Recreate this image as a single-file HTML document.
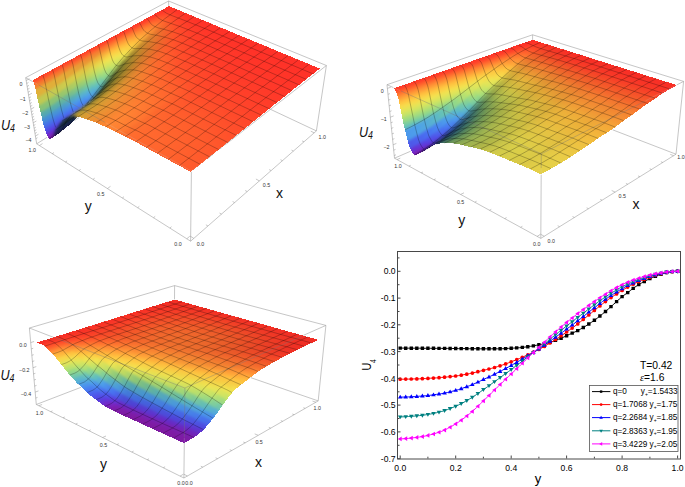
<!DOCTYPE html><html><head><meta charset="utf-8"><style>
html,body{margin:0;padding:0;background:#fff}
svg{display:block}
text{font-family:"Liberation Sans",sans-serif}
</style></head><body>
<svg width="685" height="487" viewBox="0 0 685 487">
<defs><filter id="bl" x="-5%" y="-5%" width="110%" height="110%" color-interpolation-filters="sRGB"><feGaussianBlur stdDeviation="1.4"/><feComponentTransfer><feFuncA type="linear" slope="50"/></feComponentTransfer><feComposite operator="in" in2="SourceAlpha"/><feGaussianBlur stdDeviation="0.5"/></filter></defs>
<g filter="url(#bl)"><g transform="scale(.1)" shape-rendering="crispEdges"><path fill="#ff3128" d="M1659 84l36-20-5-2-37 19z"/><path fill="#ff3128" d="M1664 86l36-20-5-2-36 20z"/><path fill="#ff3128" d="M1669 89l36-21-5-2-36 20z"/><path fill="#ff3228" d="M1674 92l36-22-5-2-36 21z"/><path fill="#ff3228" d="M1679 94l36-22-5-2-36 22z"/><path fill="#ff3328" d="M1684 97l37-23-6-2-36 22z"/><path fill="#ff3328" d="M1690 100l36-24-5-2-37 23z"/><path fill="#ff3428" d="M1695 103l36-24-5-3-36 24z"/><path fill="#ff3428" d="M1700 105l36-24-5-2-36 24z"/><path fill="#ff3528" d="M1705 108l36-25-5-2-36 24z"/><path fill="#ff3128" d="M1622 104l37-20-6-3-36 20z"/><path fill="#ff3528" d="M1710 110l36-25-5-2-36 25z"/><path fill="#ff3128" d="M1627 106l37-20-5-2-37 20z"/><path fill="#ff3528" d="M1715 112l37-25-6-2-36 25z"/><path fill="#ff3228" d="M1632 109l37-20-5-3-37 20z"/><path fill="#ff3528" d="M1721 115l36-26-5-2-37 25z"/><path fill="#ff3428" d="M1637 113l37-21-5-3-37 20z"/><path fill="#ff3528" d="M1726 117l36-26-5-2-36 26z"/><path fill="#ff3629" d="M1643 117l36-23-5-2-37 21z"/><path fill="#ff3528" d="M1731 119l36-25-5-3-36 26z"/><path fill="#ff3829" d="M1648 121l36-24-5-3-36 23z"/><path fill="#ff3a29" d="M1653 124l37-24-6-3-36 24z"/><path fill="#ff3528" d="M1736 121l36-25-5-2-36 25z"/><path fill="#ff3b29" d="M1658 128l37-25-5-3-37 24z"/><path fill="#ff3d29" d="M1663 131l37-26-5-2-37 25z"/><path fill="#ff3e29" d="M1669 133l36-25-5-3-37 26z"/><path fill="#ff3528" d="M1757 130l36-26-21-8-36 25z"/><path fill="#ff3e29" d="M1674 136l36-26-5-2-36 25z"/><path fill="#ff3128" d="M1585 124l37-20-5-3-37 20z"/><path fill="#ff3f29" d="M1679 139l36-27-5-2-36 26z"/><path fill="#ff3228" d="M1590 127l37-21-5-2-37 20z"/><path fill="#ff3f29" d="M1684 141l37-26-6-3-36 27z"/><path fill="#ff3328" d="M1595 131l37-22-5-3-37 21z"/><path fill="#ff3f29" d="M1689 143l37-26-5-2-37 26z"/><path fill="#ff3528" d="M1778 138l36-25-21-9-36 26z"/><path fill="#ff3729" d="M1600 136l37-23-5-4-37 22z"/><path fill="#ff3b29" d="M1606 141l37-24-6-4-37 23z"/><path fill="#ff4029" d="M1695 146l36-27-5-2-37 26z"/><path fill="#ff3e29" d="M1611 145l37-24-5-4-37 24z"/><path fill="#ff4029" d="M1700 148l36-27-5-2-36 27z"/><path fill="#ff412a" d="M1616 150l37-26-5-3-37 24z"/><path fill="#ff442a" d="M1621 154l37-26-5-4-37 26z"/><path fill="#ff462a" d="M1627 157l36-26-5-3-37 26z"/><path fill="#ff3528" d="M1799 147l36-25-21-9-36 25z"/><path fill="#ff482a" d="M1632 160l37-27-6-2-36 26z"/><path fill="#ff4029" d="M1721 157l36-27-21-9-36 27z"/><path fill="#ff492a" d="M1637 163l37-27-5-3-37 27z"/><path fill="#ff4a2a" d="M1642 166l37-27-5-3-37 27z"/><path fill="#ff4b2a" d="M1647 169l37-28-5-2-37 27z"/><path fill="#ff3128" d="M1548 144l37-20-5-3-38 21z"/><path fill="#ff4b2a" d="M1653 171l36-28-5-2-37 28z"/><path fill="#ff3228" d="M1553 148l37-21-5-3-37 20z"/><path fill="#ff3428" d="M1820 155l36-24-21-9-36 25z"/><path fill="#ff3f29" d="M1742 165l36-27-21-8-36 27z"/><path fill="#ff3528" d="M1558 152l37-21-5-4-37 21z"/><path fill="#ff4c2b" d="M1658 174l37-28-6-3-36 28z"/><path fill="#ff3a29" d="M1563 159l37-23-5-5-37 21z"/><path fill="#ff4029" d="M1568 165l38-24-6-5-37 23z"/><path fill="#ff4c2b" d="M1663 176l37-28-5-2-37 28z"/><path fill="#ff452a" d="M1574 170l37-25-5-4-38 24z"/><path fill="#ff4a2a" d="M1579 176l37-26-5-5-37 25z"/><path fill="#ff4e2b" d="M1584 180l37-26-5-4-37 26z"/><path fill="#ff512b" d="M1589 184l38-27-6-3-37 26z"/><path fill="#ff3428" d="M1842 164l36-25-22-8-36 24z"/><path fill="#ff542b" d="M1595 188l37-28-5-3-38 27z"/><path fill="#ff4c2b" d="M1684 184l37-27-21-9-37 28z"/><path fill="#ff3e29" d="M1763 173l36-26-21-9-36 27z"/><path fill="#ff562b" d="M1600 192l37-29-5-3-37 28z"/><path fill="#ff572c" d="M1605 194l37-28-5-3-37 29z"/><path fill="#ff582c" d="M1610 197l37-28-5-3-37 28z"/><path fill="#ff592c" d="M1616 200l37-29-6-2-37 28z"/><path fill="#ff3428" d="M1863 172l36-24-21-9-36 25z"/><path fill="#ff3128" d="M1510 165l38-21-6-2-37 20z"/><path fill="#ff4b2a" d="M1705 192l37-27-21-8-37 27z"/><path fill="#ff3d29" d="M1784 180l36-25-21-8-36 26z"/><path fill="#ff592c" d="M1621 203l37-29-5-3-37 29z"/><path fill="#ff3328" d="M1515 169l38-21-5-4-38 21z"/><path fill="#ff5a2c" d="M1626 205l37-29-5-2-37 29z"/><path fill="#ff3729" d="M1520 174l38-22-5-4-38 21z"/><path fill="#ff3d29" d="M1526 182l37-23-5-7-38 22z"/><path fill="#ff452a" d="M1531 190l37-25-5-6-37 23z"/><path fill="#ff4d2b" d="M1536 197l38-27-6-5-37 25z"/><path fill="#ff542b" d="M1542 203l37-27-5-6-38 27z"/><path fill="#ff592c" d="M1547 209l37-29-5-4-37 27z"/><path fill="#ff5e2c" d="M1552 213l37-29-5-4-37 29z"/><path fill="#ff612d" d="M1557 218l38-30-6-4-37 29z"/><path fill="#ff592c" d="M1647 214l37-30-21-8-37 29z"/><path fill="#ff3328" d="M1884 181l36-24-21-9-36 24z"/><path fill="#ff482a" d="M1726 199l37-26-21-8-37 27z"/><path fill="#ff3b29" d="M1805 189l37-25-22-9-36 25z"/><path fill="#ff632d" d="M1563 221l37-29-5-4-38 30z"/><path fill="#ff652d" d="M1568 224l37-30-5-2-37 29z"/><path fill="#ff662e" d="M1573 228l37-31-5-3-37 30z"/><path fill="#ff672e" d="M1578 230l38-30-6-3-37 31z"/><path fill="#ff682e" d="M1583 233l38-30-5-3-38 30z"/><path fill="#ff572c" d="M1668 221l37-29-21-8-37 30z"/><path fill="#ff3328" d="M1906 189l36-23-22-9-36 24z"/><path fill="#ff3a29" d="M1827 197l36-25-21-8-37 25z"/><path fill="#ff462a" d="M1747 207l37-27-21-7-37 26z"/><path fill="#ff682e" d="M1589 236l37-31-5-2-38 30z"/><path fill="#ff3128" d="M1472 186l38-21-5-3-38 21z"/><path fill="#ff3428" d="M1477 191l38-22-5-4-38 21z"/><path fill="#ff562b" d="M1498 223l38-26-5-7-38 25z"/><path fill="#ff5e2c" d="M1504 231l38-28-6-6-38 26z"/><path fill="#ff4c2b" d="M1493 215l38-25-5-8-38 24z"/><path fill="#ff652d" d="M1509 238l38-29-5-6-38 28z"/><path fill="#ff3829" d="M1482 197l38-23-5-5-38 22z"/><path fill="#ff412a" d="M1488 206l38-24-6-8-38 23z"/><path fill="#ff6a2e" d="M1514 243l38-30-5-4-38 29z"/><path fill="#ff682e" d="M1610 244l37-30-21-9-37 31z"/><path fill="#ff6e2f" d="M1520 248l37-30-5-5-38 30z"/><path fill="#ff3328" d="M1928 198l36-23-22-9-36 23z"/><path fill="#ff7130" d="M1525 252l38-31-6-3-37 30z"/><path fill="#ff532b" d="M1689 227l37-28-21-7-37 29z"/><path fill="#ff3929" d="M1848 205l36-24-21-9-36 25z"/><path fill="#ff7330" d="M1530 255l38-31-5-3-38 31z"/><path fill="#ff442a" d="M1768 214l37-25-21-9-37 27z"/><path fill="#ff7530" d="M1535 259l38-31-5-4-38 31z"/><path fill="#ff7630" d="M1541 262l37-32-5-2-38 31z"/><path fill="#ff7731" d="M1546 265l37-32-5-3-37 32z"/><path fill="#ff642d" d="M1631 251l37-30-21-7-37 30z"/><path fill="#ff3228" d="M1949 207l36-23-21-9-36 23z"/><path fill="#ff7731" d="M1551 267l38-31-6-3-37 32z"/><path fill="#ff4f2a" d="M1710 234l37-27-21-8-37 28z"/><path fill="#ff3829" d="M1870 213l36-24-22-8-36 24z"/><path fill="#ff422a" d="M1790 222l37-25-22-8-37 25z"/><path fill="#ff7030" d="M1471 267l38-29-5-7-38 28z"/><path fill="#ff682e" d="M1466 259l38-28-6-8-38 27z"/><path fill="#ff7731" d="M1476 273l38-30-5-5-38 29z"/><path fill="#ff5f2c" d="M1460 250l38-27-5-8-38 26z"/><path fill="#ff3128" d="M1433 207l39-21-5-3-39 21z"/><path fill="#ff7731" d="M1572 276l38-32-21-8-38 31z"/><path fill="#ff7c32" d="M1482 278l38-30-6-5-38 30z"/><path fill="#ff522b" d="M1455 241l38-26-5-9-39 24z"/><path fill="#ff3428" d="M1439 212l38-21-5-5-39 21z"/><path fill="#ff452a" d="M1449 230l39-24-6-9-38 22z"/><path fill="#ff7f32" d="M1487 283l38-31-5-4-38 30z"/><path fill="#ff3a29" d="M1444 219l38-22-5-6-38 21z"/><path fill="#ff3228" d="M1971 216l36-23-22-9-36 23z"/><path fill="#f95e2b" d="M1652 257l37-30-21-6-37 30z"/><path fill="#ff8233" d="M1492 287l38-32-5-3-38 31z"/><path fill="#ff3729" d="M1891 222l37-24-22-9-36 24z"/><path fill="#ff8433" d="M1498 290l37-31-5-4-38 32z"/><path fill="#ff4d2a" d="M1731 241l37-27-21-7-37 27z"/><path fill="#ff4029" d="M1811 230l37-25-21-8-37 25z"/><path fill="#ff8533" d="M1503 294l38-32-6-3-37 31z"/><path fill="#ff8733" d="M1508 297l38-32-5-3-38 32z"/><path fill="#fa702e" d="M1593 282l38-31-21-7-38 32z"/><path fill="#ff8734" d="M1513 299l38-32-5-2-38 32z"/><path fill="#ff3228" d="M1993 225l36-23-22-9-36 23z"/><path fill="#fa5a2a" d="M1673 263l37-29-21-7-37 30z"/><path fill="#ff3729" d="M1913 230l36-23-21-9-37 24z"/><path fill="#ff4a2a" d="M1753 248l37-26-22-8-37 27z"/><path fill="#ff3e29" d="M1833 238l37-25-22-8-37 25z"/><path fill="#ff8734" d="M1534 308l38-32-21-9-38 32z"/><path fill="#ff7c32" d="M1433 296l38-29-5-8-39 29z"/><path fill="#ff8433" d="M1438 303l38-30-5-6-38 29z"/><path fill="#ff7230" d="M1427 288l39-29-6-9-38 28z"/><path fill="#ff8934" d="M1444 309l38-31-6-5-38 30z"/><path fill="#ff672e" d="M1422 278l38-28-5-9-39 26z"/><path fill="#ff8c35" d="M1449 314l38-31-5-5-38 31z"/><path fill="#ff592c" d="M1416 267l39-26-6-11-38 25z"/><path fill="#ff8f35" d="M1454 318l38-31-5-4-38 31z"/><path fill="#f3682c" d="M1614 287l38-30-21-6-38 31z"/><path fill="#ff3228" d="M1394 228l39-21-5-3-39 21z"/><path fill="#ff9035" d="M1459 322l39-32-6-3-38 31z"/><path fill="#ff492a" d="M1411 255l38-25-5-11-39 23z"/><path fill="#ff3528" d="M1400 234l39-22-6-5-39 21z"/><path fill="#ff3c29" d="M1405 242l39-23-5-7-39 22z"/><path fill="#ff3628" d="M1935 239l36-23-22-9-36 23z"/><path fill="#ff9236" d="M1465 326l38-32-5-4-39 32z"/><path fill="#ff572b" d="M1694 269l37-28-21-7-37 29z"/><path fill="#ff3d29" d="M1855 246l36-24-21-9-37 25z"/><path fill="#ff482a" d="M1774 256l37-26-21-8-37 26z"/><path fill="#ff9336" d="M1470 329l38-32-5-3-38 32z"/><path fill="#ff3228" d="M2037 243l36-23-44-18-36 23z"/><path fill="#f57c30" d="M1555 313l38-31-21-6-38 32z"/><path fill="#ff9336" d="M1475 332l38-33-5-2-38 32z"/><path fill="#f3632b" d="M1635 292l38-29-21-6-38 30z"/><path fill="#ff3528" d="M1957 248l36-23-22-9-36 23z"/><path fill="#ff9336" d="M1496 340l38-32-21-9-38 33z"/><path fill="#ff532b" d="M1715 276l38-28-22-7-37 28z"/><path fill="#ff3b29" d="M1876 255l37-25-22-8-36 24z"/><path fill="#ff452a" d="M1796 263l37-25-22-8-37 26z"/><path fill="#ff8f35" d="M1400 335l38-32-5-7-39 31z"/><path fill="#ff9436" d="M1405 341l39-32-6-6-38 32z"/><path fill="#ff8834" d="M1394 327l39-31-6-8-38 29z"/><path fill="#ff9837" d="M1410 347l39-33-5-5-39 32z"/><path fill="#ff7d32" d="M1389 317l38-29-5-10-39 28z"/><path fill="#ff9b37" d="M1416 351l38-33-5-4-39 33z"/><path fill="#ff6f2f" d="M1383 306l39-28-6-11-38 27z"/><path fill="#ec722d" d="M1576 317l38-30-21-5-38 31z"/><path fill="#ff9c38" d="M1421 355l38-33-5-4-38 33z"/><path fill="#ff602d" d="M1378 294l38-27-5-12-39 25z"/><path fill="#ff9e38" d="M1426 359l39-33-6-4-38 33z"/><path fill="#f9602b" d="M1656 298l38-29-21-6-38 29z"/><path fill="#ff9f38" d="M1431 363l39-34-5-3-39 33z"/><path fill="#ff4d2b" d="M1372 280l39-25-6-13-39 23z"/><path fill="#ff3228" d="M1355 250l39-22-5-3-39 21z"/><path fill="#ff3a29" d="M1898 263l37-24-22-9-37 25z"/><path fill="#ff3629" d="M1361 256l39-22-6-6-39 22z"/><path fill="#ef8531" d="M1517 345l38-32-21-5-38 32z"/><path fill="#ff3e29" d="M1366 265l39-23-5-8-39 22z"/><path fill="#ffa038" d="M1437 366l38-34-5-3-39 34z"/><path fill="#ff4f2a" d="M1737 283l37-27-21-8-38 28z"/><path fill="#ff3228" d="M2081 261l36-23-44-18-36 23z"/><path fill="#ff432a" d="M1818 271l37-25-22-8-37 25z"/><path fill="#ff3528" d="M2001 266l36-23-44-18-36 23z"/><path fill="#ec6b2c" d="M1597 321l38-29-21-5-38 30z"/><path fill="#ff9f38" d="M1458 373l38-33-21-8-38 34z"/><path fill="#ffa038" d="M1366 375l39-34-5-6-39 33z"/><path fill="#ff9a37" d="M1361 368l39-33-6-8-39 32z"/><path fill="#ffa539" d="M1372 381l38-34-5-6-39 34z"/><path fill="#fa5c2b" d="M1678 304l37-28-21-7-38 29z"/><path fill="#ff9236" d="M1355 359l39-32-5-10-39 31z"/><path fill="#ff3929" d="M1920 272l37-24-22-9-37 24z"/><path fill="#ffa83a" d="M1377 386l39-35-6-4-38 34z"/><path fill="#ff4c2a" d="M1759 290l37-27-22-7-37 27z"/><path fill="#ff412a" d="M1839 279l37-24-21-9-37 25z"/><path fill="#ff8834" d="M1350 348l39-31-6-11-39 29z"/><path fill="#ffaa3a" d="M1382 390l39-35-5-4-39 35z"/><path fill="#e4792e" d="M1538 348l38-31-21-4-38 32z"/><path fill="#ffac3b" d="M1388 394l38-35-5-4-39 35z"/><path fill="#ff7931" d="M1344 335l39-29-5-12-40 27z"/><path fill="#ffae3b" d="M1393 398l38-35-5-4-38 35z"/><path fill="#ff672e" d="M1338 321l40-27-6-14-39 25z"/><path fill="#ffaf3b" d="M1398 401l39-35-6-3-38 35z"/><path fill="#f3682c" d="M1618 327l38-29-21-6-38 29z"/><path fill="#e98c32" d="M1478 378l39-33-21-5-38 33z"/><path fill="#ff522b" d="M1333 305l39-25-6-15-39 24z"/><path fill="#ff3128" d="M2126 280l36-23-45-19-36 23z"/><path fill="#fb582a" d="M1699 310l38-27-22-7-37 28z"/><path fill="#ff3f29" d="M1861 288l37-25-22-8-37 24z"/><path fill="#ff3228" d="M1316 272l39-22-5-4-40 22z"/><path fill="#ff4a2a" d="M1780 297l38-26-22-8-37 27z"/><path fill="#ff412a" d="M1327 289l39-24-5-9-40 23z"/><path fill="#ff3729" d="M1321 279l40-23-6-6-39 22z"/><path fill="#ff3428" d="M2045 284l36-23-44-18-36 23z"/><path fill="#feab3a" d="M1419 409l39-36-21-7-39 35z"/><path fill="#e4732d" d="M1559 352l38-31-21-4-38 31z"/><path fill="#ff3829" d="M1964 289l37-23-44-18-37 24z"/><path fill="#ffae3b" d="M1327 411l39-36-5-7-39 34z"/><path fill="#ffb33c" d="M1333 418l39-37-6-6-39 36z"/><path fill="#ffa73a" d="M1322 402l39-34-6-9-39 34z"/><path fill="#ffb73d" d="M1338 423l39-37-5-5-39 37z"/><path fill="#ff9e38" d="M1316 393l39-34-5-11-39 32z"/><path fill="#ffba3d" d="M1343 427l39-37-5-4-39 37z"/><path fill="#f4642c" d="M1640 332l38-28-22-6-38 29z"/><path fill="#ffbc3e" d="M1349 432l39-38-6-4-39 37z"/><path fill="#ff9236" d="M1311 380l39-32-6-13-39 31z"/><path fill="#dc7f2e" d="M1499 380l39-32-21-3-39 33z"/><path fill="#ffbe3e" d="M1354 435l39-37-5-4-39 38z"/><path fill="#fd542a" d="M1721 317l38-27-22-7-38 27z"/><path fill="#ff3e29" d="M1883 296l37-24-22-9-37 25z"/><path fill="#ff472a" d="M1802 305l37-26-21-8-38 26z"/><path fill="#ff8433" d="M1305 366l39-31-6-14-39 29z"/><path fill="#ffbf3e" d="M1359 439l39-38-5-3-39 37z"/><path fill="#e19433" d="M1440 412l38-34-20-5-39 36z"/><path fill="#ed702d" d="M1580 356l38-29-21-6-38 31z"/><path fill="#ff6f2f" d="M1299 350l39-29-5-16-40 27z"/><path fill="#ff3128" d="M2171 298l36-22-45-19-36 23z"/><path fill="#fab93c" d="M1380 446l39-37-21-8-39 38z"/><path fill="#f55f2b" d="M1661 338l38-28-21-6-38 28z"/><path fill="#ff582c" d="M1293 332l40-27-6-16-40 24z"/><path fill="#ffc33f" d="M1294 456l39-38-6-7-39 37z"/><path fill="#ffbe3e" d="M1288 448l39-37-5-9-39 37z"/><path fill="#ff3428" d="M2090 303l36-23-45-19-36 23z"/><path fill="#ff502a" d="M1743 324l37-27-21-7-38 27z"/><path fill="#ffc641" d="M1299 461l39-38-5-5-39 38z"/><path fill="#ff452a" d="M1824 313l37-25-22-9-37 26z"/><path fill="#ffb63c" d="M1283 439l39-37-6-9-39 35z"/><path fill="#dc782d" d="M1520 382l39-30-21-4-39 32z"/><path fill="#ffc741" d="M1304 466l39-39-5-4-39 38z"/><path fill="#ff3228" d="M1276 294l40-22-6-4-40 21z"/><path fill="#ff432a" d="M1287 313l40-24-6-10-40 23z"/><path fill="#ff3729" d="M2009 308l36-24-44-18-37 23z"/><path fill="#ffab3a" d="M1277 428l39-35-5-13-40 34z"/><path fill="#ff3829" d="M1281 302l40-23-5-7-40 22z"/><path fill="#fec942" d="M1310 471l39-39-6-5-39 39z"/><path fill="#ff3c29" d="M1927 313l37-24-44-17-37 24z"/><path fill="#feca43" d="M1315 475l39-40-5-3-39 39z"/><path fill="#ff9d38" d="M1271 414l40-34-6-14-40 32z"/><path fill="#d2842e" d="M1461 414l38-34-21-2-38 34z"/><path fill="#fdcb43" d="M1320 478l39-39-5-4-39 40z"/><path fill="#ef6b2c" d="M1601 361l39-29-22-5-38 29z"/><path fill="#d99c33" d="M1401 449l39-37-21-3-39 37z"/><path fill="#f75b2a" d="M1683 344l38-27-22-7-38 28z"/><path fill="#ff8e35" d="M1265 398l40-32-6-16-40 30z"/><path fill="#ff432a" d="M1846 321l37-25-22-8-37 25z"/><path fill="#ff4d2a" d="M1764 331l38-26-22-8-37 27z"/><path fill="#f3c240" d="M1341 486l39-40-21-7-39 39z"/><path fill="#e7782e" d="M1541 386l39-30-21-4-39 30z"/><path fill="#ff7831" d="M1259 380l40-30-6-18-40 27z"/><path fill="#fcce45" d="M1254 495l40-39-6-8-39 39z"/><path fill="#fbd046" d="M1260 501l39-40-5-5-40 39z"/><path fill="#fec942" d="M1249 487l39-39-5-9-40 38z"/><path fill="#fad247" d="M1265 507l39-41-5-5-39 40z"/><path fill="#ffc440" d="M1243 477l40-38-6-11-40 37z"/><path fill="#ff3128" d="M2217 317l36-23-46-18-36 22z"/><path fill="#fad448" d="M1270 512l40-41-6-5-39 41z"/><path fill="#f0652b" d="M1623 366l38-28-21-6-39 29z"/><path fill="#f9d548" d="M1276 516l39-41-5-4-40 41z"/><path fill="#d27c2d" d="M1481 415l39-33-21-2-38 34z"/><path fill="#ffb93d" d="M1237 465l40-37-6-14-40 35z"/><path fill="#ff3328" d="M2136 321l35-23-45-18-36 23z"/><path fill="#ff5e2c" d="M1253 359l40-27-6-19-40 24z"/><path fill="#fb572a" d="M1705 350l38-26-22-7-38 27z"/><path fill="#f9d649" d="M1281 520l39-42-5-3-39 41z"/><path fill="#ff4b2a" d="M1786 338l38-25-22-8-38 26z"/><path fill="#ff3628" d="M2054 326l36-23-45-19-36 24z"/><path fill="#c7882e" d="M1421 449l40-35-21-2-39 37z"/><path fill="#ffaa3a" d="M1231 449l40-35-6-16-40 33z"/><path fill="#ff462a" d="M1247 337l40-24-6-11-40 23z"/><path fill="#ff3a29" d="M1972 331l37-23-45-19-37 24z"/><path fill="#ff3228" d="M1235 316l41-22-6-5-40 22z"/><path fill="#cea135" d="M1362 487l39-38-21-3-39 40z"/><path fill="#ff3929" d="M1241 325l40-23-5-8-41 22z"/><path fill="#e9722d" d="M1563 390l38-29-21-5-39 30z"/><path fill="#ff4029" d="M1890 338l37-25-44-17-37 25z"/><path fill="#eccb45" d="M1302 527l39-41-21-8-39 42z"/><path fill="#ff9837" d="M1225 431l40-33-6-18-40 30z"/><path fill="#f2612b" d="M1644 371l39-27-22-6-38 28z"/><path fill="#f8d94a" d="M1215 536l39-41-5-8-40 40z"/><path fill="#f6dc4c" d="M1220 543l40-42-6-6-39 41z"/><path fill="#f5de4d" d="M1226 549l39-42-5-6-40 42z"/><path fill="#fad448" d="M1209 527l40-40-6-10-39 39z"/><path fill="#fe542a" d="M1726 357l38-26-21-7-38 26z"/><path fill="#f5e04e" d="M1231 554l39-42-5-5-39 42z"/><path fill="#ff482a" d="M1808 346l38-25-22-8-38 25z"/><path fill="#df7d2e" d="M1503 418l38-32-21-4-39 33z"/><path fill="#fcce45" d="M1204 516l39-39-6-12-39 38z"/><path fill="#f4e24f" d="M1236 559l40-43-6-4-39 42z"/><path fill="#ff8233" d="M1219 410l40-30-6-21-40 28z"/><path fill="#f4e34f" d="M1242 562l39-42-5-4-40 43z"/><path fill="#ffc641" d="M1198 503l39-38-6-16-39 36z"/><path fill="#ff3128" d="M2263 336l36-23-46-19-36 23z"/><path fill="#c7802c" d="M1442 449l39-34-20-1-40 35z"/><path fill="#ea6c2c" d="M1584 395l39-29-22-5-38 29z"/><path fill="#bb8c2e" d="M1382 486l39-37-20 0-39 38z"/><path fill="#ff3328" d="M2181 340l36-23-46-19-35 23z"/><path fill="#c1a237" d="M1322 527l40-40-21-1-39 41z"/><path fill="#ffb73d" d="M1192 485l39-36-6-18-40 34z"/><path fill="#f75d2b" d="M1666 377l39-27-22-6-39 27z"/><path fill="#ff642d" d="M1213 387l40-28-6-22-41 25z"/><path fill="#e3d349" d="M1262 569l40-42-21-7-39 42z"/><path fill="#ff3528" d="M2099 345l37-24-46-18-36 23z"/><path fill="#ff502a" d="M1748 364l38-26-22-7-38 26z"/><path fill="#eee452" d="M1181 586l39-43-5-7-40 43z"/><path fill="#f2e450" d="M1175 579l40-43-6-9-39 42z"/><path fill="#ebe454" d="M1186 593l40-44-6-6-39 43z"/><path fill="#ff3929" d="M2017 350l37-24-45-18-37 23z"/><path fill="#e2782d" d="M1524 421l39-31-22-4-38 32z"/><path fill="#e9e455" d="M1192 598l39-44-5-5-40 44z"/><path fill="#f5df4d" d="M1170 569l39-42-5-11-40 41z"/><path fill="#ff4a2a" d="M1206 362l41-25-6-12-41 23z"/><path fill="#ff3d29" d="M1935 356l37-25-45-18-37 25z"/><path fill="#e7e456" d="M1197 603l39-44-5-5-39 44z"/><path fill="#ffa239" d="M1185 465l40-34-6-21-40 31z"/><path fill="#ff3328" d="M1194 339l41-23-5-5-41 23z"/><path fill="#ff452a" d="M1853 363l37-25-44-17-38 25z"/><path fill="#ff3b29" d="M1200 348l41-23-6-9-41 23z"/><path fill="#f8d94a" d="M1164 557l40-41-6-13-40 39z"/><path fill="#e5e457" d="M1202 607l40-45-6-3-39 44z"/><path fill="#ed662b" d="M1606 400l38-29-21-5-39 29z"/><path fill="#d7822e" d="M1463 451l40-33-22-3-39 34z"/><path fill="#fbd045" d="M1158 542l40-39-6-18-41 37z"/><path fill="#fa5a2a" d="M1688 384l38-27-21-7-39 27z"/><path fill="#ff4d2a" d="M1770 372l38-26-22-8-38 26z"/><path fill="#bc832c" d="M1403 485l39-36-21 0-39 37z"/><path fill="#ff8b34" d="M1179 441l40-31-6-23-41 28z"/><path fill="#b4a338" d="M1283 569l39-42-20 0-40 42z"/><path fill="#ad8b2e" d="M1343 525l39-39-20 1-40 40z"/><path fill="#d3d14f" d="M1223 614l39-45-20-7-40 45z"/><path fill="#ff3128" d="M2309 356l36-23-46-20-36 23z"/><path fill="#dee45a" d="M1141 632l40-46-6-7-39 45z"/><path fill="#dbe45c" d="M1147 639l39-46-5-7-40 46z"/><path fill="#e3e458" d="M1136 624l39-45-5-10-40 44z"/><path fill="#e3722c" d="M1545 425l39-30-21-5-39 31z"/><path fill="#ffc440" d="M1151 522l41-37-7-20-40 35z"/><path fill="#d8e45d" d="M1152 645l40-47-6-5-39 46z"/><path fill="#d6e45e" d="M1157 650l40-47-5-5-40 47z"/><path fill="#ff3328" d="M2227 360l36-24-46-19-36 23z"/><path fill="#eae454" d="M1130 613l40-44-6-12-40 43z"/><path fill="#d4e45f" d="M1163 654l39-47-5-4-40 47z"/><path fill="#ff3528" d="M2145 364l36-24-45-19-37 24z"/><path fill="#f2632b" d="M1627 405l39-28-22-6-38 29z"/><path fill="#ff6a2e" d="M1172 415l41-28-7-25-41 26z"/><path fill="#f3e450" d="M1124 600l40-43-6-15-40 41z"/><path fill="#da7d2d" d="M1485 453l39-32-21-3-40 33z"/><path fill="#fc552a" d="M1710 391l38-27-22-7-38 27z"/><path fill="#ff3829" d="M2062 369l37-24-45-19-37 24z"/><path fill="#ffae3b" d="M1145 500l40-35-6-24-41 33z"/><path fill="#ff3c29" d="M1980 374l37-24-45-19-37 25z"/><path fill="#bfcd55" d="M1183 661l40-47-21-7-39 47z"/><path fill="#f7da4b" d="M1118 583l40-41-7-20-40 39z"/><path fill="#cd872e" d="M1424 486l39-35-21-2-39 36z"/><path fill="#a39e3a" d="M1243 612l40-43-21 0-39 45z"/><path fill="#ff4d2b" d="M1165 388l41-26-6-14-41 24z"/><path fill="#ff412a" d="M1897 381l38-25-45-18-37 25z"/><path fill="#cde463" d="M1101 680l40-48-5-8-40 48z"/><path fill="#c8e465" d="M1107 687l40-48-6-7-40 48z"/><path fill="#ff4a2a" d="M1815 388l38-25-45-17-38 26z"/><path fill="#c4e368" d="M1112 694l40-49-5-6-40 48z"/><path fill="#9e882e" d="M1303 564l40-39-21 2-39 42z"/><path fill="#d2e460" d="M1096 672l40-48-6-11-40 47z"/><path fill="#e76c2c" d="M1567 429l39-29-22-5-39 30z"/><path fill="#af852b" d="M1363 522l40-37-21 1-39 39z"/><path fill="#ff3328" d="M1153 362l41-23-5-5-41 22z"/><path fill="#ff3c29" d="M1159 372l41-24-6-9-41 23z"/><path fill="#c1e26a" d="M1118 700l39-50-5-5-40 49z"/><path fill="#bee26c" d="M1123 704l40-50-6-4-39 50z"/><path fill="#dae45c" d="M1090 660l40-47-6-13-40 45z"/><path fill="#f65f2b" d="M1649 411l39-27-22-7-39 28z"/><path fill="#ff9336" d="M1138 474l41-33-7-26-41 29z"/><path fill="#fdcd44" d="M1111 561l40-39-6-22-41 36z"/><path fill="#ff522a" d="M1732 398l38-26-22-8-38 27z"/><path fill="#ff3128" d="M2356 375l36-23-47-19-36 23z"/><path fill="#e4e457" d="M1084 645l40-45-6-17-41 44z"/><path fill="#dc772d" d="M1506 456l39-31-21-4-39 32z"/><path fill="#a8c65e" d="M1144 710l39-49-20-7-40 50z"/><path fill="#ff3228" d="M2274 379l35-23-46-20-36 24z"/><path fill="#adde76" d="M1067 739l40-52-6-7-39 51z"/><path fill="#b3e073" d="M1062 731l39-51-5-8-40 50z"/><path fill="#a9dd7a" d="M1073 746l39-52-5-7-40 52z"/><path fill="#a5dc7c" d="M1078 752l40-52-6-6-39 52z"/><path fill="#8f953c" d="M1203 657l40-45-20 2-40 47z"/><path fill="#bce16e" d="M1056 722l40-50-6-12-40 49z"/><path fill="#ff3428" d="M2191 383l36-23-46-20-36 24z"/><path fill="#d1812d" d="M1445 487l40-34-22-2-39 35z"/><path fill="#a2dc7e" d="M1084 757l39-53-5-4-40 52z"/><path fill="#f2e451" d="M1077 627l41-44-7-22-40 41z"/><path fill="#ed682c" d="M1588 434l39-29-21-5-39 29z"/><path fill="#ffbb3d" d="M1104 536l41-36-7-26-41 33z"/><path fill="#ff702f" d="M1131 444l41-29-7-27-41 26z"/><path fill="#8e842e" d="M1263 606l40-42-20 5-40 43z"/><path fill="#ff3729" d="M2108 388l37-24-46-19-37 24z"/><path fill="#c8e466" d="M1050 709l40-49-6-15-40 47z"/><path fill="#f85b2a" d="M1671 418l39-27-22-7-39 27z"/><path fill="#c28b2e" d="M1384 521l40-35-21-1-40 37z"/><path fill="#9f822b" d="M1323 560l40-38-20 3-40 39z"/><path fill="#ff3a29" d="M2025 393l37-24-45-19-37 24z"/><path fill="#ff3f29" d="M1942 399l38-25-45-18-38 25z"/><path fill="#8bbc6a" d="M1104 762l40-52-21-6-39 53z"/><path fill="#d4e45f" d="M1044 692l40-47-7-18-40 46z"/><path fill="#e0732c" d="M1527 459l40-30-22-4-39 31z"/><path fill="#8cd58f" d="M1033 799l40-53-6-7-40 52z"/><path fill="#91d78a" d="M1027 791l40-52-5-8-40 51z"/><path fill="#ff462a" d="M1859 406l38-25-44-18-38 25z"/><path fill="#ff512b" d="M1124 414l41-26-6-16-41 24z"/><path fill="#f8d749" d="M1071 602l40-41-7-25-41 38z"/><path fill="#88d393" d="M1038 805l40-53-5-6-40 53z"/><path fill="#98da84" d="M1022 782l40-51-6-9-40 51z"/><path fill="#ff4e2a" d="M1776 414l39-26-45-16-38 26z"/><path fill="#85d196" d="M1044 810l40-53-6-5-40 53z"/><path fill="#a1dc7e" d="M1016 773l40-51-6-13-40 49z"/><path fill="#fe9a37" d="M1097 507l41-33-7-30-41 30z"/><path fill="#798a3d" d="M1163 705l40-48-20 4-39 49z"/><path fill="#ff3d29" d="M1118 396l41-24-6-10-41 23z"/><path fill="#ff3328" d="M1112 385l41-23-5-6-42 23z"/><path fill="#f1642b" d="M1610 439l39-28-22-6-39 29z"/><path fill="#d37b2c" d="M1466 488l40-32-21-3-40 34z"/><path fill="#ff3128" d="M2403 395l36-24-47-19-36 23z"/><path fill="#aede76" d="M1010 758l40-49-6-17-41 48z"/><path fill="#e3e458" d="M1037 673l40-46-6-25-41 43z"/><path fill="#fb572a" d="M1693 424l39-26-22-7-39 27z"/><path fill="#7b792e" d="M1223 649l40-43-20 6-40 45z"/><path fill="#71b07c" d="M1064 815l40-53-20-5-40 53z"/><path fill="#ff3228" d="M2321 399l35-24-47-19-35 23z"/><path fill="#c7852d" d="M1405 521l40-34-21-1-40 35z"/><path fill="#71c7ac" d="M993 851l40-52-6-8-40 52z"/><path fill="#fcc340" d="M1063 574l41-38-7-29-41 35z"/><path fill="#6cc5b1" d="M999 858l39-53-5-6-40 52z"/><path fill="#77caa6" d="M987 843l40-52-5-9-40 51z"/><path fill="#7dcd9f" d="M982 833l40-51-6-9-40 50z"/><path fill="#69c3b4" d="M1004 863l40-53-6-5-39 53z"/><path fill="#bfe26b" d="M1003 740l41-48-7-19-40 46z"/><path fill="#ff3428" d="M2238 403l36-24-47-19-36 23z"/><path fill="#907d2b" d="M1283 600l40-40-20 4-40 42z"/><path fill="#b78d2e" d="M1344 558l40-37-21 1-40 38z"/><path fill="#e86f2c" d="M1549 463l39-29-21-5-40 30z"/><path fill="#87d294" d="M976 823l40-50-6-15-40 50z"/><path fill="#617c42" d="M1123 756l40-51-19 5-40 52z"/><path fill="#fd7530" d="M1090 474l41-30-7-30-42 26z"/><path fill="#ff3628" d="M2155 407l36-24-46-19-37 24z"/><path fill="#f2e04e" d="M1030 645l41-43-8-28-40 40z"/><path fill="#f4602b" d="M1632 445l39-27-22-7-39 28z"/><path fill="#ff3929" d="M2071 412l37-24-46-19-37 24z"/><path fill="#95d986" d="M970 808l40-50-7-18-40 48z"/><path fill="#58a293" d="M1024 868l40-53-20-5-40 53z"/><path fill="#d8772c" d="M1488 491l39-32-21-3-40 32z"/><path fill="#ff3d29" d="M1988 418l37-25-45-19-38 25z"/><path fill="#d2e35f" d="M997 719l40-46-7-28-41 44z"/><path fill="#5db9c6" d="M953 903l40-52-6-8-40 52z"/><path fill="#5bb5cb" d="M958 911l41-53-6-7-40 52z"/><path fill="#5fbcc1" d="M947 895l40-52-5-10-41 52z"/><path fill="#59b3ce" d="M964 916l40-53-5-5-41 53z"/><path fill="#ff432a" d="M1905 424l37-25-45-18-38 25z"/><path fill="#666d2d" d="M1183 695l40-46-20 8-40 48z"/><path fill="#63c1ba" d="M941 885l41-52-6-10-40 51z"/><path fill="#f9a138" d="M1056 542l41-35-7-33-42 32z"/><path fill="#ff4a2a" d="M1821 431l38-25-44-18-39 26z"/><path fill="#ff552b" d="M1082 440l42-26-6-18-42 25z"/><path fill="#ff532b" d="M1738 440l38-26-44-16-39 26z"/><path fill="#a8dd7a" d="M963 788l40-48-6-21-41 46z"/><path fill="#c97e2c" d="M1426 522l40-34-21-1-40 34z"/><path fill="#4b6e46" d="M1083 807l40-51-19 6-40 53z"/><path fill="#6ec6af" d="M936 874l40-51-6-15-41 50z"/><path fill="#ec6a2c" d="M1571 468l39-29-22-5-39 29z"/><path fill="#ff3128" d="M2451 415l35-24-47-20-36 24z"/><path fill="#ff3f29" d="M1076 421l42-25-6-11-42 23z"/><path fill="#ff3428" d="M1070 408l42-23-6-6-42 23z"/><path fill="#81782a" d="M1243 641l40-41-20 6-40 43z"/><path fill="#f4c843" d="M1023 614l40-40-7-32-41 37z"/><path fill="#bc882d" d="M1365 557l40-36-21 0-40 37z"/><path fill="#f75c2b" d="M1654 452l39-28-22-6-39 27z"/><path fill="#4992a5" d="M984 921l40-53-20-5-40 53z"/><path fill="#a98a2e" d="M1304 597l40-39-21 2-40 40z"/><path fill="#ff3228" d="M2368 418l35-23-47-20-35 24z"/><path fill="#7dcd9f" d="M929 858l41-50-7-20-41 49z"/><path fill="#50a5e3" d="M918 963l40-52-5-8-41 52z"/><path fill="#52a8de" d="M912 955l41-52-6-8-40 51z"/><path fill="#e3df53" d="M989 689l41-44-7-31-42 41z"/><path fill="#4fa3e6" d="M923 968l41-52-6-5-40 52z"/><path fill="#55acd8" d="M907 946l40-51-6-10-40 51z"/><path fill="#ff3328" d="M2285 422l36-23-47-20-36 24z"/><path fill="#e1752d" d="M1509 494l40-31-22-4-39 32z"/><path fill="#58b1d1" d="M901 936l40-51-5-11-41 50z"/><path fill="#52602d" d="M1143 744l40-49-20 10-40 51z"/><path fill="#bdde68" d="M956 765l41-46-8-30-41 43z"/><path fill="#385f4d" d="M1043 858l40-51-19 8-40 53z"/><path fill="#ff3528" d="M2201 427l37-24-47-20-36 24z"/><path fill="#f97b30" d="M1048 506l42-32-8-34-42 28z"/><path fill="#5db8c7" d="M895 924l41-50-7-16-41 49z"/><path fill="#91d78a" d="M922 837l41-49-7-23-41 46z"/><path fill="#ef652b" d="M1593 474l39-29-22-6-39 29z"/><path fill="#ff3829" d="M2118 431l37-24-47-19-37 24z"/><path fill="#4083b7" d="M943 973l41-52-20-5-41 52z"/><path fill="#cf7a2c" d="M1448 523l40-32-22-3-40 34z"/><path fill="#ff3c29" d="M2034 437l37-25-46-19-37 25z"/><path fill="#f5a939" d="M1015 579l41-37-8-36-42 32z"/><path fill="#6d6c29" d="M1203 685l40-44-20 8-40 46z"/><path fill="#4b91ed" d="M877 1013l41-50-6-8-40 50z"/><path fill="#66c2b7" d="M888 907l41-49-7-21-41 47z"/><path fill="#4c96ec" d="M872 1005l40-50-5-9-41 50z"/><path fill="#4b8eee" d="M883 1019l40-51-5-5-41 50z"/><path fill="#ff4029" d="M1950 443l38-25-46-19-37 25z"/><path fill="#be812c" d="M1386 556l40-34-21-1-40 36z"/><path fill="#4d9ceb" d="M866 996l41-50-6-10-41 49z"/><path fill="#ff462a" d="M1866 449l39-25-46-18-38 25z"/><path fill="#edce46" d="M981 655l42-41-8-35-42 36z"/><path fill="#4fa2e7" d="M860 985l41-49-6-12-41 49z"/><path fill="#9b872e" d="M1264 637l40-40-21 3-40 41z"/><path fill="#b0892d" d="M1325 594l40-37-21 1-40 39z"/><path fill="#3e522d" d="M1102 792l41-48-20 12-40 51z"/><path fill="#ff4e2b" d="M1782 457l39-26-45-17-38 26z"/><path fill="#ff5a2c" d="M1040 468l42-28-6-19-43 25z"/><path fill="#fe582b" d="M1699 466l39-26-45-16-39 28z"/><path fill="#295152" d="M1003 909l40-51-19 10-40 53z"/><path fill="#e7702c" d="M1531 498l40-30-22-5-40 31z"/><path fill="#d3dc58" d="M948 732l41-43-8-34-41 40z"/><path fill="#ff3128" d="M2499 435l35-24-48-20-35 24z"/><path fill="#a7d774" d="M915 811l41-46-8-33-41 44z"/><path fill="#53aadc" d="M854 973l41-49-7-17-41 47z"/><path fill="#ff3228" d="M2416 438l35-23-48-20-35 23z"/><path fill="#3b72bc" d="M902 1023l41-50-20-5-40 51z"/><path fill="#ff412a" d="M1033 446l43-25-6-13-43 24z"/><path fill="#f3612b" d="M1615 480l39-28-22-7-39 29z"/><path fill="#7bcca1" d="M881 884l41-47-7-26-41 46z"/><path fill="#ff3428" d="M1027 432l43-24-6-6-42 23z"/><path fill="#ff3328" d="M2332 442l36-24-47-19-36 23z"/><path fill="#d9792d" d="M1469 526l40-32-21-3-40 32z"/><path fill="#487df1" d="M836 1063l41-50-5-8-41 50z"/><path fill="#487af2" d="M842 1069l41-50-6-6-41 50z"/><path fill="#4982f0" d="M831 1055l41-50-6-9-41 49z"/><path fill="#596028" d="M1162 731l41-46-20 10-40 49z"/><path fill="#5ab5cc" d="M847 954l41-47-7-23-41 47z"/><path fill="#4a89ef" d="M825 1045l41-49-6-11-41 49z"/><path fill="#ff3528" d="M2248 447l37-25-47-19-37 24z"/><path fill="#f68131" d="M1006 538l42-32-8-38-42 27z"/><path fill="#214354" d="M962 960l41-51-19 12-41 52z"/><path fill="#2e452d" d="M1062 841l40-49-19 15-40 51z"/><path fill="#4b90ed" d="M819 1034l41-49-6-12-42 48z"/><path fill="#c57d2c" d="M1407 557l41-34-22-1-40 34z"/><path fill="#ff3729" d="M2164 451l37-24-46-20-37 24z"/><path fill="#ea6b2c" d="M1553 503l40-29-22-6-40 30z"/><path fill="#f1b23a" d="M973 615l42-36-9-41-42 32z"/><path fill="#8c832e" d="M1223 679l41-42-21 4-40 44z"/><path fill="#ff3a29" d="M2080 456l38-25-47-19-37 25z"/><path fill="#b3832b" d="M1346 592l40-36-21 1-40 37z"/><path fill="#e6d54a" d="M940 695l41-40-8-40-42 37z"/><path fill="#4c9beb" d="M812 1021l42-48-7-19-41 47z"/><path fill="#3961bd" d="M861 1073l41-50-19-4-41 50z"/><path fill="#c4d95e" d="M907 776l41-44-8-37-42 41z"/><path fill="#91d17f" d="M874 857l41-46-8-35-42 44z"/><path fill="#a2862d" d="M1284 633l41-39-21 3-40 40z"/><path fill="#ff3e29" d="M1996 462l38-25-46-19-38 25z"/><path fill="#66c2b6" d="M840 931l41-47-7-27-42 45z"/><path fill="#ff432a" d="M1912 468l38-25-45-19-39 25z"/><path fill="#4a6aef" d="M795 1111l41-48-5-8-42 48z"/><path fill="#e0762d" d="M1491 529l40-31-22-4-40 32z"/><path fill="#4b66ee" d="M800 1117l42-48-6-6-41 48z"/><path fill="#4970f1" d="M789 1103l42-48-6-10-42 47z"/><path fill="#ff4a2a" d="M1828 475l38-26-45-18-39 26z"/><path fill="#ff3128" d="M2548 455l34-24-48-20-35 24z"/><path fill="#fa5d2b" d="M1659 494l40-28-45-14-39 28z"/><path fill="#475327" d="M1121 777l41-46-19 13-41 48z"/><path fill="#ff5f2c" d="M998 495l42-27-7-22-42 25z"/><path fill="#ff532b" d="M1743 483l39-26-44-17-39 26z"/><path fill="#1b3853" d="M921 1009l41-49-19 13-41 50z"/><path fill="#4877f2" d="M783 1092l42-47-6-11-42 47z"/><path fill="#52a8de" d="M806 1001l41-47-7-23-42 45z"/><path fill="#21382e" d="M1021 890l41-49-19 17-40 51z"/><path fill="#ff3228" d="M2464 459l35-24-48-20-35 23z"/><path fill="#497ff1" d="M777 1081l42-47-7-13-41 46z"/><path fill="#ef662b" d="M1575 509l40-29-22-6-40 29z"/><path fill="#d17c2d" d="M1429 558l40-32-21-3-41 34z"/><path fill="#ff432a" d="M991 471l42-25-6-14-43 24z"/><path fill="#ff3328" d="M2380 463l36-25-48-20-36 24z"/><path fill="#3a51b9" d="M820 1121l41-48-19-4-42 48z"/><path fill="#ff3528" d="M984 456l43-24-5-7-43 23z"/><path fill="#78782e" d="M1182 723l41-44-20 6-41 46z"/><path fill="#4a8aef" d="M771 1067l41-46-6-20-42 46z"/><path fill="#7ec78f" d="M832 902l42-45-9-37-42 42z"/><path fill="#ff3528" d="M2296 467l36-25-47-20-37 25z"/><path fill="#bb7f2b" d="M1367 591l40-34-21-1-40 36z"/><path fill="#b2d466" d="M865 820l42-44-9-40-42 41z"/><path fill="#f28632" d="M964 570l42-32-8-43-43 28z"/><path fill="#5bb5c7" d="M798 976l42-45-8-29-42 44z"/><path fill="#dcd54e" d="M898 736l42-41-9-43-43 38z"/><path fill="#93822d" d="M1243 673l41-40-20 4-41 42z"/><path fill="#ecb83c" d="M931 652l42-37-9-45-43 33z"/><path fill="#a7822b" d="M1305 629l41-37-21 2-41 39z"/><path fill="#ff3729" d="M2211 471l37-24-47-20-37 24z"/><path fill="#e4712c" d="M1513 533l40-30-22-5-40 31z"/><path fill="#4f58ea" d="M753 1156l42-45-6-8-42 44z"/><path fill="#5054e8" d="M758 1162l42-45-5-6-42 45z"/><path fill="#182d4d" d="M879 1057l42-48-19 14-41 50z"/><path fill="#172d2d" d="M980 938l41-48-18 19-41 51z"/><path fill="#364626" d="M1080 823l41-46-19 15-40 49z"/><path fill="#4d5eec" d="M747 1147l42-44-6-11-42 45z"/><path fill="#ff3929" d="M2127 476l37-25-46-20-38 25z"/><path fill="#4c9beb" d="M764 1047l42-46-8-25-42 45z"/><path fill="#4b66ee" d="M741 1137l42-45-6-11-42 43z"/><path fill="#ff3d29" d="M2043 481l37-25-46-19-38 25z"/><path fill="#496ff1" d="M735 1124l42-43-6-14-43 43z"/><path fill="#d9792d" d="M1450 561l41-32-22-3-40 32z"/><path fill="#ff412a" d="M1958 487l38-25-46-19-38 25z"/><path fill="#ff3128" d="M2596 475l35-24-49-20-34 24z"/><path fill="#3d43b4" d="M778 1166l42-45-20-4-42 45z"/><path fill="#ff472a" d="M1873 494l39-26-46-19-38 26z"/><path fill="#656c2d" d="M1141 767l41-44-20 8-41 46z"/><path fill="#f7622c" d="M1619 522l40-28-44-14-40 29z"/><path fill="#ff4e2b" d="M1789 501l39-26-46-18-39 26z"/><path fill="#487bf2" d="M728 1110l43-43-7-20-43 42z"/><path fill="#ff582b" d="M1704 510l39-27-44-17-40 28z"/><path fill="#ff632d" d="M955 523l43-28-7-24-44 26z"/><path fill="#ff3228" d="M2512 479l36-24-49-20-35 24z"/><path fill="#6dbd9f" d="M790 946l42-44-9-40-43 42z"/><path fill="#c87f2c" d="M1388 592l41-34-22-1-40 34z"/><path fill="#ea6c2c" d="M1535 538l40-29-22-6-40 30z"/><path fill="#53a8d5" d="M756 1021l42-45-8-30-43 43z"/><path fill="#a1cf6f" d="M823 862l42-42-9-43-43 39z"/><path fill="#12242b" d="M938 985l42-47-18 22-41 49z"/><path fill="#152347" d="M837 1104l42-47-18 16-41 48z"/><path fill="#283b25" d="M1039 870l41-47-18 18-41 49z"/><path fill="#847d2c" d="M1202 715l41-42-20 6-41 44z"/><path fill="#ff3328" d="M2428 483l36-24-48-21-36 25z"/><path fill="#5349e5" d="M710 1200l43-44-6-9-43 44z"/><path fill="#d0d352" d="M856 777l42-41-10-46-42 37z"/><path fill="#b0812a" d="M1326 627l41-36-21 1-41 37z"/><path fill="#5644e2" d="M716 1206l42-44-5-6-43 44z"/><path fill="#987e2a" d="M1264 668l41-39-21 4-41 40z"/><path fill="#514fe7" d="M704 1191l43-44-6-10-43 43z"/><path fill="#ff452a" d="M947 497l44-26-7-15-43 24z"/><path fill="#ff3428" d="M2343 487l37-24-48-21-36 25z"/><path fill="#e8bd3f" d="M888 690l43-38-10-49-43 33z"/><path fill="#4b8dee" d="M721 1089l43-42-8-26-43 41z"/><path fill="#4f57e9" d="M698 1180l43-43-6-13-43 43z"/><path fill="#ef8c32" d="M921 603l43-33-9-47-43 29z"/><path fill="#ff3528" d="M941 480l43-24-5-8-44 24z"/><path fill="#ff3629" d="M2259 491l37-24-48-20-37 24z"/><path fill="#de752c" d="M1472 564l41-31-22-4-41 32z"/><path fill="#4d60ec" d="M692 1167l43-43-7-14-43 43z"/><path fill="#ff3929" d="M2174 496l37-25-47-20-37 25z"/><path fill="#54612d" d="M1100 812l41-45-20 10-41 46z"/><path fill="#4036af" d="M735 1209l43-43-20-4-42 44z"/><path fill="#ff3b29" d="M2089 501l38-25-47-20-37 25z"/><path fill="#496df0" d="M685 1153l43-43-7-21-43 42z"/><path fill="#10202d" d="M896 1032l42-47-17 24-42 48z"/><path fill="#d17d2d" d="M1410 593l40-32-21-3-41 34z"/><path fill="#1d3025" d="M998 916l41-46-18 20-41 48z"/><path fill="#5db4ae" d="M747 989l43-43-10-42-43 41z"/><path fill="#ff3f29" d="M2005 506l38-25-47-19-38 25z"/><path fill="#141c40" d="M795 1148l42-44-17 17-42 45z"/><path fill="#ff3128" d="M2646 496l35-25-50-20-35 24z"/><path fill="#4c9ee1" d="M713 1062l43-41-9-32-43 40z"/><path fill="#71722c" d="M1161 758l41-43-20 8-41 44z"/><path fill="#91cb78" d="M780 904l43-42-10-46-43 40z"/><path fill="#ff442a" d="M1920 513l38-26-46-19-39 26z"/><path fill="#f4682c" d="M1579 551l40-29-44-13-40 29z"/><path fill="#bf822c" d="M1347 626l41-34-21-1-41 36z"/><path fill="#ff3228" d="M2561 499l35-24-48-20-36 24z"/><path fill="#ff4b2a" d="M1834 520l39-26-45-19-39 26z"/><path fill="#5f39d9" d="M667 1241l43-41-6-9-43 41z"/><path fill="#6434d6" d="M672 1248l44-42-6-6-43 41z"/><path fill="#8a7a2a" d="M1223 708l41-40-21 5-41 42z"/><path fill="#ff532b" d="M1749 528l40-27-46-18-39 27z"/><path fill="#ff5d2c" d="M1664 538l40-28-45-16-40 28z"/><path fill="#5941df" d="M661 1232l43-41-6-11-43 41z"/><path fill="#c5d256" d="M813 816l43-39-10-50-43 36z"/><path fill="#ff682e" d="M912 552l43-29-8-26-43 26z"/><path fill="#a3802a" d="M1285 664l41-37-21 2-41 39z"/><path fill="#e4712c" d="M1494 568l41-30-22-5-41 31z"/><path fill="#4980f0" d="M678 1131l43-42-8-27-43 41z"/><path fill="#ff3328" d="M2477 503l35-24-48-20-36 24z"/><path fill="#5249e5" d="M655 1221l43-41-6-13-43 41z"/><path fill="#e3c141" d="M846 727l42-37-10-54-43 33z"/><path fill="#43562d" d="M1058 856l42-44-20 11-41 47z"/><path fill="#5053e8" d="M649 1208l43-41-7-14-43 40z"/><path fill="#ff3428" d="M2392 508l36-25-48-20-37 24z"/><path fill="#ec9133" d="M878 636l43-33-9-51-44 28z"/><path fill="#4a2aa4" d="M692 1251l43-42-19-3-44 42z"/><path fill="#ff472a" d="M904 523l43-26-6-17-44 24z"/><path fill="#0f1d2e" d="M854 1077l42-45-17 25-42 47z"/><path fill="#152623" d="M956 961l42-45-18 22-42 47z"/><path fill="#ff3628" d="M2307 512l36-25-47-20-37 24z"/><path fill="#d7792c" d="M1431 596l41-32-22-3-40 32z"/><path fill="#ff3628" d="M897 504l44-24-6-8-44 23z"/><path fill="#4c61ec" d="M642 1193l43-40-7-22-44 40z"/><path fill="#13163a" d="M752 1191l43-43-17 18-43 43z"/><path fill="#ff3829" d="M2222 517l37-26-48-20-37 25z"/><path fill="#61672b" d="M1120 801l41-43-20 9-41 45z"/><path fill="#56abb9" d="M704 1029l43-40-10-44-43 39z"/><path fill="#4992e4" d="M670 1103l43-41-9-33-43 40z"/><path fill="#c9802c" d="M1369 627l41-34-22-1-41 34z"/><path fill="#ff3a29" d="M2137 521l37-25-47-20-38 25z"/><path fill="#83c582" d="M737 945l43-41-10-48-43 38z"/><path fill="#7b7429" d="M1181 749l42-41-21 7-41 43z"/><path fill="#ff3128" d="M2696 516l34-24-49-21-35 25z"/><path fill="#ff3e29" d="M2051 526l38-25-46-20-38 25z"/><path fill="#712aca" d="M628 1285l44-37-5-7-44 37z"/><path fill="#6a2ed0" d="M623 1278l44-37-6-9-44 37z"/><path fill="#b4842b" d="M1306 662l41-36-21 1-41 37z"/><path fill="#957c29" d="M1243 703l42-39-21 4-41 40z"/><path fill="#bbd05a" d="M770 856l43-40-10-53-44 36z"/><path fill="#6335d6" d="M617 1269l44-37-6-11-44 37z"/><path fill="#ff422a" d="M1966 532l39-26-47-19-38 26z"/><path fill="#354b2d" d="M1016 901l42-45-19 14-41 46z"/><path fill="#4774f1" d="M634 1171l44-40-8-28-44 39z"/><path fill="#ff3228" d="M2611 520l35-24-50-21-35 24z"/><path fill="#f06d2d" d="M1538 580l41-29-44-13-41 30z"/><path fill="#ff472a" d="M1881 539l39-26-47-19-39 26z"/><path fill="#5b3ede" d="M611 1258l44-37-6-13-45 37z"/><path fill="#ff4f2b" d="M1795 546l39-26-45-19-40 27z"/><path fill="#de762d" d="M1453 599l41-31-22-4-41 32z"/><path fill="#fd632c" d="M1624 566l40-28-45-16-40 29z"/><path fill="#122427" d="M913 1006l43-45-18 24-42 47z"/><path fill="#ff582c" d="M1710 556l39-28-45-18-40 28z"/><path fill="#ff3228" d="M2526 524l35-25-49-20-35 24z"/><path fill="#ff6b2e" d="M868 580l44-28-8-29-44 26z"/><path fill="#142442" d="M811 1119l43-42-17 27-42 44z"/><path fill="#dfc644" d="M803 763l43-36-11-58-44 33z"/><path fill="#5249e5" d="M604 1245l45-37-7-15-45 37z"/><path fill="#53219c" d="M647 1288l45-37-20-3-44 37z"/><path fill="#ff3428" d="M2441 528l36-25-49-20-36 25z"/><path fill="#515d2a" d="M1078 844l42-43-20 11-42 44z"/><path fill="#131134" d="M708 1232l44-41-17 18-43 42z"/><path fill="#ea9634" d="M835 669l43-33-10-56-44 29z"/><path fill="#cf7c2c" d="M1390 629l41-33-21-3-41 34z"/><path fill="#ff3628" d="M2355 533l37-25-49-21-36 25z"/><path fill="#4f57e9" d="M597 1230l45-37-8-22-44 36z"/><path fill="#51a3c3" d="M661 1069l43-40-10-45-44 38z"/><path fill="#ff492a" d="M860 549l44-26-7-19-44 25z"/><path fill="#4887e5" d="M626 1142l44-39-9-34-44 38z"/><path fill="#ff3829" d="M2270 537l37-25-48-21-37 26z"/><path fill="#6a6a28" d="M1139 790l42-41-20 9-41 43z"/><path fill="#77be8d" d="M694 984l43-39-10-51-44 37z"/><path fill="#bf832c" d="M1327 662l42-35-22-1-41 36z"/><path fill="#2a412d" d="M974 944l42-43-18 15-42 45z"/><path fill="#ff3628" d="M853 529l44-25-6-9-44 25z"/><path fill="#ff3a29" d="M2184 542l38-25-48-21-37 25z"/><path fill="#877729" d="M1202 742l41-39-20 5-42 41z"/><path fill="#a8832b" d="M1264 700l42-38-21 2-42 39z"/><path fill="#b0cd5f" d="M727 894l43-38-11-57-44 36z"/><path fill="#ff3128" d="M2746 537l34-24-50-21-34 24z"/><path fill="#7b25c0" d="M583 1320l45-35-5-7-45 35z"/><path fill="#7428c7" d="M578 1313l45-35-6-9-45 35z"/><path fill="#ff3c29" d="M2099 547l38-26-48-20-38 25z"/><path fill="#11222a" d="M871 1049l42-43-17 26-42 45z"/><path fill="#496bed" d="M590 1207l44-36-8-29-45 36z"/><path fill="#6a2dd0" d="M572 1304l45-35-6-11-45 34z"/><path fill="#152347" d="M768 1161l43-42-16 29-43 43z"/><path fill="#ff4029" d="M2013 552l38-26-46-20-39 26z"/><path fill="#ff3228" d="M2661 541l35-25-50-20-35 24z"/><path fill="#6237d8" d="M566 1292l45-34-7-13-45 34z"/><path fill="#eb732d" d="M1498 610l40-30-44-12-41 31z"/><path fill="#43522a" d="M1036 887l42-43-20 12-42 45z"/><path fill="#ff452a" d="M1927 558l39-26-46-19-39 26z"/><path fill="#d7792c" d="M1412 631l41-32-22-3-41 33z"/><path fill="#dcca46" d="M759 799l44-36-12-61-44 32z"/><path fill="#ff3228" d="M2575 545l36-25-50-21-35 25z"/><path fill="#ff4b2a" d="M1841 565l40-26-47-19-39 26z"/><path fill="#5842e0" d="M559 1279l45-34-7-15-45 34z"/><path fill="#fb682d" d="M1583 595l41-29-45-15-41 29z"/><path fill="#ff542b" d="M1755 574l40-28-46-18-39 28z"/><path fill="#ff5e2c" d="M1669 583l41-27-46-18-40 28z"/><path fill="#5a1d94" d="M602 1323l45-35-19-3-45 35z"/><path fill="#fe6e2e" d="M824 609l44-29-8-31-45 26z"/><path fill="#130e2f" d="M664 1268l44-36-16 19-45 37z"/><path fill="#ff3328" d="M2490 549l36-25-49-21-36 25z"/><path fill="#4d9ccb" d="M617 1107l44-38-11-47-45 36z"/><path fill="#5b6027" d="M1097 832l42-42-19 11-42 43z"/><path fill="#c67e2c" d="M1349 663l41-34-21-2-42 35z"/><path fill="#e89b35" d="M791 702l44-33-11-60-45 29z"/><path fill="#21382e" d="M932 987l42-43-18 17-43 45z"/><path fill="#5051e7" d="M552 1264l45-34-7-23-46 34z"/><path fill="#ff3528" d="M2404 553l37-25-49-20-37 25z"/><path fill="#467fe6" d="M581 1178l45-36-9-35-46 35z"/><path fill="#6cb897" d="M650 1022l44-38-11-53-45 36z"/><path fill="#b5852b" d="M1286 698l41-36-21 0-42 38z"/><path fill="#7a7228" d="M1160 781l42-39-21 7-42 41z"/><path fill="#ff3729" d="M2318 558l37-25-48-21-37 25z"/><path fill="#9b802b" d="M1222 738l42-38-21 3-41 39z"/><path fill="#162e40" d="M827 1090l44-41-17 28-43 42z"/><path fill="#ff4b2a" d="M815 575l45-26-7-20-45 25z"/><path fill="#ff3929" d="M2233 563l37-26-48-20-38 25z"/><path fill="#a6ca65" d="M683 931l44-37-12-59-45 34z"/><path fill="#17224b" d="M724 1201l44-40-16 30-44 41z"/><path fill="#364929" d="M993 928l43-41-20 14-42 43z"/><path fill="#ff3128" d="M2797 558l34-24-51-21-34 24z"/><path fill="#ff3629" d="M808 554l45-25-6-9-45 24z"/><path fill="#ff3c29" d="M2147 567l37-25-47-21-38 26z"/><path fill="#8321b9" d="M538 1354l45-34-5-7-46 34z"/><path fill="#7c24bf" d="M532 1347l46-34-6-9-46 33z"/><path fill="#4a64eb" d="M544 1241l46-34-9-29-45 33z"/><path fill="#722ac9" d="M526 1337l46-33-6-12-46 33z"/><path fill="#ff3f29" d="M2060 573l39-26-48-21-38 26z"/><path fill="#ff3128" d="M2711 562l35-25-50-21-35 25z"/><path fill="#6731d3" d="M520 1325l46-33-7-13-46 33z"/><path fill="#e6782e" d="M1456 641l42-31-45-11-41 32z"/><path fill="#cf7c2c" d="M1371 664l41-33-22-2-41 34z"/><path fill="#d8cc48" d="M715 835l44-36-12-65-45 33z"/><path fill="#ff432a" d="M1974 578l39-26-47-20-39 26z"/><path fill="#ff3228" d="M2625 566l36-25-50-21-36 25z"/><path fill="#4e5625" d="M1055 873l42-41-19 12-42 43z"/><path fill="#ff482a" d="M1888 585l39-27-46-19-40 26z"/><path fill="#19302d" d="M888 1029l44-42-19 19-42 43z"/><path fill="#5d3cdc" d="M513 1312l46-33-7-15-45 33z"/><path fill="#f86d2e" d="M1542 625l41-30-45-15-40 30z"/><path fill="#130b2b" d="M619 1303l45-35-17 20-45 35z"/><path fill="#5f1a8d" d="M557 1357l45-34-19-3-45 34z"/><path fill="#ff4f2b" d="M1802 593l39-28-46-19-40 28z"/><path fill="#ff622d" d="M1629 612l40-29-45-17-41 29z"/><path fill="#ff592c" d="M1715 601l40-27-45-18-41 27z"/><path fill="#ff3328" d="M2539 570l36-25-49-21-36 25z"/><path fill="#bd812b" d="M1307 698l42-35-22-1-41 36z"/><path fill="#4997d2" d="M571 1142l46-35-12-49-45 34z"/><path fill="#fb712f" d="M779 638l45-29-9-34-45 27z"/><path fill="#6b6927" d="M1117 821l43-40-21 9-42 42z"/><path fill="#63b3a0" d="M605 1058l45-36-12-55-45 35z"/><path fill="#aa842b" d="M1244 735l42-37-22 2-42 38z"/><path fill="#e7a036" d="M747 734l44-32-12-64-45 29z"/><path fill="#ff3428" d="M2453 574l37-25-49-21-37 25z"/><path fill="#172e46" d="M784 1130l43-40-16 29-43 42z"/><path fill="#8f7c2a" d="M1180 776l42-38-20 4-42 39z"/><path fill="#524ce6" d="M507 1297l45-33-8-23-46 32z"/><path fill="#467ae6" d="M536 1211l45-33-10-36-45 33z"/><path fill="#ff3629" d="M2367 579l37-26-49-20-37 25z"/><path fill="#2c4129" d="M950 970l43-42-19 16-42 43z"/><path fill="#9dc86a" d="M638 967l45-36-13-62-45 34z"/><path fill="#19204d" d="M679 1237l45-36-16 31-44 36z"/><path fill="#ff3929" d="M2281 584l37-26-48-21-37 26z"/><path fill="#ff4d2b" d="M770 602l45-27-7-21-45 25z"/><path fill="#ff3128" d="M2848 580l34-25-51-21-34 24z"/><path fill="#ff3b29" d="M2195 588l38-25-49-21-37 25z"/><path fill="#4b60e9" d="M498 1273l46-32-8-30-47 32z"/><path fill="#881fb5" d="M492 1385l46-31-6-7-46 31z"/><path fill="#8122bb" d="M486 1378l46-31-6-10-46 31z"/><path fill="#414d25" d="M1012 913l43-40-19 14-43 41z"/><path fill="#ff3128" d="M2762 584l35-26-51-21-35 25z"/><path fill="#ff3e29" d="M2108 593l39-26-48-20-39 26z"/><path fill="#ff3729" d="M763 579l45-25-6-10-45 25z"/><path fill="#7727c5" d="M480 1368l46-31-6-12-47 31z"/><path fill="#15292b" d="M845 1069l43-40-17 20-44 41z"/><path fill="#c77f2c" d="M1329 699l42-35-22-1-42 35z"/><path fill="#e17c2e" d="M1415 673l41-32-44-10-41 33z"/><path fill="#d2cc4b" d="M670 869l45-34-13-68-45 31z"/><path fill="#ff412a" d="M2022 599l38-26-47-21-39 26z"/><path fill="#6a2ed0" d="M473 1356l47-31-7-13-46 31z"/><path fill="#ff3228" d="M2676 587l35-25-50-21-36 25z"/><path fill="#5d6026" d="M1075 861l42-40-20 11-42 41z"/><path fill="#b3832b" d="M1265 733l42-35-21 0-42 37z"/><path fill="#ff452a" d="M1935 605l39-27-47-20-39 27z"/><path fill="#140a2a" d="M573 1336l46-33-17 20-45 34z"/><path fill="#f5732e" d="M1501 655l41-30-44-15-42 31z"/><path fill="#5f39d9" d="M467 1343l46-31-6-15-47 30z"/><path fill="#ff3328" d="M2589 591l36-25-50-21-36 25z"/><path fill="#ff4c2b" d="M1848 612l40-27-47-20-39 28z"/><path fill="#9e812b" d="M1201 772l43-37-22 3-42 38z"/><path fill="#83782a" d="M1138 814l42-38-20 5-43 40z"/><path fill="#621889" d="M510 1388l47-31-19-3-46 31z"/><path fill="#182d4b" d="M739 1169l45-39-16 31-44 40z"/><path fill="#4793d6" d="M526 1175l45-33-11-50-46 32z"/><path fill="#ff542b" d="M1761 620l41-27-47-19-40 27z"/><path fill="#fd682d" d="M1588 641l41-29-46-17-41 30z"/><path fill="#ff5e2c" d="M1675 630l40-29-46-18-40 29z"/><path fill="#5cb0a6" d="M560 1092l45-34-12-56-46 33z"/><path fill="#243929" d="M907 1010l43-40-18 17-44 42z"/><path fill="#ff3428" d="M2503 596l36-26-49-21-37 25z"/><path fill="#f9742f" d="M734 667l45-29-9-36-45 26z"/><path fill="#e6a436" d="M702 767l45-33-13-67-45 28z"/><path fill="#4576e6" d="M489 1243l47-32-10-36-47 32z"/><path fill="#5249e5" d="M460 1327l47-30-9-24-46 31z"/><path fill="#ff3628" d="M2417 600l36-26-49-21-37 26z"/><path fill="#95c66e" d="M593 1002l45-35-13-64-45 34z"/><path fill="#1a1f4f" d="M633 1271l46-34-15 31-45 35z"/><path fill="#ff3829" d="M2330 604l37-25-49-21-37 26z"/><path fill="#364524" d="M969 953l43-40-19 15-43 42z"/><path fill="#ff3128" d="M2899 601l34-25-51-21-34 25z"/><path fill="#ff3a29" d="M2243 609l38-25-48-21-38 25z"/><path fill="#12242a" d="M801 1108l44-39-18 21-43 40z"/><path fill="#ff4f2b" d="M725 628l45-26-7-23-46 25z"/><path fill="#be812c" d="M1286 733l43-34-22-1-42 35z"/><path fill="#ff3128" d="M2813 605l35-25-51-22-35 26z"/><path fill="#ff3d29" d="M2157 615l38-27-48-21-39 26z"/><path fill="#4c5de7" d="M452 1304l46-31-9-30-47 31z"/><path fill="#525824" d="M1031 900l44-39-20 12-43 40z"/><path fill="#db802e" d="M1373 706l42-33-44-9-42 35z"/><path fill="#cdcb4d" d="M625 903l45-34-13-71-46 32z"/><path fill="#ff4029" d="M2070 620l38-27-48-20-38 26z"/><path fill="#ff3228" d="M2727 609l35-25-51-22-35 25z"/><path fill="#a9822a" d="M1222 769l43-36-21 2-43 37z"/><path fill="#ff3729" d="M717 604l46-25-6-10-46 24z"/><path fill="#777229" d="M1095 852l43-38-21 7-42 40z"/><path fill="#937e2b" d="M1158 809l43-37-21 4-42 38z"/><path fill="#ff442a" d="M1983 626l39-27-48-21-39 27z"/><path fill="#182d4f" d="M694 1204l45-35-15 32-45 36z"/><path fill="#1d3228" d="M863 1049l44-39-19 19-43 40z"/><path fill="#ff3328" d="M2640 613l36-26-51-21-36 25z"/><path fill="#f27a2f" d="M1459 686l42-31-45-14-41 32z"/><path fill="#ff492a" d="M1895 632l40-27-47-20-40 27z"/><path fill="#150a2b" d="M526 1367l47-31-16 21-47 31z"/><path fill="#4690d7" d="M479 1207l47-32-12-51-47 32z"/><path fill="#ff502b" d="M1808 640l40-28-46-19-41 27z"/><path fill="#fb6d2e" d="M1546 671l42-30-46-16-41 30z"/><path fill="#ff3428" d="M2553 617l36-26-50-21-36 26z"/><path fill="#58adaa" d="M514 1124l46-32-13-57-46 31z"/><path fill="#ff592c" d="M1721 648l40-28-46-19-40 29z"/><path fill="#ff622d" d="M1634 659l41-29-46-18-41 29z"/><path fill="#e4a837" d="M657 798l45-31-13-72-46 29z"/><path fill="#f7772f" d="M689 695l45-28-9-39-46 27z"/><path fill="#ff3528" d="M2467 621l36-25-50-22-36 26z"/><path fill="#2d3e23" d="M925 992l44-39-19 17-43 40z"/><path fill="#4574e7" d="M442 1274l47-31-10-36-47 30z"/><path fill="#8fc472" d="M547 1035l46-33-13-65-47 31z"/><path fill="#1b1e50" d="M587 1304l46-33-14 32-46 33z"/><path fill="#ff3729" d="M2380 626l37-26-50-21-37 25z"/><path fill="#11222b" d="M756 1146l45-38-17 22-45 39z"/><path fill="#ff3128" d="M2951 623l34-25-52-22-34 25z"/><path fill="#ff3929" d="M2293 630l37-26-49-20-38 25z"/><path fill="#475023" d="M988 938l43-38-19 13-43 40z"/><path fill="#b6832b" d="M1244 768l42-35-21 0-43 36z"/><path fill="#ff3128" d="M2865 627l34-26-51-21-35 25z"/><path fill="#ff3c29" d="M2205 636l38-27-48-21-38 27z"/><path fill="#d4842e" d="M1330 739l43-33-44-7-43 34z"/><path fill="#9e7f2a" d="M1179 805l43-36-21 3-43 37z"/><path fill="#6a6a28" d="M1051 890l44-38-20 9-44 39z"/><path fill="#ff512b" d="M679 655l46-27-8-24-46 26z"/><path fill="#897b2a" d="M1115 846l43-37-20 5-43 38z"/><path fill="#c8ca4e" d="M580 937l45-34-14-73-46 31z"/><path fill="#ff3228" d="M2778 631l35-26-51-21-35 25z"/><path fill="#ff3f29" d="M2118 641l39-26-49-22-38 27z"/><path fill="#182c28" d="M818 1087l45-38-18 20-44 39z"/><path fill="#ff422a" d="M2031 647l39-27-48-21-39 27z"/><path fill="#192c51" d="M648 1238l46-34-15 33-46 34z"/><path fill="#ff3328" d="M2691 635l36-26-51-22-36 26z"/><path fill="#ff3829" d="M671 630l46-26-6-11-46 26z"/><path fill="#ee7f30" d="M1417 718l42-32-44-13-42 33z"/><path fill="#ff472a" d="M1943 653l40-27-48-21-40 27z"/><path fill="#ff3428" d="M2604 639l36-26-51-22-36 26z"/><path fill="#ff4c2b" d="M1855 660l40-28-47-20-40 28z"/><path fill="#f9732f" d="M1505 701l41-30-45-16-42 31z"/><path fill="#468ed7" d="M432 1237l47-30-12-51-47 29z"/><path fill="#263722" d="M881 1030l44-38-18 18-44 39z"/><path fill="#ff542b" d="M1768 668l40-28-47-20-40 28z"/><path fill="#56abad" d="M467 1156l47-32-13-58-47 31z"/><path fill="#ff672d" d="M1592 688l42-29-46-18-42 30z"/><path fill="#ff5e2c" d="M1680 677l41-29-46-18-41 29z"/><path fill="#ff3528" d="M2517 643l36-26-50-21-36 25z"/><path fill="#e4ac38" d="M611 830l46-32-14-74-47 29z"/><path fill="#f67930" d="M643 724l46-29-10-40-46 27z"/><path fill="#122633" d="M711 1180l45-34-17 23-45 35z"/><path fill="#8bc374" d="M501 1066l46-31-14-67-47 30z"/><path fill="#ff3729" d="M2430 648l37-27-50-21-37 26z"/><path fill="#3e4923" d="M944 976l44-38-19 15-44 39z"/><path fill="#1c1d51" d="M540 1335l47-31-14 32-47 31z"/><path fill="#ff3128" d="M3004 645l34-26-53-21-34 25z"/><path fill="#ad842b" d="M1201 803l43-35-22 1-43 36z"/><path fill="#ff3829" d="M2342 652l38-26-50-22-37 26z"/><path fill="#606327" d="M1008 927l43-37-20 10-43 38z"/><path fill="#ff3128" d="M2917 649l34-26-52-22-34 26z"/><path fill="#947d2a" d="M1136 841l43-36-21 4-43 37z"/><path fill="#cd872e" d="M1287 772l43-33-44-6-42 35z"/><path fill="#7f772a" d="M1072 882l43-36-20 6-44 38z"/><path fill="#ff3b29" d="M2255 657l38-27-50-21-38 27z"/><path fill="#142826" d="M773 1124l45-37-17 21-45 38z"/><path fill="#ff3228" d="M2830 653l35-26-52-22-35 26z"/><path fill="#ff3e29" d="M2167 662l38-26-48-21-39 26z"/><path fill="#c5ca50" d="M533 968l47-31-15-76-47 29z"/><path fill="#ff522b" d="M633 682l46-27-8-25-46 26z"/><path fill="#ff412a" d="M2079 668l39-27-48-21-39 27z"/><path fill="#ff3328" d="M2743 657l35-26-51-22-36 26z"/><path fill="#192c53" d="M602 1270l46-32-15 33-46 33z"/><path fill="#ea8430" d="M1375 750l42-32-44-12-43 33z"/><path fill="#ff452a" d="M1991 674l40-27-48-21-40 27z"/><path fill="#213222" d="M836 1067l45-37-18 19-45 38z"/><path fill="#ff3428" d="M2655 661l36-26-51-22-36 26z"/><path fill="#ff3829" d="M625 656l46-26-6-11-47 25z"/><path fill="#ff4a2a" d="M1903 680l40-27-48-21-40 28z"/><path fill="#f67930" d="M1463 733l42-32-46-15-42 32z"/><path fill="#ff502b" d="M1815 688l40-28-47-20-40 28z"/><path fill="#ff3528" d="M2568 665l36-26-51-22-36 26z"/><path fill="#fd6d2e" d="M1551 718l41-30-46-17-41 30z"/><path fill="#ff592c" d="M1727 696l41-28-47-20-41 29z"/><path fill="#ff622d" d="M1639 706l41-29-46-18-42 29z"/><path fill="#56a9af" d="M420 1185l47-29-13-59-48 29z"/><path fill="#e2ad38" d="M565 861l46-31-15-77-47 28z"/><path fill="#364222" d="M899 1013l45-37-19 16-44 38z"/><path fill="#ff3629" d="M2480 670l37-27-50-22-37 27z"/><path fill="#132636" d="M664 1214l47-34-17 24-46 34z"/><path fill="#f57b30" d="M596 753l47-29-10-42-47 27z"/><path fill="#ff3128" d="M3057 667l34-26-53-22-34 26z"/><path fill="#a4812b" d="M1157 838l44-35-22 2-43 36z"/><path fill="#88c275" d="M454 1097l47-31-15-68-47 30z"/><path fill="#565c26" d="M963 964l45-37-20 11-44 38z"/><path fill="#ff3829" d="M2392 674l38-26-50-22-38 26z"/><path fill="#8b7929" d="M1092 877l44-36-21 5-43 36z"/><path fill="#747129" d="M1028 919l44-37-21 8-43 37z"/><path fill="#ff3128" d="M2970 671l34-26-53-22-34 26z"/><path fill="#c7892e" d="M1244 806l43-34-43-4-43 35z"/><path fill="#ff3a29" d="M2304 678l38-26-49-22-38 27z"/><path fill="#132627" d="M728 1158l45-34-17 22-45 34z"/><path fill="#ff3228" d="M2882 675l35-26-52-22-35 26z"/><path fill="#ff3c29" d="M2216 684l39-27-50-21-38 26z"/><path fill="#c2ca51" d="M486 998l47-30-15-78-48 30z"/><path fill="#ff4029" d="M2128 690l39-28-49-21-39 27z"/><path fill="#ff3328" d="M2795 679l35-26-52-22-35 26z"/><path fill="#e58831" d="M1332 783l43-33-45-11-43 33z"/><path fill="#1c2d21" d="M791 1103l45-36-18 20-45 37z"/><path fill="#ff542b" d="M586 709l47-27-8-26-48 26z"/><path fill="#ff442a" d="M2040 696l39-28-48-21-40 27z"/><path fill="#192c54" d="M554 1301l48-31-15 34-47 31z"/><path fill="#ff3428" d="M2707 683l36-26-52-22-36 26z"/><path fill="#ff482a" d="M1951 702l40-28-48-21-40 27z"/><path fill="#f37f30" d="M1420 765l43-32-46-15-42 32z"/><path fill="#ff3528" d="M2619 688l36-27-51-22-36 26z"/><path fill="#ff4d2b" d="M1863 708l40-28-48-20-40 28z"/><path fill="#ff3829" d="M577 682l48-26-7-12-47 26z"/><path fill="#2f3d21" d="M854 1049l45-36-18 17-45 37z"/><path fill="#fb722f" d="M1508 749l43-31-46-17-42 32z"/><path fill="#ff542b" d="M1774 716l41-28-47-20-41 28z"/><path fill="#ff672d" d="M1597 736l42-30-47-18-41 30z"/><path fill="#ff5e2c" d="M1686 725l41-29-47-19-41 29z"/><path fill="#ff3629" d="M2531 692l37-27-51-22-37 27z"/><path fill="#9b7f2a" d="M1113 873l44-35-21 3-44 36z"/><path fill="#e1ae39" d="M518 890l47-29-16-80-48 28z"/><path fill="#ff3128" d="M3111 689l33-26-53-22-34 26z"/><path fill="#132738" d="M618 1246l46-32-16 24-46 32z"/><path fill="#4e5725" d="M919 1000l44-36-19 12-45 37z"/><path fill="#837629" d="M1048 912l44-35-20 5-44 37z"/><path fill="#6b6a28" d="M983 955l45-36-20 8-45 37z"/><path fill="#ff3829" d="M2443 696l37-26-50-22-38 26z"/><path fill="#f47d30" d="M549 781l47-28-10-44-48 27z"/><path fill="#86c276" d="M406 1126l48-29-15-69-49 29z"/><path fill="#ff3128" d="M3023 693l34-26-53-22-34 26z"/><path fill="#c08c2e" d="M1200 840l44-34-43-3-44 35z"/><path fill="#ff3929" d="M2354 701l38-27-50-22-38 26z"/><path fill="#14272a" d="M681 1191l47-33-17 22-47 34z"/><path fill="#ff3228" d="M2935 697l35-26-53-22-35 26z"/><path fill="#ff3b29" d="M2266 705l38-27-49-21-39 27z"/><path fill="#ff3328" d="M2847 701l35-26-52-22-35 26z"/><path fill="#ff3e29" d="M2177 711l39-27-49-22-39 28z"/><path fill="#e18c31" d="M1289 816l43-33-45-11-43 34z"/><path fill="#c1c951" d="M439 1028l47-30-16-78-48 28z"/><path fill="#18281f" d="M745 1136l46-33-18 21-45 34z"/><path fill="#ff432a" d="M2089 717l39-27-49-22-39 28z"/><path fill="#ff3428" d="M2759 706l36-27-52-22-36 26z"/><path fill="#ff472a" d="M2000 724l40-28-49-22-40 28z"/><path fill="#ff552b" d="M538 736l48-27-9-27-47 26z"/><path fill="#ef8331" d="M1377 796l43-31-45-15-43 33z"/><path fill="#ff3528" d="M2671 710l36-27-52-22-36 27z"/><path fill="#2a3920" d="M809 1084l45-35-18 18-45 36z"/><path fill="#ff4b2a" d="M1911 730l40-28-48-22-40 28z"/><path fill="#f87830" d="M1466 781l42-32-45-16-43 32z"/><path fill="#ff512b" d="M1822 737l41-29-48-20-41 28z"/><path fill="#ff3629" d="M2582 714l37-26-51-23-37 27z"/><path fill="#937d2a" d="M1069 907l44-34-21 4-44 35z"/><path fill="#fe6d2e" d="M1555 767l42-31-46-18-43 31z"/><path fill="#ff592c" d="M1733 745l41-29-47-20-41 29z"/><path fill="#475225" d="M873 1035l46-35-20 13-45 36z"/><path fill="#ff622d" d="M1644 755l42-30-47-19-42 30z"/><path fill="#ff3929" d="M530 708l47-26-6-12-48 26z"/><path fill="#ff3128" d="M3165 712l33-26-54-23-33 26z"/><path fill="#7b7328" d="M1004 947l44-35-20 7-45 36z"/><path fill="#636528" d="M938 990l45-35-20 9-44 36z"/><path fill="#ff3729" d="M2494 719l37-27-51-22-37 26z"/><path fill="#e0af39" d="M470 920l48-30-17-81-48 28z"/><path fill="#13273a" d="M570 1277l48-31-16 24-48 31z"/><path fill="#ba8d2e" d="M1156 873l44-33-43-2-44 35z"/><path fill="#ff3128" d="M3077 716l34-27-54-22-34 26z"/><path fill="#ff3929" d="M2405 723l38-27-51-22-38 27z"/><path fill="#f37e30" d="M501 809l48-28-11-45-48 27z"/><path fill="#ff3228" d="M2988 720l35-27-53-22-35 26z"/><path fill="#14282c" d="M634 1223l47-32-17 23-46 32z"/><path fill="#ff3a29" d="M2316 728l38-27-50-23-38 27z"/><path fill="#ff3328" d="M2900 724l35-27-53-22-35 26z"/><path fill="#ff3d29" d="M2227 733l39-28-50-21-39 27z"/><path fill="#dd9031" d="M1245 849l44-33-45-10-44 34z"/><path fill="#182921" d="M698 1169l47-33-17 22-47 33z"/><path fill="#ff4129" d="M2138 738l39-27-49-21-39 27z"/><path fill="#ff3428" d="M2811 728l36-27-52-22-36 27z"/><path fill="#c0c952" d="M390 1057l49-29-17-80-49 29z"/><path fill="#ff452a" d="M2049 745l40-28-49-21-40 28z"/><path fill="#ff3528" d="M2723 733l36-27-52-23-36 27z"/><path fill="#ec8831" d="M1334 829l43-33-45-13-43 33z"/><path fill="#26351f" d="M763 1117l46-33-18 19-46 33z"/><path fill="#ff4a2a" d="M1960 752l40-28-49-22-40 28z"/><path fill="#ff562b" d="M490 763l48-27-8-28-49 27z"/><path fill="#ff3628" d="M2634 737l37-27-52-22-37 26z"/><path fill="#ff4f2b" d="M1870 759l41-29-48-22-41 29z"/><path fill="#f67e30" d="M1423 812l43-31-46-16-43 31z"/><path fill="#8c7a2a" d="M1024 942l45-35-21 5-44 35z"/><path fill="#414d25" d="M828 1070l45-35-19 14-45 35z"/><path fill="#ff552b" d="M1781 766l41-29-48-21-41 29z"/><path fill="#736e28" d="M959 981l45-34-21 8-45 35z"/><path fill="#fc722f" d="M1512 798l43-31-47-18-42 32z"/><path fill="#5c6127" d="M893 1025l45-35-19 10-46 35z"/><path fill="#ff5e2c" d="M1691 775l42-30-47-20-42 30z"/><path fill="#ff672d" d="M1602 785l42-30-47-19-42 31z"/><path fill="#ff3729" d="M2545 741l37-27-51-22-37 27z"/><path fill="#ff3929" d="M481 735l49-27-7-12-48 26z"/><path fill="#ff3128" d="M3131 739l34-27-54-23-34 27z"/><path fill="#b48c2e" d="M1112 907l44-34-43 0-44 34z"/><path fill="#ff3929" d="M2456 746l38-27-51-23-38 27z"/><path fill="#e0b03a" d="M422 948l48-28-17-83-49 28z"/><path fill="#ff3228" d="M3042 743l35-27-54-23-35 27z"/><path fill="#ff3a29" d="M2367 751l38-28-51-22-38 27z"/><path fill="#f27f30" d="M453 837l48-28-11-46-48 28z"/><path fill="#ff3328" d="M2953 747l35-27-53-23-35 27z"/><path fill="#14282e" d="M586 1254l48-31-16 23-48 31z"/><path fill="#ff3c29" d="M2277 755l39-27-50-23-39 28z"/><path fill="#d99332" d="M1201 881l44-32-45-9-44 33z"/><path fill="#ff3428" d="M2864 751l36-27-53-23-36 27z"/><path fill="#ff3f29" d="M2188 761l39-28-50-22-39 27z"/><path fill="#182a23" d="M651 1201l47-32-17 22-47 32z"/><path fill="#ff432a" d="M2098 767l40-29-49-21-40 28z"/><path fill="#ff3528" d="M2775 755l36-27-52-22-36 27z"/><path fill="#e98b32" d="M1290 861l44-32-45-13-44 33z"/><path fill="#ff482a" d="M2009 774l40-29-49-21-40 28z"/><path fill="#1e2b1a" d="M716 1149l47-32-18 19-47 33z"/><path fill="#ff3628" d="M2686 760l37-27-52-23-37 27z"/><path fill="#ff4d2b" d="M1919 781l41-29-49-22-41 29z"/><path fill="#857829" d="M979 975l45-33-20 5-45 34z"/><path fill="#f38231" d="M1379 844l44-32-46-16-43 33z"/><path fill="#3d4924" d="M781 1102l47-32-19 14-46 33z"/><path fill="#6c6a27" d="M913 1016l46-35-21 9-45 35z"/><path fill="#ff562c" d="M442 791l48-28-9-28-48 27z"/><path fill="#ff532b" d="M1829 788l41-29-48-22-41 29z"/><path fill="#565c26" d="M847 1058l46-33-20 10-45 35z"/><path fill="#ff3729" d="M2597 764l37-27-52-23-37 27z"/><path fill="#fa7730" d="M1469 829l43-31-46-17-43 31z"/><path fill="#ff5a2c" d="M1739 796l42-30-48-21-42 30z"/><path fill="#fe6c2e" d="M1559 816l43-31-47-18-43 31z"/><path fill="#ff632d" d="M1649 805l42-30-47-20-42 30z"/><path fill="#ad8b2e" d="M1067 940l45-33-43 0-45 35z"/><path fill="#ff3929" d="M2507 769l38-28-51-22-38 27z"/><path fill="#ff3228" d="M3096 766l35-27-54-23-35 27z"/><path fill="#ff3929" d="M433 762l48-27-6-13-49 26z"/><path fill="#ff3a29" d="M2418 774l38-28-51-23-38 28z"/><path fill="#e0b03a" d="M373 977l49-29-18-83-49 28z"/><path fill="#ff3328" d="M3007 770l35-27-54-23-35 27z"/><path fill="#ff3c29" d="M2328 778l39-27-51-23-39 27z"/><path fill="#f28030" d="M404 865l49-28-11-46-49 27z"/><path fill="#d59632" d="M1156 914l45-33-45-8-44 34z"/><path fill="#ff3328" d="M2918 774l35-27-53-23-36 27z"/><path fill="#ff3e29" d="M2238 783l39-28-50-22-39 28z"/><path fill="#ff3528" d="M2829 779l35-28-53-23-36 27z"/><path fill="#ff412a" d="M2148 789l40-28-50-23-40 29z"/><path fill="#182b24" d="M603 1231l48-30-17 22-48 31z"/><path fill="#e68f32" d="M1246 894l44-33-45-12-44 32z"/><path fill="#ff462a" d="M2058 795l40-28-49-22-40 29z"/><path fill="#ff3628" d="M2739 783l36-28-52-22-37 27z"/><path fill="#ff4b2a" d="M1968 802l41-28-49-22-41 29z"/><path fill="#807629" d="M933 1009l46-34-20 6-46 35z"/><path fill="#1d2b1a" d="M668 1181l48-32-18 20-47 32z"/><path fill="#f08632" d="M1336 876l43-32-45-15-44 32z"/><path fill="#666627" d="M867 1049l46-33-20 9-46 33z"/><path fill="#ff512b" d="M1878 810l41-29-49-22-41 29z"/><path fill="#ff3729" d="M2649 787l37-27-52-23-37 27z"/><path fill="#3a4724" d="M734 1134l47-32-18 15-47 32z"/><path fill="#515926" d="M800 1091l47-33-19 12-47 32z"/><path fill="#ff572c" d="M1787 818l42-30-48-22-42 30z"/><path fill="#f87d30" d="M1426 861l43-32-46-17-44 32z"/><path fill="#ff572c" d="M393 818l49-27-9-29-50 27z"/><path fill="#a88a2e" d="M1021 973l46-33-43 2-45 33z"/><path fill="#ff5f2c" d="M1697 826l42-30-48-21-42 30z"/><path fill="#fd712f" d="M1516 847l43-31-47-18-43 31z"/><path fill="#ff3829" d="M2560 792l37-28-52-23-38 28z"/><path fill="#ff672e" d="M1606 836l43-31-47-20-43 31z"/><path fill="#ff3a29" d="M2470 797l37-28-51-23-38 28z"/><path fill="#ff3228" d="M3062 793l34-27-54-23-35 27z"/><path fill="#ff3929" d="M383 789l50-27-7-14-49 27z"/><path fill="#ff3c29" d="M2379 802l39-28-51-23-39 27z"/><path fill="#ff3328" d="M2972 797l35-27-54-23-35 27z"/><path fill="#d19832" d="M1111 947l45-33-44-7-45 33z"/><path fill="#ff3e29" d="M2289 807l39-29-51-23-39 28z"/><path fill="#f28030" d="M355 893l49-28-11-47-50 27z"/><path fill="#ff3428" d="M2882 802l36-28-54-23-35 28z"/><path fill="#ff4029" d="M2199 812l39-29-50-22-40 28z"/><path fill="#ff432a" d="M2108 817l40-28-50-22-40 28z"/><path fill="#e39233" d="M1201 926l45-32-45-13-45 33z"/><path fill="#ff3628" d="M2792 806l37-27-54-24-36 28z"/><path fill="#ff482a" d="M2018 824l40-29-49-21-41 28z"/><path fill="#7b7428" d="M887 1042l46-33-20 7-46 33z"/><path fill="#ff3729" d="M2702 811l37-28-53-23-37 27z"/><path fill="#ff4f2b" d="M1927 832l41-30-49-21-41 29z"/><path fill="#ee8a32" d="M1291 908l45-32-46-15-44 33z"/><path fill="#1d2a1b" d="M620 1211l48-30-17 20-48 30z"/><path fill="#626326" d="M820 1081l47-32-20 9-47 33z"/><path fill="#ff552b" d="M1836 840l42-30-49-22-42 30z"/><path fill="#4f5725" d="M753 1122l47-31-19 11-47 32z"/><path fill="#374524" d="M686 1166l48-32-18 15-48 32z"/><path fill="#f68131" d="M1382 892l44-31-47-17-43 32z"/><path fill="#ff3829" d="M2612 815l37-28-52-23-37 28z"/><path fill="#ff5c2c" d="M1745 848l42-30-48-22-42 30z"/><path fill="#a3892e" d="M975 1006l46-33-42 2-46 34z"/><path fill="#fb752f" d="M1473 878l43-31-47-18-43 32z"/><path fill="#ff632d" d="M1654 857l43-31-48-21-43 31z"/><path fill="#ff6c2e" d="M1563 866l43-30-47-20-43 31z"/><path fill="#ff572c" d="M343 845l50-27-10-29-50 27z"/><path fill="#ff3a29" d="M2522 820l38-28-53-23-37 28z"/><path fill="#ff3b29" d="M2431 825l39-28-52-23-39 28z"/><path fill="#ff3328" d="M3027 821l35-28-55-23-35 27z"/><path fill="#ff3929" d="M333 816l50-27-6-14-50 27z"/><path fill="#ff3d29" d="M2341 830l38-28-51-24-39 29z"/><path fill="#ce9a32" d="M1065 980l46-33-44-7-46 33z"/><path fill="#ff3428" d="M2937 825l35-28-54-23-36 28z"/><path fill="#ff3f29" d="M2250 835l39-28-51-24-39 29z"/><path fill="#ff3528" d="M2846 830l36-28-53-23-37 27z"/><path fill="#ff422a" d="M2159 841l40-29-51-23-40 28z"/><path fill="#e09533" d="M1156 958l45-32-45-12-45 33z"/><path fill="#ff462a" d="M2068 846l40-29-50-22-40 29z"/><path fill="#ff3629" d="M2756 834l36-28-53-23-37 28z"/><path fill="#777128" d="M840 1074l47-32-20 7-47 32z"/><path fill="#ff4b2a" d="M1977 853l41-29-50-22-41 30z"/><path fill="#ec8d32" d="M1246 940l45-32-45-14-45 32z"/><path fill="#ff522b" d="M1885 862l42-30-49-22-42 30z"/><path fill="#5f6126" d="M772 1112l48-31-20 10-47 31z"/><path fill="#ff3829" d="M2665 839l37-28-53-24-37 28z"/><path fill="#ff592c" d="M1794 870l42-30-49-22-42 30z"/><path fill="#4c5525" d="M705 1154l48-32-19 12-48 32z"/><path fill="#f48432" d="M1337 924l45-32-46-16-45 32z"/><path fill="#364423" d="M638 1196l48-30-18 15-48 30z"/><path fill="#9f882e" d="M929 1038l46-32-42 3-46 33z"/><path fill="#ff602d" d="M1703 879l42-31-48-22-43 31z"/><path fill="#f97a30" d="M1429 910l44-32-47-17-44 31z"/><path fill="#ff3929" d="M2574 844l38-29-52-23-38 28z"/><path fill="#ff682e" d="M1611 887l43-30-48-21-43 30z"/><path fill="#ff702f" d="M1520 898l43-32-47-19-43 31z"/><path fill="#ff3b29" d="M2483 849l39-29-52-23-39 28z"/><path fill="#ff3d29" d="M2392 854l39-29-52-23-38 28z"/><path fill="#cb9b32" d="M1019 1012l46-32-44-7-46 33z"/><path fill="#ff3428" d="M2991 849l36-28-55-24-35 28z"/><path fill="#ff3f29" d="M2301 859l40-29-52-23-39 28z"/><path fill="#ff3528" d="M2901 853l36-28-55-23-36 28z"/><path fill="#ff422a" d="M2210 864l40-29-51-23-40 29z"/><path fill="#de9733" d="M1110 990l46-32-45-11-46 33z"/><path fill="#ff442a" d="M2119 870l40-29-51-24-40 29z"/><path fill="#ff3629" d="M2810 858l36-28-54-24-36 28z"/><path fill="#ff482a" d="M2027 876l41-30-50-22-41 29z"/><path fill="#746f28" d="M792 1105l48-31-20 7-48 31z"/><path fill="#ff3829" d="M2719 863l37-29-54-23-37 28z"/><path fill="#e98f33" d="M1201 972l45-32-45-14-45 32z"/><path fill="#ff4f2b" d="M1935 883l42-30-50-21-42 30z"/><path fill="#ff562c" d="M1844 892l41-30-49-22-42 30z"/><path fill="#5c5f26" d="M724 1144l48-32-19 10-48 32z"/><path fill="#f28732" d="M1293 956l44-32-46-16-45 32z"/><path fill="#ff3929" d="M2627 867l38-28-53-24-38 29z"/><path fill="#ff5e2c" d="M1752 901l42-31-49-22-42 31z"/><path fill="#9c872e" d="M882 1069l47-31-42 4-47 32z"/><path fill="#4b5425" d="M657 1184l48-30-19 12-48 30z"/><path fill="#ff652d" d="M1660 910l43-31-49-22-43 30z"/><path fill="#f87e31" d="M1384 942l45-32-47-18-45 32z"/><path fill="#ff6d2f" d="M1568 919l43-32-48-21-43 32z"/><path fill="#fe7430" d="M1476 929l44-31-47-20-44 32z"/><path fill="#ff3b29" d="M2536 872l38-28-52-24-39 29z"/><path fill="#ff3d29" d="M2445 878l38-29-52-24-39 29z"/><path fill="#ff3f29" d="M2353 883l39-29-51-24-40 29z"/><path fill="#c89b33" d="M972 1044l47-32-44-6-46 32z"/><path fill="#ff3528" d="M2955 877l36-28-54-24-36 28z"/><path fill="#ff412a" d="M2261 888l40-29-51-24-40 29z"/><path fill="#ff442a" d="M2170 894l40-30-51-23-40 29z"/><path fill="#ff3628" d="M2864 882l37-29-55-23-36 28z"/><path fill="#db9933" d="M1064 1023l46-33-45-10-46 32z"/><path fill="#ff472a" d="M2078 900l41-30-51-24-41 30z"/><path fill="#ff3729" d="M2773 887l37-29-54-24-37 29z"/><path fill="#ff4b2a" d="M1986 906l41-30-50-23-42 30z"/><path fill="#e79233" d="M1155 1004l46-32-45-14-46 32z"/><path fill="#726e28" d="M744 1136l48-31-20 7-48 32z"/><path fill="#ff522b" d="M1893 914l42-31-50-21-41 30z"/><path fill="#ff3929" d="M2681 891l38-28-54-24-38 28z"/><path fill="#ff5b2c" d="M1801 923l43-31-50-22-42 31z"/><path fill="#f18a32" d="M1247 988l46-32-47-16-45 32z"/><path fill="#5b5e26" d="M676 1174l48-30-19 10-48 30z"/><path fill="#ff622d" d="M1709 932l43-31-49-22-43 31z"/><path fill="#9a862e" d="M834 1100l48-31-42 5-48 31z"/><path fill="#ff3a29" d="M2589 896l38-29-53-23-38 28z"/><path fill="#f68231" d="M1339 973l45-31-47-18-44 32z"/><path fill="#ff692e" d="M1616 941l44-31-49-23-43 32z"/><path fill="#fc7830" d="M1432 961l44-32-47-19-45 32z"/><path fill="#ff7130" d="M1524 950l44-31-48-21-44 31z"/><path fill="#ff3c29" d="M2498 902l38-30-53-23-38 29z"/><path fill="#ff3f29" d="M2406 907l39-29-53-24-39 29z"/><path fill="#ff412a" d="M2313 912l40-29-52-24-40 29z"/><path fill="#c59b33" d="M925 1075l47-31-43-6-47 31z"/><path fill="#ff432a" d="M2221 918l40-30-51-24-40 30z"/><path fill="#ff3628" d="M2919 906l36-29-54-24-37 29z"/><path fill="#ff462a" d="M2129 924l41-30-51-24-41 30z"/><path fill="#d99b33" d="M1017 1054l47-31-45-11-47 32z"/><path fill="#ff3729" d="M2827 911l37-29-54-24-37 29z"/><path fill="#ff4a2a" d="M2036 930l42-30-51-24-41 30z"/><path fill="#ff3829" d="M2735 916l38-29-54-24-38 28z"/><path fill="#e59433" d="M1109 1036l46-32-45-14-46 33z"/><path fill="#ff4f2b" d="M1944 936l42-30-51-23-42 31z"/><path fill="#706c27" d="M695 1166l49-30-20 8-48 30z"/><path fill="#ff562b" d="M1851 944l42-30-49-22-43 31z"/><path fill="#ff3a29" d="M2643 921l38-30-54-24-38 29z"/><path fill="#ff5f2c" d="M1758 954l43-31-49-22-43 31z"/><path fill="#ef8d33" d="M1201 1020l46-32-46-16-46 32z"/><path fill="#ff662e" d="M1665 964l44-32-49-22-44 31z"/><path fill="#f48431" d="M1294 1005l45-32-46-17-46 32z"/><path fill="#98862e" d="M785 1131l49-31-42 5-48 31z"/><path fill="#ff6d2f" d="M1573 973l43-32-48-22-44 31z"/><path fill="#ff3c29" d="M2551 926l38-30-53-24-38 30z"/><path fill="#fb7c31" d="M1387 992l45-31-48-19-45 31z"/><path fill="#ff7530" d="M1480 982l44-32-48-21-44 32z"/><path fill="#ff3e29" d="M2459 931l39-29-53-24-39 29z"/><path fill="#ff4029" d="M2366 937l40-30-53-24-40 29z"/><path fill="#c39b33" d="M877 1106l48-31-43-6-48 31z"/><path fill="#ff432a" d="M2273 942l40-30-52-24-40 30z"/><path fill="#ff462a" d="M2181 948l40-30-51-24-41 30z"/><path fill="#ff3729" d="M2883 935l36-29-55-24-37 29z"/><path fill="#d89c33" d="M969 1086l48-32-45-10-47 31z"/><path fill="#ff492a" d="M2088 954l41-30-51-24-42 30z"/><path fill="#ff3829" d="M2790 940l37-29-54-24-38 29z"/><path fill="#ff4d2b" d="M1995 960l41-30-50-24-42 30z"/><path fill="#e49633" d="M1062 1068l47-32-45-13-47 31z"/><path fill="#ff3a29" d="M2698 945l37-29-54-25-38 30z"/><path fill="#ff522b" d="M1901 967l43-31-51-22-42 30z"/><path fill="#ff5a2c" d="M1808 975l43-31-50-21-43 31z"/><path fill="#ff632d" d="M1715 986l43-32-49-22-44 32z"/><path fill="#ed8f33" d="M1155 1052l46-32-46-16-46 32z"/><path fill="#ff3c29" d="M2605 950l38-29-54-25-38 30z"/><path fill="#ff6a2e" d="M1622 995l43-31-49-23-43 32z"/><path fill="#f38632" d="M1248 1037l46-32-47-17-46 32z"/><path fill="#ff7130" d="M1528 1004l45-31-49-23-44 32z"/><path fill="#fa7f31" d="M1341 1024l46-32-48-19-45 32z"/><path fill="#ff7931" d="M1435 1013l45-31-48-21-45 31z"/><path fill="#97852e" d="M736 1162l49-31-41 5-49 30z"/><path fill="#ff3e29" d="M2512 956l39-30-53-24-39 29z"/><path fill="#ff4029" d="M2419 961l40-30-53-24-40 30z"/><path fill="#ff432a" d="M2326 967l40-30-53-25-40 30z"/><path fill="#c29b33" d="M829 1137l48-31-43-6-49 31z"/><path fill="#ff452a" d="M2233 973l40-31-52-24-40 30z"/><path fill="#ff482a" d="M2139 979l42-31-52-24-41 30z"/><path fill="#ff3829" d="M2845 965l38-30-56-24-37 29z"/><path fill="#d79d33" d="M921 1117l48-31-44-11-48 31z"/><path fill="#ff4c2b" d="M2046 985l42-31-52-24-41 30z"/><path fill="#ff3929" d="M2752 970l38-30-55-24-37 29z"/><path fill="#ff502b" d="M1952 991l43-31-51-24-43 31z"/><path fill="#e29733" d="M1015 1099l47-31-45-14-48 32z"/><path fill="#ff562b" d="M1859 998l42-31-50-23-43 31z"/><path fill="#ff3b29" d="M2659 975l39-30-55-24-38 29z"/><path fill="#ff5d2c" d="M1765 1007l43-32-50-21-43 32z"/><path fill="#ff672e" d="M1671 1017l44-31-50-22-43 31z"/><path fill="#ec9033" d="M1108 1084l47-32-46-16-47 32z"/><path fill="#ff6e2f" d="M1577 1027l45-32-49-22-45 31z"/><path fill="#ff3d29" d="M2566 980l39-30-54-24-39 30z"/><path fill="#f28832" d="M1202 1069l46-32-47-17-46 32z"/><path fill="#ff7530" d="M1483 1036l45-32-48-22-45 31z"/><path fill="#f98232" d="M1295 1056l46-32-47-19-46 32z"/><path fill="#ff7c31" d="M1389 1045l46-32-48-21-46 32z"/><path fill="#ff3f29" d="M2473 986l39-30-53-25-40 30z"/><path fill="#ff422a" d="M2379 992l40-31-53-24-40 30z"/><path fill="#ff452a" d="M2286 998l40-31-53-25-40 31z"/><path fill="#ff482a" d="M2192 1004l41-31-52-25-42 31z"/><path fill="#c19b33" d="M779 1168l50-31-44-6-49 31z"/><path fill="#ff4b2b" d="M2098 1010l41-31-51-25-42 31z"/><path fill="#ff3929" d="M2808 995l37-30-55-25-38 30z"/><path fill="#ff4f2b" d="M2004 1016l42-31-51-25-43 31z"/><path fill="#d69d33" d="M873 1148l48-31-44-11-48 31z"/><path fill="#ff3b29" d="M2714 1000l38-30-54-25-39 30z"/><path fill="#ff532b" d="M1910 1023l42-32-51-24-42 31z"/><path fill="#e19833" d="M967 1130l48-31-46-13-48 31z"/><path fill="#ff592c" d="M1815 1030l44-32-51-23-43 32z"/><path fill="#ff3d29" d="M2621 1005l38-30-54-25-39 30z"/><path fill="#ff602c" d="M1721 1038l44-31-50-21-44 31z"/><path fill="#ff6a2e" d="M1627 1049l44-32-49-22-45 32z"/><path fill="#eb9233" d="M1061 1115l47-31-46-16-47 31z"/><path fill="#ff7230" d="M1532 1059l45-32-49-23-45 32z"/><path fill="#f08a32" d="M1155 1101l47-32-47-17-47 32z"/><path fill="#ff3f29" d="M2527 1011l39-31-54-24-39 30z"/><path fill="#ff7931" d="M1438 1068l45-32-48-23-46 32z"/><path fill="#f88432" d="M1249 1088l46-32-47-19-46 32z"/><path fill="#ff7f32" d="M1343 1077l46-32-48-21-46 32z"/><path fill="#ff412a" d="M2433 1017l40-31-54-25-40 31z"/><path fill="#ff442a" d="M2339 1023l40-31-53-25-40 31z"/><path fill="#ff472a" d="M2245 1029l41-31-53-25-41 31z"/><path fill="#ff4b2a" d="M2150 1035l42-31-53-25-41 31z"/><path fill="#ff4f2b" d="M2056 1042l42-32-52-25-42 31z"/><path fill="#ff3a29" d="M2770 1025l38-30-56-25-38 30z"/><path fill="#ff522b" d="M1961 1048l43-32-52-25-42 32z"/><path fill="#d59e33" d="M824 1179l49-31-44-11-50 31z"/><path fill="#ff562c" d="M1867 1055l43-32-51-25-44 32z"/><path fill="#ff3c29" d="M2676 1031l38-31-55-25-38 30z"/><path fill="#ff5c2c" d="M1772 1062l43-32-50-23-44 31z"/><path fill="#e19834" d="M918 1162l49-32-46-13-48 31z"/><path fill="#ff632d" d="M1677 1070l44-32-50-21-44 32z"/><path fill="#ff3e29" d="M2582 1036l39-31-55-25-39 31z"/><path fill="#ff6d2f" d="M1582 1081l45-32-50-22-45 32z"/><path fill="#ea9233" d="M1012 1146l49-31-46-16-48 31z"/><path fill="#ff7530" d="M1487 1092l45-33-49-23-45 32z"/><path fill="#ff7c32" d="M1392 1100l46-32-49-23-46 32z"/><path fill="#ef8b32" d="M1107 1132l48-31-47-17-47 31z"/><path fill="#ff412a" d="M2487 1042l40-31-54-25-40 31z"/><path fill="#ff8132" d="M1297 1109l46-32-48-21-46 32z"/><path fill="#f78532" d="M1202 1120l47-32-47-19-47 32z"/><path fill="#ff442a" d="M2393 1048l40-31-54-25-40 31z"/><path fill="#ff472a" d="M2298 1054l41-31-53-25-41 31z"/><path fill="#ff4a2a" d="M2203 1061l42-32-53-25-42 31z"/><path fill="#ff4e2b" d="M2108 1067l42-32-52-25-42 32z"/><path fill="#ff522b" d="M2013 1074l43-32-52-26-43 32z"/><path fill="#ff552b" d="M1918 1080l43-32-51-25-43 32z"/><path fill="#ff3c29" d="M2731 1056l39-31-56-25-38 31z"/><path fill="#ff5a2c" d="M1823 1087l44-32-52-25-43 32z"/><path fill="#ff3e29" d="M2637 1062l39-31-55-26-39 31z"/><path fill="#ff5f2c" d="M1728 1094l44-32-51-24-44 32z"/><path fill="#e09934" d="M869 1193l49-31-45-14-49 31z"/><path fill="#fe652d" d="M1632 1103l45-33-50-21-45 32z"/><path fill="#ff6f2f" d="M1537 1114l45-33-50-22-45 33z"/><path fill="#ff4029" d="M2542 1067l40-31-55-25-40 31z"/><path fill="#ff7831" d="M1441 1124l46-32-49-24-46 32z"/><path fill="#e99333" d="M964 1178l48-32-45-16-49 32z"/><path fill="#ff7e32" d="M1346 1133l46-33-49-23-46 32z"/><path fill="#ef8c32" d="M1059 1164l48-32-46-17-49 31z"/><path fill="#ff432a" d="M2447 1073l40-31-54-25-40 31z"/><path fill="#ff8432" d="M1250 1141l47-32-48-21-47 32z"/><path fill="#f68632" d="M1154 1151l48-31-47-19-48 31z"/><path fill="#ff462a" d="M2352 1080l41-32-54-25-41 31z"/><path fill="#ff492a" d="M2257 1086l41-32-53-25-42 32z"/><path fill="#ff4d2b" d="M2161 1093l42-32-53-26-42 32z"/><path fill="#ff512b" d="M2066 1099l42-32-52-25-43 32z"/><path fill="#ff552b" d="M1970 1106l43-32-52-26-43 32z"/><path fill="#ff582c" d="M1875 1112l43-32-51-25-44 32z"/><path fill="#ff3d29" d="M2693 1087l38-31-55-25-39 31z"/><path fill="#ff5d2c" d="M1779 1119l44-32-51-25-44 32z"/><path fill="#ff3f29" d="M2597 1093l40-31-55-26-40 31z"/><path fill="#ff622d" d="M1683 1126l45-32-51-24-45 33z"/><path fill="#fd672d" d="M1587 1135l45-32-50-22-45 33z"/><path fill="#ff722f" d="M1491 1146l46-32-50-22-46 32z"/><path fill="#ff422a" d="M2502 1099l40-32-55-25-40 31z"/><path fill="#ff7a31" d="M1395 1156l46-32-49-24-46 33z"/><path fill="#e99333" d="M914 1209l50-31-46-16-49 31z"/><path fill="#ff8132" d="M1299 1165l47-32-49-24-47 32z"/><path fill="#ee8c32" d="M1010 1195l49-31-47-18-48 32z"/><path fill="#ff452a" d="M2406 1105l41-32-54-25-41 32z"/><path fill="#fe8533" d="M1203 1173l47-32-48-21-48 31z"/><path fill="#f58732" d="M1106 1183l48-32-47-19-48 32z"/><path fill="#ff492a" d="M2311 1112l41-32-54-26-41 32z"/><path fill="#ff4c2b" d="M2215 1118l42-32-54-25-42 32z"/><path fill="#ff502b" d="M2119 1125l42-32-53-26-42 32z"/><path fill="#ff542b" d="M2023 1132l43-33-53-25-43 32z"/><path fill="#ff582c" d="M1927 1138l43-32-52-26-43 32z"/><path fill="#ff5b2c" d="M1830 1145l45-33-52-25-44 32z"/><path fill="#ff3f29" d="M2653 1119l40-32-56-25-40 31z"/><path fill="#ff5f2c" d="M1734 1151l45-32-51-25-45 32z"/><path fill="#ff412a" d="M2557 1125l40-32-55-26-40 32z"/><path fill="#ff642d" d="M1638 1158l45-32-51-23-45 32z"/><path fill="#fc692d" d="M1541 1167l46-32-50-21-46 32z"/><path fill="#ff7430" d="M1445 1179l46-33-50-22-46 32z"/><path fill="#ff442a" d="M2461 1131l41-32-55-26-41 32z"/><path fill="#ff7d32" d="M1348 1189l47-33-49-23-47 32z"/><path fill="#ff8333" d="M1251 1197l48-32-49-24-47 32z"/><path fill="#ff482a" d="M2365 1138l41-33-54-25-41 32z"/><path fill="#ee8c32" d="M961 1227l49-32-46-17-50 31z"/><path fill="#fe8633" d="M1154 1205l49-32-49-22-48 32z"/><path fill="#f58832" d="M1058 1215l48-32-47-19-49 31z"/><path fill="#ff4b2a" d="M2269 1144l42-32-54-26-42 32z"/><path fill="#ff4f2b" d="M2173 1151l42-33-54-25-42 32z"/><path fill="#ff532b" d="M2076 1158l43-33-53-26-43 33z"/><path fill="#ff572c" d="M1979 1165l44-33-53-26-43 32z"/><path fill="#ff5a2c" d="M1883 1171l44-33-52-26-45 33z"/><path fill="#ff5e2c" d="M1786 1178l44-33-51-26-45 32z"/><path fill="#ff4129" d="M2613 1151l40-32-56-26-40 32z"/><path fill="#ff622d" d="M1689 1184l45-33-51-25-45 32z"/><path fill="#ff432a" d="M2517 1157l40-32-55-26-41 32z"/><path fill="#ff662e" d="M1592 1191l46-33-51-23-46 32z"/><path fill="#fc6b2e" d="M1495 1200l46-33-50-21-46 33z"/><path fill="#ff7630" d="M1398 1212l47-33-50-23-47 33z"/><path fill="#ff472a" d="M2420 1164l41-33-55-26-41 33z"/><path fill="#ff7e32" d="M1300 1221l48-32-49-24-48 32z"/><path fill="#ff8433" d="M1203 1229l48-32-48-24-49 32z"/><path fill="#ff4a2a" d="M2324 1171l41-33-54-26-42 32z"/><path fill="#fe8633" d="M1106 1238l48-33-48-22-48 32z"/><path fill="#f58832" d="M1008 1247l50-32-48-20-49 32z"/><path fill="#ff4e2b" d="M2227 1177l42-33-54-26-42 33z"/><path fill="#ff522b" d="M2130 1184l43-33-54-26-43 33z"/><path fill="#ff562b" d="M2033 1191l43-33-53-26-44 33z"/><path fill="#ff5a2c" d="M1936 1198l43-33-52-27-44 33z"/><path fill="#ff5d2c" d="M1838 1204l45-33-53-26-44 33z"/><path fill="#ff602d" d="M1741 1211l45-33-52-27-45 33z"/><path fill="#ff432a" d="M2573 1184l40-33-56-26-40 32z"/><path fill="#ff642d" d="M1643 1217l46-33-51-26-46 33z"/><path fill="#ff462a" d="M2476 1190l41-33-56-26-41 33z"/><path fill="#ff682e" d="M1546 1224l46-33-51-24-46 33z"/><path fill="#fb6d2e" d="M1448 1233l47-33-50-21-47 33z"/><path fill="#ff7730" d="M1350 1244l48-32-50-23-48 32z"/><path fill="#ff492a" d="M2379 1197l41-33-55-26-41 33z"/><path fill="#ff8032" d="M1252 1254l48-33-49-24-48 32z"/><path fill="#ff4d2b" d="M2282 1204l42-33-55-27-42 33z"/><path fill="#ff8433" d="M1154 1262l49-33-49-24-48 33z"/><path fill="#fd8733" d="M1056 1270l50-32-48-23-50 32z"/><path fill="#ff512b" d="M2184 1211l43-34-54-26-43 33z"/><path fill="#ff552b" d="M2087 1218l43-34-54-26-43 33z"/><path fill="#ff592c" d="M1989 1224l44-33-54-26-43 33z"/><path fill="#ff5c2c" d="M1891 1231l45-33-53-27-45 33z"/><path fill="#ff5f2c" d="M1793 1238l45-34-52-26-45 33z"/><path fill="#ff622d" d="M1695 1244l46-33-52-27-46 33z"/><path fill="#ff452a" d="M2532 1217l41-33-56-27-41 33z"/><path fill="#ff652e" d="M1597 1250l46-33-51-26-46 33z"/><path fill="#ff482a" d="M2435 1224l41-34-56-26-41 33z"/><path fill="#ff6a2e" d="M1499 1257l47-33-51-24-47 33z"/><path fill="#fa6e2e" d="M1400 1266l48-33-50-21-48 32z"/><path fill="#ff7830" d="M1302 1277l48-33-50-23-48 33z"/><path fill="#ff4c2b" d="M2337 1231l42-34-55-26-42 33z"/><path fill="#ff8032" d="M1204 1287l48-33-49-25-49 33z"/><path fill="#ff502b" d="M2239 1237l43-33-55-27-43 34z"/><path fill="#ff8533" d="M1105 1294l49-32-48-24-50 32z"/><path fill="#ff542b" d="M2141 1244l43-33-54-27-43 34z"/><path fill="#ff572c" d="M2043 1251l44-33-54-27-44 33z"/><path fill="#ff5b2c" d="M1944 1258l45-34-53-26-45 33z"/><path fill="#ff5f2c" d="M1846 1265l45-34-53-27-45 34z"/><path fill="#ff612d" d="M1748 1271l45-33-52-27-46 33z"/><path fill="#ff642d" d="M1649 1277l46-33-52-27-46 33z"/><path fill="#ff472a" d="M2491 1251l41-34-56-27-41 34z"/><path fill="#ff672e" d="M1550 1284l47-34-51-26-47 33z"/><path fill="#ff4b2a" d="M2393 1258l42-34-56-27-42 34z"/><path fill="#ff6b2e" d="M1451 1290l48-33-51-24-48 33z"/><path fill="#fa6f2e" d="M1352 1299l48-33-50-22-48 33z"/><path fill="#ff4e2b" d="M2294 1264l43-33-55-27-43 33z"/><path fill="#ff7930" d="M1253 1310l49-33-50-23-48 33z"/><path fill="#ff8132" d="M1154 1319l50-32-50-25-49 32z"/><path fill="#ff522b" d="M2196 1271l43-34-55-26-43 33z"/><path fill="#ff562c" d="M2097 1278l44-34-54-26-44 33z"/><path fill="#ff5a2c" d="M1999 1285l44-34-54-27-45 34z"/><path fill="#ff5e2c" d="M1900 1292l44-34-53-27-45 34z"/><path fill="#ff612d" d="M1801 1299l45-34-53-27-45 33z"/><path fill="#ff632d" d="M1701 1305l47-34-53-27-46 33z"/><path fill="#ff662e" d="M1602 1311l47-34-52-27-47 34z"/><path fill="#ff492a" d="M2449 1285l42-34-56-27-42 34z"/><path fill="#ff682e" d="M1503 1317l47-33-51-27-48 33z"/><path fill="#ff4d2b" d="M2351 1292l42-34-56-27-43 33z"/><path fill="#ff6b2e" d="M1403 1324l48-34-51-24-48 33z"/><path fill="#fa6f2e" d="M1304 1332l48-33-50-22-49 33z"/><path fill="#ff512b" d="M2251 1299l43-35-55-27-43 34z"/><path fill="#ff7931" d="M1204 1343l49-33-49-23-50 32z"/><path fill="#ff552b" d="M2152 1306l44-35-55-27-44 34z"/><path fill="#ff582c" d="M2053 1313l44-35-54-27-44 34z"/><path fill="#ff5c2c" d="M1954 1319l45-34-55-27-44 34z"/><path fill="#ff602c" d="M1854 1326l46-34-54-27-45 34z"/><path fill="#ff622d" d="M1755 1333l46-34-53-28-47 34z"/><path fill="#ff652d" d="M1655 1339l46-34-52-28-47 34z"/><path fill="#ff672e" d="M1555 1345l47-34-52-27-47 33z"/><path fill="#ff4c2b" d="M2407 1319l42-34-56-27-42 34z"/><path fill="#ff692e" d="M1455 1351l48-34-52-27-48 34z"/><path fill="#ff4f2b" d="M2308 1326l43-34-57-28-43 35z"/><path fill="#ff6c2e" d="M1355 1357l48-33-51-25-48 33z"/><path fill="#ff532b" d="M2208 1333l43-34-55-28-44 35z"/><path fill="#f96f2e" d="M1254 1366l50-34-51-22-49 33z"/><path fill="#ff572c" d="M2108 1340l44-34-55-28-44 35z"/><path fill="#ff5b2c" d="M2008 1347l45-34-54-28-45 34z"/><path fill="#ff5e2c" d="M1908 1354l46-35-54-27-46 34z"/><path fill="#ff612d" d="M1808 1361l46-35-53-27-46 34z"/><path fill="#ff642d" d="M1708 1367l47-34-54-28-46 34z"/><path fill="#ff662e" d="M1608 1373l47-34-53-28-47 34z"/><path fill="#ff682e" d="M1507 1379l48-34-52-28-48 34z"/><path fill="#ff4e2b" d="M2364 1354l43-35-56-27-43 34z"/><path fill="#ff6a2e" d="M1406 1385l49-34-52-27-48 33z"/><path fill="#ff522b" d="M2264 1361l44-35-57-27-43 34z"/><path fill="#ff6c2f" d="M1305 1391l50-34-51-25-50 34z"/><path fill="#ff552b" d="M2164 1368l44-35-56-27-44 34z"/><path fill="#ff592c" d="M2064 1375l44-35-55-27-45 34z"/><path fill="#ff5d2c" d="M1963 1382l45-35-54-28-46 35z"/><path fill="#ff602d" d="M1862 1389l46-35-54-28-46 35z"/><path fill="#ff632d" d="M1762 1395l46-34-53-28-47 34z"/><path fill="#ff652d" d="M1661 1402l47-35-53-28-47 34z"/><path fill="#ff672e" d="M1560 1408l48-35-53-28-48 34z"/><path fill="#ff682e" d="M1458 1413l49-34-52-28-49 34z"/><path fill="#ff502b" d="M2321 1389l43-35-56-28-44 35z"/><path fill="#ff542b" d="M2220 1396l44-35-56-28-44 35z"/><path fill="#ff6a2e" d="M1357 1419l49-34-51-28-50 34z"/><path fill="#ff582c" d="M2119 1403l45-35-56-28-44 35z"/><path fill="#ff5b2c" d="M2018 1410l46-35-56-28-45 35z"/><path fill="#ff5e2c" d="M1917 1417l46-35-55-28-46 35z"/><path fill="#ff612d" d="M1816 1424l46-35-54-28-46 34z"/><path fill="#ff642d" d="M1715 1430l47-35-54-28-47 35z"/><path fill="#ff662e" d="M1613 1436l48-34-53-29-48 35z"/><path fill="#ff672e" d="M1511 1442l49-34-53-29-49 34z"/><path fill="#ff522b" d="M2277 1424l44-35-57-28-44 35z"/><path fill="#ff682e" d="M1409 1448l49-35-52-28-49 34z"/><path fill="#ff562b" d="M2176 1432l44-36-56-28-45 35z"/><path fill="#ff592c" d="M2074 1439l45-36-55-28-46 35z"/><path fill="#ff5d2c" d="M1973 1446l45-36-55-28-46 35z"/><path fill="#ff602d" d="M1871 1452l46-35-55-28-46 35z"/><path fill="#ff622d" d="M1769 1459l47-35-54-29-47 35z"/><path fill="#ff642d" d="M1667 1465l48-35-54-28-48 34z"/><path fill="#ff662e" d="M1565 1471l48-35-53-28-49 34z"/><path fill="#ff672e" d="M1462 1477l49-35-53-29-49 35z"/><path fill="#ff542b" d="M2233 1460l44-36-57-28-44 36z"/><path fill="#ff582c" d="M2131 1467l45-35-57-29-45 36z"/><path fill="#ff5b2c" d="M2029 1474l45-35-56-29-45 36z"/><path fill="#ff5e2c" d="M1926 1481l47-35-56-29-46 35z"/><path fill="#ff612d" d="M1824 1488l47-36-55-28-47 35z"/><path fill="#ff632d" d="M1721 1494l48-35-54-29-48 35z"/><path fill="#ff652d" d="M1619 1501l48-36-54-29-48 35z"/><path fill="#ff662e" d="M1516 1507l49-36-54-29-49 35z"/><path fill="#ff562b" d="M2188 1496l45-36-57-28-45 35z"/><path fill="#ff592c" d="M2085 1503l46-36-57-28-45 35z"/><path fill="#ff5c2c" d="M1983 1510l46-36-56-28-47 35z"/><path fill="#ff5f2c" d="M1880 1517l46-36-55-29-47 36z"/><path fill="#ff612d" d="M1776 1524l48-36-55-29-48 35z"/><path fill="#ff642d" d="M1673 1530l48-36-54-29-48 36z"/><path fill="#ff652e" d="M1570 1536l49-35-54-30-49 36z"/><path fill="#ff572c" d="M2143 1533l45-37-57-29-46 36z"/><path fill="#ff5a2c" d="M2039 1540l46-37-56-29-46 36z"/><path fill="#ff5d2c" d="M1936 1547l47-37-57-29-46 36z"/><path fill="#ff602d" d="M1832 1553l48-36-56-29-48 36z"/><path fill="#ff622d" d="M1728 1560l48-36-55-30-48 36z"/><path fill="#ff642d" d="M1624 1566l49-36-54-29-49 35z"/><path fill="#ff582c" d="M2097 1569l46-36-58-30-46 37z"/><path fill="#ff5b2c" d="M1993 1576l46-36-56-30-47 37z"/><path fill="#ff5e2c" d="M1888 1583l48-36-56-30-48 36z"/><path fill="#ff602d" d="M1784 1590l48-37-56-29-48 36z"/><path fill="#ff622d" d="M1680 1596l48-36-55-30-49 36z"/><path fill="#ff592c" d="M2050 1606l47-37-58-29-46 36z"/><path fill="#ff5c2c" d="M1945 1613l48-37-57-29-48 36z"/><path fill="#ff5f2c" d="M1841 1620l47-37-56-30-48 37z"/><path fill="#ff612d" d="M1735 1627l49-37-56-30-48 36z"/><path fill="#ff5a2c" d="M2003 1644l47-38-57-30-48 37z"/><path fill="#ff5d2c" d="M1898 1651l47-38-57-30-47 37z"/><path fill="#ff5f2c" d="M1792 1657l49-37-57-30-49 37z"/><path fill="#ff5a2c" d="M1955 1681l48-37-58-31-47 38z"/><path fill="#ff5d2c" d="M1849 1688l49-37-57-31-49 37z"/><path fill="#ff5b2c" d="M1907 1719l48-38-57-30-49 37z"/></g></g>
<path fill="none" stroke="#a0a0a0" stroke-width=".6" d="M190.6 241.2L316.4 130.9M316.4 130.9L270.2 109.2M79.1 117.6L74.3 120.6M47 137.4L36.7 143.8M36.7 143.8L190.6 241.2M207.7 158.5L213 154.3M219.5 149.3L222 147.3M224.6 145.3L326.4 65.5M326.4 65.5L168.6 1M168.6 1L25.7 77.7M25.7 77.7L32.8 81.7M190.6 241.2L191.4 171.9M316.4 130.9L326.4 65.5M168.7 5.9L168.6 1M36.7 143.8L25.7 77.7"/>
<path fill="none" stroke="#777" stroke-opacity=".6" stroke-width=".6" d="M38.8 85L104.8 122.3"/>
<path fill="none" stroke="#d0d0d0" stroke-opacity=".35" stroke-width=".6" d="M191.4 171.2L199.7 164.8M202.4 162.7L206.4 159.5M214.3 153.3L218.2 150.3M34 82.3L37.6 84.4M106.2 123.1L191.4 171.2"/>
<path fill="none" stroke="#909090" stroke-width=".5" d="M193.8 238.4L190.2 236.1M186.8 238.8L189.8 236.2M207.9 226L205.9 224.8M169.9 228.1L171.5 226.7M221.5 214.1L219.5 213M153.5 217.7L155.2 216.4M234.6 202.6L232.6 201.5M137.7 207.7L139.3 206.4M247.2 191.6L245.2 190.5M122.3 198L124 196.7M259.4 180.9L255.9 179M107.4 188.6L110.5 186.3M271.1 170.6L269.2 169.6M93 179.4L94.7 178.2M282.4 160.7L280.5 159.7M79 170.6L80.7 169.4M293.4 151.1L291.5 150.1M65.4 162L67.1 160.9M304 141.8L302.1 140.9M52.2 153.7L54 152.6M314.2 132.8L310.8 131.2M39.4 145.6L42.5 143.6M26.2 80.5L29.5 78.7M28.6 95.1L31.9 93.2M30.9 109.2L34.2 107.3M33.2 122.8L36.4 121M35.4 136.1L38.5 134.2M35.8 138.7L37.5 137.7M35 133.5L36.7 132.4M34.5 130.8L36.3 129.8M34.1 128.2L35.8 127.2M33.6 125.5L35.4 124.5M32.7 120.1L34.5 119.1M32.3 117.4L34.1 116.4M31.8 114.7L33.6 113.6M31.4 111.9L33.2 110.9M30.5 106.4L32.3 105.3M30 103.6L31.8 102.5M29.5 100.8L31.3 99.7M29.1 97.9L30.9 96.9M28.1 92.2L29.9 91.2M27.6 89.3L29.5 88.3M27.1 86.4L29 85.4M26.7 83.5L28.5 82.4"/>
<path fill="none" stroke="#000" stroke-opacity=".42" stroke-width=".6" d="M200.3 164.4L139 131.7 127.7 126.6 115.1 120.3 108.9 117.6 102.9 115.2 95.5 112.7 90.4 111.2 85.5 110.2 82.7 110 80.1 110.3 77.5 111.1 75 112.4M73.8 113.2L73.2 113.6M69.7 117L65.4 122.8 61.5 130.8 60.5 132.1 59.9 132.5M55.6 127.3L53.6 121.1 52.3 116.2 48.8 100.9 44.8 81.2 43.5 76.9 42.6 74.8M179.2 165.7L210.8 141.2 268.8 95.3 309.1 64.1M209.7 156.9L148.6 125 137.2 120 124.6 114 118.5 111.2 112.4 108.9 105 106.4 99.9 105 95.7 104.1 92.9 103.8 90.2 103.9 87.5 104.6 85 105.7M83.1 106.8L81.9 107.6M74 116.8L70.5 123.7 69.4 124.9 68.8 125.2M63.7 117.8L61.4 109.5 59.9 102.8 54.4 75.7 53.2 71.5 52.3 69.6M168 159.6L199.7 135.6 258 90.4 298.5 59.8M218.8 149.6L157.9 118.5 146.6 113.5 131.6 106.5 124.8 103.7 117.3 101 112.1 99.4 106.4 97.9 102.2 97.3 99.4 97.3 96.7 97.9 93.5 99.1 90.4 100.9M73.2 111.9L71.3 106.3 70.1 101.8 67.2 87.9 63.8 70.1 62.7 66.2 61.8 64.4M157 153.6L188.8 130 247.4 85.6 288.2 55.5M227.7 142.4L167 111.9 155.7 107 140.8 100.1 130.9 96.2 124.2 93.9 118.3 92.1 113.3 91 109.8 90.6 107.1 90.7 103.7 91.5 99.9 93.2 97.4 94.9M96.1 95.9L95.5 96.5M83.1 105.6L81.6 102.9 80.8 100.8 78.7 93.5 76.1 80.8 73 64.6 71.9 61 71.1 59.3M146.2 147.7L178.2 124.6 237 80.9 278 51.3M236.4 135.4L175.1 105.1 164.6 100.6 147.4 92.8 139 89.6 130.1 86.5 124.3 84.8 120.1 84 117.3 83.7 113.9 84.1 109.9 85.1 107.3 86.2 104.7 87.8 101 90.5 99.2 92.2M94.6 97.2L93.4 97.3 92.7 97.1 92 96.6 90.6 94.5 89 91.2 87.1 84.7 86 79.6 82 59.1 81 55.9 80.2 54.4M135.7 141.9L167.8 119.2 226.7 76.3 268.1 47.1M244.9 128.5L182.9 98.5 153.8 85.6 142.6 81.3 134.5 78.7 129.5 77.4 125.9 76.8 122.5 76.9 117.7 77.6 114.5 78.8 108.7 81.8 104.5 85.6 103.3 86.4 102.1 86.8 100.8 86.5 99.4 85.2 97.9 82.9 96.3 78.8 94.3 71.2 90.8 53.6 89.9 50.9 89.1 49.5M125.4 136.6L143.4 124.3 157.6 114.3 197.3 85.6 216.7 71.8 258.2 43.1M253.2 121.7L191.5 92.3 162.4 79.4 151.1 75 142.3 72 138 70.7 134.4 70 130.9 69.8 126.1 70 122.8 70.7 116.9 72.7 112.6 75.5 111.3 76.1 110 76.2 108.7 75.9 107.4 74.7 105.9 72.7 104.4 69.2 102.6 62.8 99.4 48.2 98.6 45.9 97.9 44.8M115.4 131.9L133.4 119.9 147.6 109.9 187.4 81.2 206.9 67.5 248.6 39.1M261.3 115.1L199.8 86.2 170.8 73.4 159.5 68.9 150.7 65.7 146.4 64.3 142.8 63.4 139.3 62.9 134.4 62.6 131 62.8 125 63.9 120.5 65.7 119.3 66 118 66 116.6 65.6 115.3 64.6 113.9 62.9 112.4 60 110.7 54.7 107.9 43 107.1 41.1 106.4 40.2M105.6 127L123.6 115.1 137.8 105.3 177.7 76.8 197.3 63.2 239.2 35.2M269.3 108.7L207.9 80.4 179 67.7 167.7 63.1 158.9 59.7 151 57.2 147.5 56.5 142.6 55.8 139.2 55.6 133.1 55.9 127.2 57 125.9 56.9 124.5 56.4 123.2 55.5 121.8 54 120.4 51.6 118.8 47.4 116.2 37.9 115.5 36.4 114.8 35.6M96.1 122.7L114 111 128.3 101.3 168.2 72.8 187.8 59.2 211.8 43.1 229.9 31.3M277 102.5L215.9 74.8 187.1 62.1 167 54 159.1 51.3 150.6 49.4 147.2 48.9 141.1 48.5 135.1 48.7 133.7 48.5 132.4 48 131 47.1 129.7 45.9 128.3 43.9 126.8 40.5 124.4 33.1 123.7 31.8 123 31.1M86.9 119.3L104.8 107.7 119 98 133.4 87.7 158.9 69 178.5 55.3 203.2 38.9 220.7 27.6M284.5 96.5L223.7 69.3 194.9 56.8 174.9 48.6 167 45.7 158.5 43.3 148.9 41.6 142.9 41.1 140.2 40.3 137.5 38.4 136.1 36.8 134.7 34.1 132.4 28.3 131.7 27.4 131 26.8M77.9 116.8L95.8 105.4 110 95.5 124.3 85 149.8 65.7 169.4 51.7 194.1 35.2 211.7 23.8M291.9 90.6L231.3 63.9 202.7 51.6 182.7 43.3 174.8 40.3 166.3 37.6 156.7 35.3 150.6 34.3 147.9 33.4 145.2 31.7 143.8 30.3 142.4 28.2 140.3 23.8 138.9 22.5M69.5 116.6L87.3 105.2 101.3 95 115.6 83.9 140.9 63.4 160.4 48.7 169.9 42 185.2 31.6 202.9 20.2M299.1 84.9L238.8 58.8 210.2 46.5 190.3 38.3 181.7 34.9 173.3 32 164.3 29.4 158.2 27.9 155.5 26.9 152.8 25.4 151.4 24.3 150.1 22.7 148 19.4 146.7 18.3M62 121.1L67.4 117.7M84.6 105.5L85.4 104.9M86.8 103.8L89 102M90.4 100.9L96.9 95.5 106.6 86.8 132.3 63 146 51.3 155.5 43.7 164.9 36.8 180.7 25.6 194.2 16.6M306.2 79.3L246.1 53.7 197.8 33.4 180.8 26.8 163 20.7 158.9 18.4 157.6 17.3 155.6 15 154.2 14.2M55.4 130.1L63.7 124.5 74 116.8M92.9 99L101.6 89.6 123.3 65.1 131.1 57.2 138.8 49.9 148.3 41.4 157.6 33.8 172.7 22.1 185.6 13.1M313.1 73.9L205.1 28.6 188.1 21.8 170.4 15 166.3 13.1 163 10.8 161.7 10.1M49.2 138.5L52.2 136.5M86.3 104.3L94.2 94.5 115.3 66.6 122.9 57.6 131.2 48.7 140.5 39.4 149.8 31.2 164.3 19.1 177.2 9.6"/><g font-size="5.3" fill="#333" text-anchor="middle"><text x="21.1" y="85.8">0</text><text x="22.7" y="100.6">−1</text><text x="25.1" y="114.9">−2</text><text x="27.0" y="128.9">−3</text><text x="28.5" y="142.1">−4</text><text x="32.3" y="151.6">1.0</text><text x="100.7" y="195.5">0.5</text><text x="178.0" y="245.7">0.0</text><text x="200.5" y="245.5">0.0</text><text x="266.5" y="187.3">0.5</text><text x="322.3" y="138.5">1.0</text></g><text transform="translate(1.0 130.1) scale(.88 1)" font-size="14.3" font-style="italic" fill="#111">U<tspan font-size="10" dy="2">4</tspan></text><text x="88.3" y="210.5" font-size="14" text-anchor="middle" fill="#111">y</text><text x="279.5" y="198.2" font-size="14" text-anchor="middle" fill="#111">x</text>
<g filter="url(#bl)"><g transform="scale(.1)" shape-rendering="crispEdges"><path fill="#f82d25" d="M5295 412l37-13-5-1-37 13z"/><path fill="#f82d25" d="M5300 414l37-13-5-2-37 13z"/><path fill="#f92e25" d="M5305 415l37-13-5-1-37 13z"/><path fill="#f92e25" d="M5310 417l36-13-4-2-37 13z"/><path fill="#f92e26" d="M5314 419l37-14-5-1-36 13z"/><path fill="#fa2e26" d="M5319 420l37-13-5-2-37 14z"/><path fill="#fa2e26" d="M5324 422l37-14-5-1-37 13z"/><path fill="#fb2e26" d="M5329 424l37-14-5-2-37 14z"/><path fill="#fd2f26" d="M5334 426l37-15-5-1-37 14z"/><path fill="#f92d25" d="M5258 425l37-13-5-1-37 13z"/><path fill="#fe2f26" d="M5339 427l36-14-4-2-37 15z"/><path fill="#fa2e26" d="M5263 427l37-13-5-2-37 13z"/><path fill="#ff3026" d="M5343 429l37-14-5-2-36 14z"/><path fill="#fb2e26" d="M5268 429l37-14-5-1-37 13z"/><path fill="#fe3026" d="M5348 431l37-15-5-1-37 14z"/><path fill="#fb2e26" d="M5272 430l38-13-5-2-37 14z"/><path fill="#ff3127" d="M5353 433l37-15-5-2-37 15z"/><path fill="#fc2f26" d="M5277 432l37-13-4-2-38 13z"/><path fill="#ff3127" d="M5358 435l37-16-5-1-37 15z"/><path fill="#fe2f26" d="M5282 434l37-14-5-1-37 13z"/><path fill="#ff3127" d="M5363 437l37-16-5-2-37 16z"/><path fill="#ff3027" d="M5287 436l37-14-5-2-37 14z"/><path fill="#fe3127" d="M5368 439l37-17-5-1-37 16z"/><path fill="#ff3127" d="M5292 438l37-14-5-2-37 14z"/><path fill="#ff3228" d="M5297 440l37-14-5-2-37 14z"/><path fill="#f92e26" d="M5220 438l38-13-5-1-37 13z"/><path fill="#ff3428" d="M5301 442l38-15-5-1-37 14z"/><path fill="#fe3227" d="M5388 446l36-18-19-6-37 17z"/><path fill="#fb2e26" d="M5225 440l38-13-5-2-38 13z"/><path fill="#ff3528" d="M5306 445l37-16-4-2-38 15z"/><path fill="#fd2f26" d="M5230 442l38-13-5-2-38 13z"/><path fill="#ff3628" d="M5311 447l37-16-5-2-37 16z"/><path fill="#fd2f26" d="M5235 444l37-14-4-1-38 13z"/><path fill="#ff3729" d="M5316 449l37-16-5-2-37 16z"/><path fill="#ff3027" d="M5240 446l37-14-5-2-37 14z"/><path fill="#ff3829" d="M5321 452l37-17-5-2-37 16z"/><path fill="#fd3227" d="M5407 453l37-18-20-7-36 18z"/><path fill="#ff3127" d="M5245 448l37-14-5-2-37 14z"/><path fill="#ff3929" d="M5326 454l37-17-5-2-37 17z"/><path fill="#ff3228" d="M5249 450l38-14-5-2-37 14z"/><path fill="#ff3a29" d="M5331 456l37-17-5-2-37 17z"/><path fill="#ff3328" d="M5254 452l38-14-5-2-38 14z"/><path fill="#ff3528" d="M5259 455l38-15-5-2-38 14z"/><path fill="#fc3226" d="M5427 460l37-19-20-6-37 18z"/><path fill="#ff3b29" d="M5350 465l38-19-20-7-37 17z"/><path fill="#fa2e26" d="M5183 452l37-14-4-1-38 13z"/><path fill="#ff3629" d="M5264 457l37-15-4-2-38 15z"/><path fill="#fd2f26" d="M5187 453l38-13-5-2-37 14z"/><path fill="#ff3829" d="M5269 460l37-15-5-3-37 15z"/><path fill="#ff3a29" d="M5274 463l37-16-5-2-37 15z"/><path fill="#ff2f26" d="M5192 455l38-13-5-2-38 13z"/><path fill="#ff3c29" d="M5279 466l37-17-5-2-37 16z"/><path fill="#ff3027" d="M5197 457l38-13-5-2-38 13z"/><path fill="#ff3e29" d="M5284 469l37-17-5-3-37 17z"/><path fill="#ff3c28" d="M5370 473l37-20-19-7-38 19z"/><path fill="#fb3326" d="M5447 466l37-19-20-6-37 19z"/><path fill="#ff3127" d="M5202 459l38-13-5-2-38 13z"/><path fill="#ff4029" d="M5288 472l38-18-5-2-37 17z"/><path fill="#ff3328" d="M5207 462l38-14-5-2-38 13z"/><path fill="#ff412a" d="M5293 475l38-19-5-2-38 18z"/><path fill="#ff3428" d="M5212 464l37-14-4-2-38 14z"/><path fill="#ff3528" d="M5216 466l38-14-5-2-37 14z"/><path fill="#fd3d28" d="M5390 480l37-20-20-7-37 20z"/><path fill="#ff3729" d="M5221 470l38-15-5-3-38 14z"/><path fill="#ff442a" d="M5313 485l37-20-19-9-38 19z"/><path fill="#fa3226" d="M5467 472l37-19-20-6-37 19z"/><path fill="#ff3929" d="M5226 473l38-16-5-2-38 15z"/><path fill="#fb2e26" d="M5144 465l39-13-5-2-39 13z"/><path fill="#ff3c29" d="M5231 477l38-17-5-3-38 16z"/><path fill="#ff2f26" d="M5149 467l38-14-4-1-39 13z"/><path fill="#ff3f29" d="M5236 480l38-17-5-3-38 17z"/><path fill="#ff3027" d="M5154 469l38-14-5-2-38 14z"/><path fill="#ff422a" d="M5241 483l38-17-5-3-38 17z"/><path fill="#ff3127" d="M5159 471l38-14-5-2-38 14z"/><path fill="#ff482a" d="M5333 493l37-20-20-8-37 20z"/><path fill="#fb3d27" d="M5410 486l37-20-20-6-37 20z"/><path fill="#ff442a" d="M5246 487l38-18-5-3-38 17z"/><path fill="#fa3226" d="M5487 479l37-19-20-7-37 19z"/><path fill="#ff3228" d="M5164 473l38-14-5-2-38 14z"/><path fill="#ff472a" d="M5251 490l37-18-4-3-38 18z"/><path fill="#ff3428" d="M5168 476l39-14-5-3-38 14z"/><path fill="#ff492a" d="M5255 494l38-19-5-3-37 18z"/><path fill="#ff3528" d="M5173 478l39-14-5-2-39 14z"/><path fill="#ff3729" d="M5178 481l38-15-4-2-39 14z"/><path fill="#ff4829" d="M5352 501l38-21-20-7-37 20z"/><path fill="#ff4e2b" d="M5275 505l38-20-20-10-38 19z"/><path fill="#f93c27" d="M5430 493l37-21-20-6-37 20z"/><path fill="#fa3226" d="M5507 485l37-19-20-6-37 19z"/><path fill="#ff3929" d="M5183 485l38-15-5-4-38 15z"/><path fill="#ff3d29" d="M5188 489l38-16-5-3-38 15z"/><path fill="#fb2e26" d="M5106 479l38-14-5-2-38 14z"/><path fill="#ff4029" d="M5193 493l38-16-5-4-38 16z"/><path fill="#ff2f27" d="M5110 481l39-14-5-2-38 14z"/><path fill="#ff442a" d="M5198 497l38-17-5-3-38 16z"/><path fill="#ff482a" d="M5203 501l38-18-5-3-38 17z"/><path fill="#ff3127" d="M5115 483l39-14-5-2-39 14z"/><path fill="#ff542b" d="M5295 515l38-22-20-8-38 20z"/><path fill="#fb4929" d="M5372 508l38-22-20-6-38 21z"/><path fill="#f83b27" d="M5450 499l37-20-20-7-37 21z"/><path fill="#ff4c2b" d="M5208 506l38-19-5-4-38 18z"/><path fill="#f93226" d="M5528 491l36-19-20-6-37 19z"/><path fill="#ff3228" d="M5120 485l39-14-5-2-39 14z"/><path fill="#ff4f2b" d="M5212 510l39-20-5-3-38 19z"/><path fill="#ff3428" d="M5125 487l39-14-5-2-39 14z"/><path fill="#ff532b" d="M5217 513l38-19-4-4-39 20z"/><path fill="#ff3528" d="M5130 490l38-14-4-3-39 14z"/><path fill="#ff3729" d="M5135 493l38-15-5-2-38 14z"/><path fill="#ff562b" d="M5315 523l37-22-19-8-38 22z"/><path fill="#f74728" d="M5392 514l38-21-20-7-38 22z"/><path fill="#ff592c" d="M5237 527l38-22-20-11-38 19z"/><path fill="#ff3929" d="M5139 496l39-15-5-3-38 15z"/><path fill="#f73b27" d="M5470 505l37-20-20-6-37 20z"/><path fill="#f93126" d="M5548 497l37-18-21-7-36 19z"/><path fill="#ff3c29" d="M5144 501l39-16-5-4-39 15z"/><path fill="#ff4029" d="M5149 505l39-16-5-4-39 16z"/><path fill="#fc2e26" d="M5066 492l40-13-5-2-39 14z"/><path fill="#ff452a" d="M5154 511l39-18-5-4-39 16z"/><path fill="#ff4a2a" d="M5159 515l39-18-5-4-39 18z"/><path fill="#ff3027" d="M5071 494l39-13-4-2-40 13z"/><path fill="#ff612d" d="M5257 538l38-23-20-10-38 22z"/><path fill="#fb562a" d="M5335 530l37-22-20-7-37 22z"/><path fill="#ff4f2b" d="M5164 520l39-19-5-4-39 18z"/><path fill="#f54628" d="M5413 520l37-21-20-6-38 21z"/><path fill="#ff3228" d="M5076 497l39-14-5-2-39 13z"/><path fill="#ff542b" d="M5169 525l39-19-5-5-39 19z"/><path fill="#f63a26" d="M5490 511l38-20-21-6-37 20z"/><path fill="#f93126" d="M5568 503l37-18-20-6-37 18z"/><path fill="#ff592c" d="M5174 530l38-20-4-4-39 19z"/><path fill="#ff3328" d="M5081 499l39-14-5-2-39 14z"/><path fill="#ff5d2c" d="M5179 534l38-21-5-3-38 20z"/><path fill="#ff3428" d="M5086 502l39-15-5-2-39 14z"/><path fill="#ff3629" d="M5091 505l39-15-5-3-39 15z"/><path fill="#ff652d" d="M5277 547l38-24-20-8-38 23z"/><path fill="#f45429" d="M5355 536l37-22-20-6-37 22z"/><path fill="#ff652d" d="M5199 550l38-23-20-14-38 21z"/><path fill="#ff3829" d="M5096 508l39-15-5-3-39 15z"/><path fill="#f44527" d="M5433 526l37-21-20-6-37 21z"/><path fill="#f63926" d="M5511 516l37-19-20-6-38 20z"/><path fill="#ff3b29" d="M5100 512l39-16-4-3-39 15z"/><path fill="#f93126" d="M5589 509l37-17-21-7-37 18z"/><path fill="#ff3f29" d="M5105 517l39-16-5-5-39 16z"/><path fill="#ff452a" d="M5110 523l39-18-5-4-39 16z"/><path fill="#ff4b2a" d="M5115 529l39-18-5-6-39 18z"/><path fill="#fe2f26" d="M5027 506l39-14-4-1-40 13z"/><path fill="#ff6e2f" d="M5218 562l39-24-20-11-38 23z"/><path fill="#fc642c" d="M5296 554l39-24-20-7-38 24z"/><path fill="#ff512b" d="M5120 534l39-19-5-4-39 18z"/><path fill="#ff582c" d="M5125 540l39-20-5-5-39 19z"/><path fill="#f15228" d="M5375 542l38-22-21-6-37 22z"/><path fill="#ff3128" d="M5032 508l39-14-5-2-39 14z"/><path fill="#ff5e2c" d="M5130 546l39-21-5-5-39 20z"/><path fill="#f34327" d="M5453 531l37-20-20-6-37 21z"/><path fill="#f63826" d="M5531 522l37-19-20-6-37 19z"/><path fill="#ff3228" d="M5037 511l39-14-5-3-39 14z"/><path fill="#f83026" d="M5610 515l36-17-20-6-37 17z"/><path fill="#ff632d" d="M5135 552l39-22-5-5-39 21z"/><path fill="#ff682e" d="M5140 557l39-23-5-4-39 22z"/><path fill="#ff3428" d="M5042 514l39-15-5-2-39 14z"/><path fill="#ff3528" d="M5046 516l40-14-5-3-39 15z"/><path fill="#ff7430" d="M5238 572l39-25-20-9-39 24z"/><path fill="#f2602b" d="M5316 560l39-24-20-6-39 24z"/><path fill="#ff7230" d="M5160 575l39-25-20-16-39 23z"/><path fill="#ff3829" d="M5051 520l40-15-5-3-40 14z"/><path fill="#f15028" d="M5395 548l38-22-20-6-38 22z"/><path fill="#ff3b29" d="M5056 524l40-16-5-3-40 15z"/><path fill="#f24227" d="M5473 537l38-21-21-5-37 20z"/><path fill="#f63726" d="M5552 528l37-19-21-6-37 19z"/><path fill="#ff3e29" d="M5061 528l39-16-4-4-40 16z"/><path fill="#ff432a" d="M5066 534l39-17-5-5-39 16z"/><path fill="#ff4a2a" d="M5071 541l39-18-5-6-39 17z"/><path fill="#ff7e32" d="M5179 589l39-27-19-12-39 25z"/><path fill="#fe732f" d="M5258 580l38-26-19-7-39 25z"/><path fill="#ff522b" d="M5076 548l39-19-5-6-39 18z"/><path fill="#f83026" d="M5651 528l37-17-42-13-36 17z"/><path fill="#ff5a2c" d="M5081 555l39-21-5-5-39 19z"/><path fill="#ef5e2a" d="M5337 566l38-24-20-6-39 24z"/><path fill="#ff2f26" d="M4987 520l40-14-5-2-40 14z"/><path fill="#ff612d" d="M5086 562l39-22-5-6-39 21z"/><path fill="#ff692e" d="M5091 569l39-23-5-6-39 22z"/><path fill="#f04e28" d="M5415 553l38-22-20-5-38 22z"/><path fill="#ff3228" d="M4992 523l40-15-5-2-40 14z"/><path fill="#ff6f2f" d="M5096 576l39-24-5-6-39 23z"/><path fill="#f24127" d="M5494 543l37-21-20-6-38 21z"/><path fill="#f63626" d="M5573 534l37-19-21-6-37 19z"/><path fill="#ff7530" d="M5101 582l39-25-5-5-39 24z"/><path fill="#ff3328" d="M4997 525l40-14-5-3-40 15z"/><path fill="#ff8533" d="M5199 599l39-27-20-10-39 27z"/><path fill="#ff3428" d="M5002 528l40-14-5-3-40 14z"/><path fill="#f16e2d" d="M5278 586l38-26-20-6-38 26z"/><path fill="#ff8133" d="M5121 603l39-28-20-18-39 25z"/><path fill="#ff3629" d="M5007 531l39-15-4-2-40 14z"/><path fill="#ef5c2a" d="M5357 571l38-23-20-6-38 24z"/><path fill="#ff3929" d="M5011 535l40-15-5-4-39 15z"/><path fill="#ef4c28" d="M5436 559l37-22-20-6-38 22z"/><path fill="#ff3d29" d="M5016 540l40-16-5-4-40 15z"/><path fill="#f33f27" d="M5515 548l37-20-21-6-37 21z"/><path fill="#ff422a" d="M5021 545l40-17-5-4-40 16z"/><path fill="#ff8e35" d="M5140 619l39-30-19-14-39 28z"/><path fill="#ff8533" d="M5219 608l39-28-20-8-39 27z"/><path fill="#ff482a" d="M5026 552l40-18-5-6-40 17z"/><path fill="#ff512b" d="M5031 560l40-19-5-7-40 18z"/><path fill="#ff5b2c" d="M5036 568l40-20-5-7-40 19z"/><path fill="#ed6a2c" d="M5298 591l39-25-21-6-38 26z"/><path fill="#ff642d" d="M5041 576l40-21-5-7-40 20z"/><path fill="#f82f26" d="M5693 541l37-17-42-13-37 17z"/><path fill="#f63526" d="M5614 546l37-18-41-13-37 19z"/><path fill="#ff6c2f" d="M5046 585l40-23-5-7-40 21z"/><path fill="#ff7530" d="M5051 593l40-24-5-7-40 23z"/><path fill="#ed5a29" d="M5377 577l38-24-20-5-38 23z"/><path fill="#ff7d32" d="M5056 601l40-25-5-7-40 24z"/><path fill="#ff2f27" d="M4947 534l40-14-5-2-40 14z"/><path fill="#ff8533" d="M5061 608l40-26-5-6-40 25z"/><path fill="#ef4a27" d="M5456 564l38-21-21-6-37 22z"/><path fill="#ff9536" d="M5160 630l39-31-20-10-39 30z"/><path fill="#f33e27" d="M5535 554l38-20-21-6-37 20z"/><path fill="#ff3228" d="M4952 537l40-14-5-3-40 14z"/><path fill="#ef7d30" d="M5239 613l39-27-20-6-39 28z"/><path fill="#ff9035" d="M5081 633l40-30-20-21-40 26z"/><path fill="#ff3328" d="M4957 540l40-15-5-2-40 14z"/><path fill="#ff3528" d="M4961 543l41-15-5-3-40 15z"/><path fill="#ee692c" d="M5318 596l39-25-20-5-39 25z"/><path fill="#ff3829" d="M4966 547l41-16-5-3-41 15z"/><path fill="#ed5829" d="M5397 582l39-23-21-6-38 24z"/><path fill="#ff9f38" d="M5101 651l39-32-19-16-40 30z"/><path fill="#ff3b29" d="M4971 551l40-16-4-4-41 16z"/><path fill="#ff9636" d="M5180 639l39-31-20-9-39 31z"/><path fill="#f04927" d="M5477 570l38-22-21-5-38 21z"/><path fill="#ff4029" d="M4976 556l40-16-5-5-40 16z"/><path fill="#ff452a" d="M4981 562l40-17-5-5-40 16z"/><path fill="#ea782e" d="M5259 618l39-27-20-5-39 27z"/><path fill="#ff4d2b" d="M4986 569l40-17-5-7-40 17z"/><path fill="#ff572c" d="M4991 579l40-19-5-8-40 17z"/><path fill="#ff632d" d="M4996 589l40-21-5-8-40 19z"/><path fill="#ff6d2f" d="M5001 598l40-22-5-8-40 21z"/><path fill="#ff7731" d="M5006 608l40-23-5-9-40 22z"/><path fill="#f43c26" d="M5577 566l37-20-41-12-38 20z"/><path fill="#ed672b" d="M5339 602l38-25-20-6-39 25z"/><path fill="#ff8233" d="M5011 618l40-25-5-8-40 23z"/><path fill="#f82f25" d="M5736 554l36-16-42-14-37 17z"/><path fill="#f73426" d="M5656 559l37-18-42-13-37 18z"/><path fill="#ff8b34" d="M5016 627l40-26-5-8-40 25z"/><path fill="#ffa73a" d="M5121 663l39-33-20-11-39 32z"/><path fill="#ff9236" d="M5021 635l40-27-5-7-40 26z"/><path fill="#ed5629" d="M5418 588l38-24-20-5-39 23z"/><path fill="#ec8a32" d="M5200 645l39-32-20-5-39 31z"/><path fill="#ff2f27" d="M4906 549l41-15-5-2-41 15z"/><path fill="#ff9f38" d="M5041 663l40-30-20-25-40 27z"/><path fill="#f14727" d="M5497 575l38-21-20-6-38 22z"/><path fill="#ff3228" d="M4911 551l41-14-5-3-41 15z"/><path fill="#ec772e" d="M5279 623l39-27-20-5-39 27z"/><path fill="#ff3428" d="M4916 555l41-15-5-3-41 14z"/><path fill="#ffb03b" d="M5061 684l40-33-20-18-40 30z"/><path fill="#ffaa3a" d="M5141 673l39-34-20-9-39 33z"/><path fill="#ff3629" d="M4921 558l40-15-4-3-41 15z"/><path fill="#ed652b" d="M5359 607l38-25-20-5-38 25z"/><path fill="#ff3929" d="M4926 562l40-15-5-4-40 15z"/><path fill="#ef5529" d="M5439 593l38-23-21-6-38 24z"/><path fill="#ff3d29" d="M4931 567l40-16-5-4-40 15z"/><path fill="#e58430" d="M5220 649l39-31-20-5-39 32z"/><path fill="#ff422a" d="M4936 572l40-16-5-5-40 16z"/><path fill="#ffba3d" d="M5081 697l40-34-20-12-40 33z"/><path fill="#ff492a" d="M4941 579l40-17-5-6-40 16z"/><path fill="#ec752e" d="M5300 629l39-27-21-6-39 27z"/><path fill="#ff522b" d="M4946 588l40-19-5-7-40 17z"/><path fill="#ff5e2c" d="M4951 599l40-20-5-10-40 19z"/><path fill="#ff6b2e" d="M4956 610l40-21-5-10-40 20z"/><path fill="#ff7731" d="M4961 620l40-22-5-9-40 21z"/><path fill="#ff8333" d="M4966 632l40-24-5-10-40 22z"/><path fill="#ff8d35" d="M4971 643l40-25-5-10-40 24z"/><path fill="#ff9636" d="M4976 653l40-26-5-9-40 25z"/><path fill="#ff9f38" d="M4981 663l40-28-5-8-40 26z"/><path fill="#f14527" d="M5539 587l38-21-42-12-38 21z"/><path fill="#e99a35" d="M5161 678l39-33-20-6-39 34z"/><path fill="#f82e25" d="M5779 567l36-16-43-13-36 16z"/><path fill="#f53a26" d="M5619 578l37-19-42-13-37 20z"/><path fill="#f73326" d="M5699 571l37-17-43-13-37 18z"/><path fill="#ee642b" d="M5379 613l39-25-21-6-38 25z"/><path fill="#ffaf3b" d="M5001 694l40-31-20-28-40 28z"/><path fill="#f05428" d="M5459 599l38-24-20-5-38 23z"/><path fill="#e88430" d="M5240 654l39-31-20-5-39 31z"/><path fill="#ff3027" d="M4865 563l41-14-5-2-41 14z"/><path fill="#ffbf3e" d="M5101 707l40-34-20-10-40 34z"/><path fill="#ffc33f" d="M5021 718l40-34-20-21-40 31z"/><path fill="#ff3228" d="M4870 566l41-15-5-2-41 14z"/><path fill="#ec732e" d="M5320 634l39-27-20-5-39 27z"/><path fill="#ff3428" d="M4875 569l41-14-5-4-41 15z"/><path fill="#e09232" d="M5181 682l39-33-20-4-39 33z"/><path fill="#f0632b" d="M5400 619l39-26-21-5-39 25z"/><path fill="#ff3729" d="M4880 573l41-15-5-3-41 14z"/><path fill="#fec942" d="M5041 732l40-35-20-13-40 34z"/><path fill="#ff3a29" d="M4885 577l41-15-5-4-41 15z"/><path fill="#ff3f29" d="M4890 583l41-16-5-5-41 15z"/><path fill="#e88230" d="M5261 659l39-30-21-6-39 31z"/><path fill="#e5aa37" d="M5121 712l40-34-20-5-40 34z"/><path fill="#ff452a" d="M4894 589l42-17-5-5-41 16z"/><path fill="#ffa339" d="M4936 681l40-28-5-10-41 26z"/><path fill="#ffac3b" d="M4941 691l40-28-5-10-40 28z"/><path fill="#ff9837" d="M4930 669l41-26-5-11-41 24z"/><path fill="#ff8d35" d="M4925 656l41-24-5-12-41 23z"/><path fill="#ff4d2b" d="M4900 596l41-17-5-7-42 17z"/><path fill="#ff8133" d="M4920 643l41-23-5-10-41 21z"/><path fill="#ff7330" d="M4915 631l41-21-5-11-41 20z"/><path fill="#ffbf3e" d="M4961 727l40-33-20-31-40 28z"/><path fill="#ff572c" d="M4905 606l41-18-5-9-41 17z"/><path fill="#ff652d" d="M4910 619l41-20-5-11-41 18z"/><path fill="#f05228" d="M5501 611l38-24-42-12-38 24z"/><path fill="#ee722e" d="M5341 640l38-27-20-6-39 27z"/><path fill="#f34327" d="M5581 599l38-21-42-12-38 21z"/><path fill="#f82e25" d="M5822 581l37-16-44-14-36 16z"/><path fill="#f63926" d="M5662 591l37-20-43-12-37 19z"/><path fill="#f83226" d="M5742 585l37-18-43-13-37 17z"/><path fill="#e39132" d="M5201 686l39-32-20-5-39 33z"/><path fill="#f1622b" d="M5421 625l38-26-20-6-39 26z"/><path fill="#fdcc44" d="M5061 743l40-36-20-10-40 35z"/><path fill="#fcce45" d="M4981 753l40-35-20-24-40 33z"/><path fill="#e98030" d="M5281 664l39-30-20-5-39 30z"/><path fill="#ff3027" d="M4823 578l42-15-5-2-41 15z"/><path fill="#daa034" d="M5141 715l40-33-20-4-40 34z"/><path fill="#ff3228" d="M4828 581l42-15-5-3-42 15z"/><path fill="#f9d649" d="M5001 769l40-37-20-14-40 35z"/><path fill="#f0722e" d="M5361 646l39-27-21-6-38 27z"/><path fill="#ff3528" d="M4833 584l42-15-5-3-42 15z"/><path fill="#deb43c" d="M5081 748l40-36-20-5-40 36z"/><path fill="#e28f32" d="M5221 691l40-32-21-5-39 32z"/><path fill="#ff3829" d="M4838 588l42-15-5-4-42 15z"/><path fill="#ff3c29" d="M4843 593l42-16-5-4-42 15z"/><path fill="#ffba3d" d="M4900 720l41-29-5-10-41 28z"/><path fill="#ffaf3b" d="M4895 709l41-28-6-12-40 26z"/><path fill="#feca43" d="M4920 760l41-33-20-36-41 29z"/><path fill="#ffa339" d="M4890 695l40-26-5-13-41 25z"/><path fill="#ff412a" d="M4848 599l42-16-5-6-42 16z"/><path fill="#ff9737" d="M4884 681l41-25-5-13-41 24z"/><path fill="#eb8030" d="M5301 669l40-29-21-6-39 30z"/><path fill="#f1612b" d="M5463 638l38-27-42-12-38 26z"/><path fill="#ff8b34" d="M4879 667l41-24-5-12-41 22z"/><path fill="#f8d94a" d="M5021 780l40-37-20-11-40 37z"/><path fill="#ff482a" d="M4853 606l41-17-4-6-42 16z"/><path fill="#de9f35" d="M5161 719l40-33-20-4-40 33z"/><path fill="#ff7c32" d="M4874 653l41-22-5-12-41 20z"/><path fill="#f7d94a" d="M4941 789l40-36-20-26-41 33z"/><path fill="#ff512b" d="M4858 614l42-18-6-7-41 17z"/><path fill="#ff6c2f" d="M4869 639l41-20-5-13-42 19z"/><path fill="#ff5d2c" d="M4863 625l42-19-5-10-42 18z"/><path fill="#f24f28" d="M5543 624l38-25-42-12-38 24z"/><path fill="#f1712e" d="M5382 652l39-27-21-6-39 27z"/><path fill="#f82e25" d="M5866 594l36-15-43-14-37 16z"/><path fill="#f44127" d="M5624 611l38-20-43-13-38 21z"/><path fill="#f93226" d="M5785 598l37-17-43-14-37 18z"/><path fill="#f73826" d="M5705 604l37-19-43-14-37 20z"/><path fill="#d2a838" d="M5101 750l40-35-20-3-40 36z"/><path fill="#e48d32" d="M5241 695l40-31-20-5-40 32z"/><path fill="#f4e24f" d="M4960 806l41-37-20-16-40 36z"/><path fill="#ee8030" d="M5322 674l39-28-20-6-40 29z"/><path fill="#d7bc40" d="M5041 784l40-36-20-5-40 37z"/><path fill="#ff3028" d="M4781 593l42-15-4-2-42 14z"/><path fill="#de9c34" d="M5181 724l40-33-20-5-40 33z"/><path fill="#ff3328" d="M4786 596l42-15-5-3-42 15z"/><path fill="#ff3528" d="M4791 600l42-16-5-3-42 15z"/><path fill="#fad347" d="M4879 793l41-33-20-40-41 30z"/><path fill="#ffc641" d="M4859 750l41-30-5-11-42 28z"/><path fill="#f1e451" d="M4980 817l41-37-20-11-41 37z"/><path fill="#ffbc3e" d="M4853 737l42-28-5-14-42 27z"/><path fill="#e68c32" d="M5262 700l39-31-20-5-40 31z"/><path fill="#d8aa38" d="M5121 754l40-35-20-4-40 35z"/><path fill="#ff3929" d="M4796 604l42-16-5-4-42 16z"/><path fill="#ffaf3b" d="M4848 722l42-27-6-14-41 25z"/><path fill="#f2e450" d="M4900 825l41-36-21-29-41 33z"/><path fill="#f1702d" d="M5424 664l39-26-42-13-39 27z"/><path fill="#ffa138" d="M4843 706l41-25-5-14-42 23z"/><path fill="#ff3d29" d="M4801 609l42-16-5-5-42 16z"/><path fill="#ff9336" d="M4837 690l42-23-5-14-42 22z"/><path fill="#ff432a" d="M4806 615l42-16-5-6-42 16z"/><path fill="#ff8533" d="M4832 675l42-22-5-14-42 21z"/><path fill="#ef8030" d="M5343 680l39-28-21-6-39 28z"/><path fill="#f25f2a" d="M5505 651l38-27-42-13-38 27z"/><path fill="#ff4b2a" d="M4811 623l42-17-5-7-42 16z"/><path fill="#c9ae3b" d="M5061 787l40-37-20-2-40 36z"/><path fill="#ff7230" d="M4827 660l42-21-6-14-41 19z"/><path fill="#ff552b" d="M4816 632l42-18-5-8-42 17z"/><path fill="#ff622d" d="M4822 644l41-19-5-11-42 18z"/><path fill="#df9a34" d="M5202 728l39-33-20-4-40 33z"/><path fill="#e7e456" d="M4920 843l40-37-19-17-41 36z"/><path fill="#f34d28" d="M5586 636l38-25-43-12-38 25z"/><path fill="#f82e25" d="M5910 608l37-15-45-14-36 15z"/><path fill="#f53f27" d="M5667 624l38-20-43-13-38 20z"/><path fill="#f93126" d="M5829 612l37-18-44-13-37 17z"/><path fill="#f83726" d="M5748 617l37-19-43-13-37 19z"/><path fill="#cec445" d="M5000 822l41-38-20-4-41 37z"/><path fill="#ea8d32" d="M5282 705l40-31-21-5-39 31z"/><path fill="#d9a837" d="M5141 758l40-34-20-5-40 35z"/><path fill="#e1e459" d="M4939 856l41-39-20-11-40 37z"/><path fill="#ff3128" d="M4739 607l42-14-4-3-43 15z"/><path fill="#f6dd4c" d="M4838 828l41-35-20-43-42 30z"/><path fill="#cfb03c" d="M5081 790l40-36-20-4-40 37z"/><path fill="#fcce45" d="M4817 780l42-30-6-13-41 29z"/><path fill="#e4e457" d="M4859 862l41-37-21-32-41 35z"/><path fill="#e29a34" d="M5222 732l40-32-21-5-39 33z"/><path fill="#ffc641" d="M4812 766l41-29-5-15-42 27z"/><path fill="#ff3328" d="M4744 611l42-15-5-3-42 14z"/><path fill="#ffba3d" d="M4806 749l42-27-5-16-42 26z"/><path fill="#f07e30" d="M5384 692l40-28-42-12-39 28z"/><path fill="#ff3628" d="M4749 615l42-15-5-4-42 15z"/><path fill="#bfb33f" d="M5020 823l41-36-20-3-41 38z"/><path fill="#ffaa3a" d="M4801 732l42-26-6-16-41 25z"/><path fill="#eb8c32" d="M5303 711l40-31-21-6-40 31z"/><path fill="#ff3a29" d="M4754 620l42-16-5-4-42 15z"/><path fill="#d7e45e" d="M4878 882l42-39-20-18-41 37z"/><path fill="#ff9b37" d="M4796 715l41-25-5-15-42 23z"/><path fill="#f26e2d" d="M5466 677l39-26-42-13-39 26z"/><path fill="#dba836" d="M5161 762l41-34-21-4-40 34z"/><path fill="#ff3f29" d="M4759 625l42-16-5-5-42 16z"/><path fill="#ff8c34" d="M4790 698l42-23-5-15-42 21z"/><path fill="#bec14b" d="M4959 860l41-38-20-5-41 39z"/><path fill="#ff462a" d="M4764 632l42-17-5-6-42 16z"/><path fill="#f15c2a" d="M5547 663l39-27-43-12-38 27z"/><path fill="#ff7931" d="M4785 681l42-21-5-16-43 20z"/><path fill="#ff4e2b" d="M4769 640l42-17-5-8-42 17z"/><path fill="#ff672e" d="M4779 664l43-20-6-12-42 18z"/><path fill="#ff592c" d="M4774 650l42-18-5-9-42 17z"/><path fill="#f44b28" d="M5629 649l38-25-43-13-38 25z"/><path fill="#d0ae3b" d="M5101 793l40-35-20-4-40 36z"/><path fill="#f82e25" d="M5955 623l36-16-44-14-37 15z"/><path fill="#e79b35" d="M5243 738l39-33-20-5-40 32z"/><path fill="#f63e27" d="M5710 638l38-21-43-13-38 20z"/><path fill="#f93126" d="M5873 626l37-18-44-14-37 18z"/><path fill="#f83626" d="M5792 631l37-19-44-14-37 19z"/><path fill="#d2e461" d="M4898 895l41-39-19-13-42 39z"/><path fill="#c6b63f" d="M5040 826l41-36-20-3-41 36z"/><path fill="#efe452" d="M4796 863l42-35-21-48-42 31z"/><path fill="#d6e45e" d="M4817 900l42-38-21-34-42 35z"/><path fill="#dfa937" d="M5182 766l40-34-20-4-41 34z"/><path fill="#f9d749" d="M4775 811l42-31-5-14-42 29z"/><path fill="#fcce45" d="M4770 795l42-29-6-17-42 28z"/><path fill="#afaf43" d="M4979 861l41-38-20-1-41 38z"/><path fill="#c7e467" d="M4837 921l41-39-19-20-42 38z"/><path fill="#ff3128" d="M4696 623l43-16-5-2-43 15z"/><path fill="#ec8a32" d="M5345 722l39-30-41-12-40 31z"/><path fill="#ffc440" d="M4764 777l42-28-5-17-42 26z"/><path fill="#e99a35" d="M5263 743l40-32-21-6-39 33z"/><path fill="#d3ae3a" d="M5121 796l40-34-20-4-40 35z"/><path fill="#ff3328" d="M4701 626l43-15-5-4-43 16z"/><path fill="#ffb53c" d="M4759 758l42-26-5-17-43 24z"/><path fill="#aebe51" d="M4918 898l41-38-20-4-41 39z"/><path fill="#f07d30" d="M5427 705l39-28-42-13-40 28z"/><path fill="#ff3729" d="M4706 631l43-16-5-4-43 15z"/><path fill="#ffa439" d="M4753 739l43-24-6-17-42 23z"/><path fill="#ff3b29" d="M4711 635l43-15-5-5-43 16z"/><path fill="#f16b2d" d="M5508 690l39-27-42-12-39 26z"/><path fill="#ff9336" d="M4748 721l42-23-5-17-43 21z"/><path fill="#c6b33e" d="M5060 828l41-35-20-3-41 36z"/><path fill="#e5aa37" d="M5202 771l41-33-21-6-40 34z"/><path fill="#bee26c" d="M4857 935l41-40-20-13-41 39z"/><path fill="#ff4029" d="M4716 641l43-16-5-5-43 15z"/><path fill="#ff8032" d="M4742 702l43-21-6-17-42 19z"/><path fill="#f15a2a" d="M5590 676l39-27-43-13-39 27z"/><path fill="#ff482a" d="M4721 649l43-17-5-7-43 16z"/><path fill="#ff522b" d="M4726 658l43-18-5-8-43 17z"/><path fill="#ff6c2f" d="M4737 683l42-19-5-14-43 18z"/><path fill="#ff5e2c" d="M4731 668l43-18-5-10-43 18z"/><path fill="#b7b443" d="M4999 862l41-36-20-3-41 38z"/><path fill="#f44928" d="M5672 662l38-24-43-14-38 25z"/><path fill="#c5e367" d="M4775 941l42-41-21-37-41 37z"/><path fill="#f82e25" d="M6000 637l36-16-45-14-36 16z"/><path fill="#f93126" d="M5918 640l37-17-45-15-37 18z"/><path fill="#f73d27" d="M5754 651l38-20-44-14-38 21z"/><path fill="#e3e458" d="M4755 900l41-37-21-52-42 32z"/><path fill="#f83626" d="M5836 645l37-19-44-14-37 19z"/><path fill="#d8af3a" d="M5141 800l41-34-21-4-40 34z"/><path fill="#f5e04e" d="M4733 843l42-32-5-16-42 31z"/><path fill="#9faa47" d="M4938 899l41-38-20-1-41 38z"/><path fill="#b0df75" d="M4795 963l42-42-20-21-42 41z"/><path fill="#f9d649" d="M4728 826l42-31-6-18-42 30z"/><path fill="#ea9834" d="M5305 755l40-33-42-11-40 32z"/><path fill="#9bb959" d="M4877 938l41-40-20-3-41 40z"/><path fill="#c9b23d" d="M5080 830l41-34-20-3-41 35z"/><path fill="#e7aa38" d="M5223 777l40-34-20-5-41 33z"/><path fill="#fdcc44" d="M4722 807l42-30-5-19-43 28z"/><path fill="#ffc03e" d="M4716 786l43-28-6-19-42 26z"/><path fill="#ed8832" d="M5387 734l40-29-43-13-39 30z"/><path fill="#ff3128" d="M4653 638l43-15-5-3-43 15z"/><path fill="#a6dd7b" d="M4815 977l42-42-20-14-42 42z"/><path fill="#b9b241" d="M5019 864l41-36-20-2-41 36z"/><path fill="#ffad3b" d="M4711 765l42-26-5-18-43 24z"/><path fill="#ff3328" d="M4658 642l43-16-5-3-43 15z"/><path fill="#dfb33b" d="M5162 805l40-34-20-5-41 34z"/><path fill="#ef792f" d="M5469 717l39-27-42-13-39 28z"/><path fill="#ff3729" d="M4663 646l43-15-5-5-43 16z"/><path fill="#ff9a37" d="M4705 745l43-24-6-19-43 22z"/><path fill="#afdf75" d="M4733 982l42-41-20-41-43 39z"/><path fill="#a7af47" d="M4958 900l41-38-20-1-41 38z"/><path fill="#f0692c" d="M5551 702l39-26-43-13-39 27z"/><path fill="#ff3c29" d="M4668 652l43-17-5-4-43 15z"/><path fill="#d5e45f" d="M4712 939l43-39-22-57-42 34z"/><path fill="#ff8834" d="M4699 724l43-22-5-19-43 21z"/><path fill="#ff422a" d="M4673 658l43-17-5-6-43 17z"/><path fill="#98da84" d="M4754 1006l41-43-20-22-42 41z"/><path fill="#8da44c" d="M4896 938l42-39-20-1-41 40z"/><path fill="#f15829" d="M5634 689l38-27-43-13-39 27z"/><path fill="#ceb33d" d="M5100 833l41-33-20-4-41 34z"/><path fill="#ff4a2a" d="M4678 666l43-17-5-8-43 17z"/><path fill="#ff7230" d="M4694 704l43-21-6-15-43 19z"/><path fill="#ff552b" d="M4683 676l43-18-5-9-43 17z"/><path fill="#ff622d" d="M4688 687l43-19-5-10-43 18z"/><path fill="#ede453" d="M4691 877l42-34-5-17-43 32z"/><path fill="#f82e25" d="M6046 651l36-16-46-14-36 16z"/><path fill="#f54828" d="M5716 675l38-24-44-13-38 24z"/><path fill="#f93126" d="M5963 655l37-18-45-14-37 17z"/><path fill="#85b163" d="M4835 981l42-43-20-3-42 42z"/><path fill="#f73c27" d="M5799 665l37-20-44-14-38 20z"/><path fill="#f83626" d="M5881 659l37-19-45-14-37 19z"/><path fill="#f5df4d" d="M4685 858l43-32-6-19-43 30z"/><path fill="#e8a837" d="M5265 789l40-34-42-12-40 34z"/><path fill="#bdb440" d="M5039 866l41-36-20-2-41 36z"/><path fill="#e2b43b" d="M5182 810l41-33-21-6-40 34z"/><path fill="#8dd68e" d="M4773 1022l42-45-20-14-41 43z"/><path fill="#fad347" d="M4679 837l43-30-6-21-43 28z"/><path fill="#a9ae45" d="M4978 901l41-37-20-2-41 38z"/><path fill="#ea9634" d="M5347 767l40-33-42-12-40 33z"/><path fill="#ffc741" d="M4673 814l43-28-5-21-43 26z"/><path fill="#d6b83e" d="M5121 837l41-32-21-5-41 33z"/><path fill="#99da83" d="M4691 1024l42-42-21-43-42 38z"/><path fill="#97ab4b" d="M4916 939l42-39-20-1-42 39z"/><path fill="#ffb73d" d="M4668 791l43-26-6-20-43 25z"/><path fill="#ec8531" d="M5429 746l40-29-42-12-40 29z"/><path fill="#ff3128" d="M4609 653l44-15-5-3-44 16z"/><path fill="#80cf9c" d="M4711 1050l43-44-21-24-42 42z"/><path fill="#c6e467" d="M4670 977l42-38-21-62-43 33z"/><path fill="#789b53" d="M4854 980l42-42-19 0-42 43z"/><path fill="#ffa239" d="M4662 770l43-25-6-21-43 23z"/><path fill="#ff3428" d="M4614 657l44-15-5-4-44 15z"/><path fill="#ee762e" d="M5512 729l39-27-43-12-39 27z"/><path fill="#c4b640" d="M5059 868l41-35-20-3-41 36z"/><path fill="#6fa870" d="M4793 1024l42-43-20-4-42 45z"/><path fill="#ff3829" d="M4619 662l44-16-5-4-44 15z"/><path fill="#ef652b" d="M5595 715l39-26-44-13-39 26z"/><path fill="#e1e459" d="M4648 910l43-33-6-19-43 33z"/><path fill="#ff8e35" d="M4656 747l43-23-5-20-44 21z"/><path fill="#ff3d29" d="M4624 668l44-16-5-6-44 16z"/><path fill="#ff442a" d="M4629 675l44-17-5-6-44 16z"/><path fill="#aeaf43" d="M4998 902l41-36-20-2-41 37z"/><path fill="#f15629" d="M5678 702l38-27-44-13-38 27z"/><path fill="#75c9a7" d="M4731 1066l42-44-19-16-43 44z"/><path fill="#ff7831" d="M4650 725l44-21-6-17-43 20z"/><path fill="#e3b33b" d="M5224 821l41-32-42-12-41 33z"/><path fill="#efe452" d="M4642 891l43-33-6-21-43 30z"/><path fill="#ff4d2b" d="M4634 684l44-18-5-8-44 17z"/><path fill="#ff662e" d="M4645 707l43-20-5-11-44 18z"/><path fill="#ff592c" d="M4639 694l44-18-5-10-44 18z"/><path fill="#f82e25" d="M6092 666l36-16-46-15-36 16z"/><path fill="#d9b83e" d="M5142 842l40-32-20-5-41 32z"/><path fill="#f64628" d="M5761 689l38-24-45-14-38 24z"/><path fill="#f93126" d="M6009 669l37-18-46-14-37 18z"/><path fill="#f83526" d="M5926 674l37-19-45-15-37 19z"/><path fill="#f73c27" d="M5844 679l37-20-45-14-37 20z"/><path fill="#9aa948" d="M4936 940l42-39-20-1-42 39z"/><path fill="#f7db4b" d="M4636 867l43-30-6-23-43 29z"/><path fill="#e9a537" d="M5307 801l40-34-42-12-40 34z"/><path fill="#84d197" d="M4648 1065l43-41-21-47-43 38z"/><path fill="#82a253" d="M4874 980l42-41-20-1-42 42z"/><path fill="#ccbb41" d="M5080 871l41-34-21-4-41 35z"/><path fill="#fcce45" d="M4630 843l43-29-5-23-44 27z"/><path fill="#6ac4b4" d="M4669 1092l42-42-20-26-43 41z"/><path fill="#63925b" d="M4812 1023l42-43-19 1-42 43z"/><path fill="#e99233" d="M5389 779l40-33-42-12-40 33z"/><path fill="#5b9c82" d="M4751 1068l42-44-20-2-42 44z"/><path fill="#b4e072" d="M4627 1015l43-38-22-67-44 34z"/><path fill="#ffc13f" d="M4624 818l44-27-6-21-44 25z"/><path fill="#b5b343" d="M5018 904l41-36-20-2-41 36z"/><path fill="#ec8230" d="M5473 758l39-29-43-12-40 29z"/><path fill="#60bdbf" d="M4689 1109l42-43-20-16-42 42z"/><path fill="#ffaa3a" d="M4618 795l44-25-6-23-44 23z"/><path fill="#ff3128" d="M4565 669l44-16-5-2-44 15z"/><path fill="#d6e45e" d="M4604 944l44-34-6-19-43 31z"/><path fill="#9fab47" d="M4956 940l42-38-20-1-42 39z"/><path fill="#ec722d" d="M5556 741l39-26-44-13-39 27z"/><path fill="#ff3428" d="M4570 673l44-16-5-4-44 16z"/><path fill="#dbb73e" d="M5183 851l41-30-42-11-40 32z"/><path fill="#ff9436" d="M4612 770l44-23-6-22-44 21z"/><path fill="#e5e457" d="M4599 922l43-31-6-24-43 30z"/><path fill="#ff3829" d="M4575 678l44-16-5-5-44 16z"/><path fill="#d0bc41" d="M5100 875l42-33-21-5-41 34z"/><path fill="#ef622b" d="M5639 727l39-25-44-13-39 26z"/><path fill="#86a14f" d="M4894 979l42-39-20-1-42 41z"/><path fill="#ff3e29" d="M4580 684l44-16-5-6-44 16z"/><path fill="#ff7e32" d="M4606 746l44-21-5-18-44 19z"/><path fill="#f35429" d="M5722 715l39-26-45-14-38 27z"/><path fill="#6d985a" d="M4832 1022l42-42-20 0-42 43z"/><path fill="#ff452a" d="M4585 692l44-17-5-7-44 16z"/><path fill="#70c7ad" d="M4605 1106l43-41-21-50-43 38z"/><path fill="#f82e25" d="M6138 681l36-17-46-14-36 16z"/><path fill="#ff4f2b" d="M4590 701l44-17-5-9-44 17z"/><path fill="#ff6a2e" d="M4601 726l44-19-6-13-44 19z"/><path fill="#f3e34f" d="M4593 897l43-30-6-24-43 28z"/><path fill="#e5b13a" d="M5266 832l41-31-42-12-41 32z"/><path fill="#ff5c2c" d="M4595 713l44-19-5-10-44 17z"/><path fill="#f64528" d="M5805 703l39-24-45-14-38 24z"/><path fill="#508568" d="M4770 1066l42-43-19 1-42 44z"/><path fill="#f93026" d="M6055 684l37-18-46-15-37 18z"/><path fill="#5cb7c9" d="M4626 1135l43-43-21-27-43 41z"/><path fill="#f83526" d="M5972 688l37-19-46-14-37 19z"/><path fill="#f73b27" d="M5889 694l37-20-45-15-37 20z"/><path fill="#c0bb45" d="M5038 908l42-37-21-3-41 36z"/><path fill="#499093" d="M4708 1111l43-43-20-2-42 43z"/><path fill="#f9d548" d="M4587 871l43-28-6-25-44 26z"/><path fill="#e7a136" d="M5349 812l40-33-42-12-40 34z"/><path fill="#a2dc7d" d="M4584 1053l43-38-23-71-43 33z"/><path fill="#a7b048" d="M4976 942l42-38-20-2-42 38z"/><path fill="#57afd4" d="M4646 1152l43-43-20-17-43 43z"/><path fill="#ffc741" d="M4580 844l44-26-6-23-44 24z"/><path fill="#e88e32" d="M5432 790l41-32-44-12-40 33z"/><path fill="#8da44c" d="M4914 979l42-39-20 0-42 39z"/><path fill="#cbe464" d="M4561 977l43-33-5-22-44 32z"/><path fill="#709654" d="M4852 1020l42-41-20 1-42 42z"/><path fill="#ffb23c" d="M4574 819l44-24-6-25-44 22z"/><path fill="#ea7d2f" d="M5516 769l40-28-44-12-39 29z"/><path fill="#c6bf45" d="M5059 911l41-36-20-4-42 37z"/><path fill="#d3bb40" d="M5142 884l41-33-41-9-42 33z"/><path fill="#588b64" d="M4789 1064l43-42-20 1-42 43z"/><path fill="#dbe45c" d="M4555 954l44-32-6-25-44 30z"/><path fill="#ff3128" d="M4520 685l45-16-5-3-45 16z"/><path fill="#5fbdc0" d="M4562 1147l43-41-21-53-44 38z"/><path fill="#3f7973" d="M4727 1108l43-42-19 2-43 43z"/><path fill="#ed6e2d" d="M5600 753l39-26-44-12-39 26z"/><path fill="#54aadb" d="M4583 1177l43-42-21-29-43 41z"/><path fill="#ff9a37" d="M4568 792l44-22-6-24-44 20z"/><path fill="#ff3428" d="M4525 689l45-16-5-4-45 16z"/><path fill="#4184a0" d="M4665 1154l43-43-19-2-43 43z"/><path fill="#b3b94a" d="M4996 945l42-37-20-4-42 38z"/><path fill="#f0602b" d="M5683 740l39-25-44-13-39 25z"/><path fill="#deb63d" d="M5225 861l41-29-42-11-41 30z"/><path fill="#ff3929" d="M4530 695l45-17-5-5-45 16z"/><path fill="#ece453" d="M4549 927l44-30-6-26-45 28z"/><path fill="#ff8433" d="M4562 766l44-20-5-20-45 20z"/><path fill="#ff3f29" d="M4535 701l45-17-5-6-45 17z"/><path fill="#f45229" d="M5767 728l38-25-44-14-39 26z"/><path fill="#f82e25" d="M6185 695l36-16-47-15-36 17z"/><path fill="#ff472a" d="M4540 709l45-17-5-8-45 17z"/><path fill="#ff6f2f" d="M4556 746l45-20-6-13-44 18z"/><path fill="#f74428" d="M5851 717l38-23-45-15-39 24z"/><path fill="#f93026" d="M6102 698l36-17-46-15-37 18z"/><path fill="#92d889" d="M4540 1091l44-38-23-76-44 33z"/><path fill="#ff522b" d="M4545 719l45-18-5-9-45 17z"/><path fill="#ff602d" d="M4551 731l44-18-5-12-45 18z"/><path fill="#f83526" d="M6018 703l37-19-46-15-37 19z"/><path fill="#97aa4b" d="M4934 980l42-38-20-2-42 39z"/><path fill="#4ea2e8" d="M4603 1195l43-43-20-17-43 42z"/><path fill="#f73a27" d="M5934 708l38-20-46-14-37 20z"/><path fill="#e4ad38" d="M5308 842l41-30-42-11-41 31z"/><path fill="#f7db4b" d="M4542 899l45-28-7-27-44 27z"/><path fill="#769751" d="M4871 1018l43-39-20 0-42 41z"/><path fill="#e59c35" d="M5392 823l40-33-43-11-40 33z"/><path fill="#5b885a" d="M4809 1061l43-41-20 2-43 42z"/><path fill="#fdcc44" d="M4536 871l44-27-6-25-44 25z"/><path fill="#bde26d" d="M4517 1010l44-33-6-23-44 32z"/><path fill="#467e6e" d="M4747 1105l42-41-19 2-43 42z"/><path fill="#b9bd4a" d="M5017 948l42-37-21-3-42 37z"/><path fill="#366c7b" d="M4684 1150l43-42-19 3-43 43z"/><path fill="#cbc044" d="M5100 920l42-36-42-9-41 36z"/><path fill="#e68931" d="M5476 800l40-31-43-11-41 32z"/><path fill="#58b1d1" d="M4518 1186l44-39-22-56-44 36z"/><path fill="#4d9deb" d="M4539 1217l44-40-21-30-44 39z"/><path fill="#3a78ac" d="M4622 1196l43-42-19-2-43 43z"/><path fill="#ffba3d" d="M4530 844l44-25-6-27-44 23z"/><path fill="#d1e461" d="M4511 986l44-32-6-27-45 30z"/><path fill="#a3b44d" d="M4954 982l42-37-20-3-42 38z"/><path fill="#eb7a2f" d="M5560 780l40-27-44-12-40 28z"/><path fill="#d6b93f" d="M5184 893l41-32-42-10-41 33z"/><path fill="#ff3128" d="M4475 700l45-15-5-3-45 16z"/><path fill="#ffa038" d="M4524 815l44-23-6-26-45 22z"/><path fill="#e4e458" d="M4504 957l45-30-7-28-44 28z"/><path fill="#4b91ed" d="M4559 1236l44-41-20-18-44 40z"/><path fill="#ee6c2c" d="M5644 766l39-26-44-13-39 26z"/><path fill="#819e50" d="M4891 1017l43-37-20-1-43 39z"/><path fill="#ff3428" d="M4479 705l46-16-5-4-45 15z"/><path fill="#82d09a" d="M4496 1127l44-36-23-81-45 32z"/><path fill="#f15e2a" d="M5728 753l39-25-45-13-39 25z"/><path fill="#ff3a29" d="M4485 711l45-16-5-6-46 16z"/><path fill="#ff8934" d="M4517 788l45-22-6-20-45 19z"/><path fill="#ddb13b" d="M5267 871l41-29-42-10-41 29z"/><path fill="#618a54" d="M4829 1057l42-39-19 2-43 41z"/><path fill="#f45129" d="M5812 742l39-25-46-14-38 25z"/><path fill="#f82e25" d="M6233 710l35-16-47-15-36 16z"/><path fill="#ff4029" d="M4490 718l45-17-5-6-45 16z"/><path fill="#f93026" d="M6149 713l36-18-47-14-36 17z"/><path fill="#f4e14e" d="M4498 927l44-28-6-28-45 26z"/><path fill="#ff7330" d="M4511 765l45-19-5-15-45 19z"/><path fill="#f74328" d="M5897 731l37-23-45-14-38 23z"/><path fill="#497a61" d="M4766 1101l43-40-20 3-42 41z"/><path fill="#ff492a" d="M4495 726l45-17-5-8-45 17z"/><path fill="#f83426" d="M6065 717l37-19-47-14-37 19z"/><path fill="#f73a27" d="M5981 723l37-20-46-15-38 20z"/><path fill="#ff632d" d="M4506 750l45-19-6-12-45 18z"/><path fill="#ff542b" d="M4500 737l45-18-5-10-45 17z"/><path fill="#397177" d="M4703 1146l44-41-20 3-43 42z"/><path fill="#e2a837" d="M5351 853l41-30-43-11-41 30z"/><path fill="#2f6082" d="M4641 1192l43-42-19 4-43 42z"/><path fill="#aab84e" d="M4975 984l42-36-21-3-42 37z"/><path fill="#b0df75" d="M4472 1042l45-32-6-24-45 31z"/><path fill="#bebe49" d="M5058 956l42-36-41-9-42 37z"/><path fill="#fbd246" d="M4491 897l45-26-6-27-45 24z"/><path fill="#4b8cee" d="M4495 1258l44-41-21-31-44 39z"/><path fill="#3769ad" d="M4578 1237l44-41-19-1-44 41z"/><path fill="#51a6e1" d="M4474 1225l44-39-22-59-44 37z"/><path fill="#e29533" d="M5436 833l40-33-44-10-40 33z"/><path fill="#8eaa51" d="M4912 1018l42-36-20-2-43 37z"/><path fill="#c7e466" d="M4466 1017l45-31-7-29-45 30z"/><path fill="#ffc13f" d="M4485 868l45-24-6-29-46 23z"/><path fill="#4980f1" d="M4515 1277l44-41-20-19-44 41z"/><path fill="#e78530" d="M5520 811l40-31-44-11-40 31z"/><path fill="#d0bf42" d="M5142 928l42-35-42-9-42 36z"/><path fill="#6b9052" d="M4849 1055l42-38-20 1-42 39z"/><path fill="#dce45c" d="M4459 987l45-30-6-30-45 28z"/><path fill="#73c8a9" d="M4452 1164l44-37-24-85-45 32z"/><path fill="#4e7b59" d="M4786 1096l43-39-20 4-43 40z"/><path fill="#ed782e" d="M5604 793l40-27-44-13-40 27z"/><path fill="#ffa539" d="M4478 838l46-23-7-27-45 21z"/><path fill="#396d69" d="M4723 1141l43-40-19 4-44 41z"/><path fill="#ff3128" d="M4429 717l46-17-5-2-46 16z"/><path fill="#d7b53d" d="M5226 902l41-31-42-10-41 32z"/><path fill="#f0692c" d="M5689 779l39-26-45-13-39 26z"/><path fill="#32657d" d="M4660 1187l43-41-19 4-43 42z"/><path fill="#ff3528" d="M4434 722l45-17-4-5-46 17z"/><path fill="#f25d2a" d="M5774 767l38-25-45-14-39 25z"/><path fill="#2a5583" d="M4597 1232l44-40-19 4-44 41z"/><path fill="#ff8d35" d="M4472 809l45-21-6-23-45 20z"/><path fill="#f0e452" d="M4453 955l45-28-7-30-45 26z"/><path fill="#ff3a29" d="M4439 728l46-17-6-6-45 17z"/><path fill="#f44f29" d="M5858 757l39-26-46-14-39 25z"/><path fill="#f82e25" d="M6281 726l35-17-48-15-35 16z"/><path fill="#ddad39" d="M5310 881l41-28-43-11-41 29z"/><path fill="#97af50" d="M4932 1019l43-35-21-2-42 36z"/><path fill="#345bad" d="M4534 1278l44-41-19-1-44 41z"/><path fill="#f93026" d="M6196 729l37-19-48-15-36 18z"/><path fill="#f74227" d="M5943 746l38-23-47-15-37 23z"/><path fill="#ff412a" d="M4444 735l46-17-5-7-46 17z"/><path fill="#487df1" d="M4450 1297l45-39-21-33-44 38z"/><path fill="#f83426" d="M6112 733l37-20-47-15-37 19z"/><path fill="#ff7731" d="M4466 785l45-20-5-15-46 19z"/><path fill="#b0ba4c" d="M5016 990l42-34-41-8-42 36z"/><path fill="#f83927" d="M6027 737l38-20-47-14-37 20z"/><path fill="#a2dc7d" d="M4427 1074l45-32-6-25-45 30z"/><path fill="#4c9beb" d="M4430 1263l44-38-22-61-45 35z"/><path fill="#ff4a2a" d="M4449 743l46-17-5-8-46 17z"/><path fill="#ff662e" d="M4460 769l46-19-6-13-45 18z"/><path fill="#ff572c" d="M4455 755l45-18-5-11-46 17z"/><path fill="#dfa035" d="M5395 862l41-29-44-10-41 30z"/><path fill="#f9d749" d="M4446 923l45-26-6-29-45 25z"/><path fill="#799c54" d="M4869 1054l43-36-21-1-42 38z"/><path fill="#4970f1" d="M4470 1317l45-40-20-19-45 39z"/><path fill="#bbe16e" d="M4421 1047l45-30-7-30-45 29z"/><path fill="#c5c047" d="M5100 965l42-37-42-8-42 36z"/><path fill="#588355" d="M4805 1092l44-37-20 2-43 39z"/><path fill="#e39132" d="M5480 843l40-32-44-11-40 33z"/><path fill="#ffc641" d="M4440 893l45-25-7-30-45 23z"/><path fill="#3f6f5f" d="M4742 1136l44-40-20 5-43 40z"/><path fill="#65c1b8" d="M4407 1199l45-35-25-90-45 32z"/><path fill="#31626d" d="M4679 1181l44-40-20 5-43 41z"/><path fill="#d4e45f" d="M4414 1016l45-29-6-32-46 27z"/><path fill="#ea8330" d="M5564 823l40-30-44-13-40 31z"/><path fill="#2c5b82" d="M4616 1227l44-40-19 5-44 40z"/><path fill="#d0ba40" d="M5184 937l42-35-42-9-42 35z"/><path fill="#284980" d="M4553 1272l44-40-19 5-44 41z"/><path fill="#ffab3a" d="M4433 861l45-23-6-29-46 21z"/><path fill="#ee752e" d="M5649 806l40-27-45-13-40 27z"/><path fill="#344eab" d="M4489 1318l45-40-19-1-45 40z"/><path fill="#82a253" d="M4889 1053l43-34-20-1-43 36z"/><path fill="#496ef1" d="M4405 1335l45-38-20-34-45 37z"/><path fill="#f0672c" d="M5734 792l40-25-46-14-39 26z"/><path fill="#ff3128" d="M4382 733l47-16-5-3-46 16z"/><path fill="#e9e455" d="M4407 982l46-27-7-32-45 26z"/><path fill="#9fb34e" d="M4973 1022l43-32-41-6-43 35z"/><path fill="#d7b13b" d="M5269 911l41-30-43-10-41 31z"/><path fill="#4b8eee" d="M4385 1300l45-37-23-64-46 34z"/><path fill="#f15b2a" d="M5819 781l39-24-46-15-38 25z"/><path fill="#ff9135" d="M4426 830l46-21-6-24-46 20z"/><path fill="#ff3528" d="M4387 738l47-16-5-5-47 16z"/><path fill="#96d985" d="M4382 1106l45-32-6-27-46 31z"/><path fill="#f82e25" d="M6329 741l36-17-49-15-35 17z"/><path fill="#f44d28" d="M5904 771l39-25-46-15-39 26z"/><path fill="#f93026" d="M6244 744l37-18-48-16-37 19z"/><path fill="#659057" d="M4825 1090l44-36-20 1-44 37z"/><path fill="#ff3b29" d="M4393 745l46-17-5-6-47 16z"/><path fill="#f74127" d="M5990 761l37-24-46-14-38 23z"/><path fill="#f93426" d="M6159 748l37-19-47-16-37 20z"/><path fill="#f83927" d="M6075 753l37-20-47-16-38 20z"/><path fill="#ff7b31" d="M4420 805l46-20-6-16-46 18z"/><path fill="#ff422a" d="M4398 752l46-17-5-7-46 17z"/><path fill="#4d60ec" d="M4426 1355l44-38-20-20-45 38z"/><path fill="#dba736" d="M5354 889l41-27-44-9-41 28z"/><path fill="#ff682e" d="M4414 787l46-18-5-14-47 18z"/><path fill="#ff4c2b" d="M4403 761l46-18-5-8-46 17z"/><path fill="#ff592c" d="M4408 773l47-18-6-12-46 18z"/><path fill="#48765c" d="M4762 1131l43-39-19 4-44 40z"/><path fill="#f7db4b" d="M4401 949l45-26-6-30-46 24z"/><path fill="#b8bd4b" d="M5057 998l43-33-42-9-42 34z"/><path fill="#b0df75" d="M4375 1078l46-31-7-31-46 29z"/><path fill="#326465" d="M4698 1175l44-39-19 5-44 40z"/><path fill="#e09b34" d="M5439 872l41-29-44-10-41 29z"/><path fill="#2a5770" d="M4635 1220l44-39-19 6-44 40z"/><path fill="#284e7f" d="M4572 1267l44-40-19 5-44 40z"/><path fill="#5ebac4" d="M4361 1233l46-34-25-93-46 30z"/><path fill="#feca43" d="M4394 917l46-24-7-32-46 22z"/><path fill="#253e7d" d="M4508 1312l45-40-19 6-45 40z"/><path fill="#c8bf44" d="M5142 973l42-36-42-9-42 37z"/><path fill="#e78e32" d="M5524 854l40-31-44-12-40 32z"/><path fill="#cde463" d="M4368 1045l46-29-7-34-46 28z"/><path fill="#3642a5" d="M4444 1356l45-38-19-1-44 38z"/><path fill="#ec8130" d="M5609 836l40-30-45-13-40 30z"/><path fill="#6f9655" d="M4845 1089l44-36-20 1-44 36z"/><path fill="#4d61ec" d="M4360 1372l45-37-20-35-46 36z"/><path fill="#ffb03b" d="M4387 883l46-22-7-31-46 21z"/><path fill="#8ca750" d="M4930 1054l43-32-41-3-43 34z"/><path fill="#4982f0" d="M4339 1336l46-36-24-67-46 34z"/><path fill="#d1b63e" d="M5227 945l42-34-43-9-42 35z"/><path fill="#ef722e" d="M5695 819l39-27-45-13-40 27z"/><path fill="#e3e458" d="M4361 1010l46-28-6-33-47 26z"/><path fill="#55845c" d="M4782 1128l43-38-20 2-43 39z"/><path fill="#8bd490" d="M4336 1136l46-30-7-28-46 29z"/><path fill="#f0652b" d="M5780 806l39-25-45-14-40 25z"/><path fill="#5051e8" d="M4380 1393l46-38-21-20-45 37z"/><path fill="#ff3228" d="M4336 749l46-16-4-3-47 16z"/><path fill="#3a6b61" d="M4718 1169l44-38-20 5-44 39z"/><path fill="#f15929" d="M5866 795l38-24-46-14-39 24z"/><path fill="#ff9436" d="M4380 851l46-21-6-25-46 19z"/><path fill="#f82e25" d="M6378 757l36-18-49-15-36 17z"/><path fill="#f54c28" d="M5951 785l39-24-47-15-39 25z"/><path fill="#d6ab38" d="M5312 919l42-30-44-8-41 30z"/><path fill="#ff3528" d="M4341 755l46-17-5-5-46 16z"/><path fill="#2c5867" d="M4654 1213l44-38-19 6-44 39z"/><path fill="#f93026" d="M6293 759l36-18-48-15-37 18z"/><path fill="#a9b64c" d="M5014 1027l43-29-41-8-43 32z"/><path fill="#f93426" d="M6208 763l36-19-48-15-37 19z"/><path fill="#f74027" d="M6037 776l38-23-48-16-37 24z"/><path fill="#f83827" d="M6122 768l37-20-47-15-37 20z"/><path fill="#ff3b29" d="M4346 762l47-17-6-7-46 17z"/><path fill="#254c71" d="M4590 1259l45-39-19 7-44 40z"/><path fill="#ff7e32" d="M4374 824l46-19-6-18-46 19z"/><path fill="#f5e04e" d="M4354 975l47-26-7-32-47 25z"/><path fill="#a6dd7b" d="M4329 1107l46-29-7-33-46 28z"/><path fill="#ff432a" d="M4351 769l47-17-5-7-47 17z"/><path fill="#26437b" d="M4527 1305l45-38-19 5-45 40z"/><path fill="#ff6b2f" d="M4368 806l46-19-6-14-46 18z"/><path fill="#ff4d2b" d="M4356 779l47-18-5-9-47 17z"/><path fill="#ff5b2c" d="M4362 791l46-18-5-12-47 18z"/><path fill="#dda335" d="M5398 899l41-27-44-10-41 27z"/><path fill="#253476" d="M4463 1349l45-37-19 6-45 38z"/><path fill="#59b3cf" d="M4315 1267l46-34-25-97-46 30z"/><path fill="#bcbc48" d="M5099 1004l43-31-42-8-43 33z"/><path fill="#e49834" d="M5483 882l41-28-44-11-41 29z"/><path fill="#38379f" d="M4399 1393l45-37-18-1-46 38z"/><path fill="#fccd44" d="M4347 942l47-25-7-34-47 23z"/><path fill="#c4e368" d="M4322 1073l46-28-7-35-46 26z"/><path fill="#5f8c59" d="M4802 1125l43-36-20 1-43 38z"/><path fill="#5054e8" d="M4314 1407l46-35-21-36-46 34z"/><path fill="#e98c32" d="M5569 866l40-30-45-13-40 31z"/><path fill="#cabc42" d="M5185 981l42-36-43-8-42 36z"/><path fill="#7a9b52" d="M4886 1087l44-33-41-1-44 36z"/><path fill="#4877f2" d="M4293 1370l46-34-24-69-46 32z"/><path fill="#477963" d="M4738 1165l44-37-20 3-44 38z"/><path fill="#ed7f30" d="M5655 849l40-30-46-13-40 30z"/><path fill="#ffb53c" d="M4340 906l47-23-7-32-47 21z"/><path fill="#5644e2" d="M4334 1429l46-36-20-21-46 35z"/><path fill="#316065" d="M4673 1206l45-37-20 6-44 38z"/><path fill="#81cf9b" d="M4290 1166l46-30-7-29-46 29z"/><path fill="#dde45b" d="M4315 1036l46-26-7-35-46 25z"/><path fill="#ef6f2d" d="M5741 833l39-27-46-14-39 27z"/><path fill="#264e67" d="M4609 1250l45-37-19 7-45 39z"/><path fill="#d0af3b" d="M5270 953l42-34-43-8-42 34z"/><path fill="#22416b" d="M4545 1296l45-37-18 8-45 38z"/><path fill="#f0622b" d="M5827 820l39-25-47-14-39 25z"/><path fill="#9bae4c" d="M4971 1057l43-30-41-5-43 32z"/><path fill="#f25729" d="M5913 810l38-25-47-14-38 24z"/><path fill="#233a77" d="M4481 1342l46-37-19 7-45 37z"/><path fill="#ff9837" d="M4333 872l47-21-6-27-47 20z"/><path fill="#ff3228" d="M4288 766l48-17-5-3-48 17z"/><path fill="#f82e25" d="M6428 772l35-17-49-16-36 18z"/><path fill="#f54b28" d="M5998 800l39-24-47-15-39 24z"/><path fill="#f93026" d="M6342 775l36-18-49-16-36 18z"/><path fill="#9cdb81" d="M4283 1136l46-29-7-34-47 28z"/><path fill="#f93426" d="M6256 779l37-20-49-15-36 19z"/><path fill="#f84027" d="M6084 791l38-23-47-15-38 23z"/><path fill="#252b70" d="M4417 1386l46-37-19 7-45 37z"/><path fill="#f83827" d="M6170 783l38-20-49-15-37 20z"/><path fill="#ff3528" d="M4293 772l48-17-5-6-48 17z"/><path fill="#f3e450" d="M4308 1000l46-25-7-33-46 23z"/><path fill="#d9a837" d="M5356 928l42-29-44-10-42 30z"/><path fill="#ff8233" d="M4327 844l47-20-6-18-47 19z"/><path fill="#ff3c29" d="M4299 779l47-17-5-7-48 17z"/><path fill="#55acd8" d="M4269 1299l46-32-25-101-47 29z"/><path fill="#afb649" d="M5056 1032l43-28-42-6-43 29z"/><path fill="#ff442a" d="M4304 786l47-17-5-7-47 17z"/><path fill="#ff6e2f" d="M4321 825l47-19-6-15-47 19z"/><path fill="#3b2d99" d="M4353 1429l46-36-19 0-46 36z"/><path fill="#ff4f2b" d="M4309 796l47-17-5-10-47 17z"/><path fill="#ff5d2c" d="M4315 810l47-19-6-12-47 17z"/><path fill="#e1a035" d="M5442 909l41-27-44-10-41 27z"/><path fill="#518160" d="M4757 1162l45-37-20 3-44 37z"/><path fill="#5249e5" d="M4267 1440l47-33-21-37-47 32z"/><path fill="#bce16d" d="M4275 1101l47-28-7-37-47 27z"/><path fill="#fbd146" d="M4301 965l46-23-7-36-47 22z"/><path fill="#e79634" d="M5528 894l41-28-45-12-41 28z"/><path fill="#6b9355" d="M4842 1122l44-35-41 2-43 36z"/><path fill="#3b6f68" d="M4693 1201l45-36-20 4-45 37z"/><path fill="#c0bb45" d="M5142 1011l43-30-43-8-43 31z"/><path fill="#496df0" d="M4246 1402l47-32-24-71-47 30z"/><path fill="#2a5565" d="M4629 1242l44-36-19 7-45 37z"/><path fill="#eb8a32" d="M5614 879l41-30-46-13-40 30z"/><path fill="#6137d8" d="M4288 1462l46-33-20-22-47 33z"/><path fill="#214465" d="M4564 1287l45-37-19 9-45 37z"/><path fill="#78cba4" d="M4243 1195l47-29-7-30-47 28z"/><path fill="#1f3866" d="M4500 1333l45-37-18 9-46 37z"/><path fill="#c9b53e" d="M5228 987l42-34-43-8-42 36z"/><path fill="#ffb93d" d="M4293 928l47-22-7-34-47 21z"/><path fill="#d8e45d" d="M4268 1063l47-27-7-36-48 25z"/><path fill="#ed7c2f" d="M5701 862l40-29-46-14-40 30z"/><path fill="#233171" d="M4436 1378l45-36-18 7-46 37z"/><path fill="#8ba44e" d="M4927 1088l44-31-41-3-44 33z"/><path fill="#ef6d2d" d="M5787 846l40-26-47-14-39 27z"/><path fill="#25246a" d="M4371 1421l46-35-18 7-46 36z"/><path fill="#f1602b" d="M5873 834l40-24-47-15-39 25z"/><path fill="#f35629" d="M5960 824l38-24-47-15-38 25z"/><path fill="#94d987" d="M4236 1164l47-28-8-35-47 27z"/><path fill="#f82e25" d="M6478 788l35-17-50-16-35 17z"/><path fill="#d3ad3a" d="M5314 961l42-33-44-9-42 34z"/><path fill="#ff9b37" d="M4286 893l47-21-6-28-48 20z"/><path fill="#f93026" d="M6391 791l37-19-50-15-36 18z"/><path fill="#f64a28" d="M6046 816l38-25-47-15-39 24z"/><path fill="#ff3228" d="M4240 783l48-17-5-3-47 16z"/><path fill="#efe452" d="M4260 1025l48-25-7-35-48 24z"/><path fill="#f93326" d="M6305 795l37-20-49-16-37 20z"/><path fill="#f84027" d="M6133 807l37-24-48-15-38 23z"/><path fill="#f83827" d="M6219 799l37-20-48-16-38 20z"/><path fill="#422490" d="M4306 1462l47-33-19 0-46 33z"/><path fill="#51a6e1" d="M4222 1329l47-30-26-104-48 28z"/><path fill="#447766" d="M4713 1197l44-35-19 3-45 36z"/><path fill="#a3af49" d="M5013 1060l43-28-42-5-43 30z"/><path fill="#ff3628" d="M4246 789l47-17-5-6-48 17z"/><path fill="#ff8533" d="M4279 864l48-20-6-19-48 19z"/><path fill="#ff3c29" d="M4251 796l48-17-6-7-47 17z"/><path fill="#dfa836" d="M5400 938l42-29-44-10-42 29z"/><path fill="#ff702f" d="M4273 844l48-19-6-15-48 18z"/><path fill="#ff452a" d="M4256 804l48-18-5-7-48 17z"/><path fill="#5d8a59" d="M4798 1158l44-36-40 3-45 37z"/><path fill="#32646a" d="M4648 1236l45-35-20 5-44 36z"/><path fill="#ff5f2c" d="M4267 828l48-18-6-14-48 18z"/><path fill="#ff502b" d="M4261 814l48-18-5-10-48 18z"/><path fill="#5a3fde" d="M4220 1471l47-31-21-38-47 30z"/><path fill="#b4e072" d="M4228 1128l47-27-7-38-48 25z"/><path fill="#b5b646" d="M5099 1038l43-27-43-7-43 28z"/><path fill="#e49e35" d="M5487 921l41-27-45-12-41 27z"/><path fill="#254c64" d="M4583 1278l46-36-20 8-45 37z"/><path fill="#fad448" d="M4253 989l48-24-8-37-47 23z"/><path fill="#4b65ee" d="M4199 1432l47-30-24-73-48 29z"/><path fill="#1e3b60" d="M4519 1322l45-35-19 9-45 37z"/><path fill="#e89333" d="M5573 907l41-28-45-13-41 28z"/><path fill="#6b2dcf" d="M4240 1493l48-31-21-22-47 31z"/><path fill="#1d3063" d="M4454 1368l46-35-19 9-45 36z"/><path fill="#c2b841" d="M5185 1017l43-30-43-6-43 30z"/><path fill="#eb8631" d="M5660 892l41-30-46-13-41 30z"/><path fill="#70c7ad" d="M4195 1223l48-28-7-31-48 27z"/><path fill="#23296b" d="M4389 1413l47-35-19 8-46 35z"/><path fill="#7d9d51" d="M4883 1122l44-34-41-1-44 35z"/><path fill="#d3e460" d="M4220 1088l48-25-8-38-47 25z"/><path fill="#ffbd3e" d="M4246 951l47-23-7-35-48 21z"/><path fill="#ed792f" d="M5747 875l40-29-46-13-40 29z"/><path fill="#271d64" d="M4324 1454l47-33-18 8-47 33z"/><path fill="#cdb23d" d="M5272 995l42-34-44-8-42 34z"/><path fill="#f06a2c" d="M5834 860l39-26-46-14-40 26z"/><path fill="#8dd58f" d="M4188 1191l48-27-8-36-48 25z"/><path fill="#f25f2a" d="M5921 849l39-25-47-14-40 24z"/><path fill="#386d69" d="M4668 1231l45-34-20 4-45 35z"/><path fill="#f82e25" d="M6528 804l35-17-50-16-35 17z"/><path fill="#481d88" d="M4259 1493l47-31-18 0-48 31z"/><path fill="#f45529" d="M6008 840l38-24-48-16-38 24z"/><path fill="#ff9e38" d="M4238 914l48-21-7-29-48 20z"/><path fill="#98a949" d="M4969 1090l44-30-42-3-44 31z"/><path fill="#f93026" d="M6442 807l36-19-50-16-37 19z"/><path fill="#4ea2e7" d="M4174 1358l48-29-27-106-48 26z"/><path fill="#f74a28" d="M6095 831l38-24-49-16-38 25z"/><path fill="#ebe454" d="M4213 1050l47-25-7-36-48 23z"/><path fill="#f93326" d="M6355 811l36-20-49-16-37 20z"/><path fill="#f83f27" d="M6181 823l38-24-49-16-37 24z"/><path fill="#f83827" d="M6268 815l37-20-49-16-37 20z"/><path fill="#daad39" d="M5358 970l42-32-44-10-42 33z"/><path fill="#50805f" d="M4753 1191l45-33-41 4-44 35z"/><path fill="#ff3228" d="M4192 800l48-17-4-4-49 17z"/><path fill="#2d5a6a" d="M4603 1271l45-35-19 6-46 36z"/><path fill="#ff8834" d="M4231 884l48-20-6-20-48 20z"/><path fill="#ff3628" d="M4197 806l49-17-6-6-48 17z"/><path fill="#6237d7" d="M4172 1500l48-29-21-39-48 29z"/><path fill="#214363" d="M4538 1313l45-35-19 9-45 35z"/><path fill="#ff3d29" d="M4202 813l49-17-5-7-49 17z"/><path fill="#ff7230" d="M4225 864l48-20-6-16-48 18z"/><path fill="#e2a636" d="M5445 949l42-28-45-12-42 29z"/><path fill="#acb247" d="M5055 1065l44-27-43-6-43 28z"/><path fill="#aede76" d="M4180 1153l48-25-8-40-48 25z"/><path fill="#ff462a" d="M4208 822l48-18-5-8-49 17z"/><path fill="#1c335c" d="M4473 1357l46-35-19 11-46 35z"/><path fill="#ff602d" d="M4219 846l48-18-6-14-48 18z"/><path fill="#ff512b" d="M4213 832l48-18-5-10-48 18z"/><path fill="#4d5eec" d="M4151 1461l48-29-25-74-48 27z"/><path fill="#f9d749" d="M4205 1012l48-23-7-38-49 22z"/><path fill="#1d295d" d="M4408 1403l46-35-18 10-47 35z"/><path fill="#e69b34" d="M5532 933l41-26-45-13-41 27z"/><path fill="#7727c4" d="M4193 1523l47-30-20-22-48 29z"/><path fill="#b9b442" d="M5142 1044l43-27-43-6-43 27z"/><path fill="#232365" d="M4342 1446l47-33-18 8-47 33z"/><path fill="#6f9655" d="M4839 1156l44-34-41 0-44 36z"/><path fill="#e88f32" d="M5619 919l41-27-46-13-41 28z"/><path fill="#6ac4b3" d="M4147 1249l48-26-7-32-48 25z"/><path fill="#eb8330" d="M5707 905l40-30-46-13-41 30z"/><path fill="#cfe462" d="M4172 1113l48-25-7-38-49 23z"/><path fill="#2a185d" d="M4277 1485l47-31-18 8-47 31z"/><path fill="#c7b63f" d="M5229 1024l43-29-44-8-43 30z"/><path fill="#ffc13f" d="M4197 973l49-22-8-37-48 21z"/><path fill="#ee762e" d="M5794 889l40-29-47-14-40 29z"/><path fill="#326369" d="M4622 1265l46-34-20 5-45 35z"/><path fill="#f1682c" d="M5881 875l40-26-48-15-39 26z"/><path fill="#87d295" d="M4140 1216l48-25-8-38-48 25z"/><path fill="#8ba34d" d="M4925 1123l44-33-42-2-44 34z"/><path fill="#4f197f" d="M4211 1523l48-30-19 0-47 30z"/><path fill="#d4b23c" d="M5316 1004l42-34-44-9-42 34z"/><path fill="#f35e2a" d="M5969 864l39-24-48-16-39 25z"/><path fill="#28516b" d="M4557 1305l46-34-20 7-45 35z"/><path fill="#457662" d="M4708 1223l45-32-40 6-45 34z"/><path fill="#f82e25" d="M6579 820l35-17-51-16-35 17z"/><path fill="#4d9deb" d="M4126 1385l48-27-27-109-49 25z"/><path fill="#f55429" d="M6056 856l39-25-49-15-38 24z"/><path fill="#e7e456" d="M4164 1073l49-23-8-38-48 23z"/><path fill="#f93026" d="M6492 823l36-19-50-16-36 19z"/><path fill="#ffa139" d="M4190 935l48-21-7-30-48 20z"/><path fill="#f74928" d="M6143 847l38-24-48-16-38 24z"/><path fill="#f93326" d="M6405 827l37-20-51-16-36 20z"/><path fill="#f83f27" d="M6231 839l37-24-49-16-38 24z"/><path fill="#f83827" d="M6318 831l37-20-50-16-37 20z"/><path fill="#1f3c60" d="M4491 1347l47-34-19 9-46 35z"/><path fill="#ff3228" d="M4143 817l49-17-5-4-49 17z"/><path fill="#1a2c58" d="M4426 1391l47-34-19 11-46 35z"/><path fill="#dfad38" d="M5403 981l42-32-45-11-42 32z"/><path fill="#6830d2" d="M4124 1528l48-28-21-39-49 27z"/><path fill="#a3ae48" d="M5012 1093l43-28-42-5-44 30z"/><path fill="#ff8a34" d="M4183 904l48-20-6-20-49 19z"/><path fill="#ff3628" d="M4148 823l49-17-5-6-49 17z"/><path fill="#a8dd7a" d="M4132 1178l48-25-8-40-48 24z"/><path fill="#1c2356" d="M4361 1434l47-31-19 10-47 33z"/><path fill="#ff3d29" d="M4154 831l48-18-5-7-49 17z"/><path fill="#ff7430" d="M4176 883l49-19-6-18-49 19z"/><path fill="#4e59ea" d="M4102 1488l49-27-25-76-49 26z"/><path fill="#e4a236" d="M5491 961l41-28-45-12-42 28z"/><path fill="#ff462a" d="M4159 839l49-17-6-9-48 18z"/><path fill="#ff622d" d="M4170 865l49-19-6-14-49 19z"/><path fill="#ff522b" d="M4164 851l49-19-5-10-49 17z"/><path fill="#8022bc" d="M4144 1551l49-28-21-23-48 28z"/><path fill="#f8d94a" d="M4157 1035l48-23-8-39-48 21z"/><path fill="#628f58" d="M4794 1188l45-32-41 2-45 33z"/><path fill="#231e60" d="M4295 1476l47-30-18 8-47 31z"/><path fill="#b2b243" d="M5099 1070l43-26-43-6-44 27z"/><path fill="#e69634" d="M5578 945l41-26-46-12-41 26z"/><path fill="#65c1b9" d="M4098 1274l49-25-7-33-49 25z"/><path fill="#e88c32" d="M5666 932l41-27-47-13-41 27z"/><path fill="#2c1458" d="M4229 1515l48-30-18 8-48 30z"/><path fill="#c1b740" d="M5186 1050l43-26-44-7-43 27z"/><path fill="#cbe464" d="M4124 1137l48-24-8-40-48 23z"/><path fill="#2d5a6a" d="M4576 1299l46-34-19 6-46 34z"/><path fill="#ec8130" d="M5754 918l40-29-47-14-40 30z"/><path fill="#ffc43f" d="M4149 994l48-21-7-38-49 20z"/><path fill="#7e9d51" d="M4880 1156l45-33-42-1-44 34z"/><path fill="#244b6c" d="M4511 1339l46-34-19 8-47 34z"/><path fill="#ceb63f" d="M5273 1033l43-29-44-9-43 29z"/><path fill="#f0742e" d="M5841 903l40-28-47-15-40 29z"/><path fill="#3b6d64" d="M4662 1255l46-32-40 8-46 34z"/><path fill="#541678" d="M4163 1551l48-28-18 0-49 28z"/><path fill="#82d09a" d="M4091 1241l49-25-8-38-49 24z"/><path fill="#f3672c" d="M5929 890l40-26-48-15-40 26z"/><path fill="#1c355b" d="M4445 1380l46-33-18 10-47 34z"/><path fill="#f45d2a" d="M6017 880l39-24-48-16-39 24z"/><path fill="#4c99ec" d="M4077 1411l49-26-28-111-49 25z"/><path fill="#f82e25" d="M6631 837l35-18-52-16-35 17z"/><path fill="#f55329" d="M6105 872l38-25-48-16-39 25z"/><path fill="#f93026" d="M6543 840l36-20-51-16-36 19z"/><path fill="#e4e457" d="M4116 1096l48-23-7-38-49 22z"/><path fill="#d9b23c" d="M5361 1014l42-33-45-11-42 34z"/><path fill="#f74928" d="M6193 864l38-25-50-16-38 24z"/><path fill="#f93326" d="M6456 843l36-20-50-16-37 20z"/><path fill="#ffa439" d="M4141 955l49-20-7-31-50 19z"/><path fill="#192652" d="M4379 1422l47-31-18 12-47 31z"/><path fill="#f93f27" d="M6281 855l37-24-50-16-37 24z"/><path fill="#f83827" d="M6368 848l37-21-50-16-37 20z"/><path fill="#9aab49" d="M4967 1125l45-32-43-3-44 33z"/><path fill="#1b1e51" d="M4313 1464l48-30-19 12-47 30z"/><path fill="#ff3228" d="M4094 834l49-17-5-4-49 18z"/><path fill="#e2ab38" d="M5449 993l42-32-46-12-42 32z"/><path fill="#ff8b34" d="M4133 923l50-19-7-21-49 19z"/><path fill="#a4dc7d" d="M4083 1202l49-24-8-41-50 23z"/><path fill="#57855b" d="M4748 1218l46-30-41 3-45 32z"/><path fill="#ff3629" d="M4099 841l49-18-5-6-49 17z"/><path fill="#ff7630" d="M4127 902l49-19-6-18-49 19z"/><path fill="#241a5a" d="M4247 1506l48-30-18 9-48 30z"/><path fill="#ff3e29" d="M4104 849l50-18-6-8-49 18z"/><path fill="#acb045" d="M5055 1098l44-28-44-5-43 28z"/><path fill="#f7db4b" d="M4108 1057l49-22-8-41-50 21z"/><path fill="#e49e35" d="M5537 973l41-28-46-12-41 28z"/><path fill="#ff472a" d="M4109 857l50-18-5-8-50 18z"/><path fill="#ff632d" d="M4121 884l49-19-6-14-49 18z"/><path fill="#ff532b" d="M4115 869l49-18-5-12-50 18z"/><path fill="#e69333" d="M5625 958l41-26-47-13-41 26z"/><path fill="#29536c" d="M4530 1332l46-33-19 6-46 34z"/><path fill="#2e1152" d="M4180 1542l49-27-18 8-48 28z"/><path fill="#61bfbd" d="M4049 1299l49-25-7-33-50 24z"/><path fill="#bcb542" d="M5142 1076l44-26-44-6-43 26z"/><path fill="#ea8931" d="M5713 945l41-27-47-13-41 27z"/><path fill="#729753" d="M4835 1186l45-30-41 0-45 32z"/><path fill="#c8e466" d="M4074 1160l50-23-8-41-50 23z"/><path fill="#224368" d="M4464 1371l47-32-20 8-46 33z"/><path fill="#336566" d="M4616 1288l46-33-40 10-46 34z"/><path fill="#ee7f30" d="M5801 932l40-29-47-14-40 29z"/><path fill="#cab840" d="M5230 1059l43-26-44-9-43 26z"/><path fill="#ffc540" d="M4099 1015l50-21-8-39-50 20z"/><path fill="#f2732e" d="M5889 919l40-29-48-15-40 28z"/><path fill="#1a2e56" d="M4397 1410l48-30-19 11-47 31z"/><path fill="#7ece9e" d="M4041 1265l50-24-8-39-50 23z"/><path fill="#f4662c" d="M5978 906l39-26-48-16-40 26z"/><path fill="#d5b63e" d="M5318 1043l43-29-45-10-43 29z"/><path fill="#f45c2a" d="M6066 896l39-24-49-16-39 24z"/><path fill="#f82e25" d="M6683 853l35-18-52-16-35 18z"/><path fill="#18224d" d="M4331 1451l48-29-18 12-48 30z"/><path fill="#8fa64d" d="M4922 1158l45-33-42-2-45 33z"/><path fill="#f65329" d="M6154 888l39-24-50-17-38 25z"/><path fill="#f93026" d="M6595 856l36-19-52-17-36 20z"/><path fill="#e2e458" d="M4066 1119l50-23-8-39-50 22z"/><path fill="#f74828" d="M6243 880l38-25-50-16-38 25z"/><path fill="#f93326" d="M6507 860l36-20-51-17-36 20z"/><path fill="#f83e27" d="M6331 871l37-23-50-17-37 24z"/><path fill="#f83726" d="M6419 864l37-21-51-16-37 21z"/><path fill="#ffa539" d="M4091 975l50-20-8-32-49 20z"/><path fill="#ddb13b" d="M5406 1025l43-32-46-12-42 33z"/><path fill="#1a1b4c" d="M4265 1493l48-29-18 12-48 30z"/><path fill="#4d7d5e" d="M4702 1249l46-31-40 5-46 32z"/><path fill="#ff3228" d="M4044 852l50-18-5-3-50 17z"/><path fill="#a0dc7f" d="M4033 1225l50-23-9-42-50 23z"/><path fill="#ff8d35" d="M4084 943l49-20-6-21-50 19z"/><path fill="#a4ae47" d="M5010 1129l45-31-43-5-45 32z"/><path fill="#e2a737" d="M5495 1005l42-32-46-12-42 32z"/><path fill="#251655" d="M4198 1533l49-27-18 9-49 27z"/><path fill="#ff3629" d="M4049 858l50-17-5-7-50 18z"/><path fill="#ff7731" d="M4077 921l50-19-6-18-50 18z"/><path fill="#f6dd4c" d="M4058 1079l50-22-9-42-50 21z"/><path fill="#ff3e29" d="M4054 866l50-17-5-8-50 17z"/><path fill="#254d6c" d="M4483 1364l47-32-19 7-47 32z"/><path fill="#ff482a" d="M4059 875l50-18-5-8-50 17z"/><path fill="#ff642d" d="M4071 902l50-18-6-15-50 18z"/><path fill="#e59a34" d="M5583 985l42-27-47-13-41 28z"/><path fill="#ff542b" d="M4065 887l50-18-6-12-50 18z"/><path fill="#b6b443" d="M5098 1104l44-28-43-6-44 28z"/><path fill="#689055" d="M4789 1216l46-30-41 2-46 30z"/><path fill="#e89032" d="M5672 971l41-26-47-13-41 26z"/><path fill="#2f5e68" d="M4569 1320l47-32-40 11-46 33z"/><path fill="#1f3c64" d="M4416 1401l48-30-19 9-48 30z"/><path fill="#ec8731" d="M5760 959l41-27-47-14-41 27z"/><path fill="#c5e368" d="M4024 1183l50-23-8-41-50 22z"/><path fill="#c7ba41" d="M5186 1084l44-25-44-9-44 26z"/><path fill="#f17f30" d="M5849 948l40-29-48-16-40 29z"/><path fill="#182952" d="M4349 1439l48-29-18 12-48 29z"/><path fill="#ffc641" d="M4049 1036l50-21-8-40-50 20z"/><path fill="#f3722e" d="M5938 935l40-29-49-16-40 29z"/><path fill="#d0b93f" d="M5275 1069l43-26-45-10-43 26z"/><path fill="#83a050" d="M4877 1188l45-30-42-2-45 30z"/><path fill="#f4662c" d="M6027 922l39-26-49-16-39 26z"/><path fill="#171e48" d="M4283 1480l48-29-18 13-48 29z"/><path fill="#f45c2a" d="M6115 913l39-25-49-16-39 24z"/><path fill="#f82e25" d="M6736 870l35-18-53-17-35 18z"/><path fill="#f65229" d="M6204 905l39-25-50-16-39 24z"/><path fill="#d8b53d" d="M5363 1054l43-29-45-11-43 29z"/><path fill="#f93026" d="M6648 873l35-20-52-16-36 19z"/><path fill="#f74828" d="M6293 896l38-25-50-16-38 25z"/><path fill="#f93326" d="M6559 877l36-21-52-16-36 20z"/><path fill="#e0e459" d="M4016 1141l50-22-8-40-51 21z"/><path fill="#f83e27" d="M6382 888l37-24-51-16-37 23z"/><path fill="#f83726" d="M6471 881l36-21-51-17-37 21z"/><path fill="#457662" d="M4656 1281l46-32-40 6-46 33z"/><path fill="#1a1848" d="M4216 1520l49-27-18 13-49 27z"/><path fill="#ffa73a" d="M4041 995l50-20-7-32-51 19z"/><path fill="#9bab49" d="M4965 1161l45-32-43-4-45 33z"/><path fill="#deae39" d="M5452 1037l43-32-46-12-43 32z"/><path fill="#ff8e35" d="M4033 962l51-19-7-22-50 19z"/><path fill="#ff3228" d="M3993 870l51-18-5-4-51 18z"/><path fill="#224669" d="M4435 1393l48-29-19 7-48 30z"/><path fill="#e3a236" d="M5541 1017l42-32-46-12-42 32z"/><path fill="#ff3629" d="M3998 876l51-18-5-6-51 18z"/><path fill="#ff7831" d="M4027 940l50-19-6-19-50 19z"/><path fill="#f5de4d" d="M4007 1100l51-21-9-43-50 21z"/><path fill="#afb346" d="M5054 1135l44-31-43-6-45 31z"/><path fill="#ff3e29" d="M4003 884l51-18-5-8-51 18z"/><path fill="#5e8a56" d="M4743 1245l46-29-41 2-46 31z"/><path fill="#2b5769" d="M4522 1351l47-31-39 12-47 32z"/><path fill="#ff652d" d="M4021 921l50-19-6-15-51 18z"/><path fill="#ff482a" d="M4009 894l50-19-5-9-51 18z"/><path fill="#e69634" d="M5630 998l42-27-47-13-42 27z"/><path fill="#ff542b" d="M4014 905l51-18-6-12-50 19z"/><path fill="#1e375f" d="M4368 1429l48-28-19 9-48 29z"/><path fill="#ea8e32" d="M5719 985l41-26-47-14-41 26z"/><path fill="#c3ba43" d="M5142 1112l44-28-44-8-44 28z"/><path fill="#ef8732" d="M5808 974l41-26-48-16-41 27z"/><path fill="#17254d" d="M4301 1467l48-28-18 12-48 29z"/><path fill="#f37e30" d="M5897 964l41-29-49-16-40 29z"/><path fill="#7a9b52" d="M4831 1216l46-28-42-2-46 30z"/><path fill="#cebb41" d="M5231 1094l44-25-45-10-44 25z"/><path fill="#ffc741" d="M3999 1057l50-21-8-41-51 20z"/><path fill="#f4712e" d="M5987 951l40-29-49-16-40 29z"/><path fill="#0f122e" d="M4233 1506l50-26-18 13-49 27z"/><path fill="#f4652c" d="M6076 939l39-26-49-17-39 26z"/><path fill="#d4b73e" d="M5320 1080l43-26-45-11-43 26z"/><path fill="#f45b2a" d="M6165 930l39-25-50-17-39 25z"/><path fill="#3d7066" d="M4609 1313l47-32-40 7-47 32z"/><path fill="#f55229" d="M6255 921l38-25-50-16-39 25z"/><path fill="#f93026" d="M6700 890l36-20-53-17-35 20z"/><path fill="#f74728" d="M6344 913l38-25-51-17-38 25z"/><path fill="#f93326" d="M6612 894l36-21-53-17-36 21z"/><path fill="#f83e27" d="M6433 905l38-24-52-17-37 24z"/><path fill="#f83726" d="M6523 898l36-21-52-17-36 21z"/><path fill="#d9b23b" d="M5409 1065l43-28-46-12-43 29z"/><path fill="#92a74b" d="M4920 1190l45-29-43-3-45 30z"/><path fill="#ffa83a" d="M3990 1015l51-20-8-33-50 20z"/><path fill="#dfab38" d="M5499 1048l42-31-46-12-43 32z"/><path fill="#204065" d="M4387 1421l48-28-19 8-48 28z"/><path fill="#a7b048" d="M5009 1166l45-31-44-6-45 32z"/><path fill="#ff8f35" d="M3983 982l50-20-6-22-51 19z"/><path fill="#ff3228" d="M3942 888l51-18-5-4-51 18z"/><path fill="#56845a" d="M4697 1276l46-31-41 4-46 32z"/><path fill="#e49f35" d="M5588 1029l42-31-47-13-42 32z"/><path fill="#285167" d="M4474 1379l48-28-39 13-48 29z"/><path fill="#ff3629" d="M3947 894l51-18-5-6-51 18z"/><path fill="#ff7931" d="M3976 959l51-19-6-19-52 19z"/><path fill="#1c325a" d="M4319 1456l49-27-19 10-48 28z"/><path fill="#ff3e29" d="M3952 903l51-19-5-8-51 18z"/><path fill="#ff652e" d="M3969 940l52-19-7-16-51 19z"/><path fill="#ff482a" d="M3958 912l51-18-6-10-51 19z"/><path fill="#e99534" d="M5678 1012l41-27-47-14-42 27z"/><path fill="#ff552b" d="M3963 924l51-19-5-11-51 18z"/><path fill="#bcb945" d="M5098 1143l44-31-44-8-44 31z"/><path fill="#ee8e33" d="M5767 1000l41-26-48-15-41 26z"/><path fill="#f18632" d="M5857 990l40-26-48-16-41 26z"/><path fill="#0e162f" d="M4251 1493l50-26-18 13-50 26z"/><path fill="#719654" d="M4785 1245l46-29-42 0-46 29z"/><path fill="#f47e30" d="M5946 980l41-29-49-16-41 29z"/><path fill="#ccbe42" d="M5187 1122l44-28-45-10-44 28z"/><path fill="#f4702e" d="M6036 968l40-29-49-17-40 29z"/><path fill="#366a67" d="M4561 1342l48-29-40 7-47 31z"/><path fill="#d2b940" d="M5276 1105l44-25-45-11-44 25z"/><path fill="#f4642c" d="M6126 956l39-26-50-17-39 26z"/><path fill="#f45b2a" d="M6216 946l39-25-51-16-39 25z"/><path fill="#f55129" d="M6306 938l38-25-51-17-38 25z"/><path fill="#89a34e" d="M4874 1218l46-28-43-2-46 28z"/><path fill="#f74728" d="M6395 930l38-25-51-17-38 25z"/><path fill="#f93326" d="M6665 911l35-21-52-17-36 21z"/><path fill="#d5b43d" d="M5366 1091l43-26-46-11-43 26z"/><path fill="#f93727" d="M6575 915l37-21-53-17-36 21z"/><path fill="#f93e27" d="M6485 922l38-24-52-17-38 24z"/><path fill="#dbae3a" d="M5456 1076l43-28-47-11-43 28z"/><path fill="#9fad49" d="M4963 1195l46-29-44-5-45 29z"/><path fill="#1e3b60" d="M4338 1447l49-26-19 8-49 27z"/><path fill="#4f7e5e" d="M4650 1307l47-31-41 5-47 32z"/><path fill="#e2a837" d="M5546 1060l42-31-47-12-42 31z"/><path fill="#254c66" d="M4425 1406l49-27-39 14-48 28z"/><path fill="#e89d35" d="M5636 1043l42-31-48-14-42 31z"/><path fill="#1a2e56" d="M4270 1482l49-26-18 11-50 26z"/><path fill="#b4b747" d="M5053 1173l45-30-44-8-45 31z"/><path fill="#ed9434" d="M5726 1027l41-27-48-15-41 27z"/><path fill="#f08d33" d="M5816 1016l41-26-49-16-41 26z"/><path fill="#6a9356" d="M4738 1275l47-30-42 0-46 31z"/><path fill="#f28632" d="M5906 1007l40-27-49-16-40 26z"/><path fill="#c7be44" d="M5142 1152l45-30-45-10-44 31z"/><path fill="#f47d30" d="M5996 997l40-29-49-17-41 29z"/><path fill="#326467" d="M4513 1369l48-27-39 9-48 28z"/><path fill="#f46f2e" d="M6086 984l40-28-50-17-40 29z"/><path fill="#d0bc41" d="M5232 1133l44-28-45-11-44 28z"/><path fill="#f4632c" d="M6177 973l39-27-51-16-39 26z"/><path fill="#82a050" d="M4828 1247l46-29-43-2-46 29z"/><path fill="#f45a2a" d="M6267 963l39-25-51-17-39 25z"/><path fill="#f65029" d="M6357 955l38-25-51-17-38 25z"/><path fill="#d3b63e" d="M5322 1116l44-25-46-11-44 25z"/><path fill="#f84728" d="M6448 947l37-25-52-17-38 25z"/><path fill="#f93727" d="M6628 932l37-21-53-17-37 21z"/><path fill="#f93e27" d="M6538 939l37-24-52-17-38 24z"/><path fill="#d7b03b" d="M5412 1102l44-26-47-11-43 26z"/><path fill="#99ab4b" d="M4917 1223l46-28-43-5-46 28z"/><path fill="#487861" d="M4602 1336l48-29-41 6-48 29z"/><path fill="#dead39" d="M5503 1089l43-29-47-12-43 28z"/><path fill="#1d375b" d="M4288 1472l50-25-19 9-49 26z"/><path fill="#234762" d="M4376 1430l49-24-38 15-49 26z"/><path fill="#e6a737" d="M5593 1074l43-31-48-14-42 31z"/><path fill="#acb549" d="M5007 1202l46-29-44-7-46 29z"/><path fill="#ec9d36" d="M5684 1058l42-31-48-15-42 31z"/><path fill="#628f59" d="M4691 1306l47-31-41 1-47 31z"/><path fill="#ef9434" d="M5774 1044l42-28-49-16-41 27z"/><path fill="#bfbd47" d="M5097 1183l45-31-44-9-45 30z"/><path fill="#f18c33" d="M5865 1033l41-26-49-17-41 26z"/><path fill="#f38531" d="M5955 1024l41-27-50-17-40 27z"/><path fill="#f47c30" d="M6046 1014l40-30-50-16-40 29z"/><path fill="#305f66" d="M4465 1395l48-26-39 10-49 27z"/><path fill="#cdc043" d="M5187 1163l45-30-45-11-45 30z"/><path fill="#f46e2d" d="M6137 1001l40-28-51-17-40 28z"/><path fill="#7b9d53" d="M4781 1277l47-30-43-2-47 30z"/><path fill="#f4622b" d="M6228 990l39-27-51-17-39 27z"/><path fill="#f4592a" d="M6319 980l38-25-51-17-39 25z"/><path fill="#d1b83f" d="M5278 1143l44-27-46-11-44 28z"/><path fill="#f65029" d="M6410 973l38-26-53-17-38 25z"/><path fill="#f84728" d="M6500 965l38-26-53-17-37 25z"/><path fill="#f93e27" d="M6591 957l37-25-53-17-37 24z"/><path fill="#d4b23c" d="M5369 1127l43-25-46-11-44 25z"/><path fill="#92a94d" d="M4871 1251l46-28-43-5-46 29z"/><path fill="#427362" d="M4554 1363l48-27-41 6-48 27z"/><path fill="#daaf3a" d="M5459 1114l44-25-47-13-44 26z"/><path fill="#e3ad38" d="M5550 1102l43-28-47-14-43 29z"/><path fill="#a6b34b" d="M4961 1230l46-28-44-7-46 28z"/><path fill="#21445f" d="M4326 1454l50-24-38 17-50 25z"/><path fill="#eba737" d="M5641 1089l43-31-48-15-43 31z"/><path fill="#5b895c" d="M4643 1334l48-28-41 1-48 29z"/><path fill="#ef9d36" d="M5732 1074l42-30-48-17-42 31z"/><path fill="#b8bb49" d="M5052 1211l45-28-44-10-46 29z"/><path fill="#f19334" d="M5823 1060l42-27-49-17-42 28z"/><path fill="#f28b33" d="M5915 1050l40-26-49-17-41 26z"/><path fill="#f38431" d="M6006 1041l40-27-50-17-41 27z"/><path fill="#c7bf45" d="M5142 1193l45-30-45-11-45 31z"/><path fill="#f47a30" d="M6097 1031l40-30-51-17-40 30z"/><path fill="#2d5a63" d="M4415 1418l50-23-40 11-49 24z"/><path fill="#739a56" d="M4733 1307l48-30-43-2-47 31z"/><path fill="#f46d2d" d="M6188 1018l40-28-51-17-40 28z"/><path fill="#cebc41" d="M5233 1173l45-30-46-10-45 30z"/><path fill="#f4622b" d="M6280 1007l39-27-52-17-39 27z"/><path fill="#f5592a" d="M6371 998l39-25-53-18-38 25z"/><path fill="#f75029" d="M6462 990l38-25-52-18-38 26z"/><path fill="#f84728" d="M6554 983l37-26-53-18-38 26z"/><path fill="#d3b53d" d="M5324 1154l45-27-47-11-44 27z"/><path fill="#8ca650" d="M4824 1280l47-29-43-4-47 30z"/><path fill="#3e6f62" d="M4505 1388l49-25-41 6-48 26z"/><path fill="#d8b13b" d="M5416 1139l43-25-47-12-43 25z"/><path fill="#e0af3a" d="M5507 1127l43-25-47-13-44 25z"/><path fill="#a1b24c" d="M4914 1258l47-28-44-7-46 28z"/><path fill="#e9af39" d="M5598 1117l43-28-48-15-43 28z"/><path fill="#eea638" d="M5690 1105l42-31-48-16-43 31z"/><path fill="#55855d" d="M4595 1360l48-26-41 2-48 27z"/><path fill="#b2b94a" d="M5005 1239l47-28-45-9-46 28z"/><path fill="#f09c36" d="M5781 1091l42-31-49-16-42 30z"/><path fill="#f19234" d="M5873 1078l42-28-50-17-42 27z"/><path fill="#c0bd47" d="M5097 1221l45-28-45-10-45 28z"/><path fill="#f28a32" d="M5965 1067l41-26-51-17-40 26z"/><path fill="#f28331" d="M6056 1058l41-27-51-17-40 27z"/><path fill="#6c9657" d="M4685 1334l48-27-42-1-48 28z"/><path fill="#f3792f" d="M6148 1048l40-30-51-17-40 30z"/><path fill="#2b5761" d="M4365 1442l50-24-39 12-50 24z"/><path fill="#cbbf43" d="M5188 1203l45-30-46-10-45 30z"/><path fill="#f46c2d" d="M6240 1036l40-29-52-17-40 28z"/><path fill="#f5622b" d="M6332 1025l39-27-52-18-39 27z"/><path fill="#f6592a" d="M6424 1016l38-26-52-17-39 25z"/><path fill="#f75029" d="M6516 1009l38-26-54-18-38 25z"/><path fill="#d0b83f" d="M5280 1184l44-30-46-11-45 30z"/><path fill="#84a353" d="M4776 1310l48-30-43-3-48 30z"/><path fill="#d6b33c" d="M5371 1166l45-27-47-12-45 27z"/><path fill="#3b6b60" d="M4455 1410l50-22-40 7-50 23z"/><path fill="#ddb13b" d="M5463 1153l44-26-48-13-43 25z"/><path fill="#9cb14e" d="M4867 1287l47-29-43-7-47 29z"/><path fill="#e6b23a" d="M5555 1143l43-26-48-15-43 25z"/><path fill="#ecae39" d="M5647 1133l43-28-49-16-43 28z"/><path fill="#efa537" d="M5739 1122l42-31-49-17-42 31z"/><path fill="#adb84c" d="M4959 1266l46-27-44-9-47 28z"/><path fill="#51815e" d="M4546 1385l49-25-41 3-49 25z"/><path fill="#f19b36" d="M5831 1108l42-30-50-18-42 31z"/><path fill="#babc49" d="M5051 1249l46-28-45-10-47 28z"/><path fill="#f19134" d="M5923 1095l42-28-50-17-42 28z"/><path fill="#f18932" d="M6016 1084l40-26-50-17-41 26z"/><path fill="#f28231" d="M6108 1075l40-27-51-17-41 27z"/><path fill="#679358" d="M4637 1361l48-27-42 0-48 26z"/><path fill="#c4bd45" d="M5142 1232l46-29-46-10-45 28z"/><path fill="#f4782f" d="M6200 1065l40-29-52-18-40 30z"/><path fill="#f56c2d" d="M6292 1054l40-29-52-18-40 29z"/><path fill="#f6622b" d="M6385 1043l39-27-53-18-39 27z"/><path fill="#cdbb41" d="M5234 1214l46-30-47-11-45 30z"/><path fill="#f6592a" d="M6477 1035l39-26-54-19-38 26z"/><path fill="#7da055" d="M4728 1338l48-28-43-3-48 27z"/><path fill="#d4b63e" d="M5327 1196l44-30-47-12-44 30z"/><path fill="#95ae51" d="M4820 1317l47-30-43-7-48 30z"/><path fill="#dcb43c" d="M5419 1179l44-26-47-14-45 27z"/><path fill="#39685e" d="M4405 1433l50-23-40 8-50 24z"/><path fill="#e4b43b" d="M5511 1168l44-25-48-16-44 26z"/><path fill="#eab23a" d="M5604 1159l43-26-49-16-43 26z"/><path fill="#eead39" d="M5696 1150l43-28-49-17-43 28z"/><path fill="#a8b74d" d="M4912 1296l47-30-45-8-47 29z"/><path fill="#f0a437" d="M5789 1140l42-32-50-17-42 31z"/><path fill="#4e7e5d" d="M4496 1407l50-22-41 3-50 22z"/><path fill="#f19a35" d="M5881 1126l42-31-50-17-42 30z"/><path fill="#b5bb4a" d="M5004 1276l47-27-46-10-46 27z"/><path fill="#f19033" d="M5974 1112l42-28-51-17-42 28z"/><path fill="#f18832" d="M6067 1102l41-27-52-17-40 26z"/><path fill="#bfbc46" d="M5096 1259l46-27-45-11-46 28z"/><path fill="#f38131" d="M6160 1093l40-28-52-17-40 27z"/><path fill="#639059" d="M4588 1385l49-24-42-1-49 25z"/><path fill="#f5782f" d="M6252 1084l40-30-52-18-40 29z"/><path fill="#f76c2d" d="M6345 1073l40-30-53-18-40 29z"/><path fill="#c9bd42" d="M5189 1242l45-28-46-11-46 29z"/><path fill="#f6622b" d="M6438 1062l39-27-53-19-39 27z"/><path fill="#789d56" d="M4679 1364l49-26-43-4-48 27z"/><path fill="#d1ba40" d="M5281 1225l46-29-47-12-46 30z"/><path fill="#dab73e" d="M5374 1209l45-30-48-13-44 30z"/><path fill="#8eab53" d="M4772 1344l48-27-44-7-48 28z"/><path fill="#e3b73d" d="M5467 1195l44-27-48-15-44 26z"/><path fill="#e8b53b" d="M5560 1185l44-26-49-16-44 25z"/><path fill="#ecb23a" d="M5653 1176l43-26-49-17-43 26z"/><path fill="#a3b64f" d="M4864 1325l48-29-45-9-47 30z"/><path fill="#eeac39" d="M5746 1168l43-28-50-18-43 28z"/><path fill="#f0a337" d="M5839 1157l42-31-50-18-42 32z"/><path fill="#b1ba4c" d="M4957 1306l47-30-45-10-47 30z"/><path fill="#4d7c5c" d="M4445 1430l51-23-41 3-50 23z"/><path fill="#f09835" d="M5932 1143l42-31-51-17-42 31z"/><path fill="#f18e33" d="M6026 1130l41-28-51-18-42 28z"/><path fill="#babb47" d="M5049 1287l47-28-45-10-47 27z"/><path fill="#f28732" d="M6119 1120l41-27-52-18-41 27z"/><path fill="#f48131" d="M6212 1111l40-27-52-19-40 28z"/><path fill="#618e58" d="M4538 1408l50-23-42 0-50 22z"/><path fill="#f7782f" d="M6305 1102l40-29-53-19-40 30z"/><path fill="#c4bc44" d="M5142 1269l47-27-47-10-46 27z"/><path fill="#f76c2d" d="M6399 1091l39-29-53-19-40 30z"/><path fill="#759b57" d="M4630 1389l49-25-42-3-49 24z"/><path fill="#cdbc41" d="M5236 1253l45-28-47-11-45 28z"/><path fill="#d7bb40" d="M5329 1238l45-29-47-13-46 29z"/><path fill="#89a854" d="M4723 1370l49-26-44-6-49 26z"/><path fill="#e2ba3e" d="M5422 1224l45-29-48-16-45 30z"/><path fill="#e7b83d" d="M5516 1212l44-27-49-17-44 27z"/><path fill="#9db351" d="M4816 1353l48-28-44-8-48 27z"/><path fill="#eab53b" d="M5609 1202l44-26-49-17-44 26z"/><path fill="#edb13a" d="M5703 1194l43-26-50-18-43 26z"/><path fill="#efab38" d="M5796 1186l43-29-50-17-43 28z"/><path fill="#acb94d" d="M4909 1335l48-29-45-10-48 29z"/><path fill="#efa137" d="M5890 1175l42-32-51-17-42 31z"/><path fill="#f09635" d="M5984 1161l42-31-52-18-42 31z"/><path fill="#b6ba49" d="M5002 1316l47-29-45-11-47 30z"/><path fill="#f18d33" d="M6078 1148l41-28-52-18-41 28z"/><path fill="#f48732" d="M6171 1138l41-27-52-18-41 27z"/><path fill="#f68231" d="M6265 1131l40-29-53-18-40 27z"/><path fill="#f77830" d="M6359 1122l40-31-54-18-40 29z"/><path fill="#bfbb45" d="M5096 1297l46-28-46-10-47 28z"/><path fill="#608d58" d="M4487 1430l51-22-42-1-51 23z"/><path fill="#cbbd42" d="M5189 1281l47-28-47-11-47 27z"/><path fill="#739956" d="M4580 1411l50-22-42-4-50 23z"/><path fill="#d4bd41" d="M5283 1267l46-29-48-13-45 28z"/><path fill="#86a655" d="M4673 1395l50-25-44-6-49 25z"/><path fill="#dfbe40" d="M5377 1254l45-30-48-15-45 29z"/><path fill="#e6bb3e" d="M5471 1241l45-29-49-17-45 29z"/><path fill="#98b152" d="M4767 1379l49-26-44-9-49 26z"/><path fill="#e9b83c" d="M5565 1229l44-27-49-17-44 27z"/><path fill="#ecb43b" d="M5659 1220l44-26-50-18-44 26z"/><path fill="#edb039" d="M5753 1212l43-26-50-18-43 26z"/><path fill="#eea938" d="M5847 1203l43-28-51-18-43 29z"/><path fill="#a6b74e" d="M4861 1362l48-27-45-10-48 28z"/><path fill="#ef9f36" d="M5941 1192l43-31-52-18-42 32z"/><path fill="#f19535" d="M6036 1179l42-31-52-18-42 31z"/><path fill="#b1b94b" d="M4954 1345l48-29-45-10-48 29z"/><path fill="#f38e33" d="M6130 1167l41-29-52-18-41 28z"/><path fill="#f58832" d="M6225 1158l40-27-53-20-41 27z"/><path fill="#f68231" d="M6319 1150l40-28-54-20-40 29z"/><path fill="#bbba46" d="M5048 1326l48-29-47-10-47 29z"/><path fill="#c7bd43" d="M5142 1308l47-27-47-12-46 28z"/><path fill="#d1bf42" d="M5237 1294l46-27-47-14-47 28z"/><path fill="#729956" d="M4529 1434l51-23-42-3-51 22z"/><path fill="#dcc042" d="M5331 1282l46-28-48-16-46 29z"/><path fill="#84a555" d="M4623 1418l50-23-43-6-50 22z"/><path fill="#e4bf40" d="M5426 1271l45-30-49-17-45 30z"/><path fill="#e8bb3e" d="M5520 1259l45-30-49-17-45 29z"/><path fill="#95af53" d="M4717 1403l50-24-44-9-50 25z"/><path fill="#ebb73c" d="M5615 1247l44-27-50-18-44 27z"/><path fill="#ecb33a" d="M5709 1238l44-26-50-18-44 26z"/><path fill="#ecad39" d="M5804 1230l43-27-51-17-43 26z"/><path fill="#eea738" d="M5899 1221l42-29-51-17-43 28z"/><path fill="#a3b64f" d="M4812 1389l49-27-45-9-49 26z"/><path fill="#f09e36" d="M5993 1211l43-32-52-18-43 31z"/><path fill="#abb74b" d="M4906 1372l48-27-45-10-48 27z"/><path fill="#f39635" d="M6088 1198l42-31-52-19-42 31z"/><path fill="#f58e34" d="M6183 1186l42-28-54-20-41 29z"/><path fill="#f58832" d="M6278 1177l41-27-54-19-40 27z"/><path fill="#b6b948" d="M5000 1355l48-29-46-10-48 29z"/><path fill="#c3bd45" d="M5095 1337l47-29-46-11-48 29z"/><path fill="#d0c143" d="M5190 1321l47-27-48-13-47 27z"/><path fill="#dac343" d="M5285 1309l46-27-48-15-46 27z"/><path fill="#e1c242" d="M5380 1299l46-28-49-17-46 28z"/><path fill="#e6bf40" d="M5475 1289l45-30-49-18-45 30z"/><path fill="#83a455" d="M4573 1440l50-22-43-7-51 23z"/><path fill="#eabb3e" d="M5570 1277l45-30-50-18-45 30z"/><path fill="#92ae53" d="M4667 1426l50-23-44-8-50 23z"/><path fill="#ebb63c" d="M5665 1265l44-27-50-18-44 27z"/><path fill="#ecb139" d="M5760 1256l44-26-51-18-44 26z"/><path fill="#ecab38" d="M5856 1248l43-27-52-18-43 27z"/><path fill="#a0b550" d="M4762 1413l50-24-45-10-50 24z"/><path fill="#efa638" d="M5951 1239l42-28-52-19-42 29z"/><path fill="#f39f37" d="M6046 1230l42-32-52-19-43 32z"/><path fill="#a8b64c" d="M4857 1398l49-26-45-10-49 27z"/><path fill="#f69735" d="M6142 1218l41-32-53-19-42 31z"/><path fill="#f58e34" d="M6237 1206l41-29-53-19-42 28z"/><path fill="#b1b749" d="M4952 1382l48-27-46-10-48 27z"/><path fill="#bebc46" d="M5047 1366l48-29-47-11-48 29z"/><path fill="#cdc245" d="M5142 1350l48-29-48-13-47 29z"/><path fill="#d8c544" d="M5238 1337l47-28-48-15-47 27z"/><path fill="#dfc443" d="M5333 1327l47-28-49-17-46 27z"/><path fill="#e4c242" d="M5429 1317l46-28-49-18-46 28z"/><path fill="#e7bf40" d="M5525 1307l45-30-50-18-45 30z"/><path fill="#eaba3d" d="M5620 1295l45-30-50-18-45 30z"/><path fill="#ebb53b" d="M5716 1284l44-28-51-18-44 27z"/><path fill="#92ad53" d="M4616 1449l51-23-44-8-50 22z"/><path fill="#ebaf39" d="M5812 1274l44-26-52-18-44 26z"/><path fill="#edaa38" d="M5908 1266l43-27-52-18-43 27z"/><path fill="#f1a638" d="M6004 1259l42-29-53-19-42 28z"/><path fill="#9eb350" d="M4712 1437l50-24-45-10-50 23z"/><path fill="#f5a037" d="M6099 1250l43-32-54-20-42 32z"/><path fill="#a5b44c" d="M4807 1423l50-25-45-9-50 24z"/><path fill="#f69735" d="M6196 1238l41-32-54-20-41 32z"/><path fill="#aeb649" d="M4903 1408l49-26-46-10-49 26z"/><path fill="#b9ba47" d="M4999 1393l48-27-47-11-48 27z"/><path fill="#c9c146" d="M5095 1379l47-29-47-13-48 29z"/><path fill="#d7c846" d="M5190 1366l48-29-48-16-48 29z"/><path fill="#ddc744" d="M5287 1354l46-27-48-18-47 28z"/><path fill="#e2c443" d="M5383 1345l46-28-49-18-47 28z"/><path fill="#e5c241" d="M5479 1336l46-29-50-18-46 28z"/><path fill="#e8be3f" d="M5575 1326l45-31-50-18-45 30z"/><path fill="#eab83d" d="M5671 1314l45-30-51-19-45 30z"/><path fill="#ebb33a" d="M5768 1302l44-28-52-18-44 28z"/><path fill="#edae39" d="M5864 1293l44-27-52-18-44 26z"/><path fill="#f0ab39" d="M5961 1286l43-27-53-20-43 27z"/><path fill="#f4a838" d="M6057 1279l42-29-53-20-42 29z"/><path fill="#f5a037" d="M6153 1271l43-33-54-20-43 32z"/><path fill="#9db350" d="M4661 1460l51-23-45-11-51 23z"/><path fill="#a3b34c" d="M4757 1447l50-24-45-10-50 24z"/><path fill="#abb54a" d="M4853 1434l50-26-46-10-50 25z"/><path fill="#b6b948" d="M4950 1420l49-27-47-11-49 26z"/><path fill="#c4c047" d="M5046 1407l49-28-48-13-48 27z"/><path fill="#d4c947" d="M5143 1395l47-29-48-16-47 29z"/><path fill="#dcc946" d="M5239 1383l48-29-49-17-48 29z"/><path fill="#e0c744" d="M5336 1373l47-28-50-18-46 27z"/><path fill="#e3c443" d="M5433 1363l46-27-50-19-46 28z"/><path fill="#e6c141" d="M5529 1354l46-28-50-19-46 29z"/><path fill="#e8bc3f" d="M5626 1344l45-30-51-19-45 31z"/><path fill="#eab73c" d="M5723 1332l45-30-52-18-45 30z"/><path fill="#edb33a" d="M5820 1321l44-28-52-19-44 28z"/><path fill="#f0af39" d="M5917 1313l44-27-53-20-44 27z"/><path fill="#f3ad39" d="M6014 1307l43-28-53-20-43 27z"/><path fill="#f4a838" d="M6111 1300l42-29-54-21-42 29z"/><path fill="#a3b34c" d="M4706 1470l51-23-45-10-51 23z"/><path fill="#a9b349" d="M4803 1457l50-23-46-11-50 24z"/><path fill="#b3b848" d="M4900 1445l50-25-47-12-50 26z"/><path fill="#c1bf48" d="M4997 1433l49-26-47-14-49 27z"/><path fill="#d0c848" d="M5094 1423l49-28-48-16-49 28z"/><path fill="#dacc47" d="M5191 1413l48-30-49-17-47 29z"/><path fill="#dfca46" d="M5288 1402l48-29-49-19-48 29z"/><path fill="#e2c644" d="M5386 1392l47-29-50-18-47 28z"/><path fill="#e4c342" d="M5483 1382l46-28-50-18-46 27z"/><path fill="#e5bf40" d="M5580 1373l46-29-51-18-46 28z"/><path fill="#e8ba3e" d="M5678 1363l45-31-52-18-45 30z"/><path fill="#ecb73c" d="M5775 1351l45-30-52-19-45 30z"/><path fill="#f0b43a" d="M5873 1341l44-28-53-20-44 28z"/><path fill="#f3ad39" d="M6068 1328l43-28-54-21-43 28z"/><path fill="#f3b13a" d="M5971 1334l43-27-53-21-44 27z"/><path fill="#a9b349" d="M4752 1481l51-24-46-10-51 23z"/><path fill="#b2b748" d="M4849 1469l51-24-47-11-50 23z"/><path fill="#bebe48" d="M4947 1458l50-25-47-13-50 25z"/><path fill="#cdc749" d="M5045 1449l49-26-48-16-49 26z"/><path fill="#d7cc48" d="M5143 1441l48-28-48-18-49 28z"/><path fill="#ddcd47" d="M5240 1432l48-30-49-19-48 30z"/><path fill="#e1c945" d="M5338 1421l48-29-50-19-48 29z"/><path fill="#e2c543" d="M5436 1411l47-29-50-19-47 29z"/><path fill="#e3c141" d="M5534 1401l46-28-51-19-46 28z"/><path fill="#e5bd3f" d="M5632 1392l46-29-52-19-46 29z"/><path fill="#eaba3e" d="M5730 1382l45-31-52-19-45 31z"/><path fill="#efb83c" d="M5828 1372l45-31-53-20-45 30z"/><path fill="#f3b63b" d="M5927 1362l44-28-54-21-44 28z"/><path fill="#f3b13a" d="M6025 1355l43-27-54-21-43 27z"/><path fill="#b1b648" d="M4798 1492l51-23-46-12-51 24z"/><path fill="#bdbd48" d="M4897 1482l50-24-47-13-51 24z"/><path fill="#cac649" d="M4995 1475l50-26-48-16-50 25z"/><path fill="#d4cb49" d="M5093 1467l50-26-49-18-49 26z"/><path fill="#dbce48" d="M5192 1459l48-27-49-19-48 28z"/><path fill="#dfcc47" d="M5290 1451l48-30-50-19-48 30z"/><path fill="#e1c845" d="M5389 1440l47-29-50-19-48 29z"/><path fill="#e2c342" d="M5487 1430l47-29-51-19-47 29z"/><path fill="#e3bf40" d="M5586 1420l46-28-52-19-46 28z"/><path fill="#e7bd3f" d="M5685 1411l45-29-52-19-46 29z"/><path fill="#edbc3e" d="M5783 1403l45-31-53-21-45 31z"/><path fill="#f2ba3d" d="M5882 1393l45-31-54-21-45 31z"/><path fill="#f3b63b" d="M5981 1384l44-29-54-21-44 28z"/><path fill="#bcbd48" d="M4845 1506l52-24-48-13-51 23z"/><path fill="#c9c549" d="M4944 1499l51-24-48-17-50 24z"/><path fill="#d2cb4a" d="M5044 1493l49-26-48-18-50 26z"/><path fill="#d8ce49" d="M5143 1487l49-28-49-18-50 26z"/><path fill="#ddce48" d="M5242 1479l48-28-50-19-48 27z"/><path fill="#e0cb46" d="M5341 1470l48-30-51-19-48 30z"/><path fill="#e1c644" d="M5440 1460l47-30-51-19-47 29z"/><path fill="#e2c142" d="M5539 1449l47-29-52-19-47 29z"/><path fill="#e5bf40" d="M5638 1440l47-29-53-19-46 28z"/><path fill="#ebbf3f" d="M5738 1432l45-29-53-21-45 29z"/><path fill="#f1be3f" d="M5837 1425l45-32-54-21-45 31z"/><path fill="#f2ba3d" d="M5936 1415l45-31-54-22-45 31z"/><path fill="#c8c549" d="M4893 1524l51-25-47-17-52 24z"/><path fill="#d6cd49" d="M5093 1513l50-26-50-20-49 26z"/><path fill="#d0ca4a" d="M4993 1518l51-25-49-18-51 24z"/><path fill="#dbcf49" d="M5193 1506l49-27-50-20-49 28z"/><path fill="#decd47" d="M5292 1499l49-29-51-19-48 28z"/><path fill="#dfc945" d="M5392 1490l48-30-51-20-48 30z"/><path fill="#e1c443" d="M5492 1479l47-30-52-19-47 30z"/><path fill="#e4c141" d="M5592 1469l46-29-52-20-47 29z"/><path fill="#e9c141" d="M5691 1461l47-29-53-21-47 29z"/><path fill="#efc140" d="M5791 1455l46-30-54-22-45 29z"/><path fill="#f1be3f" d="M5891 1447l45-32-54-22-45 32z"/><path fill="#d9ce49" d="M5143 1533l50-27-50-19-50 26z"/><path fill="#dcce48" d="M5243 1526l49-27-50-20-49 27z"/><path fill="#d4cc49" d="M5042 1537l51-24-49-20-51 25z"/><path fill="#d0c94a" d="M4942 1542l51-24-49-19-51 25z"/><path fill="#ddca46" d="M5343 1518l49-28-51-20-49 29z"/><path fill="#dfc744" d="M5444 1509l48-30-52-19-48 30z"/><path fill="#e3c443" d="M5544 1499l48-30-53-20-47 30z"/><path fill="#e8c342" d="M5645 1490l46-29-53-21-46 29z"/><path fill="#edc442" d="M5745 1484l46-29-53-23-47 29z"/><path fill="#efc140" d="M5846 1477l45-30-54-22-46 30z"/><path fill="#dbce48" d="M5193 1553l50-27-50-20-50 27z"/><path fill="#dccb47" d="M5294 1546l49-28-51-19-49 27z"/><path fill="#d7cd49" d="M5092 1558l51-25-50-20-51 24z"/><path fill="#d4cc49" d="M4991 1562l51-25-49-19-51 24z"/><path fill="#ddc845" d="M5395 1538l49-29-52-19-49 28z"/><path fill="#e2c744" d="M5496 1530l48-31-52-20-48 30z"/><path fill="#e7c643" d="M5597 1521l48-31-53-21-48 30z"/><path fill="#ecc643" d="M5698 1513l47-29-54-23-46 29z"/><path fill="#edc442" d="M5799 1507l47-30-55-22-46 29z"/><path fill="#dacc47" d="M5244 1573l50-27-51-20-50 27z"/><path fill="#d9cd48" d="M5143 1578l50-25-50-20-51 25z"/><path fill="#dcc946" d="M5346 1566l49-28-52-20-49 28z"/><path fill="#d7cd49" d="M5041 1583l51-25-50-21-51 25z"/><path fill="#e0c845" d="M5448 1559l48-29-52-21-49 29z"/><path fill="#e6c945" d="M5549 1552l48-31-53-22-48 31z"/><path fill="#ebc944" d="M5651 1544l47-31-53-23-48 31z"/><path fill="#ecc643" d="M5753 1537l46-30-54-23-47 29z"/><path fill="#daca46" d="M5296 1594l50-28-52-20-50 27z"/><path fill="#d9cb47" d="M5194 1599l50-26-51-20-50 25z"/><path fill="#dec946" d="M5399 1587l49-28-53-21-49 28z"/><path fill="#e4cb46" d="M5501 1581l48-29-53-22-48 29z"/><path fill="#d9cd48" d="M5092 1604l51-26-51-20-51 25z"/><path fill="#eacc46" d="M5603 1576l48-32-54-23-48 31z"/><path fill="#ebc944" d="M5706 1568l47-31-55-24-47 31z"/><path fill="#e8ce47" d="M5555 1605l48-29-54-24-48 29z"/><path fill="#eacc46" d="M5658 1600l48-32-55-24-48 32z"/><path fill="#e3cc46" d="M5452 1610l49-29-53-22-49 28z"/><path fill="#ddca46" d="M5349 1615l50-28-53-21-50 28z"/><path fill="#d9c946" d="M5246 1620l50-26-52-21-50 26z"/><path fill="#d9cb47" d="M5143 1625l51-26-51-21-51 26z"/><path fill="#e8ce47" d="M5609 1630l49-30-55-24-48 29z"/><path fill="#e7cf47" d="M5506 1634l49-29-54-24-49 29z"/><path fill="#e1cc47" d="M5402 1638l50-28-53-23-50 28z"/><path fill="#dcc946" d="M5298 1641l51-26-53-21-50 26z"/><path fill="#d9c946" d="M5195 1646l51-26-52-21-51 26z"/><path fill="#e7cf48" d="M5560 1659l49-29-54-25-49 29z"/><path fill="#e6d048" d="M5456 1662l50-28-54-24-50 28z"/><path fill="#e0cc47" d="M5352 1664l50-26-53-23-51 26z"/><path fill="#dcc946" d="M5247 1667l51-26-52-21-51 26z"/><path fill="#e6d048" d="M5511 1687l49-28-54-25-50 28z"/><path fill="#e5d048" d="M5406 1689l50-27-54-24-50 26z"/><path fill="#e0cc47" d="M5300 1691l52-27-54-23-51 26z"/><path fill="#e5d048" d="M5460 1715l51-28-55-25-50 27z"/><path fill="#e5d048" d="M5354 1716l52-27-54-25-52 27z"/><path fill="#e5d048" d="M5409 1742l51-27-54-26-52 27z"/></g></g>
<path fill="none" stroke="#a0a0a0" stroke-width=".6" d="M540.8 238.4L676 154.2M676 154.2L612.6 129.8M410.7 151.2L394.5 158.2M394.5 158.2L540.8 238.4M676.8 84.9L683.6 81.4M683.6 81.4L532.6 34.8M532.6 34.8L387 84.7M387 84.7L393.4 87.6M540.8 238.4L541.2 174.7M676 154.2L683.6 81.4M532.6 39.9L532.6 34.8M394.5 158.2L387 84.7"/>
<path fill="none" stroke="#777" stroke-opacity=".6" stroke-width=".6" d="M541.3 153.8L644.6 101.3M401 91L541.3 153.8M541.2 168L541.3 153.8"/>
<path fill="none" stroke="#d0d0d0" stroke-opacity=".35" stroke-width=".6" d="M645.7 100.7L675.8 85.4M394.5 88.1L399.9 90.5M541.2 174L541.2 168.8"/>
<path fill="none" stroke="#909090" stroke-width=".5" d="M544.3 236.3L540.7 234.3M537.1 236.4L540.4 234.3M559.6 226.7L557.7 225.7M520.6 227.3L522.4 226.3M574.4 217.5L572.5 216.5M504.7 218.6L506.6 217.6M588.5 208.7L586.6 207.8M489.5 210.3L491.3 209.3M602.1 200.2L600.2 199.3M474.8 202.2L476.6 201.2M615.2 192.1L611.7 190.5M460.7 194.4L464 192.8M627.8 184.3L625.9 183.4M447 187L448.8 186.1M639.9 176.7L638 175.9M433.9 179.7L435.7 178.9M651.5 169.5L649.7 168.7M421.2 172.8L423 172M662.8 162.5L660.9 161.7M408.9 166.1L410.7 165.3M673.6 155.7L670.3 154.4M397.1 159.6L400.3 158.1M387.4 88.4L390.8 87.2M390.3 117.2L393.7 115.9M393.1 144.8L396.4 143.4M394.2 155.5L396 154.8M393.7 150.2L395.5 149.4M392.6 139.4L394.4 138.6M392 133.9L393.9 133.2M391.5 128.4L393.3 127.6M390.9 122.8L392.7 122.1M389.7 111.5L391.6 110.8M389.1 105.8L391 105.1M388.6 100.1L390.4 99.4M388 94.3L389.9 93.6"/>
<path fill="none" stroke="#000" stroke-opacity=".42" stroke-width=".6" d="M551.1 168.7L535.4 161.7 505.9 149.9 495.8 146.2 487.4 143.9 468.6 139.7 463.7 138.9 458.9 138.5 453.5 138.5 448.9 139 443.8 140.2 439.5 141.7M438.2 142.3L436.4 143.1M432.3 145.7L431.1 146.6M430 147.3L428.8 148M424.1 149.4L422.8 148.2 421.5 146.2 420.1 143.7 418.6 139.9 417 134 414.3 123.1 408.2 93.6 406.6 88.9 405.9 87.4 404.5 85.3 403.9 84.8M530 169.1L542.3 162.6 551.8 157.1 574.5 142.7 589 133 602.2 124.7 613.1 116.6 624.2 109.1 633.8 102 649.8 91.4 658 86.5 666.6 81.9M560.9 163L543.6 155.4 516.6 144.9 507.2 141.5 498.1 138.9 479.8 134.9 474.2 133.9 469.3 133.5 463.2 133.4 459.3 133.7 454.1 134.6 450.3 135.6 445.4 137.5 441.8 139.6M438.8 141.4L435.3 142.9 434.1 143.1 433.5 142.9 432.9 142.5 431.6 140.9 428.8 135.9 426.5 128.2 423.9 117.9 419 93.5 418.1 89.7 416.5 85.2 415.8 83.8 414.5 81.8 413.8 81.3M519.5 164.6L531.7 158.3 541.2 152.9 564 138.7 578.5 129.1 591.7 120.9 602.6 112.9 613.8 105.5 623.4 98.5 639.4 88 647.7 83.1 656.3 78.7M570.6 156.8L553.3 149.5 526.3 139.2 516.9 135.8 512.3 134.4 506.2 132.9 485.8 128.5 479.6 127.8 473.4 127.5 469.4 127.6 464.2 128.3 460.3 129.1 455.9 130.4 453.4 131.4 447.4 134.5 443.8 135.7 442.6 135.6 441.4 134.5 440 132.7 438.7 130.4 437.3 127 435.7 121.7 433.2 112 428.6 89.3 427.7 85.8 426.2 81.6 425.5 80.3 424.2 78.4 423.6 77.9M509.2 160.4L521.4 154.2 530.9 148.9 553.7 135 568.2 125.5 581.5 117.4 592.4 109.5 603.6 102.1 613.2 95.2 629.3 84.7 637.7 79.9 646.3 75.5M579.9 150.7L562.7 143.6 535.7 133.5 526.3 130.2 516.4 127.4 495.9 122.9 489.6 122 482.7 121.6 478 121.6 472.7 122 468.9 122.7 464.4 123.7 462.5 124.3 456.4 126.9 452.8 127.9 451.6 127.8 450.3 126.8 449 125.1 447.7 122.9 446.3 119.7 444.7 114.9 442.4 106 438 85.1 437.2 81.9 435.7 78 435 76.8 433.7 75.1 433.1 74.6M499.1 156.2L511.3 150.2 520.9 145 543.7 131.3 558.2 121.8 571.5 113.9 582.4 106 593.6 98.7 603.3 91.8 619.4 81.4 627.8 76.7 636.5 72.4M589.1 144.7L571.9 137.8 535.5 124.7 525.6 121.9 505.8 117.4 500.1 116.5 493.9 115.9 488.4 115.6 481.8 115.6 477.8 116 472.7 116.7 465.2 118.9 461.6 119.7 460.3 119.5 459.1 118.6 457.8 117 456.4 115 455.1 112.1 453.6 107.8 451.3 99.7 447.2 80.9 446.4 78 445 74.5 444.3 73.4 443 71.8 442.4 71.4M489.3 152.4L501.6 146.5 511.1 141.3 533.9 127.8 548.4 118.4 561.7 110.5 572.6 102.7 583.9 95.5 593.5 88.6 609.7 78.3 618.1 73.6 626.8 69.4M598.1 138.4L580.9 131.7 544.5 118.8 534.6 116 515.4 111.5 509.8 110.4 504.9 109.7 497.3 109 489.9 108.7 481.5 109.1 474.5 110.5 470.8 111.1 468.9 110.9 467.7 110.1 466.4 108.6 465.1 106.9 463.7 104.3 462.3 100.4 460.1 93.2 455.5 74.1 454.1 71 453.4 70 452.1 68.6 451.5 68.2M479.8 149.2L492 143.5 501.5 138.4 524.3 124.9 538.8 115.5 552.1 107.7 563.1 99.8 574.3 92.5 584 85.6 600.2 75.2 608.6 70.6 617.4 66.4M606.8 132.8L590.5 126.5 554.1 113.8 544.9 111.1 527.8 107 521.4 105.6 516.4 104.7 496.6 102.2 489.4 101.7 479.3 102.4 477.4 102.2 476.1 101.4 474.9 100.1 473.6 98.5 472.2 96.3 470.9 92.9 468.7 86.7 464.3 70.3 463 67.6 462.3 66.7 461 65.4 460.4 65.1M470.6 147L482.8 141.3 492.3 136.3 515 122.7 529.5 113.3 542.8 105.3 553.7 97.3 565 89.9 574.7 82.8 590.9 72.3 594 70.5 599.4 67.7 608.2 63.5M615.3 127.1L599.9 121.2 570.5 111.1 560.4 107.7 552 105.4 530 100 515.3 97.5 501.2 94.8 496.6 94.1 487 93.8 485.8 93.5 484.5 92.8 483.2 91.7 481.9 90.3 480.6 88.3 479.3 85.5 477.2 80.3 473 66.5 471.7 64.2 471 63.5 469.1 62M461.6 144.9L473.8 139.4 483.2 134.4 505.9 120.7 520.4 111.1 533.7 103.1 544.6 94.9 555.8 87.4 565.6 80.1 581.8 69.5 584.9 67.6 590.3 64.8 599.1 60.7M623.7 120.6L608.3 115 578.2 104.6 568.1 101.3 559.7 98.9 537.7 93.2 512.2 88 505.6 86.7 495.9 86 494 85.6 492.8 84.9 491.5 83.9 490.2 82.7 488.9 81 487.6 78.6 485.6 74.3 481.5 62.9 479.5 60.3 477.7 59M452.9 143.4L465.1 137.9 474.5 132.9 497.1 119 511.5 109.3 524.8 101.2 535.6 92.7 546.9 85.1 556.6 77.6 572.9 66.7 576 64.8 581.4 62 590.2 57.9M631.9 115L616.5 109.5 588.8 100.1 577.9 96.5 570.2 94.2 548.1 88.2 531.3 84.3 515.1 80.2 502.2 78 499.6 76.5 498.3 75.5 497 74.1 493.8 68.6 489.8 59.4 487.9 57.3 486 56.1M444.5 143L456.6 137.5 466 132.4 488.5 118.3 502.8 108.2 516.1 99.9 526.9 91 538.2 83.1 547.9 75.3 563.6 64.4 567.2 62.1 571.5 59.9 576.8 57.2 581.5 55.1M639.9 109.1L624.6 103.8 597.7 94.8 579.1 88.8 556.2 82.3 539.4 78 523.2 73.5 510.2 70.7 507.6 69.4 505.1 67.4 501.9 63.1 498 56 496.1 54.2 494.2 53.2M436.5 144.2L450 137.6 457.8 133.2 462.3 130.3 481.6 117.3 494.4 107.5 506.9 98.9 519.1 88.7 529 81.4 538.7 73.4 544.4 69.2 555 61.9 558.7 59.6 566.5 55.4 573 52.4M647.7 103.5L604.8 89.1 586.3 83.1 563.5 76.3 531.1 67.1 518.1 63.9 515.5 62.8 513 61.1 509.8 57.9 506 52.7 504.1 51.3 502.2 50.4M428.8 147.2L433.6 144.8M435.2 143.9L436.8 143.1M438.3 142.3L445.3 138.2 452.2 133.8 472 119.1 498.6 97.5 511.4 86.4 520.6 79.1 530.3 71.1 536 66.8 544.1 61.1 549.7 57.6 558.1 53 564.6 49.8M655.4 98.3L594.1 78.2 571.3 71.2 538.9 61.6 525.9 58 523.3 57 520.8 55.6 517.6 53.2 513.8 49.5 511.9 48.5 510.1 47.7M421.6 152L430.2 147.1M431.7 146.2L432.5 145.7M440.9 140.2L441.6 139.7M444.6 137.5L454.9 129.4 465.7 120.1 473.4 113.1 499.9 88.1 515.7 74.4 524.6 67 531.6 61.7 539 56.8 548.1 51.6 556.4 47.2M662.8 93.2L609.3 75.8 574 64.7 556.7 59.5 533.5 53.1 528.4 51 525.3 49.2 521.5 46.6 517.8 45M414.4 155.1L422.2 150.5 431.3 144.4 437.9 139.3 447.4 131.4 454.5 124.9 462.9 116.9 473.2 106.5 484 95.2 490.7 88.6 507 73.5 519.1 63 524.1 59.1 531.5 54.2 540 49.2 548.4 44.7M670 89L575.9 59 541.1 48.7 536 46.9 529 43.7 525.3 42.4M404.9 129.9L412.8 125.9 422.1 120.8 428.9 116.7 438.5 110.3 454.4 99 482.6 77.4 499 65.6 511.2 57.5 516.2 54.4 523.6 50.3 532.1 46.1 540.5 42.2"/><g font-size="5.3" fill="#333" text-anchor="middle"><text x="382.3" y="92.9">0</text><text x="383.7" y="121.4">−1</text><text x="386.5" y="148.9">−2</text><text x="398.0" y="168.2">1.0</text><text x="460.6" y="203.7">0.5</text><text x="536.8" y="246.2">0.0</text><text x="551.2" y="243.2">0.0</text><text x="622.3" y="197.5">0.5</text><text x="681.0" y="158.9">1.0</text></g><text transform="translate(359.0 136.7) scale(.88 1)" font-size="14.3" font-style="italic" fill="#111">U<tspan font-size="10" dy="2">4</tspan></text><text x="461.8" y="225.0" font-size="14" text-anchor="middle" fill="#111">y</text><text x="635.9" y="208.8" font-size="14" text-anchor="middle" fill="#111">x</text>
<g filter="url(#bl)"><g transform="scale(.1)" shape-rendering="crispEdges"><path fill="#f32c25" d="M1748 3014l29-10-30-8-29 9z"/><path fill="#f32d25" d="M1779 3022l29-9-31-9-29 10z"/><path fill="#f32d25" d="M1719 3023l29-9-30-9-29 9z"/><path fill="#f32d25" d="M1810 3031l29-9-31-9-29 9z"/><path fill="#f32d25" d="M1750 3032l29-10-31-8-29 9z"/><path fill="#f42d25" d="M1690 3032l29-9-30-9-30 9z"/><path fill="#f32d25" d="M1841 3040l29-10-31-8-29 9z"/><path fill="#f32e25" d="M1781 3041l29-10-31-9-29 10z"/><path fill="#f42e25" d="M1721 3042l29-10-31-9-29 9z"/><path fill="#f52d25" d="M1660 3042l30-10-31-9-29 9z"/><path fill="#f32d25" d="M1873 3049l29-10-32-9-29 10z"/><path fill="#f32f25" d="M1812 3050l29-10-31-9-29 10z"/><path fill="#f42f25" d="M1752 3051l29-10-31-9-29 10z"/><path fill="#f52f25" d="M1691 3051l30-9-31-10-30 10z"/><path fill="#f52e25" d="M1630 3051l30-9-30-10-30 10z"/><path fill="#f32e25" d="M1905 3059l29-11-32-9-29 10z"/><path fill="#f42f25" d="M1844 3060l29-11-32-9-29 10z"/><path fill="#f43025" d="M1783 3060l29-10-31-9-29 10z"/><path fill="#f53025" d="M1722 3061l30-10-31-9-30 9z"/><path fill="#f53025" d="M1661 3061l30-10-31-9-30 9z"/><path fill="#f62e25" d="M1600 3061l30-10-30-9-30 9z"/><path fill="#f32e25" d="M1937 3068l29-11-32-9-29 11z"/><path fill="#f43025" d="M1876 3069l29-10-32-10-29 11z"/><path fill="#f43125" d="M1815 3070l29-10-32-10-29 10z"/><path fill="#f43225" d="M1754 3071l29-11-31-9-30 10z"/><path fill="#f53125" d="M1692 3071l30-10-31-10-30 10z"/><path fill="#f63025" d="M1631 3071l30-10-31-10-30 10z"/><path fill="#f62e25" d="M1570 3071l30-10-30-10-31 9z"/><path fill="#f32e25" d="M1969 3077l29-11-32-9-29 11z"/><path fill="#f43025" d="M1908 3078l29-10-32-9-29 10z"/><path fill="#f43225" d="M1846 3079l30-10-32-9-29 10z"/><path fill="#f43326" d="M1785 3080l30-10-32-10-29 11z"/><path fill="#f53326" d="M1724 3081l30-10-32-10-30 10z"/><path fill="#f63326" d="M1662 3081l30-10-31-10-30 10z"/><path fill="#f63126" d="M1601 3081l30-10-31-10-30 10z"/><path fill="#f72f25" d="M1539 3080l31-9-31-11-30 10z"/><path fill="#f42e25" d="M2002 3086l28-11-32-9-29 11z"/><path fill="#f43125" d="M1940 3088l29-11-32-9-29 10z"/><path fill="#f43325" d="M1878 3089l30-11-32-9-30 10z"/><path fill="#f43426" d="M1817 3090l29-11-31-9-30 10z"/><path fill="#f53526" d="M1755 3091l30-11-31-9-30 10z"/><path fill="#f53526" d="M1694 3091l30-10-32-10-30 10z"/><path fill="#f63426" d="M1632 3091l30-10-31-10-30 10z"/><path fill="#f73226" d="M1570 3091l31-10-31-10-31 9z"/><path fill="#f82f25" d="M1508 3090l31-10-30-10-31 10z"/><path fill="#f42e25" d="M2034 3096l29-12-33-9-28 11z"/><path fill="#f43225" d="M1973 3097l29-11-33-9-29 11z"/><path fill="#f43426" d="M1911 3099l29-11-32-10-30 11z"/><path fill="#f43626" d="M1849 3100l29-11-32-10-29 11z"/><path fill="#f53726" d="M1787 3101l30-11-32-10-30 11z"/><path fill="#f53726" d="M1725 3101l30-10-31-10-30 10z"/><path fill="#f63626" d="M1663 3101l31-10-32-10-30 10z"/><path fill="#f73526" d="M1601 3101l31-10-31-10-31 10z"/><path fill="#f73226" d="M1539 3101l31-10-31-11-31 10z"/><path fill="#f82f26" d="M1477 3100l31-10-30-10-31 9z"/><path fill="#f42f25" d="M2067 3105l29-11-33-10-29 12z"/><path fill="#f43225" d="M2005 3107l29-11-32-10-29 11z"/><path fill="#f43526" d="M1943 3108l30-11-33-9-29 11z"/><path fill="#f43726" d="M1881 3110l30-11-33-10-29 11z"/><path fill="#f43826" d="M1819 3111l30-11-32-10-30 11z"/><path fill="#f53926" d="M1757 3111l30-10-32-10-30 10z"/><path fill="#f63926" d="M1695 3112l30-11-31-10-31 10z"/><path fill="#f63726" d="M1633 3112l30-11-31-10-31 10z"/><path fill="#f73626" d="M1570 3111l31-10-31-10-31 10z"/><path fill="#f83326" d="M1508 3111l31-10-31-11-31 10z"/><path fill="#f92f26" d="M1446 3110l31-10-30-11-32 10z"/><path fill="#f42f25" d="M2101 3115l28-12-33-9-29 11z"/><path fill="#f43225" d="M2038 3117l29-12-33-9-29 11z"/><path fill="#f43626" d="M1976 3118l29-11-32-10-30 11z"/><path fill="#f43826" d="M1914 3120l29-12-32-9-30 11z"/><path fill="#f43a26" d="M1852 3121l29-11-32-10-30 11z"/><path fill="#f53b26" d="M1789 3122l30-11-32-10-30 10z"/><path fill="#f53b26" d="M1727 3122l30-11-32-10-30 11z"/><path fill="#f63a26" d="M1664 3122l31-10-32-11-30 11z"/><path fill="#f73926" d="M1602 3122l31-10-32-11-31 10z"/><path fill="#f73626" d="M1539 3122l31-11-31-10-31 10z"/><path fill="#f83326" d="M1477 3121l31-10-31-11-31 10z"/><path fill="#f93026" d="M1414 3120l32-10-31-11-32 10z"/><path fill="#f42f25" d="M2134 3124l29-12-34-9-28 12z"/><path fill="#f43325" d="M2072 3126l29-11-34-10-29 12z"/><path fill="#f43626" d="M2009 3128l29-11-33-10-29 11z"/><path fill="#f43926" d="M1947 3130l29-12-33-10-29 12z"/><path fill="#f43b26" d="M1884 3131l30-11-33-10-29 11z"/><path fill="#f43d27" d="M1822 3132l30-11-33-10-30 11z"/><path fill="#f53d27" d="M1759 3133l30-11-32-11-30 11z"/><path fill="#f63d27" d="M1696 3133l31-11-32-10-31 10z"/><path fill="#f63c27" d="M1634 3133l30-11-31-10-31 10z"/><path fill="#f73a27" d="M1571 3133l31-11-32-11-31 11z"/><path fill="#f83726" d="M1508 3132l31-10-31-11-31 10z"/><path fill="#f93426" d="M1445 3131l32-10-31-11-32 10z"/><path fill="#f93026" d="M1382 3130l32-10-31-11-31 10z"/><path fill="#f42f25" d="M2168 3134l29-12-34-10-29 12z"/><path fill="#f43325" d="M2105 3136l29-12-33-9-29 11z"/><path fill="#f43726" d="M2043 3138l29-12-34-9-29 11z"/><path fill="#f43a26" d="M1980 3140l29-12-33-10-29 12z"/><path fill="#f43d26" d="M1917 3141l30-11-33-10-30 11z"/><path fill="#f43f27" d="M1854 3142l30-11-32-10-30 11z"/><path fill="#f54027" d="M1791 3143l31-11-33-10-30 11z"/><path fill="#f54027" d="M1728 3144l31-11-32-11-31 11z"/><path fill="#f63f27" d="M1665 3144l31-11-32-11-30 11z"/><path fill="#f73d27" d="M1602 3144l32-11-32-11-31 11z"/><path fill="#f73b27" d="M1539 3143l32-10-32-11-31 10z"/><path fill="#f83827" d="M1476 3143l32-11-31-11-32 10z"/><path fill="#f93426" d="M1413 3142l32-11-31-11-32 10z"/><path fill="#fa3026" d="M1350 3141l32-11-30-11-33 10z"/><path fill="#f42f25" d="M2202 3144l29-13-34-9-29 12z"/><path fill="#f43425" d="M2139 3146l29-12-34-10-29 12z"/><path fill="#f33826" d="M2076 3148l29-12-33-10-29 12z"/><path fill="#f33b26" d="M2013 3150l30-12-34-10-29 12z"/><path fill="#f43e27" d="M1950 3151l30-11-33-10-30 11z"/><path fill="#f44027" d="M1887 3153l30-12-33-10-30 11z"/><path fill="#f44227" d="M1824 3154l30-12-32-10-31 11z"/><path fill="#f54227" d="M1761 3154l30-11-32-10-31 11z"/><path fill="#f54227" d="M1698 3155l30-11-32-11-31 11z"/><path fill="#f64127" d="M1634 3155l31-11-31-11-32 11z"/><path fill="#f73f27" d="M1571 3154l31-10-31-11-32 10z"/><path fill="#f83c27" d="M1508 3154l31-11-31-11-32 11z"/><path fill="#f83927" d="M1444 3153l32-10-31-12-32 11z"/><path fill="#f93526" d="M1381 3152l32-10-31-12-32 11z"/><path fill="#f42f25" d="M2237 3153l28-12-34-10-29 13z"/><path fill="#f43425" d="M2173 3156l29-12-34-10-29 12z"/><path fill="#fa3026" d="M1317 3151l33-10-31-12-32 10z"/><path fill="#f33826" d="M2110 3158l29-12-34-10-29 12z"/><path fill="#f33c26" d="M2047 3160l29-12-33-10-30 12z"/><path fill="#f33f27" d="M1984 3162l29-12-33-10-30 11z"/><path fill="#f44227" d="M1920 3163l30-12-33-10-30 12z"/><path fill="#f44427" d="M1857 3164l30-11-33-11-30 12z"/><path fill="#f44527" d="M1793 3165l31-11-33-11-30 11z"/><path fill="#f54527" d="M1730 3166l31-12-33-10-30 11z"/><path fill="#f64428" d="M1667 3166l31-11-33-11-31 11z"/><path fill="#f64227" d="M1603 3166l31-11-32-11-31 10z"/><path fill="#f74027" d="M1539 3165l32-11-32-11-31 11z"/><path fill="#f83d27" d="M1476 3165l32-11-32-11-32 10z"/><path fill="#f93927" d="M1412 3164l32-11-31-11-32 10z"/><path fill="#f42f25" d="M2271 3163l29-12-35-10-28 12z"/><path fill="#fa3526" d="M1348 3163l33-11-31-11-33 10z"/><path fill="#f43425" d="M2208 3166l29-13-35-9-29 12z"/><path fill="#f33926" d="M2144 3168l29-12-34-10-29 12z"/><path fill="#fa3026" d="M1285 3161l32-10-30-12-33 10z"/><path fill="#f33d26" d="M2081 3170l29-12-34-10-29 12z"/><path fill="#f34027" d="M2017 3172l30-12-34-10-29 12z"/><path fill="#f34327" d="M1954 3173l30-11-34-11-30 12z"/><path fill="#f44527" d="M1890 3175l30-12-33-10-30 11z"/><path fill="#f44728" d="M1826 3176l31-12-33-10-31 11z"/><path fill="#f44728" d="M1763 3176l30-11-32-11-31 12z"/><path fill="#f54728" d="M1699 3177l31-11-32-11-31 11z"/><path fill="#f64628" d="M1635 3177l32-11-33-11-31 11z"/><path fill="#f64428" d="M1571 3177l32-11-32-12-32 11z"/><path fill="#f74127" d="M1508 3176l31-11-31-11-32 11z"/><path fill="#f83e27" d="M1444 3175l32-10-32-12-32 11z"/><path fill="#f42f25" d="M2306 3173l29-12-35-10-29 12z"/><path fill="#f93a27" d="M1380 3174l32-10-31-12-33 11z"/><path fill="#f33426" d="M2243 3176l28-13-34-10-29 13z"/><path fill="#f33926" d="M2179 3178l29-12-35-10-29 12z"/><path fill="#fa3526" d="M1316 3173l32-10-31-12-32 10z"/><path fill="#f33d26" d="M2115 3180l29-12-34-10-29 12z"/><path fill="#f34127" d="M2051 3182l30-12-34-10-30 12z"/><path fill="#fb3026" d="M1252 3172l33-11-31-12-33 11z"/><path fill="#f34427" d="M1987 3184l30-12-33-10-30 11z"/><path fill="#f34728" d="M1923 3185l31-12-34-10-30 12z"/><path fill="#f34928" d="M1860 3187l30-12-33-11-31 12z"/><path fill="#f44a28" d="M1796 3187l30-11-33-11-30 11z"/><path fill="#f44a28" d="M1732 3188l31-12-33-10-31 11z"/><path fill="#f54928" d="M1668 3188l31-11-32-11-32 11z"/><path fill="#f64828" d="M1604 3188l31-11-32-11-32 11z"/><path fill="#f74528" d="M1539 3188l32-11-32-12-31 11z"/><path fill="#f74228" d="M1475 3187l33-11-32-11-32 10z"/><path fill="#f83f27" d="M1411 3186l33-11-32-11-32 10z"/><path fill="#f42f25" d="M2342 3183l28-13-35-9-29 12z"/><path fill="#f33426" d="M2278 3186l28-13-35-10-28 13z"/><path fill="#f93a27" d="M1347 3185l33-11-32-11-32 10z"/><path fill="#f33926" d="M2213 3188l30-12-35-10-29 12z"/><path fill="#f33e26" d="M2149 3190l30-12-35-10-29 12z"/><path fill="#fa3626" d="M1283 3184l33-11-31-12-33 11z"/><path fill="#f34227" d="M2085 3192l30-12-34-10-30 12z"/><path fill="#f34627" d="M2021 3194l30-12-34-10-30 12z"/><path fill="#fb3126" d="M1218 3182l34-10-31-12-34 10z"/><path fill="#f34828" d="M1957 3196l30-12-33-11-31 12z"/><path fill="#f34b28" d="M1893 3197l30-12-33-10-30 12z"/><path fill="#f34c28" d="M1829 3198l31-11-34-11-30 11z"/><path fill="#f44d28" d="M1765 3199l31-12-33-11-31 12z"/><path fill="#f44c28" d="M1700 3199l32-11-33-11-31 11z"/><path fill="#f54b28" d="M1636 3200l32-12-33-11-31 11z"/><path fill="#f64928" d="M1572 3199l32-11-33-11-32 11z"/><path fill="#f74728" d="M1507 3199l32-11-31-12-33 11z"/><path fill="#f84328" d="M1443 3198l32-11-31-12-33 11z"/><path fill="#f42f25" d="M2377 3193l29-13-36-10-28 13z"/><path fill="#f33426" d="M2313 3196l29-13-36-10-28 13z"/><path fill="#f83f27" d="M1378 3197l33-11-31-12-33 11z"/><path fill="#f33a26" d="M2249 3198l29-12-35-10-30 12z"/><path fill="#f33e26" d="M2184 3201l29-13-34-10-30 12z"/><path fill="#f93b27" d="M1314 3196l33-11-31-12-33 11z"/><path fill="#f24327" d="M2120 3203l29-13-34-10-30 12z"/><path fill="#f24627" d="M2056 3205l29-13-34-10-30 12z"/><path fill="#fa3627" d="M1249 3194l34-10-31-12-34 10z"/><path fill="#f24a28" d="M1991 3207l30-13-34-10-30 12z"/><path fill="#f34c28" d="M1927 3208l30-12-34-11-30 12z"/><path fill="#fb3126" d="M1184 3193l34-11-31-12-33 11z"/><path fill="#f34e28" d="M1862 3209l31-12-33-10-31 11z"/><path fill="#f34f28" d="M1798 3210l31-12-33-11-31 12z"/><path fill="#f44f29" d="M1733 3211l32-12-33-11-32 11z"/><path fill="#f44f29" d="M1669 3211l31-12-32-11-32 12z"/><path fill="#f54d28" d="M1604 3211l32-11-32-12-32 11z"/><path fill="#f64b28" d="M1540 3211l32-12-33-11-32 11z"/><path fill="#f74828" d="M1475 3210l32-11-32-12-32 11z"/><path fill="#f42f25" d="M2413 3203l28-13-35-10-29 13z"/><path fill="#f84428" d="M1410 3209l33-11-32-12-33 11z"/><path fill="#f33526" d="M2348 3206l29-13-35-10-29 13z"/><path fill="#f33a26" d="M2284 3208l29-12-35-10-29 12z"/><path fill="#f84027" d="M1345 3208l33-11-31-12-33 11z"/><path fill="#f23f26" d="M2219 3211l30-13-36-10-29 13z"/><path fill="#f24327" d="M2155 3213l29-12-35-11-29 13z"/><path fill="#f93b27" d="M1280 3206l34-10-31-12-34 10z"/><path fill="#f24727" d="M2090 3215l30-12-35-11-29 13z"/><path fill="#f24b28" d="M2025 3217l31-12-35-11-30 13z"/><path fill="#fa3627" d="M1215 3205l34-11-31-12-34 11z"/><path fill="#f24e28" d="M1961 3219l30-12-34-11-30 12z"/><path fill="#f25028" d="M1896 3220l31-12-34-11-31 12z"/><path fill="#fb3126" d="M1150 3204l34-11-30-12-34 10z"/><path fill="#f35129" d="M1831 3221l31-12-33-11-31 12z"/><path fill="#f35229" d="M1767 3222l31-12-33-11-32 12z"/><path fill="#f45229" d="M1702 3222l31-11-33-12-31 12z"/><path fill="#f45129" d="M1637 3223l32-12-33-11-32 11z"/><path fill="#f54f29" d="M1572 3222l32-11-32-12-32 12z"/><path fill="#f64c28" d="M1507 3222l33-11-33-12-32 11z"/><path fill="#f74928" d="M1442 3221l33-11-32-12-33 11z"/><path fill="#f42f25" d="M2449 3213l28-12-36-11-28 13z"/><path fill="#f33425" d="M2384 3216l29-13-36-10-29 13z"/><path fill="#f33a26" d="M2319 3219l29-13-35-10-29 12z"/><path fill="#f84528" d="M1377 3220l33-11-32-12-33 11z"/><path fill="#f23f26" d="M2255 3221l29-13-35-10-30 13z"/><path fill="#f24427" d="M2190 3224l29-13-35-10-29 12z"/><path fill="#f94027" d="M1312 3219l33-11-31-12-34 10z"/><path fill="#f24827" d="M2125 3226l30-13-35-10-30 12z"/><path fill="#f24c28" d="M2060 3228l30-13-34-10-31 12z"/><path fill="#f93b27" d="M1247 3217l33-11-31-12-34 11z"/><path fill="#f24f28" d="M1995 3230l30-13-34-10-30 12z"/><path fill="#f25229" d="M1930 3231l31-12-34-11-31 12z"/><path fill="#fa3627" d="M1181 3216l34-11-31-12-34 11z"/><path fill="#f25329" d="M1865 3232l31-12-34-11-31 12z"/><path fill="#fb3126" d="M1116 3214l34-10-30-13-35 11z"/><path fill="#f35429" d="M1800 3233l31-12-33-11-31 12z"/><path fill="#f35529" d="M1735 3234l32-12-34-11-31 11z"/><path fill="#f45429" d="M1670 3234l32-12-33-11-32 12z"/><path fill="#f45229" d="M1605 3234l32-11-33-12-32 11z"/><path fill="#f55029" d="M1540 3234l32-12-32-11-33 11z"/><path fill="#f64d29" d="M1474 3233l33-11-32-12-33 11z"/><path fill="#f42f25" d="M2486 3224l28-13-37-10-28 12z"/><path fill="#f33425" d="M2420 3226l29-13-36-10-29 13z"/><path fill="#f74928" d="M1409 3232l33-11-32-12-33 11z"/><path fill="#f23a26" d="M2355 3229l29-13-36-10-29 13z"/><path fill="#f23f26" d="M2290 3232l29-13-35-11-29 13z"/><path fill="#f84528" d="M1344 3231l33-11-32-12-33 11z"/><path fill="#f24427" d="M2225 3234l30-13-36-10-29 13z"/><path fill="#f14827" d="M2160 3236l30-12-35-11-30 13z"/><path fill="#f94028" d="M1278 3230l34-11-32-13-33 11z"/><path fill="#f14c28" d="M2095 3239l30-13-35-11-30 13z"/><path fill="#f15028" d="M2030 3241l30-13-35-11-30 13z"/><path fill="#f93b27" d="M1213 3228l34-11-32-12-34 11z"/><path fill="#f15329" d="M1964 3242l31-12-34-11-31 12z"/><path fill="#f25529" d="M1899 3244l31-13-34-11-31 12z"/><path fill="#fa3627" d="M1147 3227l34-11-31-12-34 10z"/><path fill="#f25729" d="M1834 3245l31-13-34-11-31 12z"/><path fill="#fb3126" d="M1082 3225l34-11-31-12-34 11z"/><path fill="#f25729" d="M1769 3245l31-12-33-11-32 12z"/><path fill="#f35729" d="M1703 3246l32-12-33-12-32 12z"/><path fill="#f45629" d="M1638 3246l32-12-33-11-32 11z"/><path fill="#f45429" d="M1572 3246l33-12-33-12-32 12z"/><path fill="#f55129" d="M1507 3245l33-11-33-12-33 11z"/><path fill="#f42f25" d="M2522 3234l29-13-37-10-28 13z"/><path fill="#f64e29" d="M1441 3244l33-11-32-12-33 11z"/><path fill="#f33425" d="M2457 3237l29-13-37-11-29 13z"/><path fill="#f23a26" d="M2392 3239l28-13-36-10-29 13z"/><path fill="#f23f26" d="M2326 3242l29-13-36-10-29 13z"/><path fill="#f74a28" d="M1376 3243l33-11-32-12-33 11z"/><path fill="#f14427" d="M2261 3245l29-13-35-11-30 13z"/><path fill="#f14927" d="M2195 3247l30-13-35-10-30 12z"/><path fill="#f84528" d="M1310 3242l34-11-32-12-34 11z"/><path fill="#f14d28" d="M2130 3249l30-13-35-10-30 13z"/><path fill="#f15128" d="M2064 3251l31-12-35-11-30 13z"/><path fill="#f94128" d="M1244 3241l34-11-31-13-34 11z"/><path fill="#f15429" d="M1999 3253l31-12-35-11-31 12z"/><path fill="#f15729" d="M1933 3255l31-13-34-11-31 13z"/><path fill="#f93b27" d="M1178 3239l35-11-32-12-34 11z"/><path fill="#f15829" d="M1868 3256l31-12-34-12-31 13z"/><path fill="#fa3627" d="M1113 3238l34-11-31-13-34 11z"/><path fill="#f25929" d="M1802 3257l32-12-34-12-31 12z"/><path fill="#f2592a" d="M1737 3257l32-12-34-11-32 12z"/><path fill="#fb3126" d="M1047 3236l35-11-31-12-35 11z"/><path fill="#f3592a" d="M1671 3258l32-12-33-12-32 12z"/><path fill="#f45829" d="M1605 3258l33-12-33-12-33 12z"/><path fill="#f45529" d="M1540 3257l32-11-32-12-33 11z"/><path fill="#f42f25" d="M2559 3244l29-13-37-10-29 13z"/><path fill="#f55229" d="M1474 3257l33-12-33-12-33 11z"/><path fill="#f33425" d="M2494 3247l28-13-36-10-29 13z"/><path fill="#f23926" d="M2428 3250l29-13-37-11-28 13z"/><path fill="#f64f29" d="M1408 3256l33-12-32-12-33 11z"/><path fill="#f23f26" d="M2362 3252l30-13-37-10-29 13z"/><path fill="#f14427" d="M2297 3255l29-13-36-10-29 13z"/><path fill="#f74a28" d="M1342 3255l34-12-32-12-34 11z"/><path fill="#f14927" d="M2231 3258l30-13-36-11-30 13z"/><path fill="#f04d28" d="M2165 3260l30-13-35-11-30 13z"/><path fill="#f84628" d="M1276 3253l34-11-32-12-34 11z"/><path fill="#f05128" d="M2100 3262l30-13-35-10-31 12z"/><path fill="#f05529" d="M2034 3264l30-13-34-10-31 12z"/><path fill="#f84128" d="M1210 3252l34-11-31-13-35 11z"/><path fill="#f05829" d="M1968 3266l31-13-35-11-31 13z"/><path fill="#f15a29" d="M1902 3267l31-12-34-11-31 12z"/><path fill="#f93b27" d="M1144 3250l34-11-31-12-34 11z"/><path fill="#f25b2a" d="M1836 3268l32-12-34-11-32 12z"/><path fill="#fa3627" d="M1078 3249l35-11-31-13-35 11z"/><path fill="#f25c2a" d="M1771 3269l31-12-33-12-32 12z"/><path fill="#f35b2a" d="M1705 3269l32-12-34-11-32 12z"/><path fill="#fb3026" d="M1011 3247l36-11-31-12-35 11z"/><path fill="#f35b2a" d="M1639 3270l32-12-33-12-33 12z"/><path fill="#f4592a" d="M1573 3269l32-11-33-12-32 11z"/><path fill="#f45629" d="M1507 3269l33-12-33-12-33 12z"/><path fill="#f42f25" d="M2597 3255l28-13-37-11-29 13z"/><path fill="#f33425" d="M2531 3258l28-14-37-10-28 13z"/><path fill="#f55329" d="M1440 3268l34-11-33-13-33 12z"/><path fill="#f23926" d="M2465 3260l29-13-37-10-29 13z"/><path fill="#f13e26" d="M2399 3263l29-13-36-11-30 13z"/><path fill="#f14427" d="M2333 3266l29-14-36-10-29 13z"/><path fill="#f64f29" d="M1374 3267l34-11-32-13-34 12z"/><path fill="#f04927" d="M2267 3268l30-13-36-10-30 13z"/><path fill="#f04d28" d="M2201 3271l30-13-36-11-30 13z"/><path fill="#f74b28" d="M1308 3266l34-11-32-13-34 11z"/><path fill="#f05228" d="M2135 3273l30-13-35-11-30 13z"/><path fill="#f05629" d="M2069 3275l31-13-36-11-30 13z"/><path fill="#f84628" d="M1242 3264l34-11-32-12-34 11z"/><path fill="#f05929" d="M2003 3277l31-13-35-11-31 13z"/><path fill="#f15b2a" d="M1937 3278l31-12-35-11-31 12z"/><path fill="#f84027" d="M1175 3263l35-11-32-13-34 11z"/><path fill="#f15d2a" d="M1871 3280l31-13-34-11-32 12z"/><path fill="#f93b27" d="M1109 3261l35-11-31-12-35 11z"/><path fill="#f25d2a" d="M1805 3281l31-13-34-11-31 12z"/><path fill="#f25e2a" d="M1738 3281l33-12-34-12-32 12z"/><path fill="#fa3626" d="M1042 3260l36-11-31-13-36 11z"/><path fill="#f35d2a" d="M1672 3281l33-12-34-11-32 12z"/><path fill="#fa3026" d="M976 3258l35-11-30-12-36 11z"/><path fill="#f35c2a" d="M1606 3281l33-11-34-12-32 11z"/><path fill="#f45a2a" d="M1540 3281l33-12-33-12-33 12z"/><path fill="#f32f25" d="M2634 3266l29-14-38-10-28 13z"/><path fill="#f33425" d="M2568 3268l29-13-38-11-28 14z"/><path fill="#f45729" d="M1473 3280l34-11-33-12-34 11z"/><path fill="#f23926" d="M2502 3271l29-13-37-11-29 13z"/><path fill="#f13e26" d="M2436 3273l29-13-37-10-29 13z"/><path fill="#f55329" d="M1407 3279l33-11-32-12-34 11z"/><path fill="#f14327" d="M2370 3276l29-13-37-11-29 14z"/><path fill="#f04827" d="M2303 3279l30-13-36-11-30 13z"/><path fill="#f64f29" d="M1340 3278l34-11-32-12-34 11z"/><path fill="#f04d28" d="M2237 3281l30-13-36-10-30 13z"/><path fill="#ef5228" d="M2171 3284l30-13-36-11-30 13z"/><path fill="#f74a28" d="M1274 3277l34-11-32-13-34 11z"/><path fill="#ef5629" d="M2105 3286l30-13-35-11-31 13z"/><path fill="#f05929" d="M2038 3288l31-13-35-11-31 13z"/><path fill="#f84528" d="M1207 3276l35-12-32-12-35 11z"/><path fill="#f05c2a" d="M1972 3290l31-13-35-11-31 12z"/><path fill="#f15e2a" d="M1906 3291l31-13-35-11-31 13z"/><path fill="#f84027" d="M1140 3274l35-11-31-13-35 11z"/><path fill="#f15f2a" d="M1839 3292l32-12-35-12-31 13z"/><path fill="#f93b27" d="M1074 3273l35-12-31-12-36 11z"/><path fill="#f2602b" d="M1773 3293l32-12-34-12-33 12z"/><path fill="#f25f2b" d="M1706 3293l32-12-33-12-33 12z"/><path fill="#fa3526" d="M1007 3271l35-11-31-13-35 11z"/><path fill="#f35f2b" d="M1640 3293l32-12-33-11-33 11z"/><path fill="#fa3026" d="M940 3270l36-12-31-12-36 11z"/><path fill="#f35d2a" d="M1573 3293l33-12-33-12-33 12z"/><path fill="#f32f25" d="M2673 3276l28-13-38-11-29 14z"/><path fill="#f45b2a" d="M1506 3293l34-12-33-12-34 11z"/><path fill="#f33325" d="M2606 3279l28-13-37-11-29 13z"/><path fill="#f23826" d="M2540 3281l28-13-37-10-29 13z"/><path fill="#f45829" d="M1440 3292l33-12-33-12-33 11z"/><path fill="#f13d26" d="M2473 3284l29-13-37-11-29 13z"/><path fill="#f04327" d="M2407 3287l29-14-37-10-29 13z"/><path fill="#f04827" d="M2340 3289l30-13-37-10-30 13z"/><path fill="#f55429" d="M1373 3291l34-12-33-12-34 11z"/><path fill="#ef4d28" d="M2274 3292l29-13-36-11-30 13z"/><path fill="#ef5228" d="M2207 3295l30-14-36-10-30 13z"/><path fill="#f64f29" d="M1306 3290l34-12-32-12-34 11z"/><path fill="#ef5629" d="M2140 3297l31-13-36-11-30 13z"/><path fill="#ef5929" d="M2074 3299l31-13-36-11-31 13z"/><path fill="#f74a28" d="M1239 3288l35-11-32-13-35 12z"/><path fill="#f05c2a" d="M2007 3301l31-13-35-11-31 13z"/><path fill="#f05f2a" d="M1940 3302l32-12-35-12-31 13z"/><path fill="#f74528" d="M1172 3287l35-11-32-13-35 11z"/><path fill="#f1602b" d="M1874 3304l32-13-35-11-32 12z"/><path fill="#f84027" d="M1105 3285l35-11-31-13-35 12z"/><path fill="#f1612b" d="M1807 3305l32-13-34-11-32 12z"/><path fill="#f2612b" d="M1740 3305l33-12-35-12-32 12z"/><path fill="#f93a27" d="M1038 3284l36-11-32-13-35 11z"/><path fill="#f2612b" d="M1673 3306l33-13-34-12-32 12z"/><path fill="#f93526" d="M971 3282l36-11-31-13-36 12z"/><path fill="#f3602b" d="M1607 3305l33-12-34-12-33 12z"/><path fill="#fa3026" d="M904 3281l36-11-31-13-36 11z"/><path fill="#f32f25" d="M2711 3287l28-13-38-11-28 13z"/><path fill="#f35e2a" d="M1540 3305l33-12-33-12-34 12z"/><path fill="#f23325" d="M2644 3289l29-13-39-10-28 13z"/><path fill="#f23826" d="M2577 3292l29-13-38-11-28 13z"/><path fill="#f45b2a" d="M1473 3304l33-11-33-13-33 12z"/><path fill="#f13d26" d="M2511 3295l29-14-38-10-29 13z"/><path fill="#f04227" d="M2444 3297l29-13-37-11-29 14z"/><path fill="#f4582a" d="M1406 3304l34-12-33-13-34 12z"/><path fill="#f04727" d="M2377 3300l30-13-37-11-30 13z"/><path fill="#ef4c28" d="M2310 3303l30-14-37-10-29 13z"/><path fill="#f55429" d="M1339 3302l34-11-33-13-34 12z"/><path fill="#ef5128" d="M2243 3305l31-13-37-11-30 14z"/><path fill="#ee5629" d="M2177 3308l30-13-36-11-31 13z"/><path fill="#f64f29" d="M1271 3301l35-11-32-13-35 11z"/><path fill="#ef5a29" d="M2110 3310l30-13-35-11-31 13z"/><path fill="#ef5d2a" d="M2043 3312l31-13-36-11-31 13z"/><path fill="#f74a28" d="M1204 3300l35-12-32-12-35 11z"/><path fill="#f05f2a" d="M1976 3314l31-13-35-11-32 12z"/><path fill="#f0612b" d="M1909 3315l31-13-34-11-32 13z"/><path fill="#f74528" d="M1137 3298l35-11-32-13-35 11z"/><path fill="#f1632b" d="M1842 3316l32-12-35-12-32 13z"/><path fill="#f83f27" d="M1070 3297l35-12-31-12-36 11z"/><path fill="#f1632b" d="M1775 3317l32-12-34-12-33 12z"/><path fill="#f2632b" d="M1708 3318l32-13-34-12-33 13z"/><path fill="#f93a27" d="M1002 3295l36-11-31-13-36 11z"/><path fill="#f2622b" d="M1640 3318l33-12-33-13-33 12z"/><path fill="#f93526" d="M935 3294l36-12-31-12-36 11z"/><path fill="#f3612b" d="M1573 3317l34-12-34-12-33 12z"/><path fill="#f32e25" d="M2750 3298l28-13-39-11-28 13z"/><path fill="#f93026" d="M867 3292l37-11-31-13-37 12z"/><path fill="#f23325" d="M2683 3300l28-13-38-11-29 13z"/><path fill="#f35e2b" d="M1506 3317l34-12-34-12-33 11z"/><path fill="#f13726" d="M2616 3303l28-14-38-10-29 13z"/><path fill="#f13c26" d="M2549 3305l28-13-37-11-29 14z"/><path fill="#f45b2a" d="M1439 3316l34-12-33-12-34 12z"/><path fill="#f04126" d="M2481 3308l30-13-38-11-29 13z"/><path fill="#ef4627" d="M2414 3311l30-14-37-10-30 13z"/><path fill="#ef4c27" d="M2347 3313l30-13-37-11-30 14z"/><path fill="#f45829" d="M1371 3315l35-11-33-13-34 11z"/><path fill="#ee5128" d="M2280 3316l30-13-36-11-31 13z"/><path fill="#ee5528" d="M2213 3319l30-14-36-10-30 13z"/><path fill="#f55329" d="M1304 3314l35-12-33-12-35 11z"/><path fill="#ee5929" d="M2146 3321l31-13-37-11-30 13z"/><path fill="#ef5d2a" d="M2079 3323l31-13-36-11-31 13z"/><path fill="#f64e29" d="M1236 3313l35-12-32-13-35 12z"/><path fill="#ef602a" d="M2011 3325l32-13-36-11-31 13z"/><path fill="#f0622b" d="M1944 3327l32-13-36-12-31 13z"/><path fill="#f64928" d="M1169 3311l35-11-32-13-35 11z"/><path fill="#f0642b" d="M1877 3328l32-13-35-11-32 12z"/><path fill="#f74428" d="M1101 3310l36-12-32-13-35 12z"/><path fill="#f1652b" d="M1809 3329l33-13-35-11-32 12z"/><path fill="#f1652b" d="M1742 3330l33-13-35-12-32 13z"/><path fill="#f83f27" d="M1034 3308l36-11-32-13-36 11z"/><path fill="#f2642b" d="M1675 3330l33-12-35-12-33 12z"/><path fill="#f83927" d="M966 3307l36-12-31-13-36 12z"/><path fill="#f2632b" d="M1607 3330l33-12-33-13-34 12z"/><path fill="#f32e25" d="M2789 3309l27-13-38-11-28 13z"/><path fill="#f93426" d="M898 3305l37-11-31-13-37 11z"/><path fill="#f23225" d="M2721 3311l29-13-39-11-28 13z"/><path fill="#f3612b" d="M1540 3329l33-12-33-12-34 12z"/><path fill="#f13725" d="M2654 3313l29-13-39-11-28 14z"/><path fill="#f93026" d="M830 3304l37-12-31-12-36 11z"/><path fill="#f13b26" d="M2587 3316l29-13-39-11-28 13z"/><path fill="#f35e2b" d="M1472 3329l34-12-33-13-34 12z"/><path fill="#f04026" d="M2519 3319l30-14-38-10-30 13z"/><path fill="#ef4627" d="M2452 3321l29-13-37-11-30 14z"/><path fill="#f35b2a" d="M1404 3328l35-12-33-12-35 11z"/><path fill="#ee4b27" d="M2385 3324l29-13-37-11-30 13z"/><path fill="#ee5028" d="M2317 3327l30-14-37-10-30 13z"/><path fill="#f45829" d="M1337 3327l34-12-32-13-35 12z"/><path fill="#ee5528" d="M2250 3330l30-14-37-11-30 14z"/><path fill="#ee5929" d="M2182 3332l31-13-36-11-31 13z"/><path fill="#f55329" d="M1269 3325l35-11-33-13-35 12z"/><path fill="#ee5d2a" d="M2115 3334l31-13-36-11-31 13z"/><path fill="#ee602a" d="M2047 3336l32-13-36-11-32 13z"/><path fill="#f64e29" d="M1201 3324l35-11-32-13-35 11z"/><path fill="#ef622b" d="M1980 3338l31-13-35-11-32 13z"/><path fill="#ef642b" d="M1912 3339l32-12-35-12-32 13z"/><path fill="#f64928" d="M1133 3323l36-12-32-13-36 12z"/><path fill="#f0662b" d="M1845 3341l32-13-35-12-33 13z"/><path fill="#f74328" d="M1065 3321l36-11-31-13-36 11z"/><path fill="#f1662c" d="M1777 3341l32-12-34-12-33 13z"/><path fill="#f1662c" d="M1709 3342l33-12-34-12-33 12z"/><path fill="#f83e27" d="M997 3320l37-12-32-13-36 12z"/><path fill="#f2652c" d="M1641 3342l34-12-35-12-33 12z"/><path fill="#f83927" d="M929 3318l37-11-31-13-37 11z"/><path fill="#f32e25" d="M2828 3320l28-13-40-11-27 13z"/><path fill="#f2642b" d="M1574 3342l33-12-34-13-33 12z"/><path fill="#f23225" d="M2760 3322l29-13-39-11-29 13z"/><path fill="#f83426" d="M861 3317l37-12-31-13-37 12z"/><path fill="#f13625" d="M2693 3324l28-13-38-11-29 13z"/><path fill="#f3612b" d="M1506 3341l34-12-34-12-34 12z"/><path fill="#f03a26" d="M2625 3327l29-14-38-10-29 13z"/><path fill="#f03f26" d="M2558 3329l29-13-38-11-30 14z"/><path fill="#f92f26" d="M793 3315l37-11-30-13-38 12z"/><path fill="#f35e2b" d="M1438 3340l34-11-33-13-35 12z"/><path fill="#ef4427" d="M2490 3332l29-13-38-11-29 13z"/><path fill="#ee4a27" d="M2422 3335l30-14-38-10-29 13z"/><path fill="#f35b2a" d="M1370 3339l34-11-33-13-34 12z"/><path fill="#ee4f28" d="M2355 3338l30-14-38-11-30 14z"/><path fill="#ed5428" d="M2287 3340l30-13-37-11-30 14z"/><path fill="#ed5829" d="M2219 3343l31-13-37-11-31 13z"/><path fill="#f45729" d="M1302 3338l35-11-33-13-35 11z"/><path fill="#ee5c2a" d="M2151 3345l31-13-36-11-31 13z"/><path fill="#ee5f2a" d="M2083 3347l32-13-36-11-32 13z"/><path fill="#f55229" d="M1234 3337l35-12-33-12-35 11z"/><path fill="#ee622b" d="M2016 3349l31-13-36-11-31 13z"/><path fill="#ef652b" d="M1948 3351l32-13-36-11-32 12z"/><path fill="#f64d29" d="M1166 3336l35-12-32-13-36 12z"/><path fill="#ef662c" d="M1880 3352l32-13-35-11-32 13z"/><path fill="#f74828" d="M1097 3334l36-11-32-13-36 11z"/><path fill="#f0672c" d="M1812 3353l33-12-36-12-32 12z"/><path fill="#f0672c" d="M1744 3354l33-13-35-11-33 12z"/><path fill="#f74328" d="M1029 3333l36-12-31-13-37 12z"/><path fill="#f1672c" d="M1676 3354l33-12-34-12-34 12z"/><path fill="#f83e27" d="M961 3331l36-11-31-13-37 11z"/><path fill="#f32e25" d="M2868 3331l27-13-39-11-28 13z"/><path fill="#f1662c" d="M1608 3354l33-12-34-12-33 12z"/><path fill="#f23125" d="M2800 3333l28-13-39-11-29 13z"/><path fill="#f93927" d="M892 3330l37-12-31-13-37 12z"/><path fill="#f13525" d="M2732 3335l28-13-39-11-28 13z"/><path fill="#f2642b" d="M1540 3354l34-12-34-13-34 12z"/><path fill="#f03926" d="M2664 3337l29-13-39-11-29 14z"/><path fill="#f83326" d="M824 3328l37-11-31-13-37 11z"/><path fill="#ef3e26" d="M2596 3340l29-13-38-11-29 13z"/><path fill="#f2612b" d="M1472 3353l34-12-34-12-34 11z"/><path fill="#ef4327" d="M2528 3343l30-14-39-10-29 13z"/><path fill="#f82f26" d="M755 3327l38-12-31-12-37 11z"/><path fill="#ee4827" d="M2460 3346l30-14-38-11-30 14z"/><path fill="#f35e2a" d="M1403 3352l35-12-34-12-34 11z"/><path fill="#ed4e27" d="M2392 3348l30-13-37-11-30 14z"/><path fill="#ed5328" d="M2324 3351l31-13-38-11-30 13z"/><path fill="#f35b2a" d="M1335 3351l35-12-33-12-35 11z"/><path fill="#ed5729" d="M2256 3354l31-14-37-10-31 13z"/><path fill="#ed5b29" d="M2188 3356l31-13-37-11-31 13z"/><path fill="#f45729" d="M1267 3350l35-12-33-13-35 12z"/><path fill="#ed5f2a" d="M2120 3359l31-14-36-11-32 13z"/><path fill="#ee622b" d="M2052 3361l31-14-36-11-31 13z"/><path fill="#f55229" d="M1198 3349l36-12-33-13-35 12z"/><path fill="#ee652b" d="M1984 3362l32-13-36-11-32 13z"/><path fill="#ef672c" d="M1916 3364l32-13-36-12-32 13z"/><path fill="#f64d29" d="M1130 3347l36-11-33-13-36 11z"/><path fill="#ef682c" d="M1847 3365l33-13-35-11-33 12z"/><path fill="#f74828" d="M1061 3346l36-12-32-13-36 12z"/><path fill="#f0692c" d="M1779 3366l33-13-35-12-33 13z"/><path fill="#f0682c" d="M1711 3366l33-12-35-12-33 12z"/><path fill="#f84328" d="M992 3345l37-12-32-13-36 11z"/><path fill="#f32e25" d="M2908 3342l27-13-40-11-27 13z"/><path fill="#f1682c" d="M1642 3367l34-13-35-12-33 12z"/><path fill="#f93e27" d="M924 3343l37-12-32-13-37 12z"/><path fill="#f23125" d="M2840 3344l28-13-40-11-28 13z"/><path fill="#f1662c" d="M1574 3366l34-12-34-12-34 12z"/><path fill="#f13425" d="M2772 3346l28-13-40-11-28 13z"/><path fill="#f93827" d="M855 3342l37-12-31-13-37 11z"/><path fill="#f03826" d="M2703 3348l29-13-39-11-29 13z"/><path fill="#f2642b" d="M1505 3366l35-12-34-13-34 12z"/><path fill="#ef3d26" d="M2635 3351l29-14-39-10-29 13z"/><path fill="#f83326" d="M786 3340l38-12-31-13-38 12z"/><path fill="#ee4226" d="M2567 3354l29-14-38-11-30 14z"/><path fill="#f2612b" d="M1437 3365l35-12-34-13-35 12z"/><path fill="#ee4727" d="M2499 3356l29-13-38-11-30 14z"/><path fill="#ed4c27" d="M2430 3359l30-13-38-11-30 13z"/><path fill="#f82f25" d="M717 3339l38-12-30-13-38 12z"/><path fill="#f35e2a" d="M1368 3364l35-12-33-13-35 12z"/><path fill="#ed5128" d="M2362 3362l30-14-37-10-31 13z"/><path fill="#ec5628" d="M2294 3365l30-14-37-11-31 14z"/><path fill="#ec5a29" d="M2225 3367l31-13-37-11-31 13z"/><path fill="#f35a2a" d="M1300 3363l35-12-33-13-35 12z"/><path fill="#ed5e2a" d="M2157 3370l31-14-37-11-31 14z"/><path fill="#ed622a" d="M2088 3372l32-13-37-12-31 14z"/><path fill="#f45629" d="M1231 3362l36-12-33-13-36 12z"/><path fill="#ee642b" d="M2020 3374l32-13-36-12-32 13z"/><path fill="#f55229" d="M1162 3361l36-12-32-13-36 11z"/><path fill="#ee672b" d="M1951 3376l33-14-36-11-32 13z"/><path fill="#ef682c" d="M1883 3377l33-13-36-12-33 13z"/><path fill="#f74d29" d="M1093 3360l37-13-33-13-36 12z"/><path fill="#ef692c" d="M1814 3378l33-13-35-12-33 13z"/><path fill="#f94928" d="M1025 3359l36-13-32-13-37 12z"/><path fill="#f06a2c" d="M1746 3378l33-12-35-12-33 12z"/><path fill="#f0692c" d="M1677 3379l34-13-35-12-34 13z"/><path fill="#f32d25" d="M2948 3353l28-13-41-11-27 13z"/><path fill="#f94428" d="M956 3357l36-12-31-14-37 12z"/><path fill="#f23025" d="M2880 3355l28-13-40-11-28 13z"/><path fill="#f1682c" d="M1608 3379l34-12-34-13-34 12z"/><path fill="#fa3e27" d="M886 3356l38-13-32-13-37 12z"/><path fill="#f13325" d="M2811 3357l29-13-40-11-28 13z"/><path fill="#f03725" d="M2743 3359l29-13-40-11-29 13z"/><path fill="#f1662c" d="M1540 3378l34-12-34-12-35 12z"/><path fill="#ef3c26" d="M2674 3362l29-14-39-11-29 14z"/><path fill="#fa3827" d="M817 3354l38-12-31-14-38 12z"/><path fill="#ee4026" d="M2606 3364l29-13-39-11-29 14z"/><path fill="#f2642b" d="M1471 3378l34-12-33-13-35 12z"/><path fill="#ee4527" d="M2537 3367l30-13-39-11-29 13z"/><path fill="#f73326" d="M748 3352l38-12-31-13-38 12z"/><path fill="#ed4b27" d="M2469 3370l30-14-39-10-30 13z"/><path fill="#f3612b" d="M1402 3377l35-12-34-13-35 12z"/><path fill="#ec5028" d="M2400 3373l30-14-38-11-30 14z"/><path fill="#f72f25" d="M679 3351l38-12-30-13-39 12z"/><path fill="#ec5528" d="M2331 3376l31-14-38-11-30 14z"/><path fill="#f35e2a" d="M1333 3376l35-12-33-13-35 12z"/><path fill="#ec5929" d="M2263 3378l31-13-38-11-31 13z"/><path fill="#ec5d2a" d="M2194 3381l31-14-37-11-31 14z"/><path fill="#f45a2a" d="M1264 3375l36-12-33-13-36 12z"/><path fill="#ed612a" d="M2125 3383l32-13-37-11-32 13z"/><path fill="#ed642b" d="M2057 3385l31-13-36-11-32 13z"/><path fill="#f55629" d="M1195 3374l36-12-33-13-36 12z"/><path fill="#ed662b" d="M1988 3387l32-13-36-12-33 14z"/><path fill="#ee682c" d="M1919 3389l32-13-35-12-33 13z"/><path fill="#f75229" d="M1126 3373l36-12-32-14-37 13z"/><path fill="#ee6a2c" d="M1850 3390l33-13-36-12-33 13z"/><path fill="#f94f29" d="M1057 3373l36-13-32-14-36 13z"/><path fill="#ef6a2c" d="M1781 3391l33-13-35-12-33 12z"/><path fill="#fa4a29" d="M988 3372l37-13-33-14-36 12z"/><path fill="#f06a2c" d="M1712 3391l34-13-35-12-34 13z"/><path fill="#f22d25" d="M2989 3364l27-12-40-12-28 13z"/><path fill="#f23025" d="M2920 3366l28-13-40-11-28 13z"/><path fill="#f0692c" d="M1643 3391l34-12-35-12-34 12z"/><path fill="#fb4528" d="M918 3370l38-13-32-14-38 13z"/><path fill="#f13225" d="M2852 3368l28-13-40-11-29 13z"/><path fill="#f1682c" d="M1574 3391l34-12-34-13-34 12z"/><path fill="#f03625" d="M2783 3370l28-13-39-11-29 13z"/><path fill="#fb3f28" d="M849 3368l37-12-31-14-38 12z"/><path fill="#ef3a26" d="M2714 3373l29-14-40-11-29 14z"/><path fill="#f1662c" d="M1505 3391l35-13-35-12-34 12z"/><path fill="#ee3f26" d="M2645 3375l29-13-39-11-29 13z"/><path fill="#fb3827" d="M779 3366l38-12-31-14-38 12z"/><path fill="#ed4426" d="M2576 3378l30-14-39-10-30 13z"/><path fill="#f2642b" d="M1436 3390l35-12-34-13-35 12z"/><path fill="#ed4927" d="M2507 3381l30-14-38-11-30 14z"/><path fill="#ec4e27" d="M2439 3384l30-14-39-11-30 14z"/><path fill="#f73226" d="M710 3364l38-12-31-13-38 12z"/><path fill="#f3612b" d="M1367 3389l35-12-34-13-35 12z"/><path fill="#eb5328" d="M2370 3387l30-14-38-11-31 14z"/><path fill="#eb5829" d="M2301 3389l30-13-37-11-31 13z"/><path fill="#f72e25" d="M640 3363l39-12-31-13-38 12z"/><path fill="#f45e2a" d="M1298 3389l35-13-33-13-36 12z"/><path fill="#ec5c29" d="M2232 3392l31-14-38-11-31 14z"/><path fill="#ec602a" d="M2163 3394l31-13-37-11-32 13z"/><path fill="#f55b2a" d="M1228 3388l36-13-33-13-36 12z"/><path fill="#ec632b" d="M2094 3397l31-14-37-11-31 13z"/><path fill="#ed662b" d="M2024 3399l33-14-37-11-32 13z"/><path fill="#f7582a" d="M1159 3388l36-14-33-13-36 12z"/><path fill="#ed682c" d="M1955 3400l33-13-37-11-32 13z"/><path fill="#ee6a2c" d="M1886 3402l33-13-36-12-33 13z"/><path fill="#f9552a" d="M1089 3387l37-14-33-13-36 13z"/><path fill="#ee6b2c" d="M1817 3403l33-13-36-12-33 13z"/><path fill="#fa522a" d="M1020 3386l37-13-32-14-37 13z"/><path fill="#ef6b2c" d="M1748 3403l33-12-35-13-34 13z"/><path fill="#f22d25" d="M3030 3376l28-13-42-11-27 12z"/><path fill="#fc4d29" d="M950 3385l38-13-32-15-38 13z"/><path fill="#f06b2c" d="M1678 3404l34-13-35-12-34 12z"/><path fill="#f12f25" d="M2961 3377l28-13-41-11-28 13z"/><path fill="#f13225" d="M2892 3379l28-13-40-11-28 13z"/><path fill="#f06a2c" d="M1609 3404l34-13-35-12-34 12z"/><path fill="#fc4629" d="M881 3383l37-13-32-14-37 12z"/><path fill="#f03525" d="M2823 3381l29-13-41-11-28 13z"/><path fill="#f1682c" d="M1540 3404l34-13-34-13-35 13z"/><path fill="#ef3925" d="M2754 3384l29-14-40-11-29 14z"/><path fill="#fd4028" d="M811 3381l38-13-32-14-38 12z"/><path fill="#ee3d26" d="M2685 3386l29-13-40-11-29 13z"/><path fill="#f2662c" d="M1470 3403l35-12-34-13-35 12z"/><path fill="#ed4226" d="M2616 3389l29-14-39-11-30 14z"/><path fill="#ed4727" d="M2547 3392l29-14-39-11-30 14z"/><path fill="#fd3927" d="M741 3379l38-13-31-14-38 12z"/><path fill="#f3642b" d="M1401 3403l35-13-34-13-35 12z"/><path fill="#ec4c27" d="M2477 3395l30-14-38-11-30 14z"/><path fill="#eb5128" d="M2408 3397l31-13-39-11-30 14z"/><path fill="#f73226" d="M671 3376l39-12-31-13-39 12z"/><path fill="#eb5628" d="M2339 3400l31-13-39-11-30 13z"/><path fill="#f4612b" d="M1331 3402l36-13-34-13-35 13z"/><path fill="#eb5a29" d="M2269 3403l32-14-38-11-31 14z"/><path fill="#f62e25" d="M601 3375l39-12-30-13-39 13z"/><path fill="#eb5e2a" d="M2200 3405l32-13-38-11-31 13z"/><path fill="#f55f2b" d="M1262 3402l36-13-34-14-36 13z"/><path fill="#ec622a" d="M2131 3408l32-14-38-11-31 14z"/><path fill="#f75d2b" d="M1192 3402l36-14-33-14-36 14z"/><path fill="#ec652b" d="M2061 3410l33-13-37-12-33 14z"/><path fill="#ed672b" d="M1992 3412l32-13-36-12-33 13z"/><path fill="#f95c2b" d="M1122 3402l37-14-33-15-37 14z"/><path fill="#ed692c" d="M1923 3413l32-13-36-11-33 13z"/><path fill="#fa592a" d="M1053 3401l36-14-32-14-37 13z"/><path fill="#ee6b2c" d="M1853 3414l33-12-36-12-33 13z"/><path fill="#ee6b2c" d="M1784 3415l33-12-36-12-33 12z"/><path fill="#fc552a" d="M983 3400l37-14-32-14-38 13z"/><path fill="#f22d25" d="M3072 3387l27-12-41-12-28 13z"/><path fill="#ef6c2c" d="M1714 3416l34-13-36-12-34 13z"/><path fill="#f12e25" d="M3002 3389l28-13-41-12-28 13z"/><path fill="#ff502a" d="M913 3399l37-14-32-15-37 13z"/><path fill="#f06b2c" d="M1644 3416l34-12-35-13-34 13z"/><path fill="#f13125" d="M2933 3390l28-13-41-11-28 13z"/><path fill="#f03325" d="M2864 3392l28-13-40-11-29 13z"/><path fill="#ff4a2a" d="M843 3397l38-14-32-15-38 13z"/><path fill="#f16a2c" d="M1575 3416l34-12-35-13-34 13z"/><path fill="#ef3725" d="M2794 3395l29-14-40-11-29 14z"/><path fill="#ee3b26" d="M2725 3397l29-13-40-11-29 13z"/><path fill="#f1682c" d="M1505 3416l35-12-35-13-35 12z"/><path fill="#ff4329" d="M773 3395l38-14-32-15-38 13z"/><path fill="#ed4026" d="M2656 3400l29-14-40-11-29 14z"/><path fill="#ec4526" d="M2586 3403l30-14-40-11-29 14z"/><path fill="#f2662c" d="M1435 3416l35-13-34-13-35 13z"/><path fill="#ec4a27" d="M2517 3405l30-13-40-11-30 14z"/><path fill="#ff3a28" d="M702 3392l39-13-31-15-39 12z"/><path fill="#eb4f27" d="M2447 3408l30-13-38-11-31 13z"/><path fill="#f4652c" d="M1365 3416l36-13-34-14-36 13z"/><path fill="#ea5428" d="M2377 3411l31-14-38-10-31 13z"/><path fill="#ea5829" d="M2308 3414l31-14-38-11-32 14z"/><path fill="#f73126" d="M632 3388l39-12-31-13-39 12z"/><path fill="#f5632c" d="M1295 3416l36-14-33-13-36 13z"/><path fill="#eb5d29" d="M2238 3417l31-14-37-11-32 13z"/><path fill="#f62e25" d="M562 3387l39-12-30-12-40 12z"/><path fill="#eb602a" d="M2168 3419l32-14-37-11-32 14z"/><path fill="#f8622c" d="M1225 3416l37-14-34-14-36 14z"/><path fill="#eb642b" d="M2099 3421l32-13-37-11-33 13z"/><path fill="#fa622c" d="M1156 3417l36-15-33-14-37 14z"/><path fill="#ec672b" d="M2029 3423l32-13-37-11-32 13z"/><path fill="#ec692c" d="M1959 3425l33-13-37-12-32 13z"/><path fill="#fb612c" d="M1085 3417l37-15-33-15-36 14z"/><path fill="#ed6a2c" d="M1889 3426l34-13-37-11-33 12z"/><path fill="#fc5e2b" d="M1015 3416l38-15-33-15-37 14z"/><path fill="#ee6c2c" d="M1820 3427l33-13-36-11-33 12z"/><path fill="#f22d24" d="M3114 3399l27-13-42-11-27 12z"/><path fill="#ff5b2b" d="M945 3415l38-15-33-15-37 14z"/><path fill="#ef6c2d" d="M1750 3428l34-13-36-12-34 13z"/><path fill="#f12e24" d="M3044 3400l28-13-42-11-28 13z"/><path fill="#ef6c2d" d="M1680 3429l34-13-36-12-34 12z"/><path fill="#f03025" d="M2975 3402l27-13-41-12-28 13z"/><path fill="#ff572b" d="M875 3415l38-16-32-16-38 14z"/><path fill="#f03225" d="M2905 3404l28-14-41-11-28 13z"/><path fill="#f06b2d" d="M1610 3429l34-13-35-12-34 12z"/><path fill="#ef3525" d="M2835 3406l29-14-41-11-29 14z"/><path fill="#ff502b" d="M805 3413l38-16-32-16-38 14z"/><path fill="#f16a2c" d="M1540 3429l35-13-35-12-35 12z"/><path fill="#ee3925" d="M2765 3408l29-13-40-11-29 13z"/><path fill="#ed3e26" d="M2696 3411l29-14-40-11-29 14z"/><path fill="#f2692c" d="M1470 3429l35-13-35-13-35 13z"/><path fill="#ff462a" d="M734 3409l39-14-32-16-39 13z"/><path fill="#ec4226" d="M2626 3413l30-13-40-11-30 14z"/><path fill="#ec4727" d="M2556 3416l30-13-39-11-30 13z"/><path fill="#f4682c" d="M1400 3429l35-13-34-13-36 13z"/><path fill="#eb4c27" d="M2486 3419l31-14-40-10-30 13z"/><path fill="#ff3c28" d="M663 3405l39-13-31-16-39 12z"/><path fill="#ea5128" d="M2416 3422l31-14-39-11-31 14z"/><path fill="#f6672c" d="M1329 3430l36-14-34-14-36 14z"/><path fill="#ea5628" d="M2346 3425l31-14-38-11-31 14z"/><path fill="#ea5b29" d="M2276 3428l32-14-39-11-31 14z"/><path fill="#f9682d" d="M1259 3431l36-15-33-14-37 14z"/><path fill="#f73126" d="M592 3401l40-13-31-13-39 12z"/><path fill="#ea5f2a" d="M2206 3430l32-13-38-12-32 14z"/><path fill="#fa682d" d="M1189 3432l36-16-33-14-36 15z"/><path fill="#eb622a" d="M2136 3433l32-14-37-11-32 13z"/><path fill="#f52e25" d="M522 3400l40-13-31-12-40 12z"/><path fill="#eb652b" d="M2066 3435l33-14-38-11-32 13z"/><path fill="#fb672d" d="M1119 3432l37-15-34-15-37 15z"/><path fill="#ec682b" d="M1996 3437l33-14-37-11-33 13z"/><path fill="#fe662d" d="M1048 3432l37-15-32-16-38 15z"/><path fill="#ed6a2c" d="M1926 3438l33-13-36-12-34 13z"/><path fill="#ed6c2c" d="M1856 3440l33-14-36-12-33 13z"/><path fill="#ff652d" d="M978 3433l37-17-32-16-38 15z"/><path fill="#f22c24" d="M3156 3411l27-13-42-12-27 13z"/><path fill="#ee6d2d" d="M1786 3441l34-14-36-12-34 13z"/><path fill="#ff642d" d="M907 3433l38-18-32-16-38 16z"/><path fill="#f12d24" d="M3086 3412l28-13-42-12-28 13z"/><path fill="#ef6d2d" d="M1716 3441l34-13-36-12-34 13z"/><path fill="#f02f24" d="M3016 3413l28-13-42-11-27 13z"/><path fill="#ff5f2c" d="M837 3432l38-17-32-18-38 16z"/><path fill="#f06d2d" d="M1645 3442l35-13-36-13-34 13z"/><path fill="#f03125" d="M2946 3415l29-13-42-12-28 14z"/><path fill="#ef3425" d="M2876 3417l29-13-41-12-29 14z"/><path fill="#f16c2d" d="M1575 3442l35-13-35-13-35 13z"/><path fill="#ff562b" d="M766 3428l39-15-32-18-39 14z"/><path fill="#ee3725" d="M2806 3419l29-13-41-11-29 13z"/><path fill="#f26c2d" d="M1505 3443l35-14-35-13-35 13z"/><path fill="#ed3b25" d="M2736 3422l29-14-40-11-29 14z"/><path fill="#ec4026" d="M2666 3424l30-13-40-11-30 13z"/><path fill="#ff4b2a" d="M695 3425l39-16-32-17-39 13z"/><path fill="#f46b2d" d="M1434 3443l36-14-35-13-35 13z"/><path fill="#eb4526" d="M2596 3427l30-14-40-10-30 13z"/><path fill="#eb4a27" d="M2526 3430l30-14-39-11-31 14z"/><path fill="#f76c2d" d="M1364 3444l36-15-35-13-36 14z"/><path fill="#ea4f27" d="M2455 3433l31-14-39-11-31 14z"/><path fill="#ff3f29" d="M624 3420l39-15-31-17-40 13z"/><path fill="#ea5428" d="M2385 3436l31-14-39-11-31 14z"/><path fill="#f96d2e" d="M1293 3446l36-16-34-14-36 15z"/><path fill="#ea5828" d="M2315 3439l31-14-38-11-32 14z"/><path fill="#fb6e2e" d="M1223 3447l36-16-34-15-36 16z"/><path fill="#ea5d29" d="M2245 3441l31-13-38-11-32 13z"/><path fill="#f83126" d="M553 3413l39-12-30-14-40 13z"/><path fill="#ea602a" d="M2174 3444l32-14-38-11-32 14z"/><path fill="#fc6e2e" d="M1152 3447l37-15-33-15-37 15z"/><path fill="#eb642b" d="M2104 3446l32-13-37-12-33 14z"/><path fill="#f52e25" d="M482 3412l40-12-31-13-40 13z"/><path fill="#fe6e2e" d="M1081 3448l38-16-34-15-37 15z"/><path fill="#eb672b" d="M2034 3448l32-13-37-12-33 14z"/><path fill="#ec692c" d="M1963 3450l33-13-37-12-33 13z"/><path fill="#ff702f" d="M1011 3450l37-18-33-16-37 17z"/><path fill="#ed6b2c" d="M1893 3452l33-14-37-12-33 14z"/><path fill="#ff7130" d="M940 3452l38-19-33-18-38 18z"/><path fill="#ee6d2c" d="M1822 3453l34-13-36-13-34 14z"/><path fill="#ff6f2f" d="M869 3452l38-19-32-18-38 17z"/><path fill="#f12c24" d="M3128 3424l28-13-42-12-28 13z"/><path fill="#ee6d2d" d="M1752 3454l34-13-36-13-34 13z"/><path fill="#f02d24" d="M3058 3425l28-13-42-12-28 13z"/><path fill="#ef6e2d" d="M1681 3455l35-14-36-12-35 13z"/><path fill="#ff672e" d="M798 3449l39-17-32-19-39 15z"/><path fill="#f02f24" d="M2988 3426l28-13-41-11-29 13z"/><path fill="#f16e2d" d="M1611 3455l34-13-35-13-35 13z"/><path fill="#ef3225" d="M2918 3428l28-13-41-11-29 13z"/><path fill="#ee3525" d="M2847 3430l29-13-41-11-29 13z"/><path fill="#ff5e2c" d="M727 3447l39-19-32-19-39 16z"/><path fill="#f26e2d" d="M1540 3456l35-14-35-13-35 14z"/><path fill="#ed3925" d="M2777 3433l29-14-41-11-29 14z"/><path fill="#f56f2e" d="M1469 3457l36-14-35-14-36 14z"/><path fill="#ec3d26" d="M2707 3435l29-13-40-11-30 13z"/><path fill="#ff522b" d="M656 3443l39-18-32-20-39 15z"/><path fill="#eb4226" d="M2636 3438l30-14-40-11-30 14z"/><path fill="#f8702e" d="M1398 3459l36-16-34-14-36 15z"/><path fill="#eb4726" d="M2566 3441l30-14-40-11-30 14z"/><path fill="#ea4c27" d="M2495 3444l31-14-40-11-31 14z"/><path fill="#f9722f" d="M1328 3461l36-17-35-14-36 16z"/><path fill="#e95127" d="M2425 3447l30-14-39-11-31 14z"/><path fill="#fa742f" d="M1257 3462l36-16-34-15-36 16z"/><path fill="#ff422a" d="M584 3435l40-15-32-19-39 12z"/><path fill="#e95628" d="M2354 3450l31-14-39-11-31 14z"/><path fill="#e95a29" d="M2283 3452l32-13-39-11-31 13z"/><path fill="#fd7630" d="M1186 3463l37-16-34-15-37 15z"/><path fill="#ea5e2a" d="M2213 3455l32-14-39-11-32 14z"/><path fill="#ff7730" d="M1115 3464l37-17-33-15-38 16z"/><path fill="#f83126" d="M512 3426l41-13-31-13-40 12z"/><path fill="#ea622a" d="M2142 3458l32-14-38-11-32 13z"/><path fill="#ff7b31" d="M1044 3468l37-20-33-16-37 18z"/><path fill="#eb652b" d="M2071 3460l33-14-38-11-32 13z"/><path fill="#f42d25" d="M441 3425l41-13-31-12-40 12z"/><path fill="#ff7f32" d="M973 3472l38-22-33-17-38 19z"/><path fill="#ec682b" d="M2001 3462l33-14-38-11-33 13z"/><path fill="#ff7f32" d="M902 3473l38-21-33-19-38 19z"/><path fill="#ec6b2c" d="M1930 3464l33-14-37-12-33 14z"/><path fill="#ed6c2c" d="M1859 3465l34-13-37-12-34 13z"/><path fill="#ff7a31" d="M831 3471l38-19-32-20-39 17z"/><path fill="#ee6e2d" d="M1788 3466l34-13-36-12-34 13z"/><path fill="#f12d24" d="M3101 3437l27-13-42-12-28 13z"/><path fill="#ef6f2d" d="M1717 3468l35-14-36-13-35 14z"/><path fill="#ff7430" d="M760 3473l38-24-32-21-39 19z"/><path fill="#f02e24" d="M3030 3438l28-13-42-12-28 13z"/><path fill="#f1702d" d="M1646 3469l35-14-36-13-34 13z"/><path fill="#ef3024" d="M2960 3440l28-14-42-11-28 13z"/><path fill="#ff6b2f" d="M688 3470l39-23-32-22-39 18z"/><path fill="#f2702e" d="M1575 3470l36-15-36-13-35 14z"/><path fill="#ee3325" d="M2889 3442l29-14-42-11-29 13z"/><path fill="#ed3725" d="M2818 3444l29-14-41-11-29 14z"/><path fill="#f5722e" d="M1504 3471l36-15-35-13-36 14z"/><path fill="#ec3b25" d="M2748 3446l29-13-41-11-29 13z"/><path fill="#f8752f" d="M1433 3474l36-17-35-14-36 16z"/><path fill="#eb3f26" d="M2677 3449l30-14-41-11-30 14z"/><path fill="#ff5c2c" d="M616 3461l40-18-32-23-40 15z"/><path fill="#fa7830" d="M1362 3476l36-17-34-15-36 17z"/><path fill="#eb4426" d="M2606 3452l30-14-40-11-30 14z"/><path fill="#ea4927" d="M2535 3455l31-14-40-11-31 14z"/><path fill="#fb7a30" d="M1291 3477l37-16-35-15-36 16z"/><path fill="#e94e27" d="M2464 3458l31-14-40-11-30 14z"/><path fill="#fb7c31" d="M1220 3479l37-17-34-15-37 16z"/><path fill="#e95328" d="M2393 3461l32-14-40-11-31 14z"/><path fill="#ff442a" d="M544 3450l40-15-31-22-41 13z"/><path fill="#e95828" d="M2322 3464l32-14-39-11-32 13z"/><path fill="#ff8032" d="M1149 3482l37-19-34-16-37 17z"/><path fill="#e95c29" d="M2251 3466l32-14-38-11-32 14z"/><path fill="#ff8633" d="M1078 3486l37-22-34-16-37 20z"/><path fill="#ff8b34" d="M1007 3492l37-24-33-18-38 22z"/><path fill="#ea602a" d="M2180 3469l33-14-39-11-32 14z"/><path fill="#ff8e35" d="M935 3494l38-22-33-20-38 21z"/><path fill="#eb642b" d="M2109 3472l33-14-38-12-33 14z"/><path fill="#f83126" d="M472 3439l40-13-30-14-41 13z"/><path fill="#eb672b" d="M2038 3474l33-14-37-12-33 14z"/><path fill="#ff8d35" d="M864 3494l38-21-33-21-38 19z"/><path fill="#f42d25" d="M400 3438l41-13-30-13-41 13z"/><path fill="#ec6a2c" d="M1967 3476l34-14-38-12-33 14z"/><path fill="#ff8c35" d="M793 3500l38-29-33-22-38 24z"/><path fill="#ed6c2c" d="M1896 3477l34-13-37-12-34 13z"/><path fill="#ee6e2d" d="M1825 3479l34-14-37-12-34 13z"/><path fill="#ff8a34" d="M721 3501l39-28-33-26-39 23z"/><path fill="#ef702d" d="M1754 3480l34-14-36-12-35 14z"/><path fill="#f02d24" d="M3073 3450l28-13-43-12-28 13z"/><path fill="#f1712e" d="M1683 3482l34-14-36-13-35 14z"/><path fill="#ff7c32" d="M649 3492l39-22-32-27-40 18z"/><path fill="#ef2f24" d="M3002 3451l28-13-42-12-28 14z"/><path fill="#f3732e" d="M1611 3484l35-15-35-14-36 15z"/><path fill="#ee3125" d="M2931 3453l29-13-42-12-29 14z"/><path fill="#f6762f" d="M1540 3486l35-16-35-14-36 15z"/><path fill="#ed3425" d="M2860 3455l29-13-42-12-29 14z"/><path fill="#f87a30" d="M1469 3488l35-17-35-14-36 17z"/><path fill="#ed3825" d="M2789 3458l29-14-41-11-29 13z"/><path fill="#fa7d31" d="M1397 3491l36-17-35-15-36 17z"/><path fill="#ec3c25" d="M2718 3460l30-14-41-11-30 14z"/><path fill="#ff632d" d="M576 3478l40-17-32-26-40 15z"/><path fill="#fb8031" d="M1326 3493l36-17-34-15-37 16z"/><path fill="#eb4126" d="M2647 3463l30-14-41-11-30 14z"/><path fill="#ea4626" d="M2575 3466l31-14-40-11-31 14z"/><path fill="#fc8332" d="M1254 3495l37-18-34-15-37 17z"/><path fill="#ea4b27" d="M2504 3469l31-14-40-11-31 14z"/><path fill="#ff8733" d="M1183 3498l37-19-34-16-37 19z"/><path fill="#e95027" d="M2433 3472l31-14-39-11-32 14z"/><path fill="#ff8f35" d="M1111 3505l38-23-34-18-37 22z"/><path fill="#ff9636" d="M1040 3511l38-25-34-18-37 24z"/><path fill="#e95628" d="M2362 3475l31-14-39-11-32 14z"/><path fill="#ff9b37" d="M969 3515l38-23-34-20-38 22z"/><path fill="#e95a29" d="M2290 3478l32-14-39-12-32 14z"/><path fill="#ff452a" d="M503 3463l41-13-32-24-40 13z"/><path fill="#ff9d38" d="M897 3518l38-24-33-21-38 21z"/><path fill="#ea5e29" d="M2219 3481l32-15-38-11-33 14z"/><path fill="#ffa139" d="M826 3528l38-34-33-23-38 29z"/><path fill="#ea622a" d="M2148 3483l32-14-38-11-33 14z"/><path fill="#ffa639" d="M755 3534l38-34-33-27-39 28z"/><path fill="#eb652b" d="M2076 3486l33-14-38-12-33 14z"/><path fill="#f83026" d="M431 3451l41-12-31-14-41 13z"/><path fill="#ec692c" d="M2005 3488l33-14-37-12-34 14z"/><path fill="#ff9e38" d="M682 3528l39-27-33-31-39 22z"/><path fill="#ec6b2c" d="M1934 3490l33-14-37-12-34 13z"/><path fill="#ee6e2d" d="M1862 3492l34-15-37-12-34 14z"/><path fill="#ef702d" d="M1791 3493l34-14-37-13-34 14z"/><path fill="#f1732e" d="M1719 3495l35-15-37-12-34 14z"/><path fill="#ff8934" d="M609 3512l40-20-33-31-40 17z"/><path fill="#f4762f" d="M1647 3498l36-16-37-13-35 15z"/><path fill="#f02d24" d="M3045 3463l28-13-43-12-28 13z"/><path fill="#f77a30" d="M1576 3501l35-17-36-14-35 16z"/><path fill="#ef2f24" d="M2973 3465l29-14-42-11-29 13z"/><path fill="#f87e31" d="M1504 3503l36-17-36-15-35 17z"/><path fill="#ee3225" d="M2902 3467l29-14-42-11-29 13z"/><path fill="#f98232" d="M1432 3506l37-18-36-14-36 17z"/><path fill="#ed3625" d="M2831 3469l29-14-42-11-29 14z"/><path fill="#fb8532" d="M1361 3508l36-17-35-15-36 17z"/><path fill="#ec3a25" d="M2759 3471l30-13-41-12-30 14z"/><path fill="#fd8933" d="M1289 3511l37-18-35-16-37 18z"/><path fill="#eb3e26" d="M2688 3474l30-14-41-11-30 14z"/><path fill="#ff672e" d="M536 3492l40-14-32-28-41 13z"/><path fill="#ff8e35" d="M1217 3516l37-21-34-16-37 19z"/><path fill="#ffa139" d="M1074 3532l37-27-33-19-38 25z"/><path fill="#eb4326" d="M2616 3477l31-14-41-11-31 14z"/><path fill="#ffc33f" d="M788 3568l38-40-33-28-38 34z"/><path fill="#ff9737" d="M1146 3523l37-25-34-16-38 23z"/><path fill="#ffa83a" d="M1002 3536l38-25-33-19-38 23z"/><path fill="#ffb83d" d="M859 3558l38-40-33-24-38 34z"/><path fill="#ea4826" d="M2545 3480l30-14-40-11-31 14z"/><path fill="#ffad3b" d="M931 3541l38-26-34-21-38 24z"/><path fill="#e94e27" d="M2473 3483l31-14-40-11-31 14z"/><path fill="#ffc23f" d="M716 3566l39-32-34-33-39 27z"/><path fill="#e95327" d="M2402 3486l31-14-40-11-31 14z"/><path fill="#e95728" d="M2330 3489l32-14-40-11-32 14z"/><path fill="#e95c29" d="M2258 3492l32-14-39-12-32 15z"/><path fill="#ff442a" d="M462 3476l41-13-31-24-41 12z"/><path fill="#ea602a" d="M2187 3495l32-14-39-12-32 14z"/><path fill="#ea642b" d="M2115 3497l33-14-39-11-33 14z"/><path fill="#ffae3b" d="M643 3552l39-24-33-36-40 20z"/><path fill="#eb672b" d="M2043 3500l33-14-38-12-33 14z"/><path fill="#ec6b2c" d="M1971 3502l34-14-38-12-33 14z"/><path fill="#ee6e2d" d="M1900 3504l34-14-38-13-34 15z"/><path fill="#ef712d" d="M1828 3506l34-14-37-13-34 14z"/><path fill="#f1742e" d="M1756 3509l35-16-37-13-35 15z"/><path fill="#f4792f" d="M1684 3512l35-17-36-13-36 16z"/><path fill="#ff8e35" d="M569 3527l40-15-33-34-40 14z"/><path fill="#f77e31" d="M1612 3515l35-17-36-14-35 17z"/><path fill="#f9d548" d="M822 3603l37-45-33-30-38 40z"/><path fill="#f88232" d="M1540 3518l36-17-36-15-36 17z"/><path fill="#ef2e24" d="M3016 3477l29-14-43-12-29 14z"/><path fill="#f8d84a" d="M750 3604l38-36-33-34-39 32z"/><path fill="#f98532" d="M1468 3521l36-18-35-15-37 18z"/><path fill="#ee3024" d="M2944 3478l29-13-42-12-29 14z"/><path fill="#fec942" d="M893 3585l38-44-34-23-38 40z"/><path fill="#fa8933" d="M1396 3524l36-18-35-15-36 17z"/><path fill="#ee3425" d="M2873 3480l29-13-42-12-29 14z"/><path fill="#ffb53c" d="M1036 3557l38-25-34-21-38 25z"/><path fill="#fd8e34" d="M1324 3527l37-19-35-15-37 18z"/><path fill="#ffac3b" d="M1108 3551l38-28-35-18-37 27z"/><path fill="#ffbd3e" d="M964 3566l38-30-33-21-38 26z"/><path fill="#ed3725" d="M2801 3483l30-14-42-11-30 13z"/><path fill="#ff9737" d="M1252 3534l37-23-35-16-37 21z"/><path fill="#ffa038" d="M1180 3542l37-26-34-18-37 25z"/><path fill="#fccf45" d="M677 3593l39-27-34-38-39 24z"/><path fill="#ec3c25" d="M2729 3486l30-15-41-11-30 14z"/><path fill="#eb4026" d="M2657 3488l31-14-41-11-31 14z"/><path fill="#ff672e" d="M495 3505l41-13-33-29-41 13z"/><path fill="#ea4526" d="M2586 3491l30-14-41-11-30 14z"/><path fill="#ea4b27" d="M2514 3494l31-14-41-11-31 14z"/><path fill="#e95027" d="M2442 3498l31-15-40-11-31 14z"/><path fill="#e95528" d="M2370 3501l32-15-40-11-32 14z"/><path fill="#e95a29" d="M2298 3504l32-15-40-11-32 14z"/><path fill="#ea5e29" d="M2226 3507l32-15-39-11-32 14z"/><path fill="#ea622a" d="M2154 3509l33-14-39-12-33 14z"/><path fill="#ffb73d" d="M603 3569l40-17-34-40-40 15z"/><path fill="#eb662b" d="M2082 3512l33-15-39-11-33 14z"/><path fill="#e7e456" d="M784 3644l38-41-34-35-38 36z"/><path fill="#ec6a2c" d="M2009 3515l34-15-38-12-34 14z"/><path fill="#f1e451" d="M856 3635l37-50-34-27-37 45z"/><path fill="#ee6e2d" d="M1937 3517l34-15-37-12-34 14z"/><path fill="#ef712e" d="M1865 3520l35-16-38-12-34 14z"/><path fill="#eee452" d="M711 3634l39-30-34-38-39 27z"/><path fill="#f2762f" d="M1793 3523l35-17-37-13-35 16z"/><path fill="#f57c30" d="M1721 3526l35-17-37-14-35 17z"/><path fill="#f9d548" d="M927 3614l37-48-33-25-38 44z"/><path fill="#f78131" d="M1648 3530l36-18-37-14-35 17z"/><path fill="#f88532" d="M1576 3533l36-18-36-14-36 17z"/><path fill="#ff8f35" d="M528 3540l41-13-33-35-41 13z"/><path fill="#fec942" d="M998 3591l38-34-34-21-38 30z"/><path fill="#f98933" d="M1504 3536l36-18-36-15-36 18z"/><path fill="#ffc13f" d="M1070 3577l38-26-34-19-38 25z"/><path fill="#fa8d34" d="M1432 3539l36-18-36-15-36 18z"/><path fill="#ffb63c" d="M1143 3570l37-28-34-19-38 28z"/><path fill="#ef2f24" d="M2987 3490l29-13-43-12-29 13z"/><path fill="#ffa93a" d="M1215 3562l37-28-35-18-37 26z"/><path fill="#fd9335" d="M1359 3544l37-20-35-16-37 19z"/><path fill="#ff9e38" d="M1287 3552l37-25-35-16-37 23z"/><path fill="#ee3125" d="M2915 3492l29-14-42-11-29 13z"/><path fill="#f8d749" d="M636 3611l41-18-34-41-40 17z"/><path fill="#ed3525" d="M2843 3495l30-15-42-11-30 14z"/><path fill="#ec3925" d="M2771 3497l30-14-42-12-30 15z"/><path fill="#eb3d25" d="M2699 3500l30-14-41-12-31 14z"/><path fill="#eb4226" d="M2627 3503l30-15-41-11-30 14z"/><path fill="#cee462" d="M818 3679l38-44-34-32-38 41z"/><path fill="#ea4826" d="M2554 3506l32-15-41-11-31 14z"/><path fill="#e94d27" d="M2482 3509l32-15-41-11-31 15z"/><path fill="#d0e462" d="M745 3677l39-33-34-40-39 30z"/><path fill="#e95227" d="M2410 3512l32-14-40-12-32 15z"/><path fill="#dee45a" d="M890 3668l37-54-34-29-37 50z"/><path fill="#e95728" d="M2338 3515l32-14-40-12-32 15z"/><path fill="#ea5c29" d="M2265 3518l33-14-40-12-32 15z"/><path fill="#ea602a" d="M2193 3521l33-14-39-12-33 14z"/><path fill="#eb652b" d="M2120 3524l34-15-39-12-33 15z"/><path fill="#ffb93d" d="M562 3582l41-13-34-42-41 13z"/><path fill="#ed692c" d="M2048 3527l34-15-39-12-34 15z"/><path fill="#f3e34f" d="M961 3645l37-54-34-25-37 48z"/><path fill="#ee6e2d" d="M1976 3530l33-15-38-13-34 15z"/><path fill="#e3e458" d="M671 3654l40-20-34-41-41 18z"/><path fill="#f0732e" d="M1903 3533l34-16-37-13-35 16z"/><path fill="#f3782f" d="M1830 3537l35-17-37-14-35 17z"/><path fill="#f57e30" d="M1758 3541l35-18-37-14-35 17z"/><path fill="#fbd247" d="M1033 3615l37-38-34-20-38 34z"/><path fill="#f68331" d="M1685 3544l36-18-37-14-36 18z"/><path fill="#f78832" d="M1613 3548l35-18-36-15-36 18z"/><path fill="#ffc842" d="M1105 3598l38-28-35-19-38 26z"/><path fill="#ffc13f" d="M1177 3591l38-29-35-20-37 28z"/><path fill="#f98d34" d="M1540 3551l36-18-36-15-36 18z"/><path fill="#ffb33c" d="M1250 3581l37-29-35-18-37 28z"/><path fill="#fb9235" d="M1467 3555l37-19-36-15-36 18z"/><path fill="#ffa639" d="M1322 3570l37-26-35-17-37 25z"/><path fill="#fe9937" d="M1395 3561l37-22-36-15-37 20z"/><path fill="#b1df74" d="M852 3715l38-47-34-33-38 44z"/><path fill="#abde78" d="M779 3714l39-35-34-35-39 33z"/><path fill="#ef3024" d="M2958 3504l29-14-43-12-29 14z"/><path fill="#ee3325" d="M2886 3506l29-14-42-12-30 15z"/><path fill="#c9e465" d="M924 3702l37-57-34-31-37 54z"/><path fill="#f8d84a" d="M596 3625l40-14-33-42-41 13z"/><path fill="#ed3725" d="M2813 3509l30-14-42-12-30 14z"/><path fill="#ec3b25" d="M2741 3512l30-15-42-11-30 14z"/><path fill="#eb4026" d="M2668 3514l31-14-42-12-30 15z"/><path fill="#c0e26b" d="M705 3698l40-21-34-43-40 20z"/><path fill="#eb4526" d="M2596 3517l31-14-41-12-32 15z"/><path fill="#ea4a27" d="M2523 3521l31-15-40-12-32 15z"/><path fill="#ea4f27" d="M2450 3524l32-15-40-11-32 14z"/><path fill="#e2e155" d="M996 3672l37-57-35-24-37 54z"/><path fill="#e95528" d="M2378 3527l32-15-40-11-32 14z"/><path fill="#ea5a29" d="M2305 3530l33-15-40-11-33 14z"/><path fill="#eb5f2a" d="M2232 3534l33-16-39-11-33 14z"/><path fill="#ec642b" d="M2160 3537l33-16-39-12-34 15z"/><path fill="#ed692c" d="M2087 3540l33-16-38-12-34 15z"/><path fill="#ef6e2d" d="M2014 3543l34-16-39-12-33 15z"/><path fill="#f7da4b" d="M1067 3640l38-42-35-21-37 38z"/><path fill="#91d78a" d="M886 3753l38-51-34-34-38 47z"/><path fill="#8ad491" d="M813 3751l39-36-34-36-39 35z"/><path fill="#f1742e" d="M1941 3547l35-17-39-13-34 16z"/><path fill="#f47a30" d="M1868 3551l35-18-38-13-35 17z"/><path fill="#e1e459" d="M630 3668l41-14-35-43-40 14z"/><path fill="#fccf45" d="M1139 3619l38-28-34-21-38 28z"/><path fill="#f58031" d="M1795 3555l35-18-37-14-35 18z"/><path fill="#ffc841" d="M1212 3610l38-29-35-19-38 29z"/><path fill="#f58532" d="M1723 3559l35-18-37-15-36 18z"/><path fill="#f68a33" d="M1650 3562l35-18-37-14-35 18z"/><path fill="#ffbd3e" d="M1285 3601l37-31-35-18-37 29z"/><path fill="#f78f34" d="M1577 3566l36-18-37-15-36 18z"/><path fill="#97da84" d="M739 3736l40-22-34-37-40 21z"/><path fill="#afdd73" d="M958 3730l38-58-35-27-37 57z"/><path fill="#ffad3b" d="M1358 3589l37-28-36-17-37 26z"/><path fill="#fa9636" d="M1504 3571l36-20-36-15-37 19z"/><path fill="#ffa038" d="M1431 3579l36-24-35-16-37 22z"/><path fill="#ef3125" d="M2929 3519l29-15-43-12-29 14z"/><path fill="#ee3525" d="M2856 3521l30-15-43-11-30 14z"/><path fill="#ed3925" d="M2783 3523l30-14-42-12-30 15z"/><path fill="#d4e15c" d="M1030 3700l37-60-34-25-37 57z"/><path fill="#ec3d26" d="M2710 3526l31-14-42-12-31 14z"/><path fill="#bbe16e" d="M664 3712l41-14-34-44-41 14z"/><path fill="#ec4226" d="M2637 3529l31-15-41-11-31 14z"/><path fill="#69c3b5" d="M848 3790l38-37-34-38-39 36z"/><path fill="#eb4726" d="M2564 3532l32-15-42-11-31 15z"/><path fill="#76caa6" d="M921 3782l37-52-34-28-38 51z"/><path fill="#ea4d27" d="M2491 3536l32-15-41-12-32 15z"/><path fill="#ea5328" d="M2418 3539l32-15-40-12-32 15z"/><path fill="#ea5828" d="M2345 3543l33-16-40-12-33 15z"/><path fill="#f3e450" d="M1102 3667l37-48-34-21-38 42z"/><path fill="#eb5d2a" d="M2272 3546l33-16-40-12-33 16z"/><path fill="#76caa7" d="M773 3774l40-23-34-37-40 22z"/><path fill="#ec632b" d="M2199 3549l33-15-39-13-33 16z"/><path fill="#ee692c" d="M2126 3553l34-16-40-13-33 16z"/><path fill="#f06f2d" d="M2053 3557l34-17-39-13-34 16z"/><path fill="#f9d649" d="M1175 3641l37-31-35-19-38 28z"/><path fill="#f3762f" d="M1980 3561l34-18-38-13-35 17z"/><path fill="#9ad982" d="M993 3760l37-60-34-28-38 58z"/><path fill="#fccd44" d="M1248 3630l37-29-35-20-38 29z"/><path fill="#f47c30" d="M1907 3565l34-18-38-14-35 18z"/><path fill="#f48231" d="M1833 3569l35-18-38-14-35 18z"/><path fill="#ffc440" d="M1321 3620l37-31-36-19-37 31z"/><path fill="#f58732" d="M1760 3573l35-18-37-14-35 18z"/><path fill="#f68c33" d="M1687 3577l36-18-38-15-35 18z"/><path fill="#ffb53c" d="M1394 3607l37-28-36-18-37 28z"/><path fill="#f79234" d="M1613 3582l37-20-37-14-36 18z"/><path fill="#ffa739" d="M1467 3597l37-26-37-16-36 24z"/><path fill="#fa9a36" d="M1540 3587l37-21-37-15-36 20z"/><path fill="#93d888" d="M698 3750l41-14-34-38-41 14z"/><path fill="#c4e064" d="M1065 3730l37-63-35-27-37 60z"/><path fill="#59b3cf" d="M882 3820l39-38-35-29-38 37z"/><path fill="#61bfbe" d="M955 3814l38-54-35-30-37 52z"/><path fill="#f03325" d="M2899 3533l30-14-43-13-30 15z"/><path fill="#5cb7c9" d="M808 3813l40-23-35-39-40 23z"/><path fill="#ef3725" d="M2826 3536l30-15-43-12-30 14z"/><path fill="#ee3b26" d="M2753 3539l30-16-42-11-31 14z"/><path fill="#ed4026" d="M2679 3542l31-16-42-12-31 15z"/><path fill="#e7e355" d="M1137 3693l38-52-36-22-37 48z"/><path fill="#ec4526" d="M2606 3545l31-16-41-12-32 15z"/><path fill="#ec4b27" d="M2533 3548l31-16-41-11-32 15z"/><path fill="#83d098" d="M1028 3793l37-63-35-30-37 60z"/><path fill="#eb5128" d="M2459 3551l32-15-41-12-32 15z"/><path fill="#eb5728" d="M2386 3555l32-16-40-12-33 16z"/><path fill="#ec5c29" d="M2313 3559l32-16-40-13-33 16z"/><path fill="#f6dc4c" d="M1210 3662l38-32-36-20-37 31z"/><path fill="#ee632b" d="M2239 3563l33-17-40-12-33 15z"/><path fill="#71c7ac" d="M733 3789l40-15-34-38-41 14z"/><path fill="#f0692c" d="M2166 3567l33-18-39-12-34 16z"/><path fill="#fad347" d="M1283 3649l38-29-36-19-37 29z"/><path fill="#f2702e" d="M2092 3571l34-18-39-13-34 17z"/><path fill="#f3772f" d="M2019 3575l34-18-39-14-34 18z"/><path fill="#fec942" d="M1357 3639l37-32-36-18-37 31z"/><path fill="#f37e30" d="M1945 3579l35-18-39-14-34 18z"/><path fill="#f48331" d="M1872 3583l35-18-39-14-35 18z"/><path fill="#ffbd3e" d="M1430 3627l37-30-36-18-37 28z"/><path fill="#f48832" d="M1798 3588l35-19-38-14-35 18z"/><path fill="#f58e33" d="M1724 3592l36-19-37-14-36 18z"/><path fill="#feac3a" d="M1504 3614l36-27-36-16-37 26z"/><path fill="#50a4e4" d="M917 3852l38-38-34-32-39 38z"/><path fill="#f79435" d="M1651 3597l36-20-37-15-37 20z"/><path fill="#fa9e37" d="M1577 3604l36-22-36-16-37 21z"/><path fill="#abd56e" d="M1100 3759l37-66-35-26-37 63z"/><path fill="#51a5e2" d="M842 3843l40-23-34-30-40 23z"/><path fill="#57afd4" d="M990 3848l38-55-35-33-38 54z"/><path fill="#5ab4cd" d="M767 3828l41-15-35-39-40 15z"/><path fill="#6ac0ac" d="M1063 3822l37-63-35-29-37 63z"/><path fill="#d7de58" d="M1173 3718l37-56-35-21-38 52z"/><path fill="#f03625" d="M2869 3549l30-16-43-12-30 15z"/><path fill="#ef3a26" d="M2795 3551l31-15-43-13-30 16z"/><path fill="#ee3e26" d="M2722 3554l31-15-43-13-31 16z"/><path fill="#ee4426" d="M2648 3557l31-15-42-13-31 16z"/><path fill="#ed4927" d="M2574 3561l32-16-42-13-31 16z"/><path fill="#f4e34f" d="M1245 3684l38-35-35-19-38 32z"/><path fill="#ed4f28" d="M2501 3564l32-16-42-12-32 15z"/><path fill="#ed5628" d="M2427 3568l32-17-41-12-32 16z"/><path fill="#f8d84a" d="M1319 3669l38-30-36-19-38 29z"/><path fill="#ee5c2a" d="M2353 3572l33-17-41-12-32 16z"/><path fill="#4b90ed" d="M952 3886l38-38-35-34-38 38z"/><path fill="#f0632b" d="M2279 3576l34-17-41-13-33 17z"/><path fill="#f16a2c" d="M2206 3581l33-18-40-14-33 18z"/><path fill="#fcce45" d="M1393 3658l37-31-36-20-37 32z"/><path fill="#f2712e" d="M2132 3585l34-18-40-14-34 18z"/><path fill="#f3782f" d="M2058 3589l34-18-39-14-34 18z"/><path fill="#96cd77" d="M1136 3786l37-68-36-25-37 66z"/><path fill="#4b94ed" d="M877 3876l40-24-35-32-40 23z"/><path fill="#4da0e9" d="M1025 3878l38-56-35-29-38 55z"/><path fill="#f37f30" d="M1984 3593l35-18-39-14-35 18z"/><path fill="#ffc340" d="M1467 3645l37-31-37-17-37 30z"/><path fill="#f38431" d="M1910 3598l35-19-38-14-35 18z"/><path fill="#f48a33" d="M1836 3602l36-19-39-14-35 19z"/><path fill="#feb23b" d="M1540 3632l37-28-37-17-36 27z"/><path fill="#f59034" d="M1762 3607l36-19-38-15-36 19z"/><path fill="#fba338" d="M1614 3621l37-24-38-15-36 22z"/><path fill="#f79735" d="M1688 3612l36-20-37-15-36 20z"/><path fill="#4ea2e7" d="M802 3859l40-16-34-30-41 15z"/><path fill="#5ab3bc" d="M1098 3850l38-64-36-27-37 63z"/><path fill="#cada5c" d="M1208 3743l37-59-35-22-37 56z"/><path fill="#f23a26" d="M2838 3565l31-16-43-13-31 15z"/><path fill="#487cf1" d="M987 3917l38-39-35-30-38 38z"/><path fill="#f13e26" d="M2765 3568l30-17-42-12-31 15z"/><path fill="#ede453" d="M1281 3707l38-38-36-20-38 35z"/><path fill="#f14327" d="M2691 3571l31-17-43-12-31 15z"/><path fill="#497ef1" d="M912 3910l40-24-35-34-40 24z"/><path fill="#f04927" d="M2617 3574l31-17-42-12-32 16z"/><path fill="#f6de4c" d="M1355 3688l38-30-36-19-38 30z"/><path fill="#f04f28" d="M2542 3578l32-17-41-13-32 16z"/><path fill="#4b90ed" d="M1061 3907l37-57-35-28-38 56z"/><path fill="#84c681" d="M1171 3813l37-70-35-25-37 68z"/><path fill="#f05629" d="M2468 3582l33-18-42-13-32 17z"/><path fill="#f05d2a" d="M2394 3586l33-18-41-13-33 17z"/><path fill="#f9d247" d="M1429 3676l38-31-37-18-37 31z"/><path fill="#f1642b" d="M2320 3590l33-18-40-13-34 17z"/><path fill="#f26b2d" d="M2246 3595l33-19-40-13-33 18z"/><path fill="#f2722e" d="M2172 3599l34-18-40-14-34 18z"/><path fill="#fcc641" d="M1503 3663l37-31-36-18-37 31z"/><path fill="#f2792f" d="M2098 3603l34-18-40-14-34 18z"/><path fill="#f38030" d="M2023 3608l35-19-39-14-35 18z"/><path fill="#4b8fee" d="M836 3891l41-15-35-33-40 16z"/><path fill="#f38532" d="M1949 3612l35-19-39-14-35 19z"/><path fill="#feb73c" d="M1578 3650l36-29-37-17-37 28z"/><path fill="#f48b33" d="M1875 3617l35-19-38-15-36 19z"/><path fill="#fca839" d="M1652 3638l36-26-37-15-37 24z"/><path fill="#f59234" d="M1800 3622l36-20-38-14-36 19z"/><path fill="#f89b36" d="M1726 3629l36-22-38-15-36 20z"/><path fill="#53a7c9" d="M1134 3877l37-64-35-27-38 64z"/><path fill="#bed961" d="M1244 3770l37-63-36-23-37 59z"/><path fill="#4a6aef" d="M1022 3945l39-38-36-29-38 39z"/><path fill="#4b69ef" d="M947 3941l40-24-35-31-40 24z"/><path fill="#e5e457" d="M1318 3731l37-43-36-19-38 38z"/><path fill="#487fed" d="M1096 3933l38-56-36-27-37 57z"/><path fill="#75be92" d="M1207 3840l37-70-36-27-37 70z"/><path fill="#f54027" d="M2808 3582l30-17-43-14-30 17z"/><path fill="#f2e04e" d="M1392 3707l37-31-36-18-38 30z"/><path fill="#f44527" d="M2733 3585l32-17-43-14-31 17z"/><path fill="#f34a28" d="M2659 3589l32-18-43-14-31 17z"/><path fill="#4879f2" d="M871 3926l41-16-35-34-41 15z"/><path fill="#f25128" d="M2585 3592l32-18-43-13-32 17z"/><path fill="#f5d448" d="M1466 3693l37-30-36-18-38 31z"/><path fill="#f15729" d="M2510 3596l32-18-41-14-33 18z"/><path fill="#f15e2a" d="M2436 3600l32-18-41-14-33 18z"/><path fill="#f1652b" d="M2361 3604l33-18-41-14-33 18z"/><path fill="#fac943" d="M1541 3681l37-31-38-18-37 31z"/><path fill="#f16c2d" d="M2287 3609l33-19-41-14-33 19z"/><path fill="#f2732e" d="M2212 3613l34-18-40-14-34 18z"/><path fill="#f27a2f" d="M2138 3617l34-18-40-14-34 18z"/><path fill="#febe3e" d="M1615 3668l37-30-38-17-36 29z"/><path fill="#f28131" d="M2063 3622l35-19-40-14-35 19z"/><path fill="#4d9ed9" d="M1170 3904l37-64-36-27-37 64z"/><path fill="#f38632" d="M1988 3627l35-19-39-15-35 19z"/><path fill="#fdad3a" d="M1690 3656l36-27-38-17-36 26z"/><path fill="#f48d33" d="M1914 3632l35-20-39-14-35 19z"/><path fill="#f69435" d="M1839 3637l36-20-39-15-36 20z"/><path fill="#f99f37" d="M1764 3646l36-24-38-15-36 22z"/><path fill="#acd36a" d="M1280 3796l38-65-37-24-37 63z"/><path fill="#4e5beb" d="M1057 3971l39-38-35-26-39 38z"/><path fill="#4f57e9" d="M982 3969l40-24-35-28-40 24z"/><path fill="#4872f0" d="M1132 3961l38-57-36-27-38 56z"/><path fill="#d9e059" d="M1354 3754l38-47-37-19-37 43z"/><path fill="#64b5a1" d="M1243 3867l37-71-36-26-37 70z"/><path fill="#4c64ed" d="M907 3957l40-16-35-31-41 16z"/><path fill="#eee14f" d="M1429 3725l37-32-37-17-37 31z"/><path fill="#f54728" d="M2777 3600l31-18-43-14-32 17z"/><path fill="#f44c28" d="M2702 3603l31-18-42-14-32 18z"/><path fill="#f3d74a" d="M1503 3711l38-30-38-18-37 30z"/><path fill="#f35229" d="M2627 3606l32-17-42-15-32 18z"/><path fill="#f25829" d="M2552 3610l33-18-43-14-32 18z"/><path fill="#4891df" d="M1206 3931l37-64-36-27-37 64z"/><path fill="#f8cc44" d="M1578 3699l37-31-37-18-37 31z"/><path fill="#f15f2a" d="M2478 3614l32-18-42-14-32 18z"/><path fill="#f1652c" d="M2403 3618l33-18-42-14-33 18z"/><path fill="#f16c2d" d="M2328 3623l33-19-41-14-33 19z"/><path fill="#fdc33f" d="M1653 3686l37-30-38-18-37 30z"/><path fill="#f1732e" d="M2253 3627l34-18-41-14-34 18z"/><path fill="#f27b30" d="M2178 3632l34-19-40-14-34 18z"/><path fill="#f28131" d="M2103 3637l35-20-40-14-35 19z"/><path fill="#9bcb70" d="M1317 3820l37-66-36-23-38 65z"/><path fill="#fdb33b" d="M1728 3673l36-27-38-17-36 27z"/><path fill="#f38832" d="M2028 3641l35-19-40-14-35 19z"/><path fill="#f48f34" d="M1953 3647l35-20-39-15-35 20z"/><path fill="#fba438" d="M1803 3663l36-26-39-15-36 24z"/><path fill="#f79836" d="M1878 3654l36-22-39-15-36 20z"/><path fill="#524ce6" d="M1093 3998l39-37-36-28-39 38z"/><path fill="#5348e5" d="M1018 3995l39-24-35-26-40 24z"/><path fill="#4a62e9" d="M1168 3987l38-56-36-27-38 57z"/><path fill="#5052e8" d="M942 3985l40-16-35-28-40 16z"/><path fill="#56aaab" d="M1280 3890l37-70-37-24-37 71z"/><path fill="#cddb5a" d="M1391 3777l38-52-37-18-38 47z"/><path fill="#eae152" d="M1466 3744l37-33-37-18-37 32z"/><path fill="#4582da" d="M1242 3953l38-63-37-23-37 64z"/><path fill="#f1da4b" d="M1541 3728l37-29-37-18-38 30z"/><path fill="#f44e28" d="M2745 3617l32-17-44-15-31 18z"/><path fill="#f25329" d="M2670 3621l32-18-43-14-32 17z"/><path fill="#f6d046" d="M1616 3716l37-30-38-18-37 31z"/><path fill="#f15929" d="M2595 3624l32-18-42-14-33 18z"/><path fill="#f15f2a" d="M2520 3628l32-18-42-14-32 18z"/><path fill="#8ec675" d="M1354 3843l37-66-37-23-37 66z"/><path fill="#fbc641" d="M1691 3704l37-31-38-17-37 30z"/><path fill="#f1662c" d="M2445 3632l33-18-42-14-33 18z"/><path fill="#f16d2d" d="M2369 3637l34-19-42-14-33 19z"/><path fill="#f2742e" d="M2294 3642l34-19-41-14-34 18z"/><path fill="#5c3ddc" d="M1129 4024l39-37-36-26-39 37z"/><path fill="#fdb83d" d="M1767 3691l36-28-39-17-36 27z"/><path fill="#f27c30" d="M2219 3646l34-19-41-14-34 19z"/><path fill="#6039d9" d="M1053 4022l40-24-36-27-39 24z"/><path fill="#f38231" d="M2143 3651l35-19-40-15-35 20z"/><path fill="#fca939" d="M1842 3680l36-26-39-17-36 26z"/><path fill="#f38932" d="M2068 3656l35-19-40-15-35 19z"/><path fill="#f59134" d="M1993 3663l35-22-40-14-35 20z"/><path fill="#f99c37" d="M1917 3671l36-24-39-15-36 22z"/><path fill="#5644e2" d="M977 4011l41-16-36-26-40 16z"/><path fill="#4a54dc" d="M1204 4009l38-56-36-22-38 56z"/><path fill="#51a2b2" d="M1316 3912l38-69-37-23-37 70z"/><path fill="#c4d85c" d="M1428 3799l38-55-37-19-38 52z"/><path fill="#e6e254" d="M1503 3764l38-36-38-17-37 33z"/><path fill="#4379d9" d="M1278 3974l38-62-36-22-38 63z"/><path fill="#efdc4d" d="M1579 3746l37-30-38-17-37 29z"/><path fill="#f5d348" d="M1654 3734l37-30-38-18-37 30z"/><path fill="#83c37d" d="M1391 3866l37-67-37-22-37 66z"/><path fill="#f35529" d="M2713 3635l32-18-43-14-32 18z"/><path fill="#f25a2a" d="M2638 3639l32-18-43-15-32 18z"/><path fill="#6f2bcc" d="M1089 4047l40-23-36-26-40 24z"/><path fill="#f9c943" d="M1730 3722l37-31-39-18-37 31z"/><path fill="#6632d4" d="M1165 4044l39-35-36-22-39 37z"/><path fill="#f2602b" d="M2562 3643l33-19-43-14-32 18z"/><path fill="#f2672c" d="M2487 3647l33-19-42-14-33 18z"/><path fill="#febf3e" d="M1806 3710l36-30-39-17-36 28z"/><path fill="#f26e2d" d="M2411 3651l34-19-42-14-34 19z"/><path fill="#f2752e" d="M2336 3656l33-19-41-14-34 19z"/><path fill="#f27d30" d="M2260 3661l34-19-41-15-34 19z"/><path fill="#fdaf3b" d="M1881 3698l36-27-39-17-36 26z"/><path fill="#f38431" d="M2184 3666l35-20-41-14-35 19z"/><path fill="#fba138" d="M1957 3688l36-25-40-16-36 24z"/><path fill="#f48b33" d="M2109 3672l34-21-40-14-35 19z"/><path fill="#f89535" d="M2033 3679l35-23-40-15-35 22z"/><path fill="#6434d6" d="M1013 4038l40-16-35-27-41 16z"/><path fill="#4a4cd5" d="M1240 4028l38-54-36-21-38 56z"/><path fill="#4e9ebb" d="M1353 3934l38-68-37-23-38 69z"/><path fill="#bbd65f" d="M1466 3822l37-58-37-20-38 55z"/><path fill="#e1e256" d="M1541 3785l38-39-38-18-38 36z"/><path fill="#4273db" d="M1315 3994l38-60-37-22-38 62z"/><path fill="#eede4e" d="M1617 3764l37-30-38-18-37 30z"/><path fill="#78bd87" d="M1428 3890l38-68-38-23-37 67z"/><path fill="#f3d549" d="M1693 3751l37-29-39-18-37 30z"/><path fill="#7b24bf" d="M1125 4067l40-23-36-20-40 23z"/><path fill="#682bc8" d="M1201 4062l39-34-36-19-39 35z"/><path fill="#f8cc44" d="M1769 3740l37-30-39-19-37 31z"/><path fill="#f35c2a" d="M2681 3654l32-19-43-14-32 18z"/><path fill="#f2622b" d="M2605 3658l33-19-43-15-33 19z"/><path fill="#fdc340" d="M1845 3728l36-30-39-18-36 30z"/><path fill="#7428c7" d="M1049 4064l40-17-36-25-40 16z"/><path fill="#f2682c" d="M2529 3662l33-19-42-15-33 19z"/><path fill="#f26f2d" d="M2454 3666l33-19-42-15-34 19z"/><path fill="#fdb43c" d="M1921 3716l36-28-40-17-36 27z"/><path fill="#f3762f" d="M2378 3671l33-20-42-14-33 19z"/><path fill="#f37e30" d="M2302 3676l34-20-42-14-34 19z"/><path fill="#fca639" d="M1997 3706l36-27-40-16-36 25z"/><path fill="#f48632" d="M2225 3682l35-21-41-15-35 20z"/><path fill="#fa9936" d="M2073 3697l36-25-41-16-35 23z"/><path fill="#f78e34" d="M2149 3689l35-23-41-15-34 21z"/><path fill="#4b99c4" d="M1390 3955l38-65-37-24-38 68z"/><path fill="#4b48d5" d="M1277 4047l38-53-37-20-38 54z"/><path fill="#b1d365" d="M1504 3845l37-60-38-21-37 58z"/><path fill="#dbe159" d="M1579 3807l38-43-38-18-38 39z"/><path fill="#426edd" d="M1352 4015l38-60-37-21-38 60z"/><path fill="#6eb891" d="M1466 3912l38-67-38-23-38 68z"/><path fill="#ebe04f" d="M1655 3782l38-31-39-17-37 30z"/><path fill="#f1d84a" d="M1732 3769l37-29-39-18-37 29z"/><path fill="#7b20b2" d="M1161 4085l40-23-36-18-40 23z"/><path fill="#f6cf46" d="M1808 3758l37-30-39-18-37 30z"/><path fill="#6b29c4" d="M1238 4080l39-33-37-19-39 34z"/><path fill="#7d21b5" d="M1085 4084l40-17-36-20-40 17z"/><path fill="#fbc641" d="M1885 3747l36-31-40-18-36 30z"/><path fill="#f3632b" d="M2649 3673l32-19-43-15-33 19z"/><path fill="#febb3d" d="M1961 3735l36-29-40-18-36 28z"/><path fill="#f36a2d" d="M2573 3677l32-19-43-15-33 19z"/><path fill="#f3712e" d="M2496 3681l33-19-42-15-33 19z"/><path fill="#fdac3a" d="M2038 3724l35-27-40-18-36 27z"/><path fill="#f4782f" d="M2420 3686l34-20-43-15-33 20z"/><path fill="#4895cd" d="M1428 3977l38-65-38-22-38 65z"/><path fill="#fc9f37" d="M2114 3715l35-26-40-17-36 25z"/><path fill="#f58131" d="M2343 3692l35-21-42-15-34 20z"/><path fill="#f78933" d="M2267 3698l35-22-42-15-35 21z"/><path fill="#fa9335" d="M2191 3706l34-24-41-16-35 23z"/><path fill="#4c44d4" d="M1314 4065l38-50-37-21-38 53z"/><path fill="#a7d16b" d="M1542 3868l37-61-38-22-37 60z"/><path fill="#d3df5b" d="M1618 3830l37-48-38-18-38 43z"/><path fill="#4269dd" d="M1390 4035l38-58-38-22-38 60z"/><path fill="#65b39b" d="M1504 3935l38-67-38-23-38 67z"/><path fill="#e9e152" d="M1694 3802l38-33-39-18-38 31z"/><path fill="#efda4b" d="M1771 3787l37-29-39-18-37 29z"/><path fill="#7d1faf" d="M1198 4103l40-23-37-18-40 23z"/><path fill="#f4d247" d="M1848 3775l37-28-40-19-37 30z"/><path fill="#6e27bf" d="M1275 4098l39-33-37-18-39 33z"/><path fill="#7d1daa" d="M1121 4102l40-17-36-18-40 17z"/><path fill="#f9c943" d="M1925 3765l36-30-40-19-36 31z"/><path fill="#fec13e" d="M2001 3754l37-30-41-18-36 29z"/><path fill="#4691d4" d="M1466 3998l38-63-38-23-38 65z"/><path fill="#f56c2d" d="M2616 3693l33-20-44-15-32 19z"/><path fill="#feb23b" d="M2078 3743l36-28-41-18-35 27z"/><path fill="#f5742f" d="M2539 3697l34-20-44-15-33 19z"/><path fill="#fea539" d="M2155 3733l36-27-42-17-35 26z"/><path fill="#f77c30" d="M2463 3703l33-22-42-15-34 20z"/><path fill="#9dcf72" d="M1580 3892l38-62-39-23-37 61z"/><path fill="#fc9936" d="M2232 3724l35-26-42-16-34 24z"/><path fill="#f88532" d="M2386 3709l34-23-42-15-35 21z"/><path fill="#fa8e34" d="M2309 3716l34-24-41-16-35 22z"/><path fill="#4f40d3" d="M1351 4083l39-48-38-20-38 50z"/><path fill="#cbdd5d" d="M1657 3854l37-52-39-20-37 48z"/><path fill="#4364dc" d="M1428 4055l38-57-38-21-38 58z"/><path fill="#5db0a6" d="M1542 3957l38-65-38-24-38 67z"/><path fill="#e6e254" d="M1734 3823l37-36-39-18-38 33z"/><path fill="#eedc4d" d="M1811 3805l37-30-40-17-37 29z"/><path fill="#f2d448" d="M1888 3793l37-28-40-18-37 28z"/><path fill="#7e1eab" d="M1235 4120l40-22-37-18-40 23z"/><path fill="#7026bc" d="M1312 4115l39-32-37-18-39 33z"/><path fill="#f8cc44" d="M1965 3783l36-29-40-19-36 30z"/><path fill="#7e1ca7" d="M1158 4120l40-17-37-18-40 17z"/><path fill="#fcc440" d="M2042 3773l36-30-40-19-37 30z"/><path fill="#458bd7" d="M1504 4019l38-62-38-22-38 63z"/><path fill="#92cd79" d="M1619 3916l38-62-39-24-38 62z"/><path fill="#ffb93d" d="M2119 3762l36-29-41-18-36 28z"/><path fill="#feab3a" d="M2197 3752l35-28-41-18-36 27z"/><path fill="#fa7930" d="M2583 3715l33-22-43-16-34 20z"/><path fill="#fe9f38" d="M2274 3743l35-27-42-18-35 26z"/><path fill="#fb8232" d="M2506 3721l33-24-43-16-33 22z"/><path fill="#fe9436" d="M2351 3735l35-26-43-17-34 24z"/><path fill="#fc8b34" d="M2428 3727l35-24-43-17-34 23z"/><path fill="#523dd1" d="M1389 4101l39-46-38-20-39 48z"/><path fill="#c3db60" d="M1696 3878l38-55-40-21-37 52z"/><path fill="#57acb1" d="M1581 3980l38-64-39-24-38 65z"/><path fill="#4560dc" d="M1466 4074l38-55-38-21-38 57z"/><path fill="#e2e357" d="M1773 3845l38-40-40-18-37 36z"/><path fill="#eee04e" d="M1851 3824l37-31-40-18-37 30z"/><path fill="#f1d64a" d="M1928 3811l37-28-40-18-37 28z"/><path fill="#7f1da9" d="M1272 4137l40-22-37-17-40 22z"/><path fill="#f6cf46" d="M2006 3801l36-28-41-19-36 29z"/><path fill="#7125b9" d="M1350 4132l39-31-38-18-39 32z"/><path fill="#4586d9" d="M1543 4040l38-60-39-23-38 62z"/><path fill="#87c982" d="M1658 3940l38-62-39-24-38 62z"/><path fill="#7f1ba4" d="M1194 4137l41-17-37-17-40 17z"/><path fill="#fbc842" d="M2083 3791l36-29-41-19-36 30z"/><path fill="#ffbf3e" d="M2161 3781l36-29-42-19-36 29z"/><path fill="#ffb23c" d="M2239 3771l35-28-42-19-35 28z"/><path fill="#ffa639" d="M2316 3762l35-27-42-19-35 27z"/><path fill="#ff8934" d="M2549 3740l34-25-44-18-33 24z"/><path fill="#ff9b37" d="M2394 3754l34-27-42-18-35 26z"/><path fill="#ff9235" d="M2471 3747l35-26-43-18-35 24z"/><path fill="#563bd0" d="M1427 4119l39-45-38-19-39 46z"/><path fill="#b9d966" d="M1736 3901l37-56-39-22-38 55z"/><path fill="#54a8bb" d="M1620 4003l38-63-39-24-38 64z"/><path fill="#465bdb" d="M1504 4094l39-54-39-21-38 55z"/><path fill="#dbe25a" d="M1813 3869l38-45-40-19-38 40z"/><path fill="#ece251" d="M1891 3844l37-33-40-18-37 31z"/><path fill="#f0d94b" d="M1969 3830l37-29-41-18-37 28z"/><path fill="#7cc38d" d="M1698 3964l38-63-40-23-38 62z"/><path fill="#f4d147" d="M2047 3819l36-28-41-18-36 28z"/><path fill="#4581dc" d="M1582 4061l38-58-39-23-38 60z"/><path fill="#7e1ca7" d="M1310 4154l40-22-38-17-40 22z"/><path fill="#f9ca43" d="M2125 3809l36-28-42-19-36 29z"/><path fill="#7324b8" d="M1388 4150l39-31-38-18-39 31z"/><path fill="#7f1ba3" d="M1232 4154l40-17-37-17-41 17z"/><path fill="#fec440" d="M2203 3800l36-29-42-19-36 29z"/><path fill="#ffb93d" d="M2281 3791l35-29-42-19-35 28z"/><path fill="#ffae3b" d="M2359 3782l35-28-43-19-35 27z"/><path fill="#ffa339" d="M2437 3773l34-26-43-20-34 27z"/><path fill="#ff9937" d="M2515 3766l34-26-43-19-35 26z"/><path fill="#5938cf" d="M1465 4137l39-43-38-20-39 45z"/><path fill="#aed86d" d="M1776 3926l37-57-40-24-37 56z"/><path fill="#51a3c5" d="M1659 4026l39-62-40-24-38 63z"/><path fill="#4857da" d="M1543 4114l39-53-39-21-39 54z"/><path fill="#d3e15c" d="M1854 3894l37-50-40-20-38 45z"/><path fill="#e9e454" d="M1932 3866l37-36-41-19-37 33z"/><path fill="#72be98" d="M1737 3989l39-63-40-25-38 63z"/><path fill="#efdc4d" d="M2010 3849l37-30-41-18-37 29z"/><path fill="#457ddf" d="M1621 4082l38-56-39-23-38 58z"/><path fill="#f2d348" d="M2089 3838l36-29-42-18-36 28z"/><path fill="#f6cc45" d="M2167 3828l36-28-42-19-36 28z"/><path fill="#7e1ca7" d="M1348 4171l40-21-38-18-40 22z"/><path fill="#fbc741" d="M2245 3819l36-28-42-20-36 29z"/><path fill="#7423b6" d="M1426 4167l39-30-38-18-39 31z"/><path fill="#ffc13e" d="M2324 3810l35-28-43-20-35 29z"/><path fill="#7f1aa1" d="M1269 4172l41-18-38-17-40 17z"/><path fill="#ffb53c" d="M2402 3802l35-29-43-19-35 28z"/><path fill="#ffab3a" d="M2480 3794l35-28-44-19-34 26z"/><path fill="#5c35ce" d="M1504 4155l39-41-39-20-39 43z"/><path fill="#a3d675" d="M1816 3951l38-57-41-25-37 57z"/><path fill="#4e9fce" d="M1699 4048l38-59-39-25-39 62z"/><path fill="#4953da" d="M1582 4134l39-52-39-21-39 53z"/><path fill="#cbe060" d="M1894 3919l38-53-41-22-37 50z"/><path fill="#67baa4" d="M1778 4013l38-62-40-25-39 63z"/><path fill="#e5e457" d="M1973 3890l37-41-41-19-37 36z"/><path fill="#4478e2" d="M1661 4103l38-55-40-22-38 56z"/><path fill="#f0e14f" d="M2052 3870l37-32-42-19-37 30z"/><path fill="#f1d64a" d="M2131 3857l36-29-42-19-36 29z"/><path fill="#f5cf46" d="M2209 3846l36-27-42-19-36 28z"/><path fill="#f9c943" d="M2288 3837l36-27-43-19-36 28z"/><path fill="#fec440" d="M2367 3829l35-27-43-20-35 28z"/><path fill="#7f1ca6" d="M1386 4188l40-21-38-17-40 21z"/><path fill="#ffbd3e" d="M2446 3822l34-28-43-21-35 29z"/><path fill="#7523b5" d="M1465 4185l39-30-39-18-39 30z"/><path fill="#7f1aa1" d="M1307 4189l41-18-38-17-41 18z"/><path fill="#97d37e" d="M1856 3977l38-58-40-25-38 57z"/><path fill="#5e33cd" d="M1544 4173l38-39-39-20-39 41z"/><path fill="#4b9ad7" d="M1739 4071l39-58-41-24-38 59z"/><path fill="#c1df66" d="M1935 3944l38-54-41-24-38 53z"/><path fill="#4a50da" d="M1622 4154l39-51-40-21-39 52z"/><path fill="#5db6b1" d="M1818 4037l38-60-40-26-38 62z"/><path fill="#dee45a" d="M2015 3916l37-46-42-21-37 41z"/><path fill="#4473e5" d="M1701 4125l38-54-40-23-38 55z"/><path fill="#efe452" d="M2094 3892l37-35-42-19-37 32z"/><path fill="#f2db4c" d="M2173 3877l36-31-42-18-36 29z"/><path fill="#f4d247" d="M2252 3866l36-29-43-18-36 27z"/><path fill="#f7cb44" d="M2331 3856l36-27-43-19-36 27z"/><path fill="#fbc641" d="M2410 3848l36-26-44-20-35 27z"/><path fill="#8acf87" d="M1897 4003l38-59-41-25-38 58z"/><path fill="#7f1ca6" d="M1425 4206l40-21-39-18-40 21z"/><path fill="#7622b4" d="M1504 4202l40-29-40-18-39 30z"/><path fill="#7f1aa1" d="M1346 4206l40-18-38-17-41 18z"/><path fill="#4995de" d="M1780 4094l38-57-40-24-39 58z"/><path fill="#6131cb" d="M1583 4191l39-37-40-20-38 39z"/><path fill="#b6de6e" d="M1977 3970l38-54-42-26-38 54z"/><path fill="#4c4cda" d="M1662 4174l39-49-40-22-39 51z"/><path fill="#59b1bd" d="M1859 4061l38-58-41-26-38 60z"/><path fill="#d6e45e" d="M2056 3942l38-50-42-22-37 46z"/><path fill="#446ee6" d="M1741 4146l39-52-41-23-38 54z"/><path fill="#e9e455" d="M2136 3917l37-40-42-20-37 35z"/><path fill="#f3e14e" d="M2216 3898l36-32-43-20-36 31z"/><path fill="#7ec994" d="M1939 4029l38-59-42-26-38 59z"/><path fill="#f4d649" d="M2295 3886l36-30-43-19-36 29z"/><path fill="#f6cf46" d="M2375 3876l35-28-43-19-36 27z"/><path fill="#7f1ba5" d="M1464 4223l40-21-39-17-40 21z"/><path fill="#7622b3" d="M1544 4220l39-29-39-18-40 29z"/><path fill="#488fe1" d="M1821 4117l38-56-41-24-38 57z"/><path fill="#7f1aa1" d="M1385 4224l40-18-39-18-40 18z"/><path fill="#632ec9" d="M1623 4209l39-35-40-20-39 37z"/><path fill="#a9dc78" d="M2019 3996l37-54-41-26-38 54z"/><path fill="#4d49da" d="M1703 4194l38-48-40-21-39 49z"/><path fill="#56acc8" d="M1901 4086l38-57-42-26-38 58z"/><path fill="#cde463" d="M2099 3968l37-51-42-25-38 50z"/><path fill="#e1e459" d="M2179 3944l37-46-43-21-37 40z"/><path fill="#4668e5" d="M1782 4168l39-51-41-23-39 52z"/><path fill="#72c3a2" d="M1981 4055l38-59-42-26-38 59z"/><path fill="#f0e451" d="M2259 3923l36-37-43-20-36 32z"/><path fill="#f6dd4c" d="M2339 3908l36-32-44-20-36 30z"/><path fill="#4889e4" d="M1862 4139l39-53-42-25-38 56z"/><path fill="#7e1ba5" d="M1504 4241l40-21-40-18-40 21z"/><path fill="#7721b2" d="M1584 4238l39-29-40-18-39 29z"/><path fill="#9bd981" d="M2061 4024l38-56-43-26-37 54z"/><path fill="#7f1aa2" d="M1424 4242l40-19-39-17-40 18z"/><path fill="#642cc8" d="M1664 4228l39-34-41-20-39 35z"/><path fill="#52a6d3" d="M1942 4110l39-55-42-26-38 57z"/><path fill="#bfe26b" d="M2141 3995l38-51-43-27-37 51z"/><path fill="#4e45da" d="M1743 4213l39-45-41-22-38 48z"/><path fill="#d8e45d" d="M2222 3971l37-48-43-25-37 46z"/><path fill="#4763e4" d="M1824 4190l38-51-41-22-39 51z"/><path fill="#66bfb1" d="M2023 4080l38-56-42-28-38 59z"/><path fill="#e9e455" d="M2302 3950l37-42-44-22-36 37z"/><path fill="#4783e7" d="M1904 4162l38-52-41-24-39 53z"/><path fill="#8dd48c" d="M2103 4051l38-56-42-27-38 56z"/><path fill="#7821b1" d="M1624 4256l40-28-41-19-39 29z"/><path fill="#7e1ba5" d="M1544 4259l40-21-40-18-40 21z"/><path fill="#7f1aa2" d="M1463 4260l41-19-40-18-40 19z"/><path fill="#662bc5" d="M1704 4246l39-33-40-19-39 34z"/><path fill="#b0df75" d="M2184 4023l38-52-43-27-38 51z"/><path fill="#4ea0dc" d="M1984 4134l39-54-42-25-39 55z"/><path fill="#5142d8" d="M1785 4233l39-43-42-22-39 45z"/><path fill="#cde463" d="M2265 3999l37-49-43-27-37 48z"/><path fill="#5eb9bf" d="M2065 4106l38-55-42-27-38 56z"/><path fill="#495ee3" d="M1865 4211l39-49-42-23-38 51z"/><path fill="#7fce9c" d="M2146 4079l38-56-43-28-38 56z"/><path fill="#477de9" d="M1946 4185l38-51-42-24-38 52z"/><path fill="#a1dc7f" d="M2227 4052l38-53-43-28-38 52z"/><path fill="#7820b0" d="M1665 4274l39-28-40-18-40 28z"/><path fill="#7e1ba4" d="M1584 4277l40-21-40-18-40 21z"/><path fill="#4b9be5" d="M2027 4159l38-53-42-26-39 54z"/><path fill="#682ac3" d="M1746 4265l39-32-42-20-39 33z"/><path fill="#7f1aa2" d="M1503 4278l41-19-40-18-41 19z"/><path fill="#553fd6" d="M1826 4252l39-41-41-21-39 43z"/><path fill="#59b3cb" d="M2108 4132l38-53-43-28-38 55z"/><path fill="#4a59e2" d="M1907 4233l39-48-42-23-39 49z"/><path fill="#71c7ac" d="M2190 4106l37-54-43-29-38 56z"/><path fill="#4677ec" d="M1988 4208l39-49-43-25-38 51z"/><path fill="#4a93e8" d="M2070 4183l38-51-43-26-38 53z"/><path fill="#7920af" d="M1706 4292l40-27-42-19-39 28z"/><path fill="#7e1ba4" d="M1625 4295l40-21-41-18-40 21z"/><path fill="#6a29c1" d="M1787 4284l39-32-41-19-39 32z"/><path fill="#7e1aa2" d="M1544 4296l40-19-40-18-41 19z"/><path fill="#583bd4" d="M1868 4272l39-39-42-22-39 41z"/><path fill="#55acd7" d="M2151 4158l39-52-44-27-38 53z"/><path fill="#4c54e1" d="M1950 4255l38-47-42-23-39 48z"/><path fill="#4671ed" d="M2031 4231l39-48-43-24-39 49z"/><path fill="#4a8ceb" d="M2113 4207l38-49-43-26-38 51z"/><path fill="#7920af" d="M1748 4311l39-27-41-19-40 27z"/><path fill="#7e1ba4" d="M1666 4314l40-22-41-18-40 21z"/><path fill="#6b28bf" d="M1829 4303l39-31-42-20-39 32z"/><path fill="#7e1aa2" d="M1585 4315l40-20-41-18-40 19z"/><path fill="#5b39d2" d="M1911 4291l39-36-43-22-39 39z"/><path fill="#4d50e1" d="M1993 4276l38-45-43-23-38 47z"/><path fill="#486aeb" d="M2075 4254l38-47-43-24-39 48z"/><path fill="#791fae" d="M1790 4330l39-27-42-19-39 27z"/><path fill="#7e1ba4" d="M1708 4332l40-21-42-19-40 22z"/><path fill="#6c27be" d="M1872 4322l39-31-43-19-39 31z"/><path fill="#7e1ba2" d="M1626 4334l40-20-41-19-40 20z"/><path fill="#5d36d0" d="M1954 4311l39-35-43-21-39 36z"/><path fill="#4f4ce0" d="M2036 4297l39-43-44-23-38 45z"/><path fill="#791fad" d="M1833 4348l39-26-43-19-39 27z"/><path fill="#7d1ba4" d="M1750 4351l40-21-42-19-40 21z"/><path fill="#6d26bc" d="M1915 4342l39-31-43-20-39 31z"/><path fill="#7e1ba2" d="M1668 4353l40-21-42-18-40 20z"/><path fill="#5f33ce" d="M1997 4331l39-34-43-21-39 35z"/><path fill="#791fad" d="M1876 4367l39-25-43-20-39 26z"/><path fill="#6e26bb" d="M1958 4361l39-30-43-20-39 31z"/><path fill="#7d1ca5" d="M1793 4370l40-22-43-18-40 21z"/><path fill="#7e1ba2" d="M1710 4372l40-21-42-19-40 21z"/><path fill="#791fac" d="M1919 4386l39-25-43-19-39 25z"/><path fill="#7d1ca5" d="M1836 4389l40-22-43-19-40 22z"/><path fill="#7e1ba3" d="M1753 4391l40-21-43-19-40 21z"/><path fill="#7d1ca5" d="M1879 4409l40-23-43-19-40 22z"/><path fill="#7e1ba3" d="M1796 4411l40-22-43-19-40 21z"/><path fill="#7e1ba3" d="M1839 4431l40-22-43-20-40 22z"/></g></g>
<path fill="none" stroke="#a0a0a0" stroke-width=".6" d="M183.9 478L318.2 400.9M318.2 400.9L250.6 377.6M81 387.3L36.3 404.5M36.3 404.5L183.9 478M303.3 335.4L325.9 325.4M325.9 325.4L174.6 285.6M174.6 285.6L29.4 328M29.4 328L53.4 337.3M183.9 478L184.3 443M318.2 400.9L325.9 325.4M174.5 299.3L174.6 285.6M36.3 404.5L29.4 328"/>
<path fill="none" stroke="#777" stroke-opacity=".6" stroke-width=".6" d="M184.9 388L302.3 335.9M54.6 337.7L184.9 388M184.3 437.1L184.9 388"/>
<path fill="none" stroke="#d0d0d0" stroke-opacity=".35" stroke-width=".6" d="M184.3 442.3L184.3 437.8"/>
<path fill="none" stroke="#909090" stroke-width=".5" d="M187.4 476L183.8 474.2M180.1 476.1L183.4 474.2M202.8 467.1L200.8 466.2M163.3 467.7L165.1 466.8M217.6 458.7L215.6 457.8M147.2 459.7L149 458.8M231.7 450.5L229.8 449.7M131.8 452L133.6 451.1M245.3 442.8L243.3 442M116.9 444.6L118.8 443.8M258.2 435.3L254.7 433.9M102.6 437.5L106 436M270.7 428.2L268.8 427.4M88.9 430.7L90.7 429.9M282.7 421.3L280.8 420.6M75.7 424.1L77.5 423.3M294.2 414.7L292.3 414M63 417.8L64.8 417M305.2 408.4L303.4 407.7M50.7 411.7L52.5 410.9M315.9 402.2L312.5 401.1M38.8 405.7L42.1 404.5M30.7 342.6L34.1 341.5M33 367.7L36.3 366.6M35.2 392.1L38.5 390.9M35.7 398.1L37.5 397.4M34.6 386.1L36.5 385.4M34.1 380L35.9 379.4M33.5 373.9L35.4 373.3M32.4 361.5L34.3 360.9M31.8 355.3L33.7 354.7M31.3 348.9L33.2 348.3"/>
<path fill="none" stroke="#000" stroke-opacity=".42" stroke-width=".6" d="M193.9 437.4L162.6 423.5 133.6 410.2 118.8 403 114.5 400.5 104.4 393.1 100.2 389.7 96.7 386.6 91.8 381.8 86.9 377.7 76.6 366.5 63.7 351.1 59.1 346.4 55.2 343.3 53.3 342 47.1 339.3M173.1 438.2L182.7 432.9 186.7 430 191.4 426 194.5 422.4 200.7 414.5 212.2 397.9 218.2 390 220.4 387.8 222.6 386 239.6 372.6 243.8 369.7 247.8 367.2 268 355.8 280.9 349.5 307.8 336.9M203.6 429.7L183.9 419.8 154 403.8 139.5 395.8 126.2 387.9 121.8 384.8 108.9 375 101.2 368.4 96.3 364.7 81.4 351.7 72.8 344.7 68.9 342.1 64.5 339.5 57.1 336.3M162.6 433.4L171.5 428.7 175.4 425.9 179.3 422.5 182.4 418.8 187.9 411.7 193.3 403.8 198.6 395.6 202.4 390.3 204.7 387.5 208.4 384.2 224.9 371.1 228.4 368.7 232.5 366.2 251.8 355.6 263.7 349.8 297.6 334M213.2 418.3L187.7 403.2 165.1 389.2 145.9 377.6 105.7 354.6 83.7 341.3 74.8 336.7 66.8 333.2M152.4 428.7L160.4 424.7 163.6 422.4 167.5 419.1 170.7 415.5 175.3 409.2 180.7 401.1 186 392.6 189.1 388.2 191.3 385.3 195.8 381.3 211 369.3 217.4 365.3 235.6 355.3 287.6 331.2M222.7 405.2L213.2 398.9 201.4 391.5 194.7 387.5 189 384.3 181.7 380.8 150.8 366.5 119.9 350.6 99.7 340.7 88.1 335.3 76.2 330.3M142.4 424.2L147.2 421.9 150.4 420.2 153.6 417.9 156.8 415.1 159.1 412.3 164.5 404.7 172.9 391.1 178.3 383.3 179.8 381.7 182 379.7 192.3 371.4 198.1 367 203.8 363.6 220.3 354.8 255.7 338.7 277.8 328.5M232.1 392.7L227.7 390.2 221.6 387.3 198.2 376.8 165.9 362 106.3 336.1 85.5 327.4M132.7 419.8L139.9 416.3 143.1 414 146.2 411.2 148.6 408.3 153.2 401.6 161.6 387.5 164.6 382.8 166.9 379.8 170.7 376.4 179.6 369.3 185.4 364.9 193.2 360.3 206.4 353.5 240.6 338.4 268.2 325.8M241 384.8L230.6 380.2 217.1 374 199.9 366.5 162.3 352 94.5 324.6M123.2 415.4L128 413.3 130.4 412 132.8 410.3 136 407.5 138.3 404.5 142.1 398.7 145.9 392.4 150.5 384.2 153.5 379.4 155 377.3 156.5 375.8 158.8 373.8 167.7 366.6 172.9 362.7 180.1 358.6 192.7 352.2 228 337.1 258.8 323.1M249.8 378L236.8 372.1 227.5 368.3 149 339.8 128.1 331.8 103.3 321.8M113.9 411.1L120.4 408.2 122.8 406.5 125.9 403.7 128.2 400.6 132 394.7 139.6 381.1 142.6 376.1 144.1 374.1 147.9 370.7 155.4 364.5 160.5 360.6 165.6 357.6 179.1 350.8 216.2 335.4 249.6 320.6M258.3 371.5L250.4 368.4 236.8 363.7 210 354.4 178.2 343.9 161.1 338 139.4 329.9 112 319.1M104.9 406.4L108.9 404.7 111.3 403.5 113.7 401.7 116.1 399.6 118.4 396.5 121.4 391.8 125.2 385.1 128.9 378 131.9 372.9 133.4 370.9 135.7 368.7 143.9 361.9 149.1 357.9 155.7 354.3 167.1 348.7 205.2 333.4 240.6 318M266.5 366.3L236 356 199.9 344.9 176.5 337.3 151.8 328.5 120.4 316.5M95.9 399.8L101.6 397.4 104 395.7 106.4 393.7 108.7 390.9 111.7 386.2 119.2 372.9 121.4 369.2 122.9 367.1 125.2 365 133.4 358.4 138.6 354.6 145.3 351.2 155.3 346.5 194.3 331.4 210.5 324.7 231.7 315.6M274.5 361.7L255.7 355.5 212.6 342.9 188.3 335.3 161.4 326.1 128.7 313.9M87.1 392.6L92.8 390.2 95.2 388.6 97.6 386.6 99.1 384.7 102.9 379.1 108.8 368.9 112.6 363.3 115.6 360.6 123.1 354.9 127.6 351.8 133.5 348.8 143.7 344.2 183.7 329.3 201.2 322.3 223.1 313.1M282.3 357.4L267.7 352.9 222.8 340.2 199.9 333.3 171.4 323.8 136.8 311.4M78.5 384.4L84.2 382.1 88.1 379.3 89.7 377.7 92.7 373.7 99.4 363.4 101.7 360.2 103.2 358.4 112.3 351.8 117.5 348.5 123.5 345.7 132.2 341.9 173.9 326.9 191.5 320.1 214.6 310.8M289.9 353.3L237.5 338.8 210.6 330.9 180.6 321.3 144.7 308.9M69.8 375L74.7 373.2 77.1 371.9 79.5 370.2 84.1 365.3 90.2 357.5 93.2 354 94.7 352.9 102.3 348.1 107.6 345.1 121.6 339.2 164.2 324.4 182.5 317.6 206.3 308.4M297.3 349.7L248.9 336.5 219.7 328 189 318.6 152.4 306.5M61.3 364.6L66.2 362.9 70.2 360.8 74.9 357.1 81 351.3 84.1 348.7 92.5 344.2 97.8 341.6 111.9 336.3 140.1 327 159.9 320.1 198.2 306.2M304.5 346.3L258.6 333.7 227.9 325 197.2 315.8 160 304.2M52.8 354L57.7 352.4 61.8 350.8 75.2 343.4 87.5 338.5 100.9 333.9 146 319.2 190.2 303.9M311.5 343L235.9 321.9 167.4 301.8M44.6 346.2L74.2 336.6 134.2 317.6 182.3 301.7"/><g font-size="5.3" fill="#333" text-anchor="middle"><text x="23.0" y="347.2">0.0</text><text x="24.3" y="372.4">−0.2</text><text x="26.0" y="396.4">−0.4</text><text x="39.5" y="414.5">1.0</text><text x="103.5" y="446.8">0.5</text><text x="181.0" y="484.9">0.0</text><text x="189.0" y="484.9">0.0</text><text x="259.1" y="443.5">0.5</text><text x="317.2" y="410.0">1.0</text></g><text transform="translate(0.4 380.3) scale(.88 1)" font-size="14.3" font-style="italic" fill="#111">U<tspan font-size="10" dy="2">4</tspan></text><text x="103.5" y="468.5" font-size="14" text-anchor="middle" fill="#111">y</text><text x="258.4" y="466.5" font-size="14" text-anchor="middle" fill="#111">x</text>
<path fill="none" stroke="#000" stroke-width="1" d="M400.2 348.1 401.6 348.1 403 348.1 404.4 348.1 405.7 348.2 407.1 348.2 408.5 348.2 409.9 348.2 411.3 348.2 412.7 348.2 414.1 348.2 415.5 348.2 416.8 348.2 418.2 348.2 419.6 348.2 421 348.2 422.4 348.3 423.8 348.3 425.2 348.3 426.6 348.3 427.9 348.3 429.3 348.3 430.7 348.3 432.1 348.3 433.5 348.3 434.9 348.3 436.3 348.4 437.6 348.4 439 348.4 440.4 348.4 441.8 348.4 443.2 348.4 444.6 348.4 446 348.4 447.4 348.4 448.7 348.5 450.1 348.5 451.5 348.5 452.9 348.5 454.3 348.5 455.7 348.5 457.1 348.5 458.5 348.6 459.8 348.6 461.2 348.6 462.6 348.6 464 348.6 465.4 348.6 466.8 348.6 468.2 348.7 469.5 348.7 470.9 348.7 472.3 348.7 473.7 348.7 475.1 348.7 476.5 348.7 477.9 348.7 479.3 348.7 480.6 348.8 482 348.8 483.4 348.8 484.8 348.8 486.2 348.8 487.6 348.8 489 348.8 490.4 348.8 491.7 348.8 493.1 348.8 494.5 348.8 495.9 348.8 497.3 348.8 498.7 348.8 500.1 348.8 501.5 348.7 502.8 348.7 504.2 348.7 505.6 348.6 507 348.5 508.4 348.4 509.8 348.4 511.2 348.3 512.5 348.2 513.9 348.1 515.3 348 516.7 347.9 518.1 347.8 519.5 347.7 520.9 347.5 522.3 347.4 523.6 347.2 525 347.1 526.4 346.9 527.8 346.7 529.2 346.5 530.6 346.3 532 346.1 533.4 345.9 534.7 345.6 536.1 345.3 537.5 345.1 538.9 344.8 540.3 344.5 541.7 344.3 543.1 344 544.4 343.7 545.8 343.4 547.2 343.1 548.6 342.7 550 342.3 551.4 341.9 552.8 341.4 554.2 340.9 555.5 340.4 556.9 339.9 558.3 339.3 559.7 338.8 561.1 338.2 562.5 337.6 563.9 337 565.3 336.3 566.6 335.7 568 335 569.4 334.4 570.8 333.8 572.2 333.1 573.6 332.5 575 331.9 576.3 331.3 577.7 330.6 579.1 329.9 580.5 329.1 581.9 328.3 583.3 327.5 584.7 326.7 586.1 325.8 587.4 324.9 588.8 324 590.2 323.1 591.6 322.2 593 321.3 594.4 320.3 595.8 319.3 597.2 318.2 598.5 317.1 599.9 316 601.3 314.9 602.7 313.8 604.1 312.6 605.5 311.5 606.9 310.3 608.2 309.1 609.6 307.9 611 306.6 612.4 305.4 613.8 304.1 615.2 302.8 616.6 301.6 618 300.3 619.3 299 620.7 297.8 622.1 296.6 623.5 295.5 624.9 294.6 626.3 293.6 627.7 292.6 629.1 291.6 630.4 290.5 631.8 289.4 633.2 288.4 634.6 287.4 636 286.4 637.4 285.5 638.8 284.6 640.2 283.8 641.5 283 642.9 282.2 644.3 281.5 645.7 280.7 647.1 280 648.5 279.3 649.9 278.6 651.2 278 652.6 277.5 654 276.9 655.4 276.4 656.8 275.8 658.2 275.3 659.6 274.7 661 274.2 662.3 273.7 663.7 273.3 665.1 272.8 666.5 272.5 667.9 272.2 669.3 271.9 670.7 271.7 672.1 271.6 673.4 271.5 674.8 271.4 676.2 271.3 677.6 271.3"/>
<path fill="#000" d="M398.5 346.4h3.4v3.4h-3.4zM404 346.5h3.4v3.4h-3.4zM409.6 346.5h3.4v3.4h-3.4zM415.1 346.5h3.4v3.4h-3.4zM420.7 346.6h3.4v3.4h-3.4zM426.2 346.6h3.4v3.4h-3.4zM431.8 346.6h3.4v3.4h-3.4zM437.3 346.7h3.4v3.4h-3.4zM442.9 346.7h3.4v3.4h-3.4zM448.4 346.8h3.4v3.4h-3.4zM454 346.8h3.4v3.4h-3.4zM459.5 346.9h3.4v3.4h-3.4zM465.1 346.9h3.4v3.4h-3.4zM470.6 347h3.4v3.4h-3.4zM476.2 347h3.4v3.4h-3.4zM481.7 347.1h3.4v3.4h-3.4zM487.3 347.1h3.4v3.4h-3.4zM492.8 347.1h3.4v3.4h-3.4zM498.4 347.1h3.4v3.4h-3.4zM503.9 346.9h3.4v3.4h-3.4zM509.5 346.6h3.4v3.4h-3.4zM515 346.2h3.4v3.4h-3.4zM520.6 345.7h3.4v3.4h-3.4zM526.1 345h3.4v3.4h-3.4zM531.7 344.2h3.4v3.4h-3.4zM537.2 343.1h3.4v3.4h-3.4zM542.7 342h3.4v3.4h-3.4zM548.3 340.6h3.4v3.4h-3.4zM553.8 338.7h3.4v3.4h-3.4zM559.4 336.5h3.4v3.4h-3.4zM564.9 334h3.4v3.4h-3.4zM570.5 331.4h3.4v3.4h-3.4zM576 328.9h3.4v3.4h-3.4zM581.6 325.8h3.4v3.4h-3.4zM587.1 322.3h3.4v3.4h-3.4zM592.7 318.6h3.4v3.4h-3.4zM598.2 314.3h3.4v3.4h-3.4zM603.8 309.8h3.4v3.4h-3.4zM609.3 304.9h3.4v3.4h-3.4zM614.9 299.9h3.4v3.4h-3.4zM620.4 294.9h3.4v3.4h-3.4zM626 290.9h3.4v3.4h-3.4zM631.5 286.7h3.4v3.4h-3.4zM637.1 282.9h3.4v3.4h-3.4zM642.6 279.8h3.4v3.4h-3.4zM648.2 276.9h3.4v3.4h-3.4zM653.7 274.7h3.4v3.4h-3.4zM659.3 272.5h3.4v3.4h-3.4zM664.8 270.8h3.4v3.4h-3.4zM670.4 269.9h3.4v3.4h-3.4zM675.9 269.6h3.4v3.4h-3.4z"/>
<path fill="none" stroke="#f00" stroke-width="1" d="M400.2 379.2 401.6 379.2 403 379.2 404.4 379.2 405.7 379.1 407.1 379.1 408.5 379.1 409.9 379.1 411.3 379 412.7 379 414.1 378.9 415.5 378.9 416.8 378.9 418.2 378.8 419.6 378.8 421 378.7 422.4 378.7 423.8 378.6 425.2 378.6 426.6 378.5 427.9 378.4 429.3 378.3 430.7 378.2 432.1 378.1 433.5 378.1 434.9 378 436.3 377.9 437.6 377.8 439 377.7 440.4 377.5 441.8 377.4 443.2 377.3 444.6 377.2 446 377.1 447.4 376.9 448.7 376.8 450.1 376.6 451.5 376.5 452.9 376.3 454.3 376.1 455.7 376 457.1 375.8 458.5 375.6 459.8 375.4 461.2 375.2 462.6 374.9 464 374.7 465.4 374.4 466.8 374.2 468.2 373.9 469.5 373.6 470.9 373.4 472.3 373.1 473.7 372.8 475.1 372.4 476.5 372.1 477.9 371.7 479.3 371.4 480.6 371 482 370.7 483.4 370.3 484.8 370 486.2 369.7 487.6 369.3 489 369 490.4 368.6 491.7 368.3 493.1 367.9 494.5 367.5 495.9 367.1 497.3 366.7 498.7 366.2 500.1 365.8 501.5 365.3 502.8 364.9 504.2 364.4 505.6 363.9 507 363.4 508.4 362.9 509.8 362.4 511.2 361.8 512.5 361.3 513.9 360.7 515.3 360.2 516.7 359.6 518.1 359 519.5 358.5 520.9 357.9 522.3 357.3 523.6 356.7 525 356 526.4 355.4 527.8 354.8 529.2 354.2 530.6 353.5 532 352.9 533.4 352.2 534.7 351.6 536.1 350.9 537.5 350.2 538.9 349.5 540.3 348.8 541.7 348 543.1 347.2 544.4 346.4 545.8 345.6 547.2 344.7 548.6 343.9 550 343 551.4 342.2 552.8 341.3 554.2 340.4 555.5 339.5 556.9 338.6 558.3 337.7 559.7 336.7 561.1 335.8 562.5 334.9 563.9 333.9 565.3 333 566.6 332 568 331 569.4 330.1 570.8 329.1 572.2 328.1 573.6 327 575 326 576.3 324.9 577.7 323.9 579.1 322.8 580.5 321.7 581.9 320.6 583.3 319.5 584.7 318.4 586.1 317.2 587.4 316.1 588.8 315 590.2 313.8 591.6 312.7 593 311.5 594.4 310.4 595.8 309.3 597.2 308.1 598.5 307 599.9 305.9 601.3 304.8 602.7 303.7 604.1 302.6 605.5 301.6 606.9 300.5 608.2 299.5 609.6 298.6 611 297.6 612.4 296.7 613.8 295.7 615.2 294.8 616.6 293.9 618 293 619.3 292.1 620.7 291.2 622.1 290.4 623.5 289.5 624.9 288.7 626.3 287.9 627.7 287.1 629.1 286.3 630.4 285.6 631.8 284.9 633.2 284.2 634.6 283.5 636 282.9 637.4 282.2 638.8 281.6 640.2 281 641.5 280.4 642.9 279.8 644.3 279.3 645.7 278.7 647.1 278.2 648.5 277.7 649.9 277.2 651.2 276.7 652.6 276.2 654 275.8 655.4 275.3 656.8 274.9 658.2 274.5 659.6 274.1 661 273.7 662.3 273.4 663.7 273 665.1 272.7 666.5 272.4 667.9 272.2 669.3 272 670.7 271.8 672.1 271.7 673.4 271.5 674.8 271.4 676.2 271.3 677.6 271.3"/>
<path fill="#f00" d="M398.3 379.2a1.85 1.85 0 1 0 3.7 0a1.85 1.85 0 1 0-3.7 0zM403.9 379.1a1.85 1.85 0 1 0 3.7 0a1.85 1.85 0 1 0-3.7 0zM409.4 379a1.85 1.85 0 1 0 3.7 0a1.85 1.85 0 1 0-3.7 0zM415 378.9a1.85 1.85 0 1 0 3.7 0a1.85 1.85 0 1 0-3.7 0zM420.5 378.7a1.85 1.85 0 1 0 3.7 0a1.85 1.85 0 1 0-3.7 0zM426.1 378.4a1.85 1.85 0 1 0 3.7 0a1.85 1.85 0 1 0-3.7 0zM431.6 378.1a1.85 1.85 0 1 0 3.7 0a1.85 1.85 0 1 0-3.7 0zM437.2 377.7a1.85 1.85 0 1 0 3.7 0a1.85 1.85 0 1 0-3.7 0zM442.7 377.2a1.85 1.85 0 1 0 3.7 0a1.85 1.85 0 1 0-3.7 0zM448.3 376.6a1.85 1.85 0 1 0 3.7 0a1.85 1.85 0 1 0-3.7 0zM453.8 376a1.85 1.85 0 1 0 3.7 0a1.85 1.85 0 1 0-3.7 0zM459.4 375.2a1.85 1.85 0 1 0 3.7 0a1.85 1.85 0 1 0-3.7 0zM464.9 374.2a1.85 1.85 0 1 0 3.7 0a1.85 1.85 0 1 0-3.7 0zM470.5 373.1a1.85 1.85 0 1 0 3.7 0a1.85 1.85 0 1 0-3.7 0zM476 371.7a1.85 1.85 0 1 0 3.7 0a1.85 1.85 0 1 0-3.7 0zM481.6 370.3a1.85 1.85 0 1 0 3.7 0a1.85 1.85 0 1 0-3.7 0zM487.1 369a1.85 1.85 0 1 0 3.7 0a1.85 1.85 0 1 0-3.7 0zM492.7 367.5a1.85 1.85 0 1 0 3.7 0a1.85 1.85 0 1 0-3.7 0zM498.2 365.8a1.85 1.85 0 1 0 3.7 0a1.85 1.85 0 1 0-3.7 0zM503.8 363.9a1.85 1.85 0 1 0 3.7 0a1.85 1.85 0 1 0-3.7 0zM509.3 361.8a1.85 1.85 0 1 0 3.7 0a1.85 1.85 0 1 0-3.7 0zM514.9 359.6a1.85 1.85 0 1 0 3.7 0a1.85 1.85 0 1 0-3.7 0zM520.4 357.3a1.85 1.85 0 1 0 3.7 0a1.85 1.85 0 1 0-3.7 0zM526 354.8a1.85 1.85 0 1 0 3.7 0a1.85 1.85 0 1 0-3.7 0zM531.5 352.2a1.85 1.85 0 1 0 3.7 0a1.85 1.85 0 1 0-3.7 0zM537 349.5a1.85 1.85 0 1 0 3.7 0a1.85 1.85 0 1 0-3.7 0zM542.6 346.4a1.85 1.85 0 1 0 3.7 0a1.85 1.85 0 1 0-3.7 0zM548.1 343a1.85 1.85 0 1 0 3.7 0a1.85 1.85 0 1 0-3.7 0zM553.7 339.5a1.85 1.85 0 1 0 3.7 0a1.85 1.85 0 1 0-3.7 0zM559.2 335.8a1.85 1.85 0 1 0 3.7 0a1.85 1.85 0 1 0-3.7 0zM564.8 332a1.85 1.85 0 1 0 3.7 0a1.85 1.85 0 1 0-3.7 0zM570.3 328.1a1.85 1.85 0 1 0 3.7 0a1.85 1.85 0 1 0-3.7 0zM575.9 323.9a1.85 1.85 0 1 0 3.7 0a1.85 1.85 0 1 0-3.7 0zM581.4 319.5a1.85 1.85 0 1 0 3.7 0a1.85 1.85 0 1 0-3.7 0zM587 315a1.85 1.85 0 1 0 3.7 0a1.85 1.85 0 1 0-3.7 0zM592.5 310.4a1.85 1.85 0 1 0 3.7 0a1.85 1.85 0 1 0-3.7 0zM598.1 305.9a1.85 1.85 0 1 0 3.7 0a1.85 1.85 0 1 0-3.7 0zM603.6 301.6a1.85 1.85 0 1 0 3.7 0a1.85 1.85 0 1 0-3.7 0zM609.2 297.6a1.85 1.85 0 1 0 3.7 0a1.85 1.85 0 1 0-3.7 0zM614.7 293.9a1.85 1.85 0 1 0 3.7 0a1.85 1.85 0 1 0-3.7 0zM620.3 290.4a1.85 1.85 0 1 0 3.7 0a1.85 1.85 0 1 0-3.7 0zM625.8 287.1a1.85 1.85 0 1 0 3.7 0a1.85 1.85 0 1 0-3.7 0zM631.4 284.2a1.85 1.85 0 1 0 3.7 0a1.85 1.85 0 1 0-3.7 0zM636.9 281.6a1.85 1.85 0 1 0 3.7 0a1.85 1.85 0 1 0-3.7 0zM642.5 279.3a1.85 1.85 0 1 0 3.7 0a1.85 1.85 0 1 0-3.7 0zM648 277.2a1.85 1.85 0 1 0 3.7 0a1.85 1.85 0 1 0-3.7 0zM653.6 275.3a1.85 1.85 0 1 0 3.7 0a1.85 1.85 0 1 0-3.7 0zM659.1 273.7a1.85 1.85 0 1 0 3.7 0a1.85 1.85 0 1 0-3.7 0zM664.7 272.4a1.85 1.85 0 1 0 3.7 0a1.85 1.85 0 1 0-3.7 0zM670.2 271.7a1.85 1.85 0 1 0 3.7 0a1.85 1.85 0 1 0-3.7 0zM675.7 271.3a1.85 1.85 0 1 0 3.7 0a1.85 1.85 0 1 0-3.7 0z"/>
<path fill="none" stroke="#00f" stroke-width="1" d="M400.2 397.1 401.6 397.1 403 397.1 404.4 397 405.7 397 407.1 396.9 408.5 396.9 409.9 396.8 411.3 396.7 412.7 396.7 414.1 396.6 415.5 396.5 416.8 396.4 418.2 396.3 419.6 396.2 421 396.2 422.4 396 423.8 395.9 425.2 395.8 426.6 395.7 427.9 395.5 429.3 395.4 430.7 395.2 432.1 395 433.5 394.8 434.9 394.6 436.3 394.4 437.6 394.2 439 394 440.4 393.8 441.8 393.6 443.2 393.3 444.6 393.1 446 392.8 447.4 392.5 448.7 392.1 450.1 391.8 451.5 391.4 452.9 391.1 454.3 390.7 455.7 390.3 457.1 390 458.5 389.6 459.8 389.1 461.2 388.7 462.6 388.2 464 387.7 465.4 387.2 466.8 386.7 468.2 386.2 469.5 385.7 470.9 385.2 472.3 384.6 473.7 384 475.1 383.4 476.5 382.7 477.9 382.1 479.3 381.5 480.6 380.8 482 380.1 483.4 379.5 484.8 378.9 486.2 378.2 487.6 377.6 489 376.9 490.4 376.3 491.7 375.6 493.1 374.9 494.5 374.2 495.9 373.6 497.3 372.8 498.7 372.1 500.1 371.4 501.5 370.7 502.8 370 504.2 369.2 505.6 368.5 507 367.8 508.4 367 509.8 366.3 511.2 365.5 512.5 364.7 513.9 363.9 515.3 363.1 516.7 362.4 518.1 361.6 519.5 360.7 520.9 359.9 522.3 359.1 523.6 358.3 525 357.4 526.4 356.6 527.8 355.7 529.2 354.9 530.6 354 532 353.2 533.4 352.3 534.7 351.5 536.1 350.6 537.5 349.8 538.9 348.9 540.3 348 541.7 347.1 543.1 346.1 544.4 345.2 545.8 344.2 547.2 343.2 548.6 342.2 550 341.2 551.4 340.2 552.8 339.2 554.2 338.2 555.5 337.2 556.9 336.2 558.3 335.2 559.7 334.2 561.1 333.2 562.5 332.2 563.9 331.2 565.3 330.2 566.6 329.1 568 328.1 569.4 327.1 570.8 326.1 572.2 325 573.6 324 575 322.9 576.3 321.8 577.7 320.8 579.1 319.7 580.5 318.7 581.9 317.6 583.3 316.5 584.7 315.4 586.1 314.3 587.4 313.2 588.8 312.1 590.2 311 591.6 309.9 593 308.8 594.4 307.7 595.8 306.7 597.2 305.6 598.5 304.5 599.9 303.4 601.3 302.4 602.7 301.3 604.1 300.3 605.5 299.3 606.9 298.4 608.2 297.4 609.6 296.5 611 295.6 612.4 294.7 613.8 293.8 615.2 292.9 616.6 292 618 291.2 619.3 290.3 620.7 289.5 622.1 288.7 623.5 287.9 624.9 287.1 626.3 286.4 627.7 285.6 629.1 285 630.4 284.3 631.8 283.6 633.2 283 634.6 282.4 636 281.8 637.4 281.2 638.8 280.6 640.2 280 641.5 279.5 642.9 279 644.3 278.4 645.7 277.9 647.1 277.5 648.5 277 649.9 276.6 651.2 276.1 652.6 275.7 654 275.3 655.4 274.9 656.8 274.5 658.2 274.1 659.6 273.8 661 273.5 662.3 273.1 663.7 272.8 665.1 272.5 666.5 272.3 667.9 272.1 669.3 271.9 670.7 271.7 672.1 271.6 673.4 271.5 674.8 271.4 676.2 271.3 677.6 271.3"/>
<path fill="#00f" d="M400.2 394.7l2.3 3.9h-4.6zM405.7 394.6l2.3 3.9h-4.6zM411.3 394.3l2.3 3.9h-4.6zM416.8 394l2.3 3.9h-4.6zM422.4 393.6l2.3 3.9h-4.6zM427.9 393.1l2.3 3.9h-4.6zM433.5 392.4l2.3 3.9h-4.6zM439 391.6l2.3 3.9h-4.6zM444.6 390.7l2.3 3.9h-4.6zM450.1 389.4l2.3 3.9h-4.6zM455.7 387.9l2.3 3.9h-4.6zM461.2 386.3l2.3 3.9h-4.6zM466.8 384.3l2.3 3.9h-4.6zM472.3 382.2l2.3 3.9h-4.6zM477.9 379.7l2.3 3.9h-4.6zM483.4 377.1l2.3 3.9h-4.6zM489 374.5l2.3 3.9h-4.6zM494.5 371.8l2.3 3.9h-4.6zM500.1 369l2.3 3.9h-4.6zM505.6 366.1l2.3 3.9h-4.6zM511.2 363.1l2.3 3.9h-4.6zM516.7 360l2.3 3.9h-4.6zM522.3 356.7l2.3 3.9h-4.6zM527.8 353.3l2.3 3.9h-4.6zM533.4 349.9l2.3 3.9h-4.6zM538.9 346.5l2.3 3.9h-4.6zM544.4 342.8l2.3 3.9h-4.6zM550 338.8l2.3 3.9h-4.6zM555.5 334.8l2.3 3.9h-4.6zM561.1 330.8l2.3 3.9h-4.6zM566.6 326.7l2.3 3.9h-4.6zM572.2 322.6l2.3 3.9h-4.6zM577.7 318.4l2.3 3.9h-4.6zM583.3 314.1l2.3 3.9h-4.6zM588.8 309.7l2.3 3.9h-4.6zM594.4 305.3l2.3 3.9h-4.6zM599.9 301l2.3 3.9h-4.6zM605.5 296.9l2.3 3.9h-4.6zM611 293.2l2.3 3.9h-4.6zM616.6 289.6l2.3 3.9h-4.6zM622.1 286.3l2.3 3.9h-4.6zM627.7 283.2l2.3 3.9h-4.6zM633.2 280.6l2.3 3.9h-4.6zM638.8 278.2l2.3 3.9h-4.6zM644.3 276l2.3 3.9h-4.6zM649.9 274.2l2.3 3.9h-4.6zM655.4 272.5l2.3 3.9h-4.6zM661 271.1l2.3 3.9h-4.6zM666.5 269.9l2.3 3.9h-4.6zM672.1 269.2l2.3 3.9h-4.6zM677.6 268.9l2.3 3.9h-4.6z"/>
<path fill="none" stroke="#008080" stroke-width="1" d="M400.2 416.9 401.6 416.9 403 416.8 404.4 416.8 405.7 416.7 407.1 416.6 408.5 416.5 409.9 416.5 411.3 416.3 412.7 416.2 414.1 416.1 415.5 416 416.8 415.8 418.2 415.7 419.6 415.6 421 415.4 422.4 415.3 423.8 415.1 425.2 414.9 426.6 414.7 427.9 414.4 429.3 414.2 430.7 414 432.1 413.7 433.5 413.4 434.9 413.1 436.3 412.8 437.6 412.5 439 412.2 440.4 411.8 441.8 411.4 443.2 411 444.6 410.6 446 410.1 447.4 409.6 448.7 409.1 450.1 408.6 451.5 408 452.9 407.4 454.3 406.8 455.7 406.3 457.1 405.6 458.5 405 459.8 404.3 461.2 403.6 462.6 402.9 464 402.2 465.4 401.4 466.8 400.6 468.2 399.8 469.5 399 470.9 398.2 472.3 397.3 473.7 396.4 475.1 395.5 476.5 394.5 477.9 393.6 479.3 392.6 480.6 391.6 482 390.6 483.4 389.6 484.8 388.7 486.2 387.7 487.6 386.7 489 385.7 490.4 384.7 491.7 383.7 493.1 382.7 494.5 381.7 495.9 380.7 497.3 379.7 498.7 378.7 500.1 377.6 501.5 376.6 502.8 375.6 504.2 374.6 505.6 373.6 507 372.6 508.4 371.6 509.8 370.6 511.2 369.5 512.5 368.5 513.9 367.5 515.3 366.4 516.7 365.4 518.1 364.3 519.5 363.3 520.9 362.2 522.3 361.1 523.6 360 525 358.9 526.4 357.9 527.8 356.8 529.2 355.7 530.6 354.6 532 353.5 533.4 352.5 534.7 351.4 536.1 350.3 537.5 349.3 538.9 348.2 540.3 347.1 541.7 346 543.1 344.9 544.4 343.8 545.8 342.6 547.2 341.5 548.6 340.3 550 339.2 551.4 338 552.8 336.9 554.2 335.8 555.5 334.7 556.9 333.6 558.3 332.5 559.7 331.4 561.1 330.3 562.5 329.2 563.9 328.1 565.3 327 566.6 326 568 324.9 569.4 323.8 570.8 322.8 572.2 321.7 573.6 320.6 575 319.5 576.3 318.4 577.7 317.4 579.1 316.3 580.5 315.3 581.9 314.3 583.3 313.2 584.7 312.2 586.1 311.1 587.4 310 588.8 308.9 590.2 307.9 591.6 306.9 593 305.8 594.4 304.8 595.8 303.8 597.2 302.7 598.5 301.7 599.9 300.7 601.3 299.7 602.7 298.8 604.1 297.8 605.5 296.9 606.9 296 608.2 295.1 609.6 294.2 611 293.3 612.4 292.5 613.8 291.6 615.2 290.8 616.6 289.9 618 289.1 619.3 288.3 620.7 287.5 622.1 286.8 623.5 286.1 624.9 285.4 626.3 284.7 627.7 284 629.1 283.4 630.4 282.8 631.8 282.2 633.2 281.6 634.6 281.1 636 280.5 637.4 280 638.8 279.5 640.2 279 641.5 278.5 642.9 278 644.3 277.5 645.7 277.1 647.1 276.7 648.5 276.3 649.9 275.9 651.2 275.5 652.6 275.1 654 274.7 655.4 274.3 656.8 274 658.2 273.7 659.6 273.4 661 273.2 662.3 272.9 663.7 272.6 665.1 272.4 666.5 272.1 667.9 272 669.3 271.8 670.7 271.7 672.1 271.6 673.4 271.5 674.8 271.4 676.2 271.3 677.6 271.3"/>
<path fill="#008080" d="M400.2 419.3l2.3-3.9h-4.6zM405.7 419.1l2.3-3.9h-4.6zM411.3 418.7l2.3-3.9h-4.6zM416.8 418.2l2.3-3.9h-4.6zM422.4 417.7l2.3-3.9h-4.6zM427.9 416.8l2.3-3.9h-4.6zM433.5 415.8l2.3-3.9h-4.6zM439 414.6l2.3-3.9h-4.6zM444.6 413l2.3-3.9h-4.6zM450.1 411l2.3-3.9h-4.6zM455.7 408.7l2.3-3.9h-4.6zM461.2 406l2.3-3.9h-4.6zM466.8 403l2.3-3.9h-4.6zM472.3 399.7l2.3-3.9h-4.6zM477.9 396l2.3-3.9h-4.6zM483.4 392l2.3-3.9h-4.6zM489 388.1l2.3-3.9h-4.6zM494.5 384.1l2.3-3.9h-4.6zM500.1 380l2.3-3.9h-4.6zM505.6 376l2.3-3.9h-4.6zM511.2 371.9l2.3-3.9h-4.6zM516.7 367.8l2.3-3.9h-4.6zM522.3 363.5l2.3-3.9h-4.6zM527.8 359.2l2.3-3.9h-4.6zM533.4 354.9l2.3-3.9h-4.6zM538.9 350.6l2.3-3.9h-4.6zM544.4 346.2l2.3-3.9h-4.6zM550 341.6l2.3-3.9h-4.6zM555.5 337.1l2.3-3.9h-4.6zM561.1 332.7l2.3-3.9h-4.6zM566.6 328.4l2.3-3.9h-4.6zM572.2 324.1l2.3-3.9h-4.6zM577.7 319.8l2.3-3.9h-4.6zM583.3 315.6l2.3-3.9h-4.6zM588.8 311.3l2.3-3.9h-4.6zM594.4 307.2l2.3-3.9h-4.6zM599.9 303.1l2.3-3.9h-4.6zM605.5 299.3l2.3-3.9h-4.6zM611 295.7l2.3-3.9h-4.6zM616.6 292.3l2.3-3.9h-4.6zM622.1 289.2l2.3-3.9h-4.6zM627.7 286.4l2.3-3.9h-4.6zM633.2 284l2.3-3.9h-4.6zM638.8 281.9l2.3-3.9h-4.6zM644.3 279.9l2.3-3.9h-4.6zM649.9 278.3l2.3-3.9h-4.6zM655.4 276.7l2.3-3.9h-4.6zM661 275.6l2.3-3.9h-4.6zM666.5 274.5l2.3-3.9h-4.6zM672.1 274l2.3-3.9h-4.6zM677.6 273.7l2.3-3.9h-4.6z"/>
<path fill="none" stroke="#f0f" stroke-width="1" d="M400.2 438.9 401.6 438.8 403 438.8 404.4 438.7 405.7 438.6 407.1 438.5 408.5 438.4 409.9 438.2 411.3 438.1 412.7 437.9 414.1 437.7 415.5 437.6 416.8 437.4 418.2 437.2 419.6 437 421 436.8 422.4 436.6 423.8 436.3 425.2 436 426.6 435.8 427.9 435.4 429.3 435.1 430.7 434.7 432.1 434.4 433.5 434 434.9 433.6 436.3 433.1 437.6 432.7 439 432.2 440.4 431.8 441.8 431.3 443.2 430.7 444.6 430.1 446 429.4 447.4 428.7 448.7 427.9 450.1 427.2 451.5 426.4 452.9 425.6 454.3 424.7 455.7 423.9 457.1 423 458.5 422.1 459.8 421.2 461.2 420.2 462.6 419.2 464 418.2 465.4 417.1 466.8 416 468.2 414.9 469.5 413.8 470.9 412.7 472.3 411.5 473.7 410.2 475.1 408.9 476.5 407.6 477.9 406.3 479.3 404.9 480.6 403.6 482 402.2 483.4 400.9 484.8 399.5 486.2 398.2 487.6 396.8 489 395.5 490.4 394.1 491.7 392.7 493.1 391.3 494.5 390 495.9 388.6 497.3 387.2 498.7 385.9 500.1 384.5 501.5 383.2 502.8 381.9 504.2 380.6 505.6 379.2 507 377.9 508.4 376.6 509.8 375.3 511.2 374 512.5 372.7 513.9 371.4 515.3 370.1 516.7 368.7 518.1 367.4 519.5 366.1 520.9 364.7 522.3 363.3 523.6 362 525 360.6 526.4 359.3 527.8 357.9 529.2 356.6 530.6 355.2 532 353.9 533.4 352.6 534.7 351.3 536.1 350 537.5 348.7 538.9 347.4 540.3 346.2 541.7 344.9 543.1 343.6 544.4 342.3 545.8 340.9 547.2 339.6 548.6 338.2 550 336.9 551.4 335.6 552.8 334.4 554.2 333.2 555.5 331.9 556.9 330.7 558.3 329.5 559.7 328.3 561.1 327.1 562.5 325.9 563.9 324.7 565.3 323.6 566.6 322.4 568 321.3 569.4 320.2 570.8 319.1 572.2 318 573.6 316.9 575 315.8 576.3 314.7 577.7 313.6 579.1 312.6 580.5 311.6 581.9 310.6 583.3 309.6 584.7 308.5 586.1 307.5 587.4 306.5 588.8 305.4 590.2 304.4 591.6 303.5 593 302.5 594.4 301.6 595.8 300.6 597.2 299.6 598.5 298.6 599.9 297.7 601.3 296.8 602.7 295.9 604.1 295 605.5 294.2 606.9 293.3 608.2 292.5 609.6 291.7 611 290.8 612.4 290 613.8 289.2 615.2 288.4 616.6 287.6 618 286.9 619.3 286.1 620.7 285.4 622.1 284.7 623.5 284 624.9 283.4 626.3 282.8 627.7 282.3 629.1 281.7 630.4 281.2 631.8 280.6 633.2 280.1 634.6 279.6 636 279.2 637.4 278.7 638.8 278.3 640.2 277.8 641.5 277.3 642.9 276.9 644.3 276.5 645.7 276.1 647.1 275.8 648.5 275.4 649.9 275.1 651.2 274.8 652.6 274.4 654 274.1 655.4 273.8 656.8 273.5 658.2 273.3 659.6 273.1 661 272.9 662.3 272.6 663.7 272.4 665.1 272.2 666.5 272 667.9 271.8 669.3 271.7 670.7 271.6 672.1 271.5 673.4 271.4 674.8 271.4 676.2 271.3 677.6 271.3"/>
<path fill="#f0f" d="M397.8 438.9l3.9-2.3v4.6zM403.3 438.6l3.9-2.3v4.6zM408.9 438.1l3.9-2.3v4.6zM414.4 437.4l3.9-2.3v4.6zM420 436.6l3.9-2.3v4.6zM425.5 435.4l3.9-2.3v4.6zM431.1 434l3.9-2.3v4.6zM436.6 432.2l3.9-2.3v4.6zM442.2 430.1l3.9-2.3v4.6zM447.7 427.2l3.9-2.3v4.6zM453.3 423.9l3.9-2.3v4.6zM458.8 420.2l3.9-2.3v4.6zM464.4 416l3.9-2.3v4.6zM469.9 411.5l3.9-2.3v4.6zM475.5 406.3l3.9-2.3v4.6zM481 400.9l3.9-2.3v4.6zM486.6 395.5l3.9-2.3v4.6zM492.1 390l3.9-2.3v4.6zM497.7 384.5l3.9-2.3v4.6zM503.2 379.2l3.9-2.3v4.6zM508.8 374l3.9-2.3v4.6zM514.3 368.7l3.9-2.3v4.6zM519.9 363.3l3.9-2.3v4.6zM525.4 357.9l3.9-2.3v4.6zM531 352.6l3.9-2.3v4.6zM536.5 347.4l3.9-2.3v4.6zM542 342.3l3.9-2.3v4.6zM547.6 336.9l3.9-2.3v4.6zM553.1 331.9l3.9-2.3v4.6zM558.7 327.1l3.9-2.3v4.6zM564.2 322.4l3.9-2.3v4.6zM569.8 318l3.9-2.3v4.6zM575.3 313.6l3.9-2.3v4.6zM580.9 309.6l3.9-2.3v4.6zM586.4 305.4l3.9-2.3v4.6zM592 301.6l3.9-2.3v4.6zM597.5 297.7l3.9-2.3v4.6zM603.1 294.2l3.9-2.3v4.6zM608.6 290.8l3.9-2.3v4.6zM614.2 287.6l3.9-2.3v4.6zM619.7 284.7l3.9-2.3v4.6zM625.3 282.3l3.9-2.3v4.6zM630.8 280.1l3.9-2.3v4.6zM636.4 278.3l3.9-2.3v4.6zM641.9 276.5l3.9-2.3v4.6zM647.5 275.1l3.9-2.3v4.6zM653 273.8l3.9-2.3v4.6zM658.6 272.9l3.9-2.3v4.6zM664.1 272l3.9-2.3v4.6zM669.7 271.5l3.9-2.3v4.6zM675.2 271.3l3.9-2.3v4.6z"/>
<rect x="397.5" y="251.5" width="283" height="207.5" fill="none" stroke="#484848" stroke-width="1"/>
<path fill="none" stroke="#484848" stroke-width="1" d="M398 271.3h2.5M398 298.1h2.5M398 324.8h2.5M398 351.6h2.5M398 378.4h2.5M398 405.1h2.5M398 431.9h2.5M398 458.7h2.5M398 284.7h1.5M398 311.5h1.5M398 338.2h1.5M398 365h1.5M398 391.8h1.5M398 418.5h1.5M398 445.3h1.5M398 257.9h1.5M400.2 458.5v-3M455.7 458.5v-3M511.2 458.5v-3M566.6 458.5v-3M622.1 458.5v-3M677.6 458.5v-3M427.9 458.5v-1.8M483.4 458.5v-1.8M538.9 458.5v-1.8M594.4 458.5v-1.8M649.9 458.5v-1.8"/>
<g font-size="8.6" fill="#000"><text x="395.6" y="274.4" text-anchor="end">0.0</text><text x="395.6" y="301.2" text-anchor="end">-0.1</text><text x="395.6" y="327.9" text-anchor="end">-0.2</text><text x="395.6" y="354.7" text-anchor="end">-0.3</text><text x="395.6" y="381.5" text-anchor="end">-0.4</text><text x="395.6" y="408.2" text-anchor="end">-0.5</text><text x="395.6" y="435" text-anchor="end">-0.6</text><text x="395.6" y="461.8" text-anchor="end">-0.7</text><text x="400.2" y="470.5" text-anchor="middle">0.0</text><text x="455.7" y="470.5" text-anchor="middle">0.2</text><text x="511.2" y="470.5" text-anchor="middle">0.4</text><text x="566.6" y="470.5" text-anchor="middle">0.6</text><text x="622.1" y="470.5" text-anchor="middle">0.8</text><text x="677.6" y="470.5" text-anchor="middle">1.0</text></g>
<text x="538" y="482.7" font-size="13" text-anchor="middle" fill="#000">y</text>
<text transform="translate(371.3 370.6) rotate(-90) scale(.89 1.12)" font-size="12" fill="#000">U<tspan font-size="7.5" dy="4.5">4</tspan></text>
<text x="640" y="368.8" font-size="10.3" fill="#000">T=0.42</text>
<text x="640" y="381.3" font-size="10.3" fill="#000"><tspan font-family="Liberation Serif" font-style="italic">&#949;</tspan>=1.6</text>
<rect x="589.5" y="385.5" width="88.5" height="66" fill="#fff" stroke="#555" stroke-width="0.8"/>
<path stroke="#000" stroke-width="1" d="M592 391.6h18.4"/>
<path fill="#000" d="M599.9 390.4h2.4v2.4h-2.4z"/>
<text x="612.9" y="394.4" font-size="8.2" fill="#000">q=0</text>
<text x="640.8" y="394.4" font-size="8.2" fill="#000">y<tspan font-size="5" dy="1.6">+</tspan><tspan dy="-1.6">=1.5433</tspan></text>
<path stroke="#f00" stroke-width="1" d="M592 404.6h18.4"/>
<path fill="#f00" d="M599.7 404.6a1.4 1.4 0 1 0 2.8 0a1.4 1.4 0 1 0-2.8 0z"/>
<text x="612.9" y="407.4" font-size="8.2" fill="#000">q=1.7068 y<tspan font-size="5" dy="1.6">+</tspan><tspan dy="-1.6">=1.75</tspan></text>
<path stroke="#00f" stroke-width="1" d="M592 417.6h18.4"/>
<path fill="#00f" d="M601.1 415.7l1.8 3h-3.6z"/>
<text x="612.9" y="420.4" font-size="8.2" fill="#000">q=2.2684 y<tspan font-size="5" dy="1.6">+</tspan><tspan dy="-1.6">=1.85</tspan></text>
<path stroke="#008080" stroke-width="1" d="M592 430.8h18.4"/>
<path fill="#008080" d="M601.1 432.7l1.8-3h-3.6z"/>
<text x="612.9" y="433.6" font-size="8.2" fill="#000">q=2.8363 y<tspan font-size="5" dy="1.6">+</tspan><tspan dy="-1.6">=1.95</tspan></text>
<path stroke="#f0f" stroke-width="1" d="M592 443.9h18.4"/>
<path fill="#f0f" d="M599.2 443.9l3-1.8v3.6z"/>
<text x="612.9" y="446.7" font-size="8.2" fill="#000">q=3.4229 y<tspan font-size="5" dy="1.6">+</tspan><tspan dy="-1.6">=2.05</tspan></text>
</svg></body></html>
